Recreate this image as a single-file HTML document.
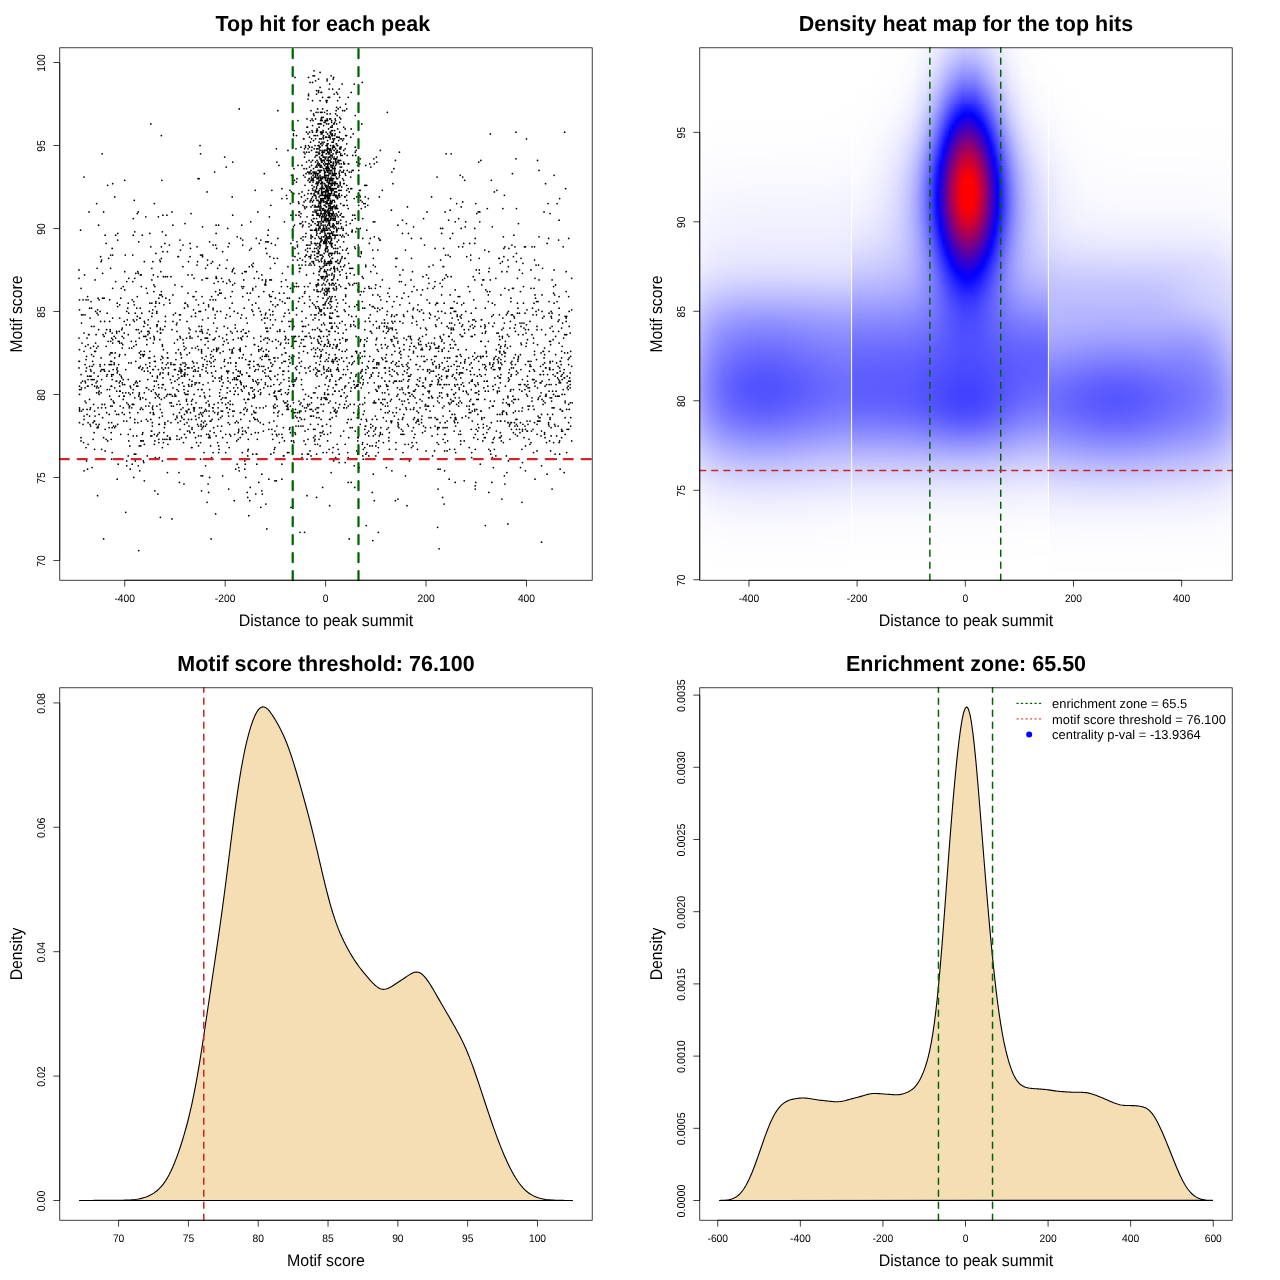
<!DOCTYPE html><html lang="en"><head><meta charset="utf-8"><title>Motif enrichment plots</title><style>html,body{margin:0;padding:0;background:#fff;width:1280px;height:1280px;overflow:hidden}#p{position:relative;width:1280px;height:1280px;overflow:hidden;background:#fff}.hm{position:absolute;overflow:hidden}.c{position:absolute;top:0;height:100%}.c i{display:block;height:2px}svg{position:absolute;left:0;top:0}text{font-family:'Liberation Sans', sans-serif;fill:#000;text-rendering:geometricPrecision}</style></head><body><div id="p"><div class="hm" style="left:699.76px;top:47.8px;width:532.44px;height:532.44px"><div class="c" style="left:0px;width:151.84px"><i></i><i></i><i></i><i></i><i></i><i></i><i></i><i></i><i></i><i></i><i></i><i></i><i></i><i></i><i></i><i></i><i></i><i></i><i></i><i></i><i></i><i></i><i></i><i></i><i></i><i style="background:linear-gradient(90deg,#fff,#fff,#fff,#fff,#fff,#fff,#fff,#fff,#fff,#fff,#fff,#fff,#fff,#fefeff)"></i><i style="background:linear-gradient(90deg,#fff,#fff,#fff,#fff,#fff,#fff,#fff,#fff,#fff,#fff,#fff,#fff,#fff,#fefeff)"></i><i style="background:linear-gradient(90deg,#fff,#fff,#fff,#fff,#fff,#fff,#fff,#fff,#fff,#fff,#fff,#fff,#fff,#fefeff)"></i><i style="background:linear-gradient(90deg,#fff,#fff,#fff,#fff,#fff,#fff,#fff,#fff,#fff,#fff,#fff,#fff,#fff,#fefeff)"></i><i style="background:linear-gradient(90deg,#fff,#fff,#fff,#fff,#fff,#fff,#fff,#fff,#fff,#fff,#fff,#fff,#fff,#fefeff)"></i><i style="background:linear-gradient(90deg,#fff,#fff,#fff,#fff,#fff,#fff,#fff,#fff,#fff,#fff,#fff,#fff,#fefeff,#fefeff)"></i><i style="background:linear-gradient(90deg,#fff,#fff,#fff,#fff,#fff,#fff,#fff,#fff,#fff,#fff,#fff,#fff,#fefeff,#fefeff)"></i><i style="background:linear-gradient(90deg,#fff,#fff,#fff,#fff,#fff,#fff,#fff,#fff,#fff,#fff,#fff,#fff,#fefeff,#fefeff)"></i><i style="background:linear-gradient(90deg,#fff,#fff,#fff,#fff,#fff,#fff,#fff,#fff,#fff,#fff,#fff,#fefeff,#fefeff,#fefeff)"></i><i style="background:linear-gradient(90deg,#fff,#fff,#fff,#fff,#fff,#fff,#fff,#fff,#fff,#fff,#fff,#fefeff,#fefeff,#fefeff)"></i><i style="background:linear-gradient(90deg,#fff,#fff,#fff,#fff,#fff,#fff,#fff,#fff,#fff,#fefeff,#fefeff,#fefeff,#fefeff,#fefeff)"></i><i style="background:linear-gradient(90deg,#fff,#fff,#fff,#fefeff,#fefeff,#fefeff,#fefeff,#fefeff,#fefeff,#fefeff,#fefeff,#fefeff,#fefeff,#fefeff)"></i><i style="background:linear-gradient(90deg,#fff,#fff,#fefeff,#fefeff,#fefeff,#fefeff,#fefeff,#fefeff,#fefeff,#fefeff,#fefeff,#fefeff,#fefeff,#fefeff)"></i><i style="background:linear-gradient(90deg,#fff,#fefeff,#fefeff,#fefeff,#fefeff,#fefeff,#fefeff,#fefeff,#fefeff,#fefeff,#fefeff,#fefeff,#fefeff,#fdfdff)"></i><i style="background:linear-gradient(90deg,#fff,#fefeff,#fefeff,#fefeff,#fefeff,#fefeff,#fefeff,#fefeff,#fefeff,#fefeff,#fefeff,#fefeff,#fefeff,#fdfdff)"></i><i style="background:linear-gradient(90deg,#fefeff,#fefeff,#fefeff,#fefeff,#fefeff,#fefeff,#fefeff,#fefeff,#fefeff,#fefeff,#fefeff,#fefeff,#fefeff,#fdfdff)"></i><i style="background:linear-gradient(90deg,#fefeff,#fefeff,#fefeff,#fefeff,#fefeff,#fefeff,#fefeff,#fefeff,#fefeff,#fefeff,#fefeff,#fefeff,#fefeff,#fdfdff)"></i><i style="background:linear-gradient(90deg,#fefeff,#fefeff,#fefeff,#fefeff,#fefeff,#fefeff,#fefeff,#fefeff,#fefeff,#fefeff,#fefeff,#fefeff,#fefeff,#fdfdff)"></i><i style="background:linear-gradient(90deg,#fefeff,#fefeff,#fefeff,#fefeff,#fefeff,#fefeff,#fefeff,#fefeff,#fefeff,#fefeff,#fefeff,#fefeff,#fdfdff,#fdfdff)"></i><i style="background:linear-gradient(90deg,#fefeff,#fefeff,#fefeff,#fefeff,#fefeff,#fefeff,#fefeff,#fefeff,#fefeff,#fefeff,#fefeff,#fefeff,#fdfdff,#fdfdff)"></i><i style="background:linear-gradient(90deg,#fefeff,#fefeff,#fefeff,#fefeff,#fefeff,#fefeff,#fefeff,#fefeff,#fefeff,#fefeff,#fefeff,#fdfdff,#fdfdff,#fcfcff)"></i><i style="background:linear-gradient(90deg,#fefeff,#fefeff,#fefeff,#fefeff,#fefeff,#fefeff,#fefeff,#fefeff,#fefeff,#fefeff,#fdfdff,#fdfdff,#fdfdff,#fcfcff)"></i><i style="background:linear-gradient(90deg,#fefeff,#fefeff,#fefeff,#fefeff,#fdfdff,#fdfdff,#fdfdff,#fdfdff,#fdfdff,#fdfdff,#fdfdff,#fdfdff,#fdfdff,#fcfcff)"></i><i style="background:linear-gradient(90deg,#fefeff,#fefeff,#fdfdff,#fdfdff,#fdfdff,#fdfdff,#fdfdff,#fdfdff,#fdfdff,#fdfdff,#fdfdff,#fdfdff,#fdfdff,#fcfcff)"></i><i style="background:linear-gradient(90deg,#fefeff,#fefeff,#fdfdff,#fdfdff,#fdfdff,#fdfdff,#fdfdff,#fdfdff,#fdfdff,#fdfdff,#fdfdff,#fdfdff,#fcfcff,#fcfcff)"></i><i style="background:linear-gradient(90deg,#fefeff,#fdfdff,#fdfdff,#fdfdff,#fdfdff,#fdfdff,#fdfdff,#fdfdff,#fdfdff,#fdfdff,#fdfdff,#fdfdff,#fcfcff,#fbfbff)"></i><i style="background:linear-gradient(90deg,#fefeff,#fdfdff,#fdfdff,#fdfdff,#fdfdff,#fdfdff,#fdfdff,#fdfdff,#fdfdff,#fdfdff,#fdfdff,#fdfdff,#fcfcff,#fbfbff)"></i><i style="background:linear-gradient(90deg,#fefeff,#fdfdff,#fdfdff,#fdfdff,#fdfdff,#fdfdff,#fdfdff,#fdfdff,#fdfdff,#fdfdff,#fdfdff,#fcfcff,#fcfcff,#fbfbff)"></i><i style="background:linear-gradient(90deg,#fdfdff,#fdfdff,#fdfdff,#fdfdff,#fdfdff,#fdfdff,#fdfdff,#fcfcff,#fcfcff,#fcfcff,#fcfcff,#fcfcff,#fcfcff,#fbfbff)"></i><i style="background:linear-gradient(90deg,#fdfdff,#fdfdff,#fdfdff,#fcfcff,#fcfcff,#fcfcff,#fcfcff,#fcfcff,#fcfcff,#fcfcff,#fcfcff,#fcfcff,#fbfbff,#fafaff)"></i><i style="background:linear-gradient(90deg,#fdfdff,#fdfdff,#fcfcff,#fcfcff,#fcfcff,#fcfcff,#fcfcff,#fcfcff,#fcfcff,#fcfcff,#fcfcff,#fcfcff,#fbfbff,#fafaff)"></i><i style="background:linear-gradient(90deg,#fdfdff,#fcfcff,#fcfcff,#fcfcff,#fcfcff,#fcfcff,#fcfcff,#fcfcff,#fcfcff,#fcfcff,#fcfcff,#fcfcff,#fbfbff,#fafaff)"></i><i style="background:linear-gradient(90deg,#fdfdff,#fcfcff,#fcfcff,#fcfcff,#fcfcff,#fcfcff,#fcfcff,#fcfcff,#fcfcff,#fcfcff,#fcfcff,#fbfbff,#fbfbff,#fafaff)"></i><i style="background:linear-gradient(90deg,#fdfdff,#fcfcff,#fcfcff,#fcfcff,#fbfbff,#fbfbff,#fbfbff,#fbfbff,#fbfbff,#fbfbff,#fbfbff,#fbfbff,#fafaff,#f9f9ff)"></i><i style="background:linear-gradient(90deg,#fdfdff,#fcfcff,#fbfbff,#fbfbff,#fbfbff,#fbfbff,#fbfbff,#fbfbff,#fbfbff,#fbfbff,#fbfbff,#fbfbff,#fafaff,#f9f9ff)"></i><i style="background:linear-gradient(90deg,#fcfcff,#fcfcff,#fbfbff,#fbfbff,#fbfbff,#fbfbff,#fbfbff,#fbfbff,#fbfbff,#fbfbff,#fbfbff,#fafaff,#fafaff,#f9f9ff)"></i><i style="background:linear-gradient(90deg,#fcfcff,#fbfbff,#fbfbff,#fbfbff,#fbfbff,#fbfbff,#fbfbff,#fbfbff,#fbfbff,#fbfbff,#fafaff,#fafaff,#fafaff,#f8f8ff)"></i><i style="background:linear-gradient(90deg,#fcfcff,#fbfbff,#fbfbff,#fbfbff,#fafaff,#fafaff,#fafaff,#fafaff,#fafaff,#fafaff,#fafaff,#fafaff,#f9f9ff,#f8f8ff)"></i><i style="background:linear-gradient(90deg,#fcfcff,#fbfbff,#fafaff,#fafaff,#fafaff,#fafaff,#fafaff,#fafaff,#fafaff,#fafaff,#fafaff,#fafaff,#f9f9ff,#f8f8ff)"></i><i style="background:linear-gradient(90deg,#fcfcff,#fbfbff,#fafaff,#fafaff,#fafaff,#fafaff,#fafaff,#fafaff,#fafaff,#fafaff,#fafaff,#f9f9ff,#f9f9ff,#f7f7ff)"></i><i style="background:linear-gradient(90deg,#fbfbff,#fafaff,#fafaff,#fafaff,#fafaff,#f9f9ff,#f9f9ff,#f9f9ff,#f9f9ff,#f9f9ff,#f9f9ff,#f9f9ff,#f8f8ff,#f7f7ff)"></i><i style="background:linear-gradient(90deg,#fbfbff,#fafaff,#fafaff,#f9f9ff,#f9f9ff,#f9f9ff,#f9f9ff,#f9f9ff,#f9f9ff,#f9f9ff,#f9f9ff,#f9f9ff,#f8f8ff,#f7f7ff)"></i><i style="background:linear-gradient(90deg,#fbfbff,#fafaff,#f9f9ff,#f9f9ff,#f9f9ff,#f9f9ff,#f9f9ff,#f9f9ff,#f9f9ff,#f9f9ff,#f9f9ff,#f8f8ff,#f8f8ff,#f6f6ff)"></i><i style="background:linear-gradient(90deg,#fbfbff,#fafaff,#f9f9ff,#f9f9ff,#f9f9ff,#f8f8ff,#f8f8ff,#f8f8ff,#f8f8ff,#f8f8ff,#f8f8ff,#f8f8ff,#f7f7ff,#f6f6ff)"></i><i style="background:linear-gradient(90deg,#fbfbff,#f9f9ff,#f9f9ff,#f8f8ff,#f8f8ff,#f8f8ff,#f8f8ff,#f8f8ff,#f8f8ff,#f8f8ff,#f8f8ff,#f8f8ff,#f7f7ff,#f5f5ff)"></i><i style="background:linear-gradient(90deg,#fafaff,#f9f9ff,#f8f8ff,#f8f8ff,#f8f8ff,#f8f8ff,#f8f8ff,#f8f8ff,#f8f8ff,#f8f8ff,#f8f8ff,#f7f7ff,#f7f7ff,#f5f5ff)"></i><i style="background:linear-gradient(90deg,#fafaff,#f9f9ff,#f8f8ff,#f8f8ff,#f7f7ff,#f7f7ff,#f7f7ff,#f7f7ff,#f7f7ff,#f7f7ff,#f7f7ff,#f7f7ff,#f6f6ff,#f5f5ff)"></i><i style="background:linear-gradient(90deg,#fafaff,#f8f8ff,#f8f8ff,#f7f7ff,#f7f7ff,#f7f7ff,#f7f7ff,#f7f7ff,#f7f7ff,#f7f7ff,#f7f7ff,#f6f6ff,#f6f6ff,#f4f4ff)"></i><i style="background:linear-gradient(90deg,#fafaff,#f8f8ff,#f7f7ff,#f7f7ff,#f7f7ff,#f7f7ff,#f7f7ff,#f7f7ff,#f7f7ff,#f7f7ff,#f6f6ff,#f6f6ff,#f5f5ff,#f4f4ff)"></i><i style="background:linear-gradient(90deg,#f9f9ff,#f8f8ff,#f7f7ff,#f7f7ff,#f6f6ff,#f6f6ff,#f6f6ff,#f6f6ff,#f6f6ff,#f6f6ff,#f6f6ff,#f6f6ff,#f5f5ff,#f4f4ff)"></i><i style="background:linear-gradient(90deg,#f9f9ff,#f8f8ff,#f7f7ff,#f6f6ff,#f6f6ff,#f6f6ff,#f6f6ff,#f6f6ff,#f6f6ff,#f6f6ff,#f6f6ff,#f5f5ff,#f5f5ff,#f3f3ff)"></i><i style="background:linear-gradient(90deg,#f9f9ff,#f7f7ff,#f6f6ff,#f6f6ff,#f6f6ff,#f6f6ff,#f5f5ff,#f5f5ff,#f5f5ff,#f5f5ff,#f5f5ff,#f5f5ff,#f4f4ff,#f3f3ff)"></i><i style="background:linear-gradient(90deg,#f9f9ff,#f7f7ff,#f6f6ff,#f5f5ff,#f5f5ff,#f5f5ff,#f5f5ff,#f5f5ff,#f5f5ff,#f5f5ff,#f5f5ff,#f5f5ff,#f4f4ff,#f2f2ff)"></i><i style="background:linear-gradient(90deg,#f8f8ff,#f7f7ff,#f6f6ff,#f5f5ff,#f5f5ff,#f5f5ff,#f5f5ff,#f5f5ff,#f5f5ff,#f5f5ff,#f4f4ff,#f4f4ff,#f3f3ff,#f2f2ff)"></i><i style="background:linear-gradient(90deg,#f8f8ff,#f6f6ff,#f5f5ff,#f5f5ff,#f4f4ff,#f4f4ff,#f4f4ff,#f4f4ff,#f4f4ff,#f4f4ff,#f4f4ff,#f4f4ff,#f3f3ff,#f2f2ff)"></i><i style="background:linear-gradient(90deg,#f8f8ff,#f6f6ff,#f5f5ff,#f4f4ff,#f4f4ff,#f4f4ff,#f4f4ff,#f4f4ff,#f4f4ff,#f4f4ff,#f4f4ff,#f3f3ff,#f3f3ff,#f1f1ff)"></i><i style="background:linear-gradient(90deg,#f8f8ff,#f6f6ff,#f4f4ff,#f4f4ff,#f4f4ff,#f4f4ff,#f3f3ff,#f3f3ff,#f3f3ff,#f3f3ff,#f3f3ff,#f3f3ff,#f2f2ff,#f1f1ff)"></i><i style="background:linear-gradient(90deg,#f7f7ff,#f5f5ff,#f4f4ff,#f3f3ff,#f3f3ff,#f3f3ff,#f3f3ff,#f3f3ff,#f3f3ff,#f3f3ff,#f3f3ff,#f3f3ff,#f2f2ff,#f0f0ff)"></i><i style="background:linear-gradient(90deg,#f7f7ff,#f5f5ff,#f4f4ff,#f3f3ff,#f3f3ff,#f3f3ff,#f3f3ff,#f3f3ff,#f3f3ff,#f3f3ff,#f3f3ff,#f2f2ff,#f2f2ff,#f0f0ff)"></i><i style="background:linear-gradient(90deg,#f7f7ff,#f5f5ff,#f3f3ff,#f3f3ff,#f2f2ff,#f2f2ff,#f2f2ff,#f2f2ff,#f2f2ff,#f2f2ff,#f2f2ff,#f2f2ff,#f1f1ff,#f0f0ff)"></i><i style="background:linear-gradient(90deg,#f7f7ff,#f4f4ff,#f3f3ff,#f2f2ff,#f2f2ff,#f2f2ff,#f2f2ff,#f2f2ff,#f2f2ff,#f2f2ff,#f2f2ff,#f1f1ff,#f1f1ff,#efefff)"></i><i style="background:linear-gradient(90deg,#f6f6ff,#f4f4ff,#f3f3ff,#f2f2ff,#f2f2ff,#f2f2ff,#f1f1ff,#f1f1ff,#f1f1ff,#f1f1ff,#f1f1ff,#f1f1ff,#f0f0ff,#efefff)"></i><i style="background:linear-gradient(90deg,#f6f6ff,#f4f4ff,#f2f2ff,#f2f2ff,#f1f1ff,#f1f1ff,#f1f1ff,#f1f1ff,#f1f1ff,#f1f1ff,#f1f1ff,#f1f1ff,#f0f0ff,#efefff)"></i><i style="background:linear-gradient(90deg,#f6f6ff,#f3f3ff,#f2f2ff,#f1f1ff,#f1f1ff,#f1f1ff,#f1f1ff,#f1f1ff,#f1f1ff,#f1f1ff,#f1f1ff,#f0f0ff,#f0f0ff,#eef)"></i><i style="background:linear-gradient(90deg,#f6f6ff,#f3f3ff,#f1f1ff,#f1f1ff,#f0f0ff,#f0f0ff,#f0f0ff,#f0f0ff,#f0f0ff,#f0f0ff,#f0f0ff,#f0f0ff,#efefff,#eef)"></i><i style="background:linear-gradient(90deg,#f5f5ff,#f3f3ff,#f1f1ff,#f0f0ff,#f0f0ff,#f0f0ff,#f0f0ff,#f0f0ff,#f0f0ff,#f0f0ff,#f0f0ff,#efefff,#efefff,#eef)"></i><i style="background:linear-gradient(90deg,#f5f5ff,#f2f2ff,#f1f1ff,#f0f0ff,#f0f0ff,#efefff,#efefff,#efefff,#efefff,#efefff,#efefff,#efefff,#eef,#ededff)"></i><i style="background:linear-gradient(90deg,#f5f5ff,#f2f2ff,#f0f0ff,#f0f0ff,#efefff,#efefff,#efefff,#efefff,#efefff,#efefff,#efefff,#efefff,#eef,#ededff)"></i><i style="background:linear-gradient(90deg,#f4f4ff,#f2f2ff,#f0f0ff,#efefff,#efefff,#efefff,#eef,#eef,#eef,#efefff,#eef,#eef,#eef,#ededff)"></i><i style="background:linear-gradient(90deg,#f4f4ff,#f1f1ff,#efefff,#efefff,#eef,#eef,#eef,#eef,#eef,#eef,#eef,#eef,#ededff,#ececff)"></i><i style="background:linear-gradient(90deg,#f4f4ff,#f1f1ff,#efefff,#eef,#eef,#eef,#eef,#eef,#eef,#eef,#eef,#ededff,#ededff,#ececff)"></i><i style="background:linear-gradient(90deg,#f4f4ff,#f0f0ff,#efefff,#eef,#ededff,#ededff,#ededff,#ededff,#ededff,#ededff,#ededff,#ededff,#ececff,#ebebff)"></i><i style="background:linear-gradient(90deg,#f3f3ff,#f0f0ff,#eef,#ededff,#ededff,#ececff,#ececff,#ececff,#ececff,#ededff,#ececff,#ececff,#ececff,#ebebff)"></i><i style="background:linear-gradient(90deg,#f3f3ff,#efefff,#eef,#ededff,#ececff,#ececff,#ececff,#ececff,#ececff,#ececff,#ececff,#ececff,#ebebff,#eaeaff)"></i><i style="background:linear-gradient(90deg,#f2f2ff,#efefff,#ededff,#ececff,#ebebff,#ebebff,#ebebff,#ebebff,#ebebff,#ebebff,#ebebff,#ebebff,#ebebff,#eaeaff)"></i><i style="background:linear-gradient(90deg,#f2f2ff,#eef,#ececff,#ebebff,#ebebff,#ebebff,#eaeaff,#ebebff,#ebebff,#ebebff,#ebebff,#ebebff,#eaeaff,#e9e9ff)"></i><i style="background:linear-gradient(90deg,#f2f2ff,#eef,#ececff,#ebebff,#eaeaff,#eaeaff,#eaeaff,#eaeaff,#eaeaff,#eaeaff,#eaeaff,#eaeaff,#e9e9ff,#e9e9ff)"></i><i style="background:linear-gradient(90deg,#f1f1ff,#ededff,#ebebff,#eaeaff,#e9e9ff,#e9e9ff,#e9e9ff,#e9e9ff,#e9e9ff,#e9e9ff,#e9e9ff,#e9e9ff,#e9e9ff,#e8e8ff)"></i><i style="background:linear-gradient(90deg,#f0f0ff,#ededff,#eaeaff,#e9e9ff,#e8e8ff,#e8e8ff,#e8e8ff,#e8e8ff,#e8e8ff,#e8e8ff,#e8e8ff,#e8e8ff,#e8e8ff,#e7e7ff)"></i><i style="background:linear-gradient(90deg,#f0f0ff,#ececff,#e9e9ff,#e8e8ff,#e7e7ff,#e7e7ff,#e7e7ff,#e7e7ff,#e7e7ff,#e7e7ff,#e7e7ff,#e7e7ff,#e7e7ff,#e6e6ff)"></i><i style="background:linear-gradient(90deg,#efefff,#ebebff,#e8e8ff,#e7e7ff,#e6e6ff,#e6e6ff,#e6e6ff,#e6e6ff,#e6e6ff,#e6e6ff,#e6e6ff,#e6e6ff,#e6e6ff,#e5e5ff)"></i><i style="background:linear-gradient(90deg,#efefff,#eaeaff,#e7e7ff,#e6e6ff,#e5e5ff,#e5e5ff,#e5e5ff,#e5e5ff,#e5e5ff,#e5e5ff,#e5e5ff,#e5e5ff,#e5e5ff,#e4e4ff)"></i><i style="background:linear-gradient(90deg,#eef,#e9e9ff,#e6e6ff,#e5e5ff,#e4e4ff,#e4e4ff,#e4e4ff,#e4e4ff,#e4e4ff,#e4e4ff,#e4e4ff,#e4e4ff,#e4e4ff,#e3e3ff)"></i><i style="background:linear-gradient(90deg,#ededff,#e8e8ff,#e5e5ff,#e3e3ff,#e3e3ff,#e2e2ff,#e2e2ff,#e2e2ff,#e2e2ff,#e3e3ff,#e3e3ff,#e3e3ff,#e3e3ff,#e2e2ff)"></i><i style="background:linear-gradient(90deg,#ececff,#e7e7ff,#e4e4ff,#e2e2ff,#e1e1ff,#e1e1ff,#e1e1ff,#e1e1ff,#e1e1ff,#e1e1ff,#e1e1ff,#e2e2ff,#e1e1ff,#e1e1ff)"></i><i style="background:linear-gradient(90deg,#ebebff,#e6e6ff,#e2e2ff,#e0e0ff,#e0e0ff,#dfdfff,#dfdfff,#dfdfff,#dfdfff,#e0e0ff,#e0e0ff,#e0e0ff,#e0e0ff,#dfdfff)"></i><i style="background:linear-gradient(90deg,#eaeaff,#e4e4ff,#e1e1ff,#dfdfff,#dedeff,#ddf,#ddf,#dedeff,#dedeff,#dedeff,#dedeff,#dedeff,#dedeff,#dedeff)"></i><i style="background:linear-gradient(90deg,#e9e9ff,#e3e3ff,#dfdfff,#ddf,#dcdcff,#dcdcff,#dcdcff,#dcdcff,#dcdcff,#dcdcff,#ddf,#ddf,#ddf,#dcdcff)"></i><i style="background:linear-gradient(90deg,#e8e8ff,#e1e1ff,#ddf,#dbdbff,#dadaff,#dadaff,#dadaff,#dadaff,#dadaff,#dadaff,#dbdbff,#dbdbff,#dbdbff,#dadaff)"></i><i style="background:linear-gradient(90deg,#e6e6ff,#e0e0ff,#dbdbff,#d9d9ff,#d8d8ff,#d8d8ff,#d7d7ff,#d8d8ff,#d8d8ff,#d8d8ff,#d9d9ff,#d9d9ff,#d9d9ff,#d9d9ff)"></i><i style="background:linear-gradient(90deg,#e5e5ff,#dedeff,#d9d9ff,#d7d7ff,#d6d6ff,#d5d5ff,#d5d5ff,#d5d5ff,#d6d6ff,#d6d6ff,#d6d6ff,#d7d7ff,#d7d7ff,#d7d7ff)"></i><i style="background:linear-gradient(90deg,#e4e4ff,#dcdcff,#d7d7ff,#d5d5ff,#d3d3ff,#d3d3ff,#d3d3ff,#d3d3ff,#d3d3ff,#d4d4ff,#d4d4ff,#d5d5ff,#d5d5ff,#d4d4ff)"></i><i style="background:linear-gradient(90deg,#e2e2ff,#dadaff,#d5d5ff,#d2d2ff,#d1d1ff,#d0d0ff,#d0d0ff,#d0d0ff,#d1d1ff,#d1d1ff,#d2d2ff,#d2d2ff,#d2d2ff,#d2d2ff)"></i><i style="background:linear-gradient(90deg,#e0e0ff,#d8d8ff,#d3d3ff,#d0d0ff,#ceceff,#ceceff,#ceceff,#ceceff,#ceceff,#cfcfff,#cfcfff,#d0d0ff,#d0d0ff,#d0d0ff)"></i><i style="background:linear-gradient(90deg,#dfdfff,#d6d6ff,#d0d0ff,#cdcdff,#ccf,#cbcbff,#cbcbff,#cbcbff,#ccf,#ccf,#cdcdff,#cdcdff,#cdcdff,#cdcdff)"></i><i style="background:linear-gradient(90deg,#ddf,#d4d4ff,#ceceff,#cacaff,#c9c9ff,#c8c8ff,#c8c8ff,#c8c8ff,#c9c9ff,#c9c9ff,#cacaff,#cacaff,#cbcbff,#cbcbff)"></i><i style="background:linear-gradient(90deg,#dbdbff,#d1d1ff,#cbcbff,#c8c8ff,#c6c6ff,#c5c5ff,#c5c5ff,#c5c5ff,#c6c6ff,#c6c6ff,#c7c7ff,#c8c8ff,#c8c8ff,#c8c8ff)"></i><i style="background:linear-gradient(90deg,#d9d9ff,#cfcfff,#c8c8ff,#c5c5ff,#c3c3ff,#c2c2ff,#c2c2ff,#c2c2ff,#c3c3ff,#c3c3ff,#c4c4ff,#c5c5ff,#c5c5ff,#c5c5ff)"></i><i style="background:linear-gradient(90deg,#d8d8ff,#ccf,#c5c5ff,#c2c2ff,#c0c0ff,#bfbfff,#bfbfff,#bfbfff,#c0c0ff,#c0c0ff,#c1c1ff,#c2c2ff,#c2c2ff,#c2c2ff)"></i><i style="background:linear-gradient(90deg,#d6d6ff,#cacaff,#c3c3ff,#bebeff,#bcbcff,#bbf,#bbf,#bcbcff,#bcbcff,#bdbdff,#bebeff,#bfbfff,#bfbfff,#c0c0ff)"></i><i style="background:linear-gradient(90deg,#d4d4ff,#c7c7ff,#c0c0ff,#bbf,#b9b9ff,#b8b8ff,#b8b8ff,#b8b8ff,#b9b9ff,#babaff,#bbf,#bcbcff,#bcbcff,#bdbdff)"></i><i style="background:linear-gradient(90deg,#d2d2ff,#c5c5ff,#bdbdff,#b8b8ff,#b6b6ff,#b5b5ff,#b5b5ff,#b5b5ff,#b6b6ff,#b7b7ff,#b8b8ff,#b9b9ff,#b9b9ff,#babaff)"></i><i style="background:linear-gradient(90deg,#d0d0ff,#c2c2ff,#babaff,#b5b5ff,#b2b2ff,#b1b1ff,#b1b1ff,#b2b2ff,#b3b3ff,#b4b4ff,#b5b5ff,#b6b6ff,#b6b6ff,#b7b7ff)"></i><i style="background:linear-gradient(90deg,#ceceff,#c0c0ff,#b7b7ff,#b2b2ff,#afafff,#aeaeff,#aeaeff,#aeaeff,#afafff,#b1b1ff,#b2b2ff,#b3b3ff,#b3b3ff,#b4b4ff)"></i><i style="background:linear-gradient(90deg,#ccf,#bdbdff,#b4b4ff,#afafff,#acacff,#aaf,#aaf,#ababff,#acacff,#adadff,#afafff,#b0b0ff,#b0b0ff,#b1b1ff)"></i><i style="background:linear-gradient(90deg,#cacaff,#babaff,#b1b1ff,#ababff,#a8a8ff,#a7a7ff,#a7a7ff,#a8a8ff,#a9a9ff,#aaf,#acacff,#adadff,#adadff,#aeaeff)"></i><i style="background:linear-gradient(90deg,#c8c8ff,#b8b8ff,#aeaeff,#a8a8ff,#a5a5ff,#a4a4ff,#a3a3ff,#a4a4ff,#a5a5ff,#a7a7ff,#a8a8ff,#aaf,#ababff,#ababff)"></i><i style="background:linear-gradient(90deg,#c6c6ff,#b5b5ff,#ababff,#a5a5ff,#a2a2ff,#a0a0ff,#a0a0ff,#a1a1ff,#a2a2ff,#a4a4ff,#a5a5ff,#a7a7ff,#a8a8ff,#a8a8ff)"></i><i style="background:linear-gradient(90deg,#c4c4ff,#b3b3ff,#a8a8ff,#a2a2ff,#9f9fff,#9d9dff,#9d9dff,#9e9eff,#9f9fff,#a1a1ff,#a2a2ff,#a4a4ff,#a5a5ff,#a5a5ff)"></i><i style="background:linear-gradient(90deg,#c2c2ff,#b1b1ff,#a5a5ff,#9f9fff,#9b9bff,#9a9aff,#99f,#9a9aff,#9c9cff,#9e9eff,#a0a0ff,#a1a1ff,#a2a2ff,#a3a3ff)"></i><i style="background:linear-gradient(90deg,#c0c0ff,#aeaeff,#a3a3ff,#9c9cff,#9898ff,#9696ff,#9696ff,#9797ff,#99f,#9b9bff,#9d9dff,#9e9eff,#9f9fff,#a0a0ff)"></i><i style="background:linear-gradient(90deg,#bfbfff,#acacff,#a0a0ff,#99f,#9595ff,#9393ff,#9393ff,#9494ff,#9696ff,#9898ff,#9a9aff,#9c9cff,#9d9dff,#9e9eff)"></i><i style="background:linear-gradient(90deg,#bdbdff,#aaf,#9d9dff,#9696ff,#9292ff,#9090ff,#9090ff,#9191ff,#9393ff,#9595ff,#9797ff,#99f,#9a9aff,#9b9bff)"></i><i style="background:linear-gradient(90deg,#bbf,#a7a7ff,#9b9bff,#9393ff,#8f8fff,#8d8dff,#8d8dff,#8e8eff,#9090ff,#9292ff,#9595ff,#9696ff,#9898ff,#99f)"></i><i style="background:linear-gradient(90deg,#babaff,#a5a5ff,#9898ff,#9191ff,#8c8cff,#8a8aff,#8a8aff,#8b8bff,#8d8dff,#9090ff,#9292ff,#9494ff,#9696ff,#9696ff)"></i><i style="background:linear-gradient(90deg,#b8b8ff,#a3a3ff,#9696ff,#8e8eff,#8a8aff,#8787ff,#8787ff,#88f,#8b8bff,#8d8dff,#9090ff,#9292ff,#9393ff,#9494ff)"></i><i style="background:linear-gradient(90deg,#b7b7ff,#a1a1ff,#9494ff,#8b8bff,#8787ff,#8585ff,#8484ff,#8686ff,#88f,#8b8bff,#8d8dff,#9090ff,#9191ff,#9292ff)"></i><i style="background:linear-gradient(90deg,#b5b5ff,#a0a0ff,#9191ff,#8989ff,#8484ff,#8282ff,#8282ff,#8383ff,#8585ff,#88f,#8b8bff,#8d8dff,#8f8fff,#9090ff)"></i><i style="background:linear-gradient(90deg,#b4b4ff,#9e9eff,#8f8fff,#8686ff,#8282ff,#7f7fff,#7f7fff,#8181ff,#8383ff,#8686ff,#8989ff,#8b8bff,#8d8dff,#8e8eff)"></i><i style="background:linear-gradient(90deg,#b3b3ff,#9c9cff,#8d8dff,#8484ff,#7f7fff,#7d7dff,#7d7dff,#7e7eff,#8181ff,#8484ff,#8787ff,#8989ff,#8b8bff,#8c8cff)"></i><i style="background:linear-gradient(90deg,#b1b1ff,#9a9aff,#8b8bff,#8282ff,#7d7dff,#7a7aff,#7a7aff,#7c7cff,#7e7eff,#8282ff,#8585ff,#8787ff,#8989ff,#8b8bff)"></i><i style="background:linear-gradient(90deg,#b0b0ff,#99f,#8989ff,#8080ff,#7a7aff,#7878ff,#7878ff,#7979ff,#7c7cff,#7f7fff,#8383ff,#8585ff,#8787ff,#8989ff)"></i><i style="background:linear-gradient(90deg,#afafff,#9797ff,#8787ff,#7d7dff,#7878ff,#7575ff,#7575ff,#77f,#7a7aff,#7d7dff,#8181ff,#8484ff,#8686ff,#8787ff)"></i><i style="background:linear-gradient(90deg,#aeaeff,#9595ff,#8585ff,#7b7bff,#7676ff,#7373ff,#7373ff,#7575ff,#7878ff,#7b7bff,#7f7fff,#8282ff,#8484ff,#8686ff)"></i><i style="background:linear-gradient(90deg,#adadff,#9494ff,#8383ff,#7979ff,#7373ff,#7171ff,#7171ff,#7272ff,#7676ff,#7979ff,#7d7dff,#8080ff,#8282ff,#8484ff)"></i><i style="background:linear-gradient(90deg,#ababff,#9292ff,#8282ff,#77f,#7171ff,#6e6eff,#6e6eff,#7070ff,#7474ff,#77f,#7b7bff,#7e7eff,#8181ff,#8282ff)"></i><i style="background:linear-gradient(90deg,#aaf,#9191ff,#8080ff,#7575ff,#6f6fff,#6c6cff,#6c6cff,#6e6eff,#7171ff,#7676ff,#7a7aff,#7d7dff,#7f7fff,#8181ff)"></i><i style="background:linear-gradient(90deg,#a9a9ff,#8f8fff,#7e7eff,#7373ff,#6d6dff,#6a6aff,#6a6aff,#6c6cff,#7070ff,#7474ff,#7878ff,#7b7bff,#7e7eff,#7f7fff)"></i><i style="background:linear-gradient(90deg,#a8a8ff,#8e8eff,#7c7cff,#7171ff,#6b6bff,#6868ff,#6868ff,#6a6aff,#6e6eff,#7272ff,#7676ff,#7a7aff,#7c7cff,#7e7eff)"></i><i style="background:linear-gradient(90deg,#a7a7ff,#8d8dff,#7b7bff,#7070ff,#6969ff,#66f,#66f,#6868ff,#6c6cff,#7070ff,#7575ff,#7878ff,#7b7bff,#7d7dff)"></i><i style="background:linear-gradient(90deg,#a6a6ff,#8b8bff,#7979ff,#6e6eff,#6767ff,#6464ff,#6464ff,#66f,#6a6aff,#6e6eff,#7373ff,#77f,#7979ff,#7b7bff)"></i><i style="background:linear-gradient(90deg,#a5a5ff,#8a8aff,#7878ff,#6c6cff,#6565ff,#6262ff,#6262ff,#6464ff,#6868ff,#6d6dff,#7171ff,#7575ff,#7878ff,#7a7aff)"></i><i style="background:linear-gradient(90deg,#a4a4ff,#8989ff,#7676ff,#6a6aff,#6363ff,#6060ff,#6060ff,#6262ff,#66f,#6b6bff,#7070ff,#7474ff,#77f,#7979ff)"></i><i style="background:linear-gradient(90deg,#a4a4ff,#88f,#7575ff,#6969ff,#6262ff,#5e5eff,#5e5eff,#6161ff,#6565ff,#6a6aff,#6e6eff,#7373ff,#7575ff,#77f)"></i><i style="background:linear-gradient(90deg,#a3a3ff,#8787ff,#7373ff,#6767ff,#6060ff,#5d5dff,#5c5cff,#5f5fff,#6363ff,#6868ff,#6d6dff,#7171ff,#7474ff,#7676ff)"></i><i style="background:linear-gradient(90deg,#a2a2ff,#8585ff,#7272ff,#66f,#5e5eff,#5b5bff,#5b5bff,#5d5dff,#6262ff,#6767ff,#6c6cff,#7070ff,#7373ff,#7575ff)"></i><i style="background:linear-gradient(90deg,#a1a1ff,#8484ff,#7171ff,#6464ff,#5d5dff,#5959ff,#5959ff,#5c5cff,#6060ff,#66f,#6b6bff,#6f6fff,#7272ff,#7474ff)"></i><i style="background:linear-gradient(90deg,#a1a1ff,#8383ff,#7070ff,#6363ff,#5c5cff,#5858ff,#5858ff,#5a5aff,#5f5fff,#6464ff,#6a6aff,#6e6eff,#7171ff,#7373ff)"></i><i style="background:linear-gradient(90deg,#a0a0ff,#8383ff,#6f6fff,#6262ff,#5a5aff,#5757ff,#5757ff,#5959ff,#5e5eff,#6363ff,#6969ff,#6d6dff,#7070ff,#7272ff)"></i><i style="background:linear-gradient(90deg,#9f9fff,#8282ff,#6e6eff,#6161ff,#5959ff,#5656ff,#55f,#5858ff,#5d5dff,#6262ff,#6868ff,#6c6cff,#6f6fff,#7272ff)"></i><i style="background:linear-gradient(90deg,#9f9fff,#8181ff,#6d6dff,#6060ff,#5858ff,#55f,#55f,#5757ff,#5c5cff,#6161ff,#6767ff,#6b6bff,#6f6fff,#7171ff)"></i><i style="background:linear-gradient(90deg,#9e9eff,#8181ff,#6c6cff,#5f5fff,#5858ff,#5454ff,#5454ff,#5656ff,#5b5bff,#6161ff,#66f,#6b6bff,#6e6eff,#7070ff)"></i><i style="background:linear-gradient(90deg,#9e9eff,#8080ff,#6c6cff,#5f5fff,#5757ff,#5353ff,#5353ff,#5656ff,#5b5bff,#6060ff,#66f,#6a6aff,#6e6eff,#7070ff)"></i><i style="background:linear-gradient(90deg,#9e9eff,#8080ff,#6b6bff,#5e5eff,#5656ff,#5353ff,#5353ff,#55f,#5a5aff,#6060ff,#6565ff,#6a6aff,#6d6dff,#7070ff)"></i><i style="background:linear-gradient(90deg,#9e9eff,#8080ff,#6b6bff,#5e5eff,#5656ff,#5353ff,#5252ff,#55f,#5a5aff,#6060ff,#6565ff,#6a6aff,#6d6dff,#7070ff)"></i><i style="background:linear-gradient(90deg,#9e9eff,#8080ff,#6b6bff,#5e5eff,#5656ff,#5252ff,#5252ff,#55f,#5a5aff,#6060ff,#6565ff,#6a6aff,#6d6dff,#7070ff)"></i><i style="background:linear-gradient(90deg,#9e9eff,#8080ff,#6b6bff,#5e5eff,#5656ff,#5353ff,#5252ff,#55f,#5a5aff,#6060ff,#6565ff,#6a6aff,#6e6eff,#7070ff)"></i><i style="background:linear-gradient(90deg,#9e9eff,#8080ff,#6c6cff,#5f5fff,#5757ff,#5353ff,#5353ff,#5656ff,#5b5bff,#6060ff,#66f,#6a6aff,#6e6eff,#7070ff)"></i><i style="background:linear-gradient(90deg,#9f9fff,#8181ff,#6c6cff,#5f5fff,#5757ff,#5454ff,#5353ff,#5656ff,#5b5bff,#6161ff,#66f,#6b6bff,#6e6eff,#7171ff)"></i><i style="background:linear-gradient(90deg,#9f9fff,#8181ff,#6d6dff,#6060ff,#5858ff,#5454ff,#5454ff,#5757ff,#5c5cff,#6262ff,#6767ff,#6c6cff,#6f6fff,#7171ff)"></i><i style="background:linear-gradient(90deg,#a0a0ff,#8282ff,#6e6eff,#6161ff,#5959ff,#55f,#55f,#5858ff,#5d5dff,#6363ff,#6868ff,#6d6dff,#7070ff,#7272ff)"></i><i style="background:linear-gradient(90deg,#a0a0ff,#8383ff,#6f6fff,#6262ff,#5a5aff,#5757ff,#5656ff,#5959ff,#5e5eff,#6464ff,#6969ff,#6e6eff,#7171ff,#7373ff)"></i><i style="background:linear-gradient(90deg,#a1a1ff,#8484ff,#7070ff,#6363ff,#5c5cff,#5858ff,#5858ff,#5b5bff,#5f5fff,#6565ff,#6a6aff,#6f6fff,#7272ff,#7575ff)"></i><i style="background:linear-gradient(90deg,#a2a2ff,#8585ff,#7171ff,#6565ff,#5d5dff,#5a5aff,#5959ff,#5c5cff,#6161ff,#66f,#6c6cff,#7070ff,#7474ff,#7676ff)"></i><i style="background:linear-gradient(90deg,#a3a3ff,#8787ff,#7373ff,#66f,#5f5fff,#5b5bff,#5b5bff,#5e5eff,#6363ff,#6868ff,#6d6dff,#7272ff,#7575ff,#77f)"></i><i style="background:linear-gradient(90deg,#a4a4ff,#88f,#7575ff,#6868ff,#6161ff,#5d5dff,#5d5dff,#6060ff,#6565ff,#6a6aff,#6f6fff,#7474ff,#77f,#7979ff)"></i><i style="background:linear-gradient(90deg,#a6a6ff,#8a8aff,#77f,#6a6aff,#6363ff,#6060ff,#5f5fff,#6262ff,#6767ff,#6c6cff,#7171ff,#7676ff,#7979ff,#7b7bff)"></i><i style="background:linear-gradient(90deg,#a7a7ff,#8c8cff,#7979ff,#6d6dff,#6565ff,#6262ff,#6262ff,#6464ff,#6969ff,#6e6eff,#7373ff,#7878ff,#7b7bff,#7d7dff)"></i><i style="background:linear-gradient(90deg,#a8a8ff,#8d8dff,#7b7bff,#6f6fff,#6868ff,#6565ff,#6464ff,#6767ff,#6b6bff,#7171ff,#7676ff,#7a7aff,#7d7dff,#7f7fff)"></i><i style="background:linear-gradient(90deg,#aaf,#9090ff,#7d7dff,#7272ff,#6b6bff,#6767ff,#6767ff,#6a6aff,#6e6eff,#7373ff,#7878ff,#7c7cff,#7f7fff,#8181ff)"></i><i style="background:linear-gradient(90deg,#acacff,#9292ff,#8080ff,#7474ff,#6d6dff,#6a6aff,#6a6aff,#6d6dff,#7171ff,#7676ff,#7b7bff,#7f7fff,#8282ff,#8484ff)"></i><i style="background:linear-gradient(90deg,#adadff,#9494ff,#8282ff,#77f,#7070ff,#6d6dff,#6d6dff,#7070ff,#7474ff,#7979ff,#7d7dff,#8181ff,#8484ff,#8686ff)"></i><i style="background:linear-gradient(90deg,#afafff,#9696ff,#8585ff,#7a7aff,#7474ff,#7070ff,#7070ff,#7373ff,#77f,#7c7cff,#8080ff,#8484ff,#8787ff,#8989ff)"></i><i style="background:linear-gradient(90deg,#b1b1ff,#99f,#88f,#7d7dff,#77f,#7474ff,#7474ff,#7676ff,#7a7aff,#7f7fff,#8383ff,#8787ff,#8a8aff,#8c8cff)"></i><i style="background:linear-gradient(90deg,#b3b3ff,#9b9bff,#8b8bff,#8080ff,#7a7aff,#77f,#77f,#7979ff,#7d7dff,#8282ff,#8686ff,#8a8aff,#8d8dff,#8f8fff)"></i><i style="background:linear-gradient(90deg,#b5b5ff,#9e9eff,#8e8eff,#8484ff,#7e7eff,#7b7bff,#7b7bff,#7d7dff,#8181ff,#8585ff,#8a8aff,#8d8dff,#9090ff,#9292ff)"></i><i style="background:linear-gradient(90deg,#b7b7ff,#a1a1ff,#9191ff,#8787ff,#8181ff,#7f7fff,#7e7eff,#8181ff,#8484ff,#8989ff,#8d8dff,#9090ff,#9393ff,#9595ff)"></i><i style="background:linear-gradient(90deg,#b9b9ff,#a3a3ff,#9494ff,#8b8bff,#8585ff,#8282ff,#8282ff,#8484ff,#88f,#8c8cff,#9090ff,#9494ff,#9696ff,#9898ff)"></i><i style="background:linear-gradient(90deg,#bbf,#a6a6ff,#9898ff,#8e8eff,#8989ff,#8686ff,#8686ff,#88f,#8b8bff,#9090ff,#9494ff,#9797ff,#99f,#9b9bff)"></i><i style="background:linear-gradient(90deg,#bdbdff,#a9a9ff,#9b9bff,#9292ff,#8c8cff,#8a8aff,#8a8aff,#8c8cff,#8f8fff,#9393ff,#9797ff,#9a9aff,#9d9dff,#9e9eff)"></i><i style="background:linear-gradient(90deg,#bfbfff,#acacff,#9e9eff,#9696ff,#9090ff,#8e8eff,#8e8eff,#9090ff,#9393ff,#9797ff,#9a9aff,#9e9eff,#a0a0ff,#a1a1ff)"></i><i style="background:linear-gradient(90deg,#c2c2ff,#afafff,#a2a2ff,#99f,#9494ff,#9292ff,#9292ff,#9393ff,#9797ff,#9a9aff,#9e9eff,#a1a1ff,#a3a3ff,#a5a5ff)"></i><i style="background:linear-gradient(90deg,#c4c4ff,#b2b2ff,#a5a5ff,#9d9dff,#9898ff,#9696ff,#9696ff,#9797ff,#9a9aff,#9e9eff,#a1a1ff,#a4a4ff,#a6a6ff,#a8a8ff)"></i><i style="background:linear-gradient(90deg,#c6c6ff,#b5b5ff,#a8a8ff,#a1a1ff,#9c9cff,#9a9aff,#9a9aff,#9b9bff,#9e9eff,#a2a2ff,#a5a5ff,#a8a8ff,#aaf,#ababff)"></i><i style="background:linear-gradient(90deg,#c8c8ff,#b7b7ff,#acacff,#a4a4ff,#a0a0ff,#9e9eff,#9e9eff,#9f9fff,#a2a2ff,#a5a5ff,#a8a8ff,#ababff,#adadff,#aeaeff)"></i><i style="background:linear-gradient(90deg,#cbcbff,#babaff,#afafff,#a8a8ff,#a4a4ff,#a2a2ff,#a1a1ff,#a3a3ff,#a6a6ff,#a9a9ff,#acacff,#afafff,#b0b0ff,#b2b2ff)"></i><i style="background:linear-gradient(90deg,#cdcdff,#bdbdff,#b2b2ff,#acacff,#a7a7ff,#a5a5ff,#a5a5ff,#a7a7ff,#a9a9ff,#adadff,#afafff,#b2b2ff,#b4b4ff,#b5b5ff)"></i><i style="background:linear-gradient(90deg,#cfcfff,#c0c0ff,#b6b6ff,#afafff,#ababff,#a9a9ff,#a9a9ff,#ababff,#adadff,#b0b0ff,#b3b3ff,#b5b5ff,#b7b7ff,#b8b8ff)"></i><i style="background:linear-gradient(90deg,#d1d1ff,#c3c3ff,#b9b9ff,#b3b3ff,#afafff,#adadff,#adadff,#aeaeff,#b1b1ff,#b4b4ff,#b6b6ff,#b9b9ff,#babaff,#bbf)"></i><i style="background:linear-gradient(90deg,#d3d3ff,#c6c6ff,#bcbcff,#b6b6ff,#b3b3ff,#b1b1ff,#b1b1ff,#b2b2ff,#b4b4ff,#b7b7ff,#babaff,#bcbcff,#bdbdff,#bebeff)"></i><i style="background:linear-gradient(90deg,#d5d5ff,#c8c8ff,#bfbfff,#babaff,#b6b6ff,#b5b5ff,#b5b5ff,#b6b6ff,#b8b8ff,#babaff,#bdbdff,#bfbfff,#c0c0ff,#c1c1ff)"></i><i style="background:linear-gradient(90deg,#d7d7ff,#cbcbff,#c3c3ff,#bdbdff,#babaff,#b8b8ff,#b8b8ff,#b9b9ff,#bbf,#bebeff,#c0c0ff,#c2c2ff,#c4c4ff,#c4c4ff)"></i><i style="background:linear-gradient(90deg,#d9d9ff,#ceceff,#c6c6ff,#c0c0ff,#bdbdff,#bcbcff,#bcbcff,#bdbdff,#bfbfff,#c1c1ff,#c3c3ff,#c5c5ff,#c7c7ff,#c7c7ff)"></i><i style="background:linear-gradient(90deg,#dbdbff,#d0d0ff,#c9c9ff,#c4c4ff,#c1c1ff,#bfbfff,#bfbfff,#c0c0ff,#c2c2ff,#c4c4ff,#c6c6ff,#c8c8ff,#c9c9ff,#cacaff)"></i><i style="background:linear-gradient(90deg,#ddf,#d3d3ff,#cbcbff,#c7c7ff,#c4c4ff,#c3c3ff,#c3c3ff,#c4c4ff,#c5c5ff,#c7c7ff,#c9c9ff,#cbcbff,#ccf,#cdcdff)"></i><i style="background:linear-gradient(90deg,#dfdfff,#d5d5ff,#ceceff,#cacaff,#c7c7ff,#c6c6ff,#c6c6ff,#c7c7ff,#c9c9ff,#cacaff,#ccf,#ceceff,#cfcfff,#d0d0ff)"></i><i style="background:linear-gradient(90deg,#e1e1ff,#d7d7ff,#d1d1ff,#cdcdff,#cacaff,#c9c9ff,#c9c9ff,#cacaff,#ccf,#cdcdff,#cfcfff,#d1d1ff,#d2d2ff,#d2d2ff)"></i><i style="background:linear-gradient(90deg,#e3e3ff,#dadaff,#d4d4ff,#d0d0ff,#cdcdff,#ccf,#ccf,#cdcdff,#cfcfff,#d0d0ff,#d2d2ff,#d3d3ff,#d4d4ff,#d5d5ff)"></i><i style="background:linear-gradient(90deg,#e4e4ff,#dcdcff,#d6d6ff,#d2d2ff,#d0d0ff,#cfcfff,#cfcfff,#d0d0ff,#d1d1ff,#d3d3ff,#d5d5ff,#d6d6ff,#d7d7ff,#d7d7ff)"></i><i style="background:linear-gradient(90deg,#e6e6ff,#dedeff,#d9d9ff,#d5d5ff,#d3d3ff,#d2d2ff,#d2d2ff,#d3d3ff,#d4d4ff,#d6d6ff,#d7d7ff,#d8d8ff,#d9d9ff,#dadaff)"></i><i style="background:linear-gradient(90deg,#e7e7ff,#e0e0ff,#dbdbff,#d8d8ff,#d6d6ff,#d5d5ff,#d5d5ff,#d6d6ff,#d7d7ff,#d8d8ff,#dadaff,#dbdbff,#dcdcff,#dcdcff)"></i><i style="background:linear-gradient(90deg,#e9e9ff,#e2e2ff,#ddf,#dadaff,#d8d8ff,#d8d8ff,#d7d7ff,#d8d8ff,#d9d9ff,#dbdbff,#dcdcff,#ddf,#dedeff,#dedeff)"></i><i style="background:linear-gradient(90deg,#eaeaff,#e4e4ff,#dfdfff,#ddf,#dbdbff,#dadaff,#dadaff,#dbdbff,#dcdcff,#ddf,#dedeff,#dfdfff,#e0e0ff,#e0e0ff)"></i><i style="background:linear-gradient(90deg,#ececff,#e6e6ff,#e1e1ff,#dfdfff,#ddf,#dcdcff,#dcdcff,#ddf,#dedeff,#dfdfff,#e0e0ff,#e1e1ff,#e2e2ff,#e2e2ff)"></i><i style="background:linear-gradient(90deg,#ededff,#e7e7ff,#e3e3ff,#e1e1ff,#e0e0ff,#dfdfff,#dfdfff,#dfdfff,#e0e0ff,#e1e1ff,#e2e2ff,#e3e3ff,#e4e4ff,#e4e4ff)"></i><i style="background:linear-gradient(90deg,#eef,#e9e9ff,#e5e5ff,#e3e3ff,#e2e2ff,#e1e1ff,#e1e1ff,#e1e1ff,#e2e2ff,#e3e3ff,#e4e4ff,#e5e5ff,#e6e6ff,#e6e6ff)"></i><i style="background:linear-gradient(90deg,#efefff,#eaeaff,#e7e7ff,#e5e5ff,#e4e4ff,#e3e3ff,#e3e3ff,#e4e4ff,#e4e4ff,#e5e5ff,#e6e6ff,#e7e7ff,#e8e8ff,#e8e8ff)"></i><i style="background:linear-gradient(90deg,#f0f0ff,#ececff,#e9e9ff,#e7e7ff,#e6e6ff,#e5e5ff,#e5e5ff,#e5e5ff,#e6e6ff,#e7e7ff,#e8e8ff,#e9e9ff,#e9e9ff,#eaeaff)"></i><i style="background:linear-gradient(90deg,#f2f2ff,#ededff,#eaeaff,#e9e9ff,#e7e7ff,#e7e7ff,#e7e7ff,#e7e7ff,#e8e8ff,#e9e9ff,#eaeaff,#eaeaff,#ebebff,#ebebff)"></i><i style="background:linear-gradient(90deg,#f3f3ff,#efefff,#ececff,#eaeaff,#e9e9ff,#e9e9ff,#e9e9ff,#e9e9ff,#eaeaff,#eaeaff,#ebebff,#ececff,#ececff,#ededff)"></i><i style="background:linear-gradient(90deg,#f3f3ff,#f0f0ff,#ededff,#ececff,#ebebff,#eaeaff,#eaeaff,#ebebff,#ebebff,#ececff,#ededff,#ededff,#eef,#eef)"></i><i style="background:linear-gradient(90deg,#f4f4ff,#f1f1ff,#efefff,#ededff,#ececff,#ececff,#ececff,#ececff,#ededff,#ededff,#eef,#efefff,#efefff,#efefff)"></i><i style="background:linear-gradient(90deg,#f5f5ff,#f2f2ff,#f0f0ff,#efefff,#eef,#ededff,#ededff,#eef,#eef,#efefff,#efefff,#f0f0ff,#f0f0ff,#f0f0ff)"></i><i style="background:linear-gradient(90deg,#f6f6ff,#f3f3ff,#f1f1ff,#f0f0ff,#efefff,#efefff,#efefff,#efefff,#f0f0ff,#f0f0ff,#f1f1ff,#f1f1ff,#f1f1ff,#f2f2ff)"></i><i style="background:linear-gradient(90deg,#f7f7ff,#f4f4ff,#f2f2ff,#f1f1ff,#f0f0ff,#f0f0ff,#f0f0ff,#f0f0ff,#f1f1ff,#f1f1ff,#f2f2ff,#f2f2ff,#f3f3ff,#f3f3ff)"></i><i style="background:linear-gradient(90deg,#f7f7ff,#f5f5ff,#f3f3ff,#f2f2ff,#f2f2ff,#f1f1ff,#f1f1ff,#f2f2ff,#f2f2ff,#f2f2ff,#f3f3ff,#f3f3ff,#f4f4ff,#f4f4ff)"></i><i style="background:linear-gradient(90deg,#f8f8ff,#f6f6ff,#f4f4ff,#f3f3ff,#f3f3ff,#f3f3ff,#f3f3ff,#f3f3ff,#f3f3ff,#f4f4ff,#f4f4ff,#f4f4ff,#f5f5ff,#f5f5ff)"></i><i style="background:linear-gradient(90deg,#f9f9ff,#f7f7ff,#f5f5ff,#f4f4ff,#f4f4ff,#f4f4ff,#f4f4ff,#f4f4ff,#f4f4ff,#f4f4ff,#f5f5ff,#f5f5ff,#f5f5ff,#f6f6ff)"></i><i style="background:linear-gradient(90deg,#f9f9ff,#f7f7ff,#f6f6ff,#f5f5ff,#f5f5ff,#f5f5ff,#f5f5ff,#f5f5ff,#f5f5ff,#f5f5ff,#f6f6ff,#f6f6ff,#f6f6ff,#f6f6ff)"></i><i style="background:linear-gradient(90deg,#fafaff,#f8f8ff,#f7f7ff,#f6f6ff,#f6f6ff,#f5f5ff,#f5f5ff,#f6f6ff,#f6f6ff,#f6f6ff,#f7f7ff,#f7f7ff,#f7f7ff,#f7f7ff)"></i><i style="background:linear-gradient(90deg,#fafaff,#f9f9ff,#f8f8ff,#f7f7ff,#f7f7ff,#f6f6ff,#f6f6ff,#f6f6ff,#f7f7ff,#f7f7ff,#f7f7ff,#f8f8ff,#f8f8ff,#f8f8ff)"></i><i style="background:linear-gradient(90deg,#fbfbff,#f9f9ff,#f8f8ff,#f8f8ff,#f7f7ff,#f7f7ff,#f7f7ff,#f7f7ff,#f7f7ff,#f8f8ff,#f8f8ff,#f8f8ff,#f8f8ff,#f8f8ff)"></i><i style="background:linear-gradient(90deg,#fbfbff,#fafaff,#f9f9ff,#f8f8ff,#f8f8ff,#f8f8ff,#f8f8ff,#f8f8ff,#f8f8ff,#f8f8ff,#f9f9ff,#f9f9ff,#f9f9ff,#f9f9ff)"></i><i style="background:linear-gradient(90deg,#fbfbff,#fafaff,#f9f9ff,#f9f9ff,#f9f9ff,#f8f8ff,#f8f8ff,#f9f9ff,#f9f9ff,#f9f9ff,#f9f9ff,#f9f9ff,#fafaff,#fafaff)"></i><i style="background:linear-gradient(90deg,#fcfcff,#fbfbff,#fafaff,#fafaff,#f9f9ff,#f9f9ff,#f9f9ff,#f9f9ff,#f9f9ff,#fafaff,#fafaff,#fafaff,#fafaff,#fafaff)"></i><i style="background:linear-gradient(90deg,#fcfcff,#fbfbff,#fafaff,#fafaff,#fafaff,#fafaff,#fafaff,#fafaff,#fafaff,#fafaff,#fafaff,#fafaff,#fbfbff,#fbfbff)"></i><i style="background:linear-gradient(90deg,#fcfcff,#fbfbff,#fbfbff,#fbfbff,#fafaff,#fafaff,#fafaff,#fafaff,#fafaff,#fbfbff,#fbfbff,#fbfbff,#fbfbff,#fbfbff)"></i><i style="background:linear-gradient(90deg,#fdfdff,#fcfcff,#fbfbff,#fbfbff,#fbfbff,#fbfbff,#fbfbff,#fbfbff,#fbfbff,#fbfbff,#fbfbff,#fbfbff,#fbfbff,#fbfbff)"></i><i style="background:linear-gradient(90deg,#fdfdff,#fcfcff,#fcfcff,#fbfbff,#fbfbff,#fbfbff,#fbfbff,#fbfbff,#fbfbff,#fbfbff,#fcfcff,#fcfcff,#fcfcff,#fcfcff)"></i><i style="background:linear-gradient(90deg,#fdfdff,#fcfcff,#fcfcff,#fcfcff,#fcfcff,#fbfbff,#fbfbff,#fcfcff,#fcfcff,#fcfcff,#fcfcff,#fcfcff,#fcfcff,#fcfcff)"></i><i style="background:linear-gradient(90deg,#fdfdff,#fdfdff,#fcfcff,#fcfcff,#fcfcff,#fcfcff,#fcfcff,#fcfcff,#fcfcff,#fcfcff,#fcfcff,#fcfcff,#fcfcff,#fcfcff)"></i><i style="background:linear-gradient(90deg,#fdfdff,#fdfdff,#fdfdff,#fcfcff,#fcfcff,#fcfcff,#fcfcff,#fcfcff,#fcfcff,#fcfcff,#fcfcff,#fdfdff,#fdfdff,#fdfdff)"></i><i style="background:linear-gradient(90deg,#fefeff,#fdfdff,#fdfdff,#fdfdff,#fdfdff,#fcfcff,#fcfcff,#fdfdff,#fdfdff,#fdfdff,#fdfdff,#fdfdff,#fdfdff,#fdfdff)"></i><i style="background:linear-gradient(90deg,#fefeff,#fdfdff,#fdfdff,#fdfdff,#fdfdff,#fdfdff,#fdfdff,#fdfdff,#fdfdff,#fdfdff,#fdfdff,#fdfdff,#fdfdff,#fdfdff)"></i><i style="background:linear-gradient(90deg,#fefeff,#fefeff,#fdfdff,#fdfdff,#fdfdff,#fdfdff,#fdfdff,#fdfdff,#fdfdff,#fdfdff,#fdfdff,#fdfdff,#fdfdff,#fdfdff)"></i><i style="background:linear-gradient(90deg,#fefeff,#fefeff,#fdfdff,#fdfdff,#fdfdff,#fdfdff,#fdfdff,#fdfdff,#fdfdff,#fdfdff,#fdfdff,#fdfdff,#fdfdff,#fefeff)"></i><i style="background:linear-gradient(90deg,#fefeff,#fefeff,#fefeff,#fefeff,#fdfdff,#fdfdff,#fdfdff,#fdfdff,#fdfdff,#fefeff,#fefeff,#fefeff,#fefeff,#fefeff)"></i><i style="background:linear-gradient(90deg,#fefeff,#fefeff,#fefeff,#fefeff,#fefeff,#fefeff,#fefeff,#fefeff,#fefeff,#fefeff,#fefeff,#fefeff,#fefeff,#fefeff)"></i><i style="background:linear-gradient(90deg,#fefeff,#fefeff,#fefeff,#fefeff,#fefeff,#fefeff,#fefeff,#fefeff,#fefeff,#fefeff,#fefeff,#fefeff,#fefeff,#fefeff)"></i><i style="background:linear-gradient(90deg,#fefeff,#fefeff,#fefeff,#fefeff,#fefeff,#fefeff,#fefeff,#fefeff,#fefeff,#fefeff,#fefeff,#fefeff,#fefeff,#fefeff)"></i><i style="background:linear-gradient(90deg,#fefeff,#fefeff,#fefeff,#fefeff,#fefeff,#fefeff,#fefeff,#fefeff,#fefeff,#fefeff,#fefeff,#fefeff,#fefeff,#fefeff)"></i><i style="background:linear-gradient(90deg,#fff,#fefeff,#fefeff,#fefeff,#fefeff,#fefeff,#fefeff,#fefeff,#fefeff,#fefeff,#fefeff,#fefeff,#fefeff,#fefeff)"></i><i style="background:linear-gradient(90deg,#fff,#fefeff,#fefeff,#fefeff,#fefeff,#fefeff,#fefeff,#fefeff,#fefeff,#fefeff,#fefeff,#fefeff,#fefeff,#fefeff)"></i><i style="background:linear-gradient(90deg,#fff,#fff,#fefeff,#fefeff,#fefeff,#fefeff,#fefeff,#fefeff,#fefeff,#fefeff,#fefeff,#fefeff,#fefeff,#fefeff)"></i><i style="background:linear-gradient(90deg,#fff,#fff,#fefeff,#fefeff,#fefeff,#fefeff,#fefeff,#fefeff,#fefeff,#fefeff,#fefeff,#fefeff,#fefeff,#fff)"></i><i style="background:linear-gradient(90deg,#fff,#fff,#fff,#fff,#fefeff,#fefeff,#fefeff,#fefeff,#fefeff,#fff,#fff,#fff,#fff,#fff)"></i><i></i><i></i><i></i><i></i><i></i><i></i></div><div class="c" style="left:151.84px;width:196.8px"><i style="background:linear-gradient(90deg,#fff,#fff,#fff,#fff,#fefeff,#fcfcff,#f6f6ff,#e8e8ff,#d6d6ff,#c8c8ff,#c9c9ff,#d7d7ff,#eaeaff,#f6f6ff,#fcfcff,#fefeff,#fff)"></i><i style="background:linear-gradient(90deg,#fff,#fff,#fff,#fff,#fefeff,#fcfcff,#f5f5ff,#e7e7ff,#d4d4ff,#c5c5ff,#c5c5ff,#d5d5ff,#e8e8ff,#f6f6ff,#fcfcff,#fefeff,#fff)"></i><i style="background:linear-gradient(90deg,#fff,#fff,#fff,#fff,#fefeff,#fcfcff,#f4f4ff,#e6e6ff,#d1d1ff,#c1c1ff,#c2c2ff,#d3d3ff,#e7e7ff,#f5f5ff,#fcfcff,#fefeff,#fff)"></i><i style="background:linear-gradient(90deg,#fff,#fff,#fff,#fff,#fefeff,#fbfbff,#f4f4ff,#e4e4ff,#ceceff,#bebeff,#bebeff,#d0d0ff,#e6e6ff,#f5f5ff,#fcfcff,#fefeff,#fff)"></i><i style="background:linear-gradient(90deg,#fff,#fff,#fff,#fff,#fefeff,#fbfbff,#f3f3ff,#e3e3ff,#ccf,#babaff,#bbf,#cdcdff,#e4e4ff,#f4f4ff,#fbfbff,#fefeff,#fff)"></i><i style="background:linear-gradient(90deg,#fff,#fff,#fff,#fefeff,#fefeff,#fbfbff,#f2f2ff,#e1e1ff,#c9c9ff,#b6b6ff,#b7b7ff,#cacaff,#e3e3ff,#f3f3ff,#fbfbff,#fefeff,#fff)"></i><i style="background:linear-gradient(90deg,#fff,#fff,#fff,#fefeff,#fefeff,#fafaff,#f2f2ff,#dfdfff,#c6c6ff,#b2b2ff,#b3b3ff,#c7c7ff,#e1e1ff,#f3f3ff,#fbfbff,#fefeff,#fefeff)"></i><i style="background:linear-gradient(90deg,#fff,#fff,#fff,#fefeff,#fdfdff,#fafaff,#f1f1ff,#ddf,#c2c2ff,#aeaeff,#afafff,#c4c4ff,#dfdfff,#f2f2ff,#fbfbff,#fefeff,#fefeff)"></i><i style="background:linear-gradient(90deg,#fff,#fff,#fff,#fefeff,#fdfdff,#fafaff,#f0f0ff,#dcdcff,#bfbfff,#a9a9ff,#aaf,#c1c1ff,#ddf,#f1f1ff,#fafaff,#fdfdff,#fefeff)"></i><i style="background:linear-gradient(90deg,#fff,#fff,#fff,#fefeff,#fdfdff,#f9f9ff,#efefff,#dadaff,#bcbcff,#a5a5ff,#a6a6ff,#bebeff,#dcdcff,#f0f0ff,#fafaff,#fdfdff,#fefeff)"></i><i style="background:linear-gradient(90deg,#fff,#fff,#fff,#fefeff,#fdfdff,#f9f9ff,#eef,#d7d7ff,#b8b8ff,#a0a0ff,#a1a1ff,#babaff,#dadaff,#efefff,#fafaff,#fdfdff,#fefeff)"></i><i style="background:linear-gradient(90deg,#fff,#fff,#fff,#fefeff,#fdfdff,#f9f9ff,#ededff,#d5d5ff,#b4b4ff,#9b9bff,#9c9cff,#b7b7ff,#d8d8ff,#eef,#f9f9ff,#fdfdff,#fefeff)"></i><i style="background:linear-gradient(90deg,#fff,#fff,#fff,#fefeff,#fdfdff,#f8f8ff,#ececff,#d3d3ff,#b1b1ff,#9696ff,#9797ff,#b3b3ff,#d5d5ff,#ededff,#f9f9ff,#fdfdff,#fefeff)"></i><i style="background:linear-gradient(90deg,#fff,#fff,#fefeff,#fefeff,#fcfcff,#f8f8ff,#ebebff,#d1d1ff,#adadff,#9191ff,#9292ff,#afafff,#d3d3ff,#ececff,#f8f8ff,#fdfdff,#fefeff)"></i><i style="background:linear-gradient(90deg,#fff,#fff,#fefeff,#fefeff,#fcfcff,#f7f7ff,#eaeaff,#ceceff,#a8a8ff,#8b8bff,#8d8dff,#ababff,#d1d1ff,#ebebff,#f8f8ff,#fcfcff,#fefeff)"></i><i style="background:linear-gradient(90deg,#fff,#fff,#fefeff,#fefeff,#fcfcff,#f7f7ff,#e9e9ff,#ccf,#a4a4ff,#8686ff,#8787ff,#a7a7ff,#cfcfff,#eaeaff,#f7f7ff,#fcfcff,#fefeff)"></i><i style="background:linear-gradient(90deg,#fff,#fff,#fefeff,#fefeff,#fcfcff,#f6f6ff,#e8e8ff,#c9c9ff,#a0a0ff,#8080ff,#8181ff,#a3a3ff,#ccf,#e9e9ff,#f7f7ff,#fcfcff,#fefeff)"></i><i style="background:linear-gradient(90deg,#fff,#fff,#fefeff,#fdfdff,#fcfcff,#f6f6ff,#e6e6ff,#c7c7ff,#9b9bff,#7a7aff,#7b7bff,#9e9eff,#cacaff,#e8e8ff,#f6f6ff,#fcfcff,#fefeff)"></i><i style="background:linear-gradient(90deg,#fff,#fff,#fefeff,#fdfdff,#fbfbff,#f5f5ff,#e5e5ff,#c4c4ff,#9696ff,#7474ff,#7575ff,#9a9aff,#c7c7ff,#e7e7ff,#f6f6ff,#fbfbff,#fdfdff)"></i><i style="background:linear-gradient(90deg,#fff,#fff,#fefeff,#fdfdff,#fbfbff,#f5f5ff,#e4e4ff,#c1c1ff,#9292ff,#6d6dff,#6f6fff,#9595ff,#c4c4ff,#e5e5ff,#f5f5ff,#fbfbff,#fdfdff)"></i><i style="background:linear-gradient(90deg,#fff,#fefeff,#fefeff,#fdfdff,#fbfbff,#f4f4ff,#e2e2ff,#bebeff,#8d8dff,#6767ff,#6969ff,#9090ff,#c1c1ff,#e4e4ff,#f5f5ff,#fbfbff,#fdfdff)"></i><i style="background:linear-gradient(90deg,#fff,#fefeff,#fefeff,#fdfdff,#fafaff,#f3f3ff,#e1e1ff,#bbf,#8787ff,#6060ff,#6262ff,#8b8bff,#bebeff,#e3e3ff,#f4f4ff,#fbfbff,#fdfdff)"></i><i style="background:linear-gradient(90deg,#fff,#fefeff,#fefeff,#fdfdff,#fafaff,#f3f3ff,#dfdfff,#b8b8ff,#8282ff,#5959ff,#5b5bff,#8686ff,#bbf,#e1e1ff,#f3f3ff,#fafaff,#fdfdff)"></i><i style="background:linear-gradient(90deg,#fff,#fefeff,#fefeff,#fcfcff,#fafaff,#f2f2ff,#ddf,#b5b5ff,#7d7dff,#5252ff,#5454ff,#8181ff,#b8b8ff,#e0e0ff,#f3f3ff,#fafaff,#fdfdff)"></i><i style="background:linear-gradient(90deg,#fff,#fefeff,#fefeff,#fcfcff,#f9f9ff,#f1f1ff,#dcdcff,#b1b1ff,#77f,#4b4bff,#4d4dff,#7b7bff,#b5b5ff,#dedeff,#f2f2ff,#f9f9ff,#fcfcff)"></i><i style="background:linear-gradient(90deg,#fff,#fefeff,#fdfdff,#fcfcff,#f9f9ff,#f0f0ff,#dadaff,#aeaeff,#7171ff,#4343ff,#4545ff,#7676ff,#b2b2ff,#dcdcff,#f1f1ff,#f9f9ff,#fcfcff)"></i><i style="background:linear-gradient(90deg,#fff,#fefeff,#fdfdff,#fcfcff,#f8f8ff,#efefff,#d8d8ff,#aaf,#6b6bff,#3c3cff,#3e3eff,#7070ff,#aeaeff,#dbdbff,#f0f0ff,#f9f9ff,#fcfcff)"></i><i style="background:linear-gradient(90deg,#fff,#fefeff,#fdfdff,#fbfbff,#f8f8ff,#eef,#d6d6ff,#a6a6ff,#6565ff,#3434ff,#3636ff,#6a6aff,#ababff,#d9d9ff,#efefff,#f8f8ff,#fcfcff)"></i><i style="background:linear-gradient(90deg,#fff,#fefeff,#fefeff,#fefeff,#fefeff,#fefeff,#fefeff,#fdfdff,#fdfdff,#fdfdff,#fcfcff,#fcfcff,#fbfbff,#fafaff,#f9f9ff,#f8f8ff,#f7f7ff,#f5f5ff,#f2f2ff,#efefff,#ebebff,#e5e5ff,#dfdfff,#d7d7ff,#cdcdff,#c1c1ff,#b4b4ff,#a5a5ff,#9494ff,#8383ff,#7171ff,#5f5fff,#4f4fff,#4040ff,#3434ff,#2b2bff,#2626ff,#2626ff,#2929ff,#3131ff,#3c3cff,#4949ff,#5959ff,#6b6bff,#7d7dff,#8e8eff,#9f9fff,#afafff,#bdbdff,#c9c9ff,#d3d3ff,#dcdcff,#e3e3ff,#e9e9ff,#eef,#f1f1ff,#f4f4ff,#f6f6ff,#f8f8ff,#f9f9ff,#fafaff,#fbfbff,#fbfbff)"></i><i style="background:linear-gradient(90deg,#fefeff,#fefeff,#fefeff,#fefeff,#fefeff,#fefeff,#fdfdff,#fdfdff,#fdfdff,#fcfcff,#fcfcff,#fbfbff,#fbfbff,#fafaff,#f9f9ff,#f8f8ff,#f6f6ff,#f4f4ff,#f1f1ff,#eef,#eaeaff,#e4e4ff,#ddf,#d5d5ff,#cbcbff,#bebeff,#b1b1ff,#a1a1ff,#9090ff,#7e7eff,#6b6bff,#5959ff,#4848ff,#3939ff,#2c2cff,#2323ff,#1e1eff,#1d1dff,#2121ff,#2929ff,#3434ff,#4242ff,#5353ff,#6565ff,#77f,#8a8aff,#9b9bff,#ababff,#babaff,#c7c7ff,#d1d1ff,#dadaff,#e2e2ff,#e8e8ff,#ededff,#f0f0ff,#f3f3ff,#f5f5ff,#f7f7ff,#f8f8ff,#fafaff,#fafaff,#fbfbff)"></i><i style="background:linear-gradient(90deg,#fefeff,#fefeff,#fefeff,#fefeff,#fefeff,#fefeff,#fdfdff,#fdfdff,#fdfdff,#fcfcff,#fcfcff,#fbfbff,#fafaff,#f9f9ff,#f8f8ff,#f7f7ff,#f5f5ff,#f3f3ff,#f0f0ff,#ededff,#e8e8ff,#e3e3ff,#dcdcff,#d3d3ff,#c8c8ff,#bcbcff,#adadff,#9d9dff,#8b8bff,#7979ff,#6565ff,#5353ff,#4141ff,#3131ff,#2424ff,#1b1bff,#1616ff,#1515ff,#1919ff,#2121ff,#2c2cff,#3b3bff,#4c4cff,#5f5fff,#7272ff,#8585ff,#9797ff,#a8a8ff,#b7b7ff,#c4c4ff,#cfcfff,#d9d9ff,#e0e0ff,#e7e7ff,#ebebff,#efefff,#f2f2ff,#f5f5ff,#f7f7ff,#f8f8ff,#f9f9ff,#fafaff,#fbfbff)"></i><i style="background:linear-gradient(90deg,#fefeff,#fefeff,#fefeff,#fefeff,#fefeff,#fdfdff,#fdfdff,#fdfdff,#fcfcff,#fcfcff,#fbfbff,#fbfbff,#fafaff,#f9f9ff,#f8f8ff,#f7f7ff,#f5f5ff,#f2f2ff,#f0f0ff,#ececff,#e7e7ff,#e1e1ff,#dadaff,#d1d1ff,#c6c6ff,#b9b9ff,#aaf,#99f,#8787ff,#7373ff,#6060ff,#4c4cff,#3a3aff,#2929ff,#1c1cff,#1313ff,#0d0dff,#0c0cff,#1010ff,#1818ff,#2525ff,#3434ff,#4646ff,#5959ff,#6d6dff,#8080ff,#9393ff,#a4a4ff,#b4b4ff,#c2c2ff,#cdcdff,#d7d7ff,#dfdfff,#e5e5ff,#eaeaff,#eef,#f2f2ff,#f4f4ff,#f6f6ff,#f7f7ff,#f9f9ff,#fafaff,#fbfbff)"></i><i style="background:linear-gradient(90deg,#fefeff,#fefeff,#fefeff,#fefeff,#fefeff,#fdfdff,#fdfdff,#fdfdff,#fcfcff,#fcfcff,#fbfbff,#fafaff,#fafaff,#f9f9ff,#f7f7ff,#f6f6ff,#f4f4ff,#f2f2ff,#efefff,#ebebff,#e6e6ff,#e0e0ff,#d8d8ff,#cfcfff,#c3c3ff,#b6b6ff,#a6a6ff,#9595ff,#8282ff,#6e6eff,#5a5aff,#4545ff,#33f,#22f,#1414ff,#0a0aff,#0404ff,#0404ff,#0808ff,#1010ff,#1d1dff,#2d2dff,#3f3fff,#5353ff,#6767ff,#7b7bff,#8f8fff,#a1a1ff,#b1b1ff,#bfbfff,#cbcbff,#d5d5ff,#ddf,#e4e4ff,#e9e9ff,#ededff,#f1f1ff,#f3f3ff,#f5f5ff,#f7f7ff,#f8f8ff,#f9f9ff,#fafaff)"></i><i style="background:linear-gradient(90deg,#fefeff,#fefeff,#fefeff,#fefeff,#fefeff,#fdfdff,#fdfdff,#fcfcff,#fcfcff,#fcfcff,#fbfbff,#fafaff,#f9f9ff,#f8f8ff,#f7f7ff,#f5f5ff,#f3f3ff,#f1f1ff,#eef,#eaeaff,#e5e5ff,#dedeff,#d6d6ff,#ccf,#c1c1ff,#b3b3ff,#a3a3ff,#9191ff,#7d7dff,#6969ff,#5454ff,#3f3fff,#2b2bff,#1a1aff,#0c0cff,#0101ff,#0400fb,#0500fa,#0100fe,#0808ff,#1515ff,#2525ff,#3838ff,#4c4cff,#6262ff,#7676ff,#8a8aff,#9d9dff,#aeaeff,#bcbcff,#c9c9ff,#d3d3ff,#dcdcff,#e3e3ff,#e8e8ff,#ededff,#f0f0ff,#f3f3ff,#f5f5ff,#f6f6ff,#f8f8ff,#f9f9ff,#fafaff)"></i><i style="background:linear-gradient(90deg,#fefeff,#fefeff,#fefeff,#fefeff,#fdfdff,#fdfdff,#fdfdff,#fcfcff,#fcfcff,#fbfbff,#fbfbff,#fafaff,#f9f9ff,#f8f8ff,#f6f6ff,#f5f5ff,#f3f3ff,#f0f0ff,#ededff,#e9e9ff,#e3e3ff,#ddf,#d4d4ff,#cacaff,#bebeff,#b0b0ff,#9f9fff,#8d8dff,#7979ff,#6363ff,#4d4dff,#3838ff,#2424ff,#1212ff,#0303ff,#0700f8,#0d00f2,#0e00f1,#0a00f5,#0100fe,#0d0dff,#1d1dff,#3131ff,#4646ff,#5c5cff,#7171ff,#8686ff,#99f,#aaf,#b9b9ff,#c6c6ff,#d1d1ff,#dadaff,#e1e1ff,#e7e7ff,#ececff,#efefff,#f2f2ff,#f4f4ff,#f6f6ff,#f7f7ff,#f9f9ff,#fafaff)"></i><i style="background:linear-gradient(90deg,#fefeff,#fefeff,#fefeff,#fefeff,#fdfdff,#fdfdff,#fdfdff,#fcfcff,#fcfcff,#fbfbff,#fafaff,#f9f9ff,#f8f8ff,#f7f7ff,#f6f6ff,#f4f4ff,#f2f2ff,#efefff,#ececff,#e7e7ff,#e2e2ff,#dbdbff,#d2d2ff,#c8c8ff,#bbf,#adadff,#9c9cff,#8989ff,#7474ff,#5e5eff,#4747ff,#3131ff,#1c1cff,#0a0aff,#0500fa,#1000ef,#1600e9,#1700e8,#1300ec,#0900f6,#0404ff,#1616ff,#2a2aff,#4040ff,#5656ff,#6c6cff,#8282ff,#9595ff,#a7a7ff,#b7b7ff,#c4c4ff,#cfcfff,#d8d8ff,#e0e0ff,#e6e6ff,#eaeaff,#eef,#f1f1ff,#f3f3ff,#f5f5ff,#f7f7ff,#f8f8ff,#f9f9ff)"></i><i style="background:linear-gradient(90deg,#fefeff,#fefeff,#fefeff,#fdfdff,#fdfdff,#fdfdff,#fcfcff,#fcfcff,#fbfbff,#fbfbff,#fafaff,#f9f9ff,#f8f8ff,#f7f7ff,#f5f5ff,#f4f4ff,#f1f1ff,#eef,#ebebff,#e6e6ff,#e1e1ff,#d9d9ff,#d1d1ff,#c6c6ff,#b9b9ff,#a9a9ff,#9898ff,#8484ff,#6f6fff,#5858ff,#4141ff,#2a2aff,#1515ff,#0202ff,#0e00f1,#1900e6,#1f00e0,#2000df,#1c00e3,#1200ed,#0400fb,#0e0eff,#2323ff,#3939ff,#5050ff,#6767ff,#7d7dff,#9191ff,#a4a4ff,#b4b4ff,#c2c2ff,#cdcdff,#d7d7ff,#dedeff,#e4e4ff,#e9e9ff,#ededff,#f0f0ff,#f3f3ff,#f5f5ff,#f6f6ff,#f8f8ff,#f9f9ff)"></i><i style="background:linear-gradient(90deg,#fefeff,#fefeff,#fefeff,#fdfdff,#fdfdff,#fdfdff,#fcfcff,#fcfcff,#fbfbff,#fafaff,#fafaff,#f9f9ff,#f8f8ff,#f6f6ff,#f5f5ff,#f3f3ff,#f0f0ff,#ededff,#eaeaff,#e5e5ff,#dfdfff,#d8d8ff,#cfcfff,#c3c3ff,#b6b6ff,#a6a6ff,#9494ff,#8080ff,#6a6aff,#5252ff,#3b3bff,#2323ff,#0d0dff,#0600f9,#1600e9,#20d,#2800d7,#2900d6,#2500da,#1b00e4,#0c00f3,#0606ff,#1b1bff,#3232ff,#4a4aff,#6262ff,#7878ff,#8d8dff,#a0a0ff,#b1b1ff,#bfbfff,#cbcbff,#d5d5ff,#ddf,#e3e3ff,#e8e8ff,#ececff,#f0f0ff,#f2f2ff,#f4f4ff,#f6f6ff,#f7f7ff,#f8f8ff)"></i><i style="background:linear-gradient(90deg,#fefeff,#fefeff,#fefeff,#fdfdff,#fdfdff,#fdfdff,#fcfcff,#fcfcff,#fbfbff,#fafaff,#f9f9ff,#f8f8ff,#f7f7ff,#f6f6ff,#f4f4ff,#f2f2ff,#f0f0ff,#ededff,#e9e9ff,#e4e4ff,#dedeff,#d6d6ff,#ccf,#c1c1ff,#b3b3ff,#a3a3ff,#9090ff,#7b7bff,#6565ff,#4d4dff,#3434ff,#1c1cff,#0505ff,#0f00f0,#1f00e0,#2b00d4,#3200cd,#30c,#2e00d1,#2400db,#1500ea,#0200fd,#1414ff,#2c2cff,#44f,#5d5dff,#7474ff,#8989ff,#9d9dff,#aeaeff,#bcbcff,#c9c9ff,#d3d3ff,#dbdbff,#e2e2ff,#e7e7ff,#ebebff,#efefff,#f1f1ff,#f3f3ff,#f5f5ff,#f7f7ff,#f8f8ff)"></i><i style="background:linear-gradient(90deg,#fefeff,#fefeff,#fdfdff,#fdfdff,#fdfdff,#fcfcff,#fcfcff,#fbfbff,#fbfbff,#fafaff,#f9f9ff,#f8f8ff,#f7f7ff,#f5f5ff,#f4f4ff,#f1f1ff,#efefff,#ececff,#e8e8ff,#e2e2ff,#dcdcff,#d4d4ff,#cacaff,#bebeff,#b0b0ff,#a0a0ff,#8c8cff,#77f,#6060ff,#4747ff,#2e2eff,#1515ff,#0200fd,#1700e8,#2800d7,#3400cb,#3b00c4,#3c00c3,#3700c8,#2d00d2,#1d00e2,#0a00f5,#0d0dff,#2525ff,#3e3eff,#5757ff,#6f6fff,#8585ff,#99f,#ababff,#babaff,#c7c7ff,#d1d1ff,#dadaff,#e0e0ff,#e6e6ff,#eaeaff,#eef,#f1f1ff,#f3f3ff,#f5f5ff,#f6f6ff,#f8f8ff)"></i><i style="background:linear-gradient(90deg,#fefeff,#fefeff,#fdfdff,#fdfdff,#fdfdff,#fcfcff,#fcfcff,#fbfbff,#fafaff,#fafaff,#f9f9ff,#f8f8ff,#f6f6ff,#f5f5ff,#f3f3ff,#f1f1ff,#eef,#ebebff,#e6e6ff,#e1e1ff,#dbdbff,#d2d2ff,#c8c8ff,#bcbcff,#adadff,#9c9cff,#88f,#7272ff,#5a5aff,#4141ff,#2727ff,#0e0eff,#0a00f5,#1f00e0,#3100ce,#3d00c2,#40b,#4500ba,#4000bf,#3600c9,#2600d9,#1200ed,#0505ff,#1e1eff,#3838ff,#5252ff,#6a6aff,#8181ff,#9696ff,#a8a8ff,#b7b7ff,#c4c4ff,#cfcfff,#d8d8ff,#dfdfff,#e5e5ff,#e9e9ff,#ededff,#f0f0ff,#f2f2ff,#f4f4ff,#f6f6ff,#f7f7ff)"></i><i style="background:linear-gradient(90deg,#fefeff,#fefeff,#fdfdff,#fdfdff,#fcfcff,#fcfcff,#fbfbff,#fbfbff,#fafaff,#f9f9ff,#f8f8ff,#f7f7ff,#f6f6ff,#f4f4ff,#f2f2ff,#f0f0ff,#ededff,#eaeaff,#e5e5ff,#e0e0ff,#d9d9ff,#d0d0ff,#c6c6ff,#b9b9ff,#aaf,#99f,#8484ff,#6e6eff,#55f,#3b3bff,#2121ff,#0606ff,#1200ed,#2800d7,#3900c6,#4600b9,#4d00b2,#4e00b1,#4900b6,#3e00c1,#2e00d1,#1a00e5,#0200fd,#1818ff,#3232ff,#4c4cff,#66f,#7d7dff,#9292ff,#a5a5ff,#b5b5ff,#c2c2ff,#cdcdff,#d6d6ff,#dedeff,#e3e3ff,#e8e8ff,#ececff,#efefff,#f1f1ff,#f3f3ff,#f5f5ff,#f7f7ff)"></i><i style="background:linear-gradient(90deg,#fefeff,#fdfdff,#fdfdff,#fdfdff,#fcfcff,#fcfcff,#fbfbff,#fbfbff,#fafaff,#f9f9ff,#f8f8ff,#f7f7ff,#f5f5ff,#f4f4ff,#f2f2ff,#efefff,#ececff,#e8e8ff,#e4e4ff,#dedeff,#d7d7ff,#cfcfff,#c4c4ff,#b7b7ff,#a7a7ff,#9595ff,#8080ff,#6969ff,#5050ff,#3535ff,#1a1aff,#0100fe,#1a00e5,#3000cf,#4200bd,#4f00b0,#5700a8,#5800a7,#5300ac,#4700b8,#3700c8,#20d,#0a00f5,#11f,#2c2cff,#4747ff,#6161ff,#7979ff,#8e8eff,#a1a1ff,#b2b2ff,#c0c0ff,#cbcbff,#d5d5ff,#dcdcff,#e2e2ff,#e7e7ff,#ebebff,#eef,#f1f1ff,#f3f3ff,#f5f5ff,#f6f6ff)"></i><i style="background:linear-gradient(90deg,#fefeff,#fdfdff,#fdfdff,#fdfdff,#fcfcff,#fcfcff,#fbfbff,#fafaff,#fafaff,#f9f9ff,#f7f7ff,#f6f6ff,#f5f5ff,#f3f3ff,#f1f1ff,#eef,#ebebff,#e7e7ff,#e3e3ff,#ddf,#d6d6ff,#cdcdff,#c2c2ff,#b4b4ff,#a4a4ff,#9292ff,#7c7cff,#6565ff,#4b4bff,#2f2fff,#1313ff,#0800f7,#20d,#3800c7,#4b00b4,#5800a7,#60009f,#61009e,#5c00a3,#5000af,#3f00c0,#2a00d5,#10e,#0a0aff,#2626ff,#4141ff,#5c5cff,#7575ff,#8b8bff,#9e9eff,#afafff,#bdbdff,#c9c9ff,#d3d3ff,#dbdbff,#e1e1ff,#e6e6ff,#eaeaff,#ededff,#f0f0ff,#f2f2ff,#f4f4ff,#f6f6ff)"></i><i style="background:linear-gradient(90deg,#fefeff,#fdfdff,#fdfdff,#fcfcff,#fcfcff,#fbfbff,#fbfbff,#fafaff,#f9f9ff,#f8f8ff,#f7f7ff,#f6f6ff,#f4f4ff,#f2f2ff,#f0f0ff,#ededff,#eaeaff,#e6e6ff,#e1e1ff,#dbdbff,#d4d4ff,#cbcbff,#bfbfff,#b2b2ff,#a1a1ff,#8e8eff,#7878ff,#6060ff,#4545ff,#2929ff,#0d0dff,#0f00f0,#2900d6,#4100be,#5400ab,#62009d,#690096,#6a0095,#65009a,#5900a6,#4800b7,#3200cd,#1800e7,#0303ff,#2020ff,#3c3cff,#5757ff,#7070ff,#8787ff,#9b9bff,#acacff,#bbf,#c7c7ff,#d1d1ff,#d9d9ff,#e0e0ff,#e5e5ff,#e9e9ff,#ececff,#efefff,#f2f2ff,#f4f4ff,#f5f5ff)"></i><i style="background:linear-gradient(90deg,#fdfdff,#fdfdff,#fdfdff,#fcfcff,#fcfcff,#fbfbff,#fbfbff,#fafaff,#f9f9ff,#f8f8ff,#f7f7ff,#f5f5ff,#f4f4ff,#f2f2ff,#efefff,#ededff,#e9e9ff,#e5e5ff,#e0e0ff,#dadaff,#d2d2ff,#c9c9ff,#bdbdff,#afafff,#9e9eff,#8b8bff,#7474ff,#5b5bff,#4040ff,#2424ff,#0606ff,#1600e9,#3100ce,#4900b6,#5c00a3,#6b0094,#72008d,#74008b,#6e0091,#62009d,#5000af,#3a00c5,#2000df,#0400fb,#1a1aff,#3737ff,#5252ff,#6c6cff,#8383ff,#9898ff,#aaf,#b9b9ff,#c5c5ff,#cfcfff,#d8d8ff,#dedeff,#e4e4ff,#e8e8ff,#ececff,#eef,#f1f1ff,#f3f3ff,#f5f5ff)"></i><i style="background:linear-gradient(90deg,#fdfdff,#fdfdff,#fdfdff,#fcfcff,#fcfcff,#fbfbff,#fafaff,#fafaff,#f9f9ff,#f7f7ff,#f6f6ff,#f5f5ff,#f3f3ff,#f1f1ff,#efefff,#ececff,#e8e8ff,#e4e4ff,#dfdfff,#d8d8ff,#d1d1ff,#c7c7ff,#bbf,#acacff,#9b9bff,#8787ff,#7070ff,#5757ff,#3b3bff,#1e1eff,#00f,#1d00e2,#3900c6,#5100ae,#65009a,#73008c,#7b0084,#7d0082,#708,#6b0094,#5900a6,#4200bd,#2700d8,#0a00f5,#1414ff,#3131ff,#4d4dff,#6868ff,#8080ff,#9595ff,#a7a7ff,#b6b6ff,#c3c3ff,#cdcdff,#d6d6ff,#ddf,#e2e2ff,#e7e7ff,#ebebff,#eef,#f0f0ff,#f2f2ff,#f4f4ff)"></i><i style="background:linear-gradient(90deg,#fdfdff,#fdfdff,#fcfcff,#fcfcff,#fbfbff,#fbfbff,#fafaff,#f9f9ff,#f8f8ff,#f7f7ff,#f6f6ff,#f4f4ff,#f2f2ff,#f0f0ff,#eef,#ebebff,#e7e7ff,#e3e3ff,#dedeff,#d7d7ff,#cfcfff,#c5c5ff,#b8b8ff,#aaf,#9898ff,#8484ff,#6c6cff,#5252ff,#3636ff,#1818ff,#0700f8,#2400db,#4100be,#5900a6,#6e0091,#7c0083,#84007b,#860079,#80007f,#73008c,#61009e,#4900b6,#2e00d1,#10e,#0d0dff,#2c2cff,#4949ff,#6464ff,#7c7cff,#9191ff,#a4a4ff,#b4b4ff,#c1c1ff,#ccf,#d4d4ff,#dbdbff,#e1e1ff,#e6e6ff,#eaeaff,#ededff,#f0f0ff,#f2f2ff,#f4f4ff)"></i><i style="background:linear-gradient(90deg,#fdfdff,#fdfdff,#fcfcff,#fcfcff,#fbfbff,#fbfbff,#fafaff,#f9f9ff,#f8f8ff,#f7f7ff,#f5f5ff,#f4f4ff,#f2f2ff,#f0f0ff,#ededff,#eaeaff,#e6e6ff,#e2e2ff,#dcdcff,#d5d5ff,#cdcdff,#c3c3ff,#b6b6ff,#a7a7ff,#9595ff,#8080ff,#6868ff,#4e4eff,#3131ff,#1212ff,#0d00f2,#2b00d4,#4800b7,#61009e,#760089,#85007a,#8d0072,#8e0071,#890076,#7c0083,#690096,#5100ae,#3600c9,#1800e7,#0808ff,#2626ff,#44f,#5f5fff,#7878ff,#8e8eff,#a1a1ff,#b1b1ff,#bfbfff,#cacaff,#d3d3ff,#dadaff,#e0e0ff,#e5e5ff,#e9e9ff,#ececff,#efefff,#f1f1ff,#f3f3ff)"></i><i style="background:linear-gradient(90deg,#fdfdff,#fdfdff,#fcfcff,#fcfcff,#fbfbff,#fafaff,#fafaff,#f9f9ff,#f8f8ff,#f6f6ff,#f5f5ff,#f3f3ff,#f1f1ff,#efefff,#ececff,#e9e9ff,#e5e5ff,#e1e1ff,#dbdbff,#d4d4ff,#cbcbff,#c1c1ff,#b4b4ff,#a4a4ff,#9292ff,#7d7dff,#6464ff,#4949ff,#2c2cff,#0c0cff,#1300ec,#3200cd,#4f00b0,#690096,#7e0081,#8e0071,#960069,#970068,#91006e,#84007b,#71008e,#5900a6,#3d00c2,#1e00e1,#0202ff,#2121ff,#3f3fff,#5b5bff,#7575ff,#8b8bff,#9e9eff,#afafff,#bdbdff,#c8c8ff,#d1d1ff,#d9d9ff,#dfdfff,#e4e4ff,#e8e8ff,#ebebff,#eef,#f0f0ff,#f3f3ff)"></i><i style="background:linear-gradient(90deg,#fdfdff,#fcfcff,#fcfcff,#fcfcff,#fbfbff,#fafaff,#f9f9ff,#f8f8ff,#f7f7ff,#f6f6ff,#f4f4ff,#f3f3ff,#f1f1ff,#eef,#ebebff,#e8e8ff,#e4e4ff,#dfdfff,#dadaff,#d2d2ff,#cacaff,#bfbfff,#b2b2ff,#a2a2ff,#8f8fff,#7979ff,#6060ff,#4545ff,#2626ff,#0707ff,#1900e6,#3900c6,#5700a8,#71008e,#860079,#960069,#9f0060,#a0005f,#9a0065,#8c0073,#790086,#60009f,#40b,#2400db,#0400fb,#1c1cff,#3a3aff,#5757ff,#7171ff,#88f,#9c9cff,#acacff,#bbf,#c6c6ff,#d0d0ff,#d7d7ff,#dedeff,#e3e3ff,#e7e7ff,#eaeaff,#ededff,#f0f0ff,#f2f2ff)"></i><i style="background:linear-gradient(90deg,#fdfdff,#fcfcff,#fcfcff,#fbfbff,#fbfbff,#fafaff,#f9f9ff,#f8f8ff,#f7f7ff,#f5f5ff,#f4f4ff,#f2f2ff,#f0f0ff,#eef,#ebebff,#e7e7ff,#e3e3ff,#dedeff,#d8d8ff,#d1d1ff,#c8c8ff,#bdbdff,#afafff,#9f9fff,#8c8cff,#7676ff,#5c5cff,#4040ff,#2121ff,#0101ff,#2000df,#4000bf,#5e00a1,#790086,#8e0071,#9e0061,#a70058,#a80057,#a2005d,#95006a,#81007e,#680097,#4a00b5,#2b00d4,#0a00f5,#1717ff,#3636ff,#5353ff,#6d6dff,#8585ff,#99f,#aaf,#b8b8ff,#c4c4ff,#ceceff,#d6d6ff,#dcdcff,#e2e2ff,#e6e6ff,#eaeaff,#ededff,#efefff,#f1f1ff)"></i><i style="background:linear-gradient(90deg,#fdfdff,#fcfcff,#fcfcff,#fbfbff,#fafaff,#fafaff,#f9f9ff,#f8f8ff,#f6f6ff,#f5f5ff,#f3f3ff,#f2f2ff,#efefff,#ededff,#eaeaff,#e6e6ff,#e2e2ff,#ddf,#d7d7ff,#cfcfff,#c6c6ff,#bbf,#adadff,#9c9cff,#8989ff,#7272ff,#5858ff,#3c3cff,#1d1dff,#0400fb,#2600d9,#4600b9,#65009a,#80007f,#960069,#a60059,#af0050,#b0004f,#a05,#9c0063,#807,#6f0090,#5100ae,#3100ce,#1000ef,#1212ff,#3131ff,#4f4fff,#6a6aff,#8282ff,#9696ff,#a8a8ff,#b6b6ff,#c2c2ff,#ccf,#d4d4ff,#dbdbff,#e1e1ff,#e5e5ff,#e9e9ff,#ececff,#efefff,#f1f1ff)"></i><i style="background:linear-gradient(90deg,#fcfcff,#fcfcff,#fcfcff,#fbfbff,#fafaff,#f9f9ff,#f8f8ff,#f7f7ff,#f6f6ff,#f5f5ff,#f3f3ff,#f1f1ff,#efefff,#ececff,#e9e9ff,#e5e5ff,#e1e1ff,#dcdcff,#d6d6ff,#ceceff,#c4c4ff,#b9b9ff,#ababff,#9a9aff,#8686ff,#6f6fff,#55f,#3838ff,#1818ff,#0900f6,#2b00d4,#4d00b2,#6c0093,#870078,#9e0061,#ae0051,#b70048,#b80047,#b2004d,#a4005b,#90006f,#760089,#5800a7,#3700c8,#1500ea,#0d0dff,#2d2dff,#4b4bff,#66f,#7f7fff,#9393ff,#a5a5ff,#b4b4ff,#c1c1ff,#cbcbff,#d3d3ff,#dadaff,#dfdfff,#e4e4ff,#e8e8ff,#ebebff,#eef,#f0f0ff)"></i><i style="background:linear-gradient(90deg,#fcfcff,#fcfcff,#fbfbff,#fbfbff,#fafaff,#f9f9ff,#f8f8ff,#f7f7ff,#f6f6ff,#f4f4ff,#f2f2ff,#f0f0ff,#eef,#ebebff,#e8e8ff,#e5e5ff,#e0e0ff,#dbdbff,#d4d4ff,#ccf,#c3c3ff,#b7b7ff,#a8a8ff,#9797ff,#8383ff,#6c6cff,#5151ff,#33f,#1313ff,#0f00f0,#3100ce,#5300ac,#72008d,#8e0071,#a5005a,#b60049,#bf0040,#c0003f,#ba0045,#ac0053,#970068,#7c0083,#5e00a1,#3d00c2,#1a00e5,#0808ff,#2929ff,#4747ff,#6363ff,#7c7cff,#9191ff,#a3a3ff,#b2b2ff,#bfbfff,#c9c9ff,#d2d2ff,#d9d9ff,#dedeff,#e3e3ff,#e7e7ff,#eaeaff,#ededff,#f0f0ff)"></i><i style="background:linear-gradient(90deg,#fcfcff,#fcfcff,#fbfbff,#fbfbff,#fafaff,#f9f9ff,#f8f8ff,#f7f7ff,#f5f5ff,#f4f4ff,#f2f2ff,#f0f0ff,#ededff,#ebebff,#e7e7ff,#e4e4ff,#dfdfff,#dadaff,#d3d3ff,#cbcbff,#c1c1ff,#b5b5ff,#a6a6ff,#9595ff,#8080ff,#6969ff,#4d4dff,#2f2fff,#0f0fff,#1400eb,#3700c8,#5900a6,#790086,#95006a,#ac0053,#bd0042,#c60039,#c80037,#c1003e,#b3004c,#9e0061,#83007c,#64009b,#4200bd,#2000df,#0303ff,#2424ff,#4343ff,#6060ff,#7979ff,#8e8eff,#a1a1ff,#b0b0ff,#bdbdff,#c8c8ff,#d0d0ff,#d7d7ff,#ddf,#e2e2ff,#e6e6ff,#eaeaff,#ededff,#efefff)"></i><i style="background:linear-gradient(90deg,#fcfcff,#fcfcff,#fbfbff,#fafaff,#fafaff,#f9f9ff,#f8f8ff,#f6f6ff,#f5f5ff,#f3f3ff,#f1f1ff,#efefff,#ededff,#eaeaff,#e7e7ff,#e3e3ff,#dedeff,#d8d8ff,#d2d2ff,#c9c9ff,#bfbfff,#b3b3ff,#a4a4ff,#9292ff,#7e7eff,#6565ff,#4a4aff,#2b2bff,#0a0aff,#1800e7,#3c00c3,#5f00a0,#7f0080,#9c0063,#b3004c,#c4003b,#cd0032,#cf0030,#c80037,#ba0045,#a4005b,#890076,#6a0095,#4800b7,#2500da,#0100fe,#2020ff,#4040ff,#5c5cff,#7676ff,#8c8cff,#9e9eff,#aeaeff,#bbf,#c6c6ff,#cfcfff,#d6d6ff,#dcdcff,#e1e1ff,#e5e5ff,#e9e9ff,#ececff,#efefff)"></i><i style="background:linear-gradient(90deg,#fcfcff,#fbfbff,#fbfbff,#fafaff,#f9f9ff,#f8f8ff,#f7f7ff,#f6f6ff,#f5f5ff,#f3f3ff,#f1f1ff,#efefff,#ececff,#e9e9ff,#e6e6ff,#e2e2ff,#ddf,#d7d7ff,#d0d0ff,#c8c8ff,#bebeff,#b1b1ff,#a2a2ff,#9090ff,#7b7bff,#6262ff,#4747ff,#2828ff,#0606ff,#1d00e2,#4100be,#64009b,#85007a,#a2005d,#ba0045,#cb0034,#d4002b,#d60029,#cf0030,#c0003f,#ab0054,#8f0070,#70008f,#4d00b2,#2900d6,#0600f9,#1c1cff,#3c3cff,#5959ff,#7373ff,#8989ff,#9c9cff,#acacff,#babaff,#c5c5ff,#ceceff,#d5d5ff,#dbdbff,#e0e0ff,#e5e5ff,#e8e8ff,#ebebff,#eef)"></i><i style="background:linear-gradient(90deg,#fcfcff,#fbfbff,#fbfbff,#fafaff,#f9f9ff,#f8f8ff,#f7f7ff,#f6f6ff,#f4f4ff,#f2f2ff,#f0f0ff,#eef,#ececff,#e9e9ff,#e5e5ff,#e1e1ff,#dcdcff,#d6d6ff,#cfcfff,#c6c6ff,#bcbcff,#afafff,#a0a0ff,#8e8eff,#7878ff,#5f5fff,#4343ff,#2424ff,#0202ff,#20d,#4600b9,#690096,#8b0074,#a80057,#c0003f,#d1002e,#db0024,#dc0023,#d5002a,#c70038,#b1004e,#95006a,#75008a,#5200ad,#2e00d1,#0a00f5,#1919ff,#3939ff,#5656ff,#7070ff,#8787ff,#9a9aff,#aaf,#b8b8ff,#c3c3ff,#ccf,#d4d4ff,#dadaff,#dfdfff,#e4e4ff,#e7e7ff,#ebebff,#ededff)"></i><i style="background:linear-gradient(90deg,#fbfbff,#fbfbff,#fafaff,#fafaff,#f9f9ff,#f8f8ff,#f7f7ff,#f5f5ff,#f4f4ff,#f2f2ff,#f0f0ff,#eef,#ebebff,#e8e8ff,#e4e4ff,#e0e0ff,#dbdbff,#d5d5ff,#ceceff,#c5c5ff,#babaff,#aeaeff,#9e9eff,#8c8cff,#7676ff,#5d5dff,#4040ff,#2020ff,#0200fd,#2600d9,#4b00b4,#6e0091,#90006f,#ae0051,#c60039,#d70028,#e1001e,#e3001c,#dc0023,#cd0032,#b70048,#9b0064,#7a0085,#5700a8,#3200cd,#0e00f1,#1515ff,#3636ff,#5353ff,#6e6eff,#8585ff,#9898ff,#a9a9ff,#b6b6ff,#c2c2ff,#cbcbff,#d3d3ff,#d9d9ff,#dedeff,#e3e3ff,#e7e7ff,#eaeaff,#ededff)"></i><i style="background:linear-gradient(90deg,#fbfbff,#fbfbff,#fafaff,#f9f9ff,#f9f9ff,#f7f7ff,#f6f6ff,#f5f5ff,#f3f3ff,#f2f2ff,#efefff,#ededff,#eaeaff,#e7e7ff,#e3e3ff,#dfdfff,#dadaff,#d4d4ff,#cdcdff,#c4c4ff,#b9b9ff,#acacff,#9c9cff,#8989ff,#7373ff,#5a5aff,#3d3dff,#1d1dff,#0600f9,#2a00d5,#4f00b0,#73008c,#95006a,#b3004c,#cb0034,#d02,#e70018,#e80017,#e1001e,#d2002d,#bc0043,#a0005f,#7f0080,#5b00a4,#3700c8,#1200ed,#11f,#3232ff,#5050ff,#6b6bff,#8282ff,#9696ff,#a7a7ff,#b5b5ff,#c0c0ff,#cacaff,#d2d2ff,#d8d8ff,#dedeff,#e2e2ff,#e6e6ff,#e9e9ff,#ececff)"></i><i style="background:linear-gradient(90deg,#fbfbff,#fafaff,#fafaff,#f9f9ff,#f8f8ff,#f7f7ff,#f6f6ff,#f5f5ff,#f3f3ff,#f1f1ff,#efefff,#ededff,#eaeaff,#e6e6ff,#e3e3ff,#dedeff,#d9d9ff,#d3d3ff,#cbcbff,#c2c2ff,#b7b7ff,#aaf,#9a9aff,#8787ff,#7171ff,#5757ff,#3a3aff,#1a1aff,#0900f6,#2e00d1,#5300ac,#780087,#9a0065,#b80047,#d1002e,#e3001c,#ec0013,#e01,#e70018,#d80027,#c1003e,#a5005a,#84007b,#60009f,#3b00c4,#1500ea,#0e0eff,#3030ff,#4e4eff,#6969ff,#8080ff,#9494ff,#a5a5ff,#b3b3ff,#bfbfff,#c9c9ff,#d1d1ff,#d7d7ff,#ddf,#e1e1ff,#e5e5ff,#e9e9ff,#ececff)"></i><i style="background:linear-gradient(90deg,#fbfbff,#fafaff,#fafaff,#f9f9ff,#f8f8ff,#f7f7ff,#f6f6ff,#f4f4ff,#f3f3ff,#f1f1ff,#efefff,#ececff,#e9e9ff,#e6e6ff,#e2e2ff,#ddf,#d8d8ff,#d2d2ff,#cacaff,#c1c1ff,#b6b6ff,#a9a9ff,#99f,#8585ff,#6f6fff,#55f,#3838ff,#1717ff,#0c00f3,#3100ce,#5700a8,#7c0083,#9e0061,#bd0042,#d60029,#e80017,#f2000d,#f3000c,#ec0013,#d02,#c60039,#a90056,#807,#64009b,#3e00c1,#1900e6,#0b0bff,#2d2dff,#4b4bff,#66f,#7e7eff,#9292ff,#a3a3ff,#b2b2ff,#bebeff,#c7c7ff,#cfcfff,#d6d6ff,#dcdcff,#e1e1ff,#e5e5ff,#e8e8ff,#ebebff)"></i><i style="background:linear-gradient(90deg,#fbfbff,#fafaff,#f9f9ff,#f9f9ff,#f8f8ff,#f7f7ff,#f5f5ff,#f4f4ff,#f2f2ff,#f0f0ff,#eef,#ebebff,#e9e9ff,#e5e5ff,#e1e1ff,#ddf,#d7d7ff,#d1d1ff,#c9c9ff,#c0c0ff,#b5b5ff,#a7a7ff,#9797ff,#8484ff,#6d6dff,#5353ff,#3535ff,#1414ff,#0f00f0,#3500ca,#5b00a4,#80007f,#a2005d,#c1003e,#da0025,#ec0013,#f60009,#f80007,#f1000e,#e1001e,#ca0035,#ad0052,#8c0073,#670098,#4200bd,#1c00e3,#0808ff,#2a2aff,#4949ff,#6464ff,#7c7cff,#9191ff,#a2a2ff,#b0b0ff,#bcbcff,#c6c6ff,#ceceff,#d5d5ff,#dbdbff,#e0e0ff,#e4e4ff,#e7e7ff,#ebebff)"></i><i style="background:linear-gradient(90deg,#fafaff,#fafaff,#f9f9ff,#f8f8ff,#f7f7ff,#f6f6ff,#f5f5ff,#f3f3ff,#f2f2ff,#f0f0ff,#eef,#ebebff,#e8e8ff,#e5e5ff,#e1e1ff,#dcdcff,#d6d6ff,#d0d0ff,#c8c8ff,#bfbfff,#b3b3ff,#a6a6ff,#9595ff,#8282ff,#6b6bff,#5151ff,#33f,#11f,#1200ed,#3800c7,#5e00a1,#83007c,#a60059,#c5003a,#de0021,#f0000f,#fa0005,#fc0003,#f5000a,#e5001a,#ce0031,#b1004e,#90006f,#6b0094,#4500ba,#1f00e0,#0606ff,#2828ff,#4747ff,#6262ff,#7a7aff,#8f8fff,#a0a0ff,#afafff,#bbf,#c5c5ff,#cdcdff,#d4d4ff,#dadaff,#dfdfff,#e3e3ff,#e7e7ff,#eaeaff)"></i><i style="background:linear-gradient(90deg,#fafaff,#f9f9ff,#f9f9ff,#f8f8ff,#f7f7ff,#f6f6ff,#f5f5ff,#f3f3ff,#f1f1ff,#efefff,#ededff,#eaeaff,#e7e7ff,#e4e4ff,#e0e0ff,#dbdbff,#d6d6ff,#cfcfff,#c7c7ff,#bebeff,#b2b2ff,#a4a4ff,#9494ff,#8080ff,#6969ff,#4f4fff,#3030ff,#0f0fff,#1500ea,#3b00c4,#61009e,#860079,#a05,#c90036,#e2001d,#f4000b,#fe0001,#f00,#f90006,#e90016,#d2002d,#b5004a,#93006c,#6e0091,#4800b7,#20d,#0303ff,#2525ff,#4545ff,#6060ff,#7979ff,#8d8dff,#9f9fff,#aeaeff,#babaff,#c4c4ff,#ccf,#d3d3ff,#d9d9ff,#dedeff,#e3e3ff,#e6e6ff,#e9e9ff)"></i><i style="background:linear-gradient(90deg,#fafaff,#f9f9ff,#f8f8ff,#f8f8ff,#f7f7ff,#f6f6ff,#f4f4ff,#f3f3ff,#f1f1ff,#efefff,#ededff,#eaeaff,#e7e7ff,#e3e3ff,#dfdfff,#dadaff,#d5d5ff,#ceceff,#c6c6ff,#bcbcff,#b1b1ff,#a3a3ff,#9292ff,#7f7fff,#6767ff,#4d4dff,#2e2eff,#0d0dff,#1700e8,#3d00c2,#64009b,#890076,#ad0052,#c03,#e5001a,#f70008,#f00,#f00,#fc0003,#ec0013,#d5002a,#b80047,#960069,#71008e,#4a00b5,#2400db,#0101ff,#2323ff,#4343ff,#5f5fff,#77f,#8c8cff,#9e9eff,#adadff,#b9b9ff,#c3c3ff,#ccf,#d3d3ff,#d9d9ff,#dedeff,#e2e2ff,#e6e6ff,#e9e9ff)"></i><i style="background:linear-gradient(90deg,#f9f9ff,#f9f9ff,#f8f8ff,#f7f7ff,#f6f6ff,#f5f5ff,#f4f4ff,#f2f2ff,#f0f0ff,#eef,#ececff,#e9e9ff,#e6e6ff,#e3e3ff,#dedeff,#dadaff,#d4d4ff,#cdcdff,#c5c5ff,#bbf,#b0b0ff,#a2a2ff,#9191ff,#7d7dff,#66f,#4b4bff,#2d2dff,#0b0bff,#1900e6,#3f00c0,#609,#8c0073,#af0050,#ce0031,#e80017,#fa0005,#f00,#f00,#f00,#ef0010,#d80027,#ba0045,#980067,#73008c,#4d00b2,#2600d9,#0100fe,#22f,#4141ff,#5d5dff,#7676ff,#8b8bff,#9c9cff,#ababff,#b8b8ff,#c2c2ff,#cbcbff,#d2d2ff,#d8d8ff,#ddf,#e1e1ff,#e5e5ff,#e8e8ff)"></i><i style="background:linear-gradient(90deg,#f9f9ff,#f9f9ff,#f8f8ff,#f7f7ff,#f6f6ff,#f5f5ff,#f3f3ff,#f2f2ff,#f0f0ff,#eef,#ececff,#e9e9ff,#e6e6ff,#e2e2ff,#dedeff,#d9d9ff,#d3d3ff,#ccf,#c4c4ff,#bbf,#afafff,#a1a1ff,#9090ff,#7c7cff,#6464ff,#4a4aff,#2b2bff,#0909ff,#1b00e4,#4100be,#680097,#8e0071,#b1004e,#d1002e,#ea0015,#fd0002,#f00,#f00,#f00,#f1000e,#da0025,#bd0042,#9a0065,#75008a,#4f00b0,#2800d7,#0300fc,#2020ff,#4040ff,#5c5cff,#7474ff,#8989ff,#9b9bff,#aaf,#b7b7ff,#c1c1ff,#cacaff,#d1d1ff,#d7d7ff,#dcdcff,#e1e1ff,#e5e5ff,#e8e8ff)"></i><i style="background:linear-gradient(90deg,#f9f9ff,#f8f8ff,#f8f8ff,#f7f7ff,#f6f6ff,#f4f4ff,#f3f3ff,#f1f1ff,#f0f0ff,#eef,#ebebff,#e8e8ff,#e5e5ff,#e1e1ff,#ddf,#d8d8ff,#d3d3ff,#ccf,#c3c3ff,#babaff,#aeaeff,#a0a0ff,#8f8fff,#7b7bff,#6363ff,#4848ff,#2a2aff,#0808ff,#1d00e2,#4300bc,#6a0095,#90006f,#b3004c,#d3002c,#ec0013,#f00,#f00,#f00,#f00,#f3000c,#dc0023,#bf0040,#9c0063,#708,#5000af,#2a00d5,#0400fb,#1e1eff,#3e3eff,#5a5aff,#7373ff,#88f,#9a9aff,#a9a9ff,#b6b6ff,#c0c0ff,#c9c9ff,#d0d0ff,#d6d6ff,#dcdcff,#e0e0ff,#e4e4ff,#e7e7ff)"></i><i style="background:linear-gradient(90deg,#f8f8ff,#f8f8ff,#f7f7ff,#f6f6ff,#f5f5ff,#f4f4ff,#f3f3ff,#f1f1ff,#efefff,#ededff,#ebebff,#e8e8ff,#e5e5ff,#e1e1ff,#ddf,#d8d8ff,#d2d2ff,#cbcbff,#c3c3ff,#b9b9ff,#adadff,#9f9fff,#8e8eff,#7a7aff,#6262ff,#4747ff,#2828ff,#0707ff,#1e00e1,#40b,#6b0094,#91006e,#b5004a,#d4002b,#e01,#f00,#f00,#f00,#f00,#f5000a,#de0021,#c0003f,#9e0061,#780087,#5200ad,#2b00d4,#0600f9,#1d1dff,#3d3dff,#5959ff,#7272ff,#8787ff,#99f,#a9a9ff,#b5b5ff,#c0c0ff,#c8c8ff,#d0d0ff,#d6d6ff,#dbdbff,#e0e0ff,#e3e3ff,#e7e7ff)"></i><i style="background:linear-gradient(90deg,#f8f8ff,#f8f8ff,#f7f7ff,#f6f6ff,#f5f5ff,#f4f4ff,#f2f2ff,#f1f1ff,#efefff,#ededff,#eaeaff,#e7e7ff,#e4e4ff,#e0e0ff,#dcdcff,#d7d7ff,#d1d1ff,#cacaff,#c2c2ff,#b8b8ff,#acacff,#9e9eff,#8d8dff,#7979ff,#6161ff,#4646ff,#2727ff,#0606ff,#1f00e0,#4500ba,#6c0093,#92006d,#b60049,#d5002a,#ef0010,#f00,#f00,#f00,#f00,#f60009,#df0020,#c1003e,#9f0060,#790086,#5200ad,#2c00d3,#0700f8,#1c1cff,#3c3cff,#5858ff,#7171ff,#8787ff,#99f,#a8a8ff,#b4b4ff,#bfbfff,#c8c8ff,#cfcfff,#d5d5ff,#dbdbff,#dfdfff,#e3e3ff,#e6e6ff)"></i><i style="background:linear-gradient(90deg,#f8f8ff,#f7f7ff,#f6f6ff,#f5f5ff,#f4f4ff,#f3f3ff,#f2f2ff,#f0f0ff,#eef,#ececff,#eaeaff,#e7e7ff,#e4e4ff,#e0e0ff,#dbdbff,#d6d6ff,#d1d1ff,#cacaff,#c1c1ff,#b7b7ff,#acacff,#9d9dff,#8c8cff,#7878ff,#6161ff,#4545ff,#2727ff,#0505ff,#2000df,#4600b9,#6d0092,#93006c,#b60049,#d60029,#ef0010,#f00,#f00,#f00,#f00,#f60009,#df0020,#c1003e,#9f0060,#7a0085,#5300ac,#2c00d3,#0700f8,#1c1cff,#3b3bff,#5858ff,#7070ff,#8686ff,#9898ff,#a7a7ff,#b4b4ff,#bebeff,#c7c7ff,#ceceff,#d5d5ff,#dadaff,#dfdfff,#e2e2ff,#e6e6ff)"></i><i style="background:linear-gradient(90deg,#f7f7ff,#f7f7ff,#f6f6ff,#f5f5ff,#f4f4ff,#f3f3ff,#f1f1ff,#f0f0ff,#eef,#ececff,#e9e9ff,#e6e6ff,#e3e3ff,#dfdfff,#dbdbff,#d6d6ff,#d0d0ff,#c9c9ff,#c1c1ff,#b7b7ff,#ababff,#9d9dff,#8c8cff,#77f,#6060ff,#4545ff,#2626ff,#0404ff,#2000df,#4600b9,#6d0092,#93006c,#b60049,#d60029,#ef0010,#f00,#f00,#f00,#f00,#f60009,#df0020,#c1003e,#9f0060,#7a0085,#5300ac,#2d00d2,#0800f7,#1b1bff,#3b3bff,#5757ff,#7070ff,#8585ff,#9797ff,#a6a6ff,#b3b3ff,#bebeff,#c6c6ff,#ceceff,#d4d4ff,#d9d9ff,#dedeff,#e2e2ff,#e5e5ff)"></i><i style="background:linear-gradient(90deg,#f7f7ff,#f6f6ff,#f6f6ff,#f5f5ff,#f4f4ff,#f2f2ff,#f1f1ff,#efefff,#ededff,#ebebff,#e9e9ff,#e6e6ff,#e3e3ff,#dfdfff,#dadaff,#d5d5ff,#cfcfff,#c8c8ff,#c0c0ff,#b6b6ff,#aaf,#9c9cff,#8b8bff,#77f,#6060ff,#44f,#2626ff,#0404ff,#2000df,#4600b9,#6d0092,#93006c,#b60049,#d5002a,#e01,#f00,#f00,#f00,#f00,#f60009,#de0021,#c1003e,#9f0060,#7a0085,#5300ac,#2d00d2,#0800f7,#1b1bff,#3b3bff,#5757ff,#6f6fff,#8585ff,#9797ff,#a6a6ff,#b3b3ff,#bdbdff,#c6c6ff,#cdcdff,#d4d4ff,#d9d9ff,#ddf,#e1e1ff,#e5e5ff)"></i><i style="background:linear-gradient(90deg,#f6f6ff,#f6f6ff,#f5f5ff,#f4f4ff,#f3f3ff,#f2f2ff,#f0f0ff,#efefff,#ededff,#ebebff,#e8e8ff,#e5e5ff,#e2e2ff,#dedeff,#dadaff,#d5d5ff,#cfcfff,#c8c8ff,#c0c0ff,#b6b6ff,#aaf,#9c9cff,#8b8bff,#77f,#5f5fff,#44f,#2626ff,#0404ff,#2000df,#4600b9,#6c0093,#92006d,#b5004a,#d4002b,#ed0012,#f00,#f00,#f00,#f00,#f4000b,#d02,#c0003f,#9e0061,#790086,#5300ac,#2d00d2,#0800f7,#1b1bff,#3a3aff,#5757ff,#6f6fff,#8484ff,#9696ff,#a5a5ff,#b2b2ff,#bdbdff,#c5c5ff,#cdcdff,#d3d3ff,#d8d8ff,#ddf,#e1e1ff,#e4e4ff)"></i><i style="background:linear-gradient(90deg,#f6f6ff,#f5f5ff,#f5f5ff,#f4f4ff,#f3f3ff,#f1f1ff,#f0f0ff,#eef,#ececff,#eaeaff,#e8e8ff,#e5e5ff,#e2e2ff,#dedeff,#d9d9ff,#d4d4ff,#ceceff,#c8c8ff,#bfbfff,#b5b5ff,#aaf,#9b9bff,#8a8aff,#7676ff,#5f5fff,#44f,#2626ff,#0505ff,#1f00e0,#4500ba,#6b0094,#91006e,#b4004b,#d3002c,#ec0013,#fe0001,#f00,#f00,#f00,#f3000c,#dc0023,#bf0040,#9d0062,#780087,#5200ad,#2c00d3,#0700f8,#1b1bff,#3b3bff,#5757ff,#6f6fff,#8484ff,#9696ff,#a5a5ff,#b2b2ff,#bcbcff,#c5c5ff,#ccf,#d3d3ff,#d8d8ff,#ddf,#e1e1ff,#e4e4ff)"></i><i style="background:linear-gradient(90deg,#f5f5ff,#f5f5ff,#f4f4ff,#f3f3ff,#f2f2ff,#f1f1ff,#efefff,#eef,#ececff,#eaeaff,#e7e7ff,#e4e4ff,#e1e1ff,#ddf,#d9d9ff,#d4d4ff,#ceceff,#c7c7ff,#bfbfff,#b5b5ff,#a9a9ff,#9b9bff,#8a8aff,#7676ff,#5f5fff,#4545ff,#2727ff,#0505ff,#1e00e1,#40b,#6a0095,#8f0070,#b2004d,#d1002e,#ea0015,#fc0003,#f00,#f00,#f00,#f1000e,#da0025,#bd0042,#9b0064,#708,#5100ae,#2b00d4,#0700f8,#1c1cff,#3b3bff,#5757ff,#6f6fff,#8484ff,#9696ff,#a5a5ff,#b1b1ff,#bcbcff,#c5c5ff,#ccf,#d2d2ff,#d8d8ff,#dcdcff,#e0e0ff,#e3e3ff)"></i><i style="background:linear-gradient(90deg,#f5f5ff,#f4f4ff,#f4f4ff,#f3f3ff,#f2f2ff,#f0f0ff,#efefff,#ededff,#ebebff,#e9e9ff,#e7e7ff,#e4e4ff,#e1e1ff,#ddf,#d9d9ff,#d3d3ff,#ceceff,#c7c7ff,#bfbfff,#b5b5ff,#a9a9ff,#9b9bff,#8a8aff,#77f,#5f5fff,#4545ff,#2727ff,#0606ff,#1d00e2,#4300bc,#680097,#8d0072,#b0004f,#ce0031,#e70018,#f90006,#f00,#f00,#fd0002,#e01,#d70028,#b04,#906,#75008a,#4f00b0,#2a00d5,#0600f9,#1c1cff,#3b3bff,#5757ff,#6f6fff,#8484ff,#9696ff,#a5a5ff,#b1b1ff,#bcbcff,#c4c4ff,#ccf,#d2d2ff,#d7d7ff,#dcdcff,#e0e0ff,#e3e3ff)"></i><i style="background:linear-gradient(90deg,#f4f4ff,#f4f4ff,#f3f3ff,#f2f2ff,#f1f1ff,#f0f0ff,#eef,#ededff,#ebebff,#e9e9ff,#e6e6ff,#e3e3ff,#e0e0ff,#dcdcff,#d8d8ff,#d3d3ff,#cdcdff,#c6c6ff,#bebeff,#b4b4ff,#a9a9ff,#9b9bff,#8a8aff,#77f,#6060ff,#4646ff,#2828ff,#0707ff,#1c00e3,#4100be,#609,#8b0074,#ad0052,#cb0034,#e4001b,#f60009,#f00,#f00,#fa0005,#eb0014,#d4002b,#b80047,#970068,#73008c,#4e00b1,#2800d7,#0400fb,#1d1dff,#3c3cff,#5757ff,#6f6fff,#8484ff,#9696ff,#a5a5ff,#b1b1ff,#bbf,#c4c4ff,#cbcbff,#d1d1ff,#d7d7ff,#dbdbff,#dfdfff,#e3e3ff)"></i><i style="background:linear-gradient(90deg,#f4f4ff,#f3f3ff,#f2f2ff,#f1f1ff,#f0f0ff,#efefff,#eef,#ececff,#eaeaff,#e8e8ff,#e6e6ff,#e3e3ff,#e0e0ff,#dcdcff,#d8d8ff,#d3d3ff,#cdcdff,#c6c6ff,#bebeff,#b4b4ff,#a9a9ff,#9b9bff,#8a8aff,#77f,#6060ff,#4646ff,#2929ff,#0909ff,#1a00e5,#3f00c0,#64009b,#807,#a05,#c80037,#e0001f,#f2000d,#fc0003,#fd0002,#f60009,#e70018,#d1002e,#b5004a,#94006b,#70008f,#4b00b4,#2700d8,#0300fc,#1e1eff,#3d3dff,#5858ff,#7070ff,#8484ff,#9696ff,#a5a5ff,#b1b1ff,#bbf,#c4c4ff,#cbcbff,#d1d1ff,#d6d6ff,#dbdbff,#dfdfff,#e2e2ff)"></i><i style="background:linear-gradient(90deg,#f3f3ff,#f2f2ff,#f2f2ff,#f1f1ff,#f0f0ff,#efefff,#ededff,#ececff,#eaeaff,#e8e8ff,#e5e5ff,#e2e2ff,#dfdfff,#dbdbff,#d7d7ff,#d2d2ff,#cdcdff,#c6c6ff,#bebeff,#b4b4ff,#a9a9ff,#9b9bff,#8b8bff,#7878ff,#6161ff,#4747ff,#2a2aff,#0a0aff,#1800e7,#3d00c2,#61009e,#85007a,#a70058,#c4003b,#dc0023,#e01,#f80007,#f90006,#f2000d,#e3001c,#cd0032,#b1004e,#91006e,#6e0091,#4900b6,#2500da,#0100fe,#2020ff,#3e3eff,#5959ff,#7070ff,#8585ff,#9696ff,#a5a5ff,#b1b1ff,#bbf,#c3c3ff,#cbcbff,#d1d1ff,#d6d6ff,#dadaff,#dedeff,#e2e2ff)"></i><i style="background:linear-gradient(90deg,#f2f2ff,#f2f2ff,#f1f1ff,#f0f0ff,#efefff,#eef,#ededff,#ebebff,#e9e9ff,#e7e7ff,#e5e5ff,#e2e2ff,#dfdfff,#dbdbff,#d7d7ff,#d2d2ff,#ccf,#c6c6ff,#bebeff,#b4b4ff,#a9a9ff,#9b9bff,#8b8bff,#7878ff,#6262ff,#4848ff,#2c2cff,#0c0cff,#1600e9,#3a00c5,#5e00a1,#82007d,#a3005c,#c0003f,#d80027,#e90016,#f3000c,#f4000b,#ed0012,#df0020,#c90036,#ad0052,#8d0072,#6b0094,#4600b9,#20d,#0101ff,#2121ff,#3f3fff,#5a5aff,#7171ff,#8585ff,#9696ff,#a5a5ff,#b1b1ff,#bbf,#c3c3ff,#cacaff,#d0d0ff,#d6d6ff,#dadaff,#dedeff,#e1e1ff)"></i><i style="background:linear-gradient(90deg,#f2f2ff,#f1f1ff,#f0f0ff,#efefff,#eef,#ededff,#ececff,#eaeaff,#e9e9ff,#e6e6ff,#e4e4ff,#e1e1ff,#dedeff,#dbdbff,#d6d6ff,#d2d2ff,#ccf,#c5c5ff,#bdbdff,#b4b4ff,#a9a9ff,#9b9bff,#8c8cff,#7979ff,#6363ff,#4a4aff,#2d2dff,#0e0eff,#1400eb,#3700c8,#5b00a4,#7e0081,#9f0060,#bc0043,#d3002c,#e4001b,#e01,#ef0010,#e80017,#da0025,#c4003b,#a90056,#890076,#670098,#4300bc,#2000df,#0303ff,#2323ff,#4141ff,#5b5bff,#7272ff,#8686ff,#9797ff,#a5a5ff,#b1b1ff,#bbf,#c3c3ff,#cacaff,#d0d0ff,#d5d5ff,#dadaff,#ddf,#e1e1ff)"></i><i style="background:linear-gradient(90deg,#f1f1ff,#f0f0ff,#f0f0ff,#efefff,#eef,#ededff,#ebebff,#eaeaff,#e8e8ff,#e6e6ff,#e3e3ff,#e1e1ff,#dedeff,#dadaff,#d6d6ff,#d1d1ff,#ccf,#c5c5ff,#bdbdff,#b4b4ff,#a9a9ff,#9c9cff,#8c8cff,#7a7aff,#6464ff,#4b4bff,#2f2fff,#1010ff,#10e,#3400cb,#5700a8,#7a0085,#9a0065,#b70048,#ce0031,#df0020,#e80017,#ea0015,#e3001c,#d5002a,#bf0040,#a4005b,#85007a,#63009c,#4000bf,#1d00e2,#0505ff,#2525ff,#4242ff,#5c5cff,#7373ff,#8686ff,#9797ff,#a5a5ff,#b1b1ff,#bbf,#c3c3ff,#cacaff,#d0d0ff,#d5d5ff,#d9d9ff,#ddf,#e0e0ff)"></i><i style="background:linear-gradient(90deg,#f0f0ff,#efefff,#efefff,#eef,#ededff,#ececff,#ebebff,#e9e9ff,#e7e7ff,#e5e5ff,#e3e3ff,#e0e0ff,#ddf,#dadaff,#d6d6ff,#d1d1ff,#cbcbff,#c5c5ff,#bdbdff,#b4b4ff,#a9a9ff,#9c9cff,#8d8dff,#7a7aff,#6565ff,#4d4dff,#3131ff,#1212ff,#0e00f1,#3100ce,#5400ab,#760089,#95006a,#b2004d,#c80037,#d90026,#e2001d,#e4001b,#d02,#cf0030,#ba0045,#9f0060,#81007e,#5f00a0,#3c00c3,#1a00e5,#0808ff,#2727ff,#44f,#5d5dff,#7474ff,#8787ff,#9898ff,#a5a5ff,#b1b1ff,#bbf,#c3c3ff,#cacaff,#cfcfff,#d4d4ff,#d9d9ff,#dcdcff,#e0e0ff)"></i><i style="background:linear-gradient(90deg,#efefff,#efefff,#eef,#ededff,#ececff,#ebebff,#eaeaff,#e8e8ff,#e6e6ff,#e4e4ff,#e2e2ff,#e0e0ff,#ddf,#d9d9ff,#d5d5ff,#d0d0ff,#cbcbff,#c5c5ff,#bdbdff,#b4b4ff,#a9a9ff,#9d9dff,#8d8dff,#7b7bff,#66f,#4e4eff,#33f,#1515ff,#0b00f4,#2d00d2,#4f00b0,#71008e,#90006f,#ac0053,#c3003c,#d3002c,#dc0023,#d02,#d70028,#c90036,#b4004b,#9a0065,#7c0083,#5b00a4,#3900c6,#1700e8,#0a0aff,#2929ff,#4646ff,#5f5fff,#7575ff,#88f,#9898ff,#a6a6ff,#b1b1ff,#bbf,#c3c3ff,#c9c9ff,#cfcfff,#d4d4ff,#d8d8ff,#dcdcff,#dfdfff)"></i><i style="background:linear-gradient(90deg,#eef,#eef,#ededff,#ececff,#ebebff,#eaeaff,#e9e9ff,#e7e7ff,#e6e6ff,#e4e4ff,#e2e2ff,#dfdfff,#dcdcff,#d9d9ff,#d5d5ff,#d0d0ff,#cbcbff,#c5c5ff,#bdbdff,#b4b4ff,#aaf,#9d9dff,#8e8eff,#7c7cff,#6868ff,#5050ff,#3535ff,#1818ff,#0800f7,#2900d6,#4b00b4,#6c0093,#8b0074,#a60059,#bc0043,#c03,#d5002a,#d70028,#d0002f,#c2003d,#ae0051,#95006a,#708,#5600a9,#3500ca,#1300ec,#0d0dff,#2c2cff,#4747ff,#6060ff,#7676ff,#8989ff,#99f,#a6a6ff,#b1b1ff,#bbf,#c3c3ff,#c9c9ff,#cfcfff,#d4d4ff,#d8d8ff,#dbdbff,#dedeff)"></i><i style="background:linear-gradient(90deg,#ededff,#ededff,#ececff,#ebebff,#ebebff,#e9e9ff,#e8e8ff,#e7e7ff,#e5e5ff,#e3e3ff,#e1e1ff,#dedeff,#dbdbff,#d8d8ff,#d4d4ff,#d0d0ff,#cbcbff,#c4c4ff,#bdbdff,#b4b4ff,#aaf,#9e9eff,#8f8fff,#7d7dff,#6969ff,#5252ff,#3838ff,#1b1bff,#0500fa,#2500da,#4700b8,#670098,#85007a,#a0005f,#b60049,#c60039,#ce0031,#d0002f,#c90036,#bc0043,#a80057,#8f0070,#72008d,#5200ad,#3100ce,#1000ef,#1010ff,#2e2eff,#4a4aff,#6262ff,#77f,#8a8aff,#99f,#a6a6ff,#b2b2ff,#bbf,#c3c3ff,#c9c9ff,#cfcfff,#d3d3ff,#d7d7ff,#dbdbff,#dedeff)"></i><i style="background:linear-gradient(90deg,#ececff,#ececff,#ebebff,#eaeaff,#eaeaff,#e9e9ff,#e7e7ff,#e6e6ff,#e4e4ff,#e2e2ff,#e0e0ff,#dedeff,#dbdbff,#d7d7ff,#d4d4ff,#cfcfff,#cacaff,#c4c4ff,#bdbdff,#b5b5ff,#aaf,#9e9eff,#9090ff,#7f7fff,#6b6bff,#5454ff,#3a3aff,#1e1eff,#0100fe,#2100de,#4200bd,#62009d,#7f0080,#9a0065,#af0050,#be0041,#c70038,#c80037,#c2003d,#b5004a,#a1005e,#890076,#6c0093,#4d00b2,#2c00d3,#0c00f3,#1414ff,#3131ff,#4c4cff,#6464ff,#7979ff,#8b8bff,#9a9aff,#a7a7ff,#b2b2ff,#bbf,#c2c2ff,#c9c9ff,#ceceff,#d3d3ff,#d7d7ff,#dadaff,#ddf)"></i><i style="background:linear-gradient(90deg,#ebebff,#ebebff,#eaeaff,#eaeaff,#e9e9ff,#e8e8ff,#e6e6ff,#e5e5ff,#e3e3ff,#e1e1ff,#dfdfff,#ddf,#dadaff,#d7d7ff,#d3d3ff,#cfcfff,#cacaff,#c4c4ff,#bdbdff,#b5b5ff,#ababff,#9f9fff,#9191ff,#8080ff,#6c6cff,#5656ff,#3d3dff,#2121ff,#0303ff,#1d00e2,#3d00c2,#5c00a3,#790086,#93006c,#a80057,#b70048,#c0003f,#c1003e,#b04,#ae0051,#9b0064,#82007d,#609,#4800b7,#2800d7,#0800f7,#1717ff,#3434ff,#4e4eff,#6565ff,#7a7aff,#8c8cff,#9b9bff,#a7a7ff,#b2b2ff,#bbf,#c2c2ff,#c9c9ff,#ceceff,#d2d2ff,#d6d6ff,#dadaff,#ddf)"></i><i style="background:linear-gradient(90deg,#eaeaff,#eaeaff,#e9e9ff,#e8e8ff,#e8e8ff,#e7e7ff,#e5e5ff,#e4e4ff,#e2e2ff,#e1e1ff,#dfdfff,#dcdcff,#d9d9ff,#d6d6ff,#d3d3ff,#cfcfff,#cacaff,#c4c4ff,#bdbdff,#b5b5ff,#ababff,#9f9fff,#9191ff,#8181ff,#6e6eff,#5858ff,#3f3fff,#2424ff,#0606ff,#1900e6,#3800c7,#5600a9,#73008c,#8c0073,#a1005e,#b0004f,#b80047,#b90046,#b3004c,#a60059,#94006b,#7c0083,#60009f,#4200bd,#2300dc,#0400fb,#1a1aff,#3636ff,#5050ff,#6767ff,#7b7bff,#8d8dff,#9b9bff,#a8a8ff,#b2b2ff,#bbf,#c2c2ff,#c8c8ff,#ceceff,#d2d2ff,#d6d6ff,#d9d9ff,#dcdcff)"></i><i style="background:linear-gradient(90deg,#e9e9ff,#e9e9ff,#e8e8ff,#e7e7ff,#e7e7ff,#e6e6ff,#e4e4ff,#e3e3ff,#e2e2ff,#e0e0ff,#dedeff,#dbdbff,#d9d9ff,#d6d6ff,#d2d2ff,#ceceff,#c9c9ff,#c4c4ff,#bdbdff,#b5b5ff,#ababff,#a0a0ff,#9292ff,#8282ff,#7070ff,#5a5aff,#4242ff,#2727ff,#0a0aff,#1400eb,#30c,#5100ae,#6c0093,#85007a,#906,#a80057,#b0004f,#b1004e,#ab0054,#9f0060,#8c0073,#75008a,#5a00a5,#3d00c2,#1e00e1,#00f,#1e1eff,#3939ff,#5353ff,#6969ff,#7d7dff,#8e8eff,#9c9cff,#a8a8ff,#b3b3ff,#bbf,#c2c2ff,#c8c8ff,#cdcdff,#d2d2ff,#d5d5ff,#d8d8ff,#dbdbff)"></i><i style="background:linear-gradient(90deg,#e8e8ff,#e8e8ff,#e7e7ff,#e6e6ff,#e5e5ff,#e5e5ff,#e3e3ff,#e2e2ff,#e1e1ff,#dfdfff,#ddf,#dbdbff,#d8d8ff,#d5d5ff,#d2d2ff,#ceceff,#c9c9ff,#c3c3ff,#bdbdff,#b5b5ff,#acacff,#a1a1ff,#9393ff,#8484ff,#7171ff,#5c5cff,#4545ff,#2a2aff,#0e0eff,#0f00f0,#2d00d2,#4b00b4,#609,#7e0081,#92006d,#a0005f,#a80057,#a90056,#a3005c,#970068,#85007a,#6e0091,#5400ab,#3700c8,#1900e6,#0505ff,#2121ff,#3c3cff,#55f,#6b6bff,#7e7eff,#8f8fff,#9d9dff,#a9a9ff,#b3b3ff,#bbf,#c2c2ff,#c8c8ff,#cdcdff,#d1d1ff,#d5d5ff,#d8d8ff,#dbdbff)"></i><i style="background:linear-gradient(90deg,#e7e7ff,#e6e6ff,#e6e6ff,#e5e5ff,#e4e4ff,#e3e3ff,#e2e2ff,#e1e1ff,#e0e0ff,#dedeff,#dcdcff,#dadaff,#d7d7ff,#d4d4ff,#d1d1ff,#cdcdff,#c9c9ff,#c3c3ff,#bdbdff,#b5b5ff,#acacff,#a1a1ff,#9494ff,#8585ff,#7373ff,#5e5eff,#4747ff,#2e2eff,#1212ff,#0b00f4,#2800d7,#40b,#5f00a0,#708,#8a0075,#980067,#9f0060,#a1005e,#9b0064,#8f0070,#7e0081,#670098,#4e00b1,#3100ce,#1400eb,#0909ff,#2525ff,#3f3fff,#5757ff,#6d6dff,#8080ff,#9090ff,#9e9eff,#a9a9ff,#b3b3ff,#bbf,#c2c2ff,#c8c8ff,#ccf,#d1d1ff,#d4d4ff,#d7d7ff,#dadaff)"></i><i style="background:linear-gradient(90deg,#e6e6ff,#e5e5ff,#e5e5ff,#e4e4ff,#e3e3ff,#e2e2ff,#e1e1ff,#e0e0ff,#dfdfff,#ddf,#dbdbff,#d9d9ff,#d6d6ff,#d4d4ff,#d0d0ff,#cdcdff,#c8c8ff,#c3c3ff,#bdbdff,#b5b5ff,#acacff,#a2a2ff,#9595ff,#8686ff,#7575ff,#6161ff,#4a4aff,#3131ff,#1616ff,#0600f9,#20d,#3e00c1,#5800a7,#6f0090,#82007d,#90006f,#970068,#980067,#93006c,#870078,#760089,#60009f,#4700b8,#2c00d3,#0f00f0,#0d0dff,#2929ff,#4242ff,#5a5aff,#6f6fff,#8181ff,#9191ff,#9e9eff,#aaf,#b3b3ff,#bbf,#c2c2ff,#c7c7ff,#ccf,#d0d0ff,#d3d3ff,#d6d6ff,#d9d9ff)"></i><i style="background:linear-gradient(90deg,#e4e4ff,#e4e4ff,#e3e3ff,#e3e3ff,#e2e2ff,#e1e1ff,#e0e0ff,#dfdfff,#ddf,#dcdcff,#dadaff,#d8d8ff,#d6d6ff,#d3d3ff,#d0d0ff,#ccf,#c8c8ff,#c3c3ff,#bcbcff,#b5b5ff,#adadff,#a2a2ff,#9696ff,#8787ff,#7676ff,#6363ff,#4d4dff,#3535ff,#1a1aff,#0100fe,#1d00e2,#3800c7,#5100ae,#680097,#7a0085,#870078,#8f0070,#90006f,#8a0075,#7f0080,#6e0091,#5900a6,#4100be,#2600d9,#0a00f5,#1212ff,#2c2cff,#4545ff,#5c5cff,#7171ff,#8383ff,#9292ff,#9f9fff,#aaf,#b3b3ff,#bbf,#c2c2ff,#c7c7ff,#cbcbff,#cfcfff,#d3d3ff,#d6d6ff,#d8d8ff)"></i><i style="background:linear-gradient(90deg,#e3e3ff,#e2e2ff,#e2e2ff,#e1e1ff,#e1e1ff,#e0e0ff,#dfdfff,#dedeff,#dcdcff,#dbdbff,#d9d9ff,#d7d7ff,#d5d5ff,#d2d2ff,#cfcfff,#cbcbff,#c7c7ff,#c2c2ff,#bcbcff,#b5b5ff,#adadff,#a3a3ff,#9797ff,#8989ff,#7878ff,#6565ff,#5050ff,#3838ff,#1e1eff,#0404ff,#1700e8,#3200cd,#4b00b4,#60009f,#72008d,#7f0080,#860079,#870078,#82007d,#708,#670098,#5200ad,#3a00c5,#2000df,#0500fa,#1616ff,#3030ff,#4848ff,#5f5fff,#7373ff,#8484ff,#9393ff,#a0a0ff,#ababff,#b4b4ff,#bbf,#c1c1ff,#c7c7ff,#cbcbff,#cfcfff,#d2d2ff,#d5d5ff,#d7d7ff)"></i><i style="background:linear-gradient(90deg,#e1e1ff,#e1e1ff,#e1e1ff,#e0e0ff,#dfdfff,#dedeff,#ddf,#dcdcff,#dbdbff,#dadaff,#d8d8ff,#d6d6ff,#d4d4ff,#d1d1ff,#ceceff,#cbcbff,#c7c7ff,#c2c2ff,#bcbcff,#b5b5ff,#adadff,#a3a3ff,#9898ff,#8a8aff,#7a7aff,#6767ff,#5252ff,#3b3bff,#2323ff,#0909ff,#1200ed,#2c00d3,#40b,#5900a6,#6a0095,#708,#7d0082,#7e0081,#790086,#6f0090,#5f00a0,#4b00b4,#3400cb,#1a00e5,#00f,#1a1aff,#3434ff,#4b4bff,#6161ff,#7474ff,#8585ff,#9494ff,#a0a0ff,#ababff,#b4b4ff,#bbf,#c1c1ff,#c6c6ff,#cacaff,#ceceff,#d1d1ff,#d4d4ff,#d6d6ff)"></i><i style="background:linear-gradient(90deg,#e0e0ff,#e0e0ff,#dfdfff,#dedeff,#dedeff,#ddf,#dcdcff,#dbdbff,#dadaff,#d8d8ff,#d7d7ff,#d5d5ff,#d3d3ff,#d0d0ff,#cdcdff,#cacaff,#c6c6ff,#c1c1ff,#bcbcff,#b5b5ff,#adadff,#a4a4ff,#9898ff,#8b8bff,#7b7bff,#6969ff,#55f,#3f3fff,#2727ff,#0d0dff,#0c00f3,#2500da,#3d00c2,#5100ae,#62009d,#6e0091,#75008a,#760089,#71008e,#670098,#5700a8,#40b,#2d00d2,#1400eb,#0505ff,#1f1fff,#3737ff,#4e4eff,#6464ff,#7676ff,#8787ff,#9595ff,#a1a1ff,#ababff,#b4b4ff,#bbf,#c1c1ff,#c6c6ff,#cacaff,#cdcdff,#d0d0ff,#d3d3ff,#d5d5ff)"></i><i style="background:linear-gradient(90deg,#dedeff,#dedeff,#dedeff,#ddf,#dcdcff,#dcdcff,#dbdbff,#dadaff,#d8d8ff,#d7d7ff,#d5d5ff,#d4d4ff,#d2d2ff,#cfcfff,#ccf,#c9c9ff,#c5c5ff,#c1c1ff,#bbf,#b5b5ff,#adadff,#a4a4ff,#99f,#8c8cff,#7d7dff,#6c6cff,#5858ff,#4242ff,#2b2bff,#1212ff,#0700f8,#1f00e0,#3600c9,#4a00b5,#5a00a5,#609,#6c0093,#6d0092,#690096,#5e00a1,#5000af,#3d00c2,#2700d8,#0f00f0,#0a0aff,#2323ff,#3b3bff,#5151ff,#66f,#7878ff,#88f,#9696ff,#a2a2ff,#ababff,#b4b4ff,#bbf,#c0c0ff,#c5c5ff,#c9c9ff,#ccf,#cfcfff,#d2d2ff,#d4d4ff)"></i><i style="background:linear-gradient(90deg,#ddf,#dcdcff,#dcdcff,#dbdbff,#dbdbff,#dadaff,#d9d9ff,#d8d8ff,#d7d7ff,#d6d6ff,#d4d4ff,#d2d2ff,#d0d0ff,#ceceff,#cbcbff,#c8c8ff,#c5c5ff,#c0c0ff,#bbf,#b5b5ff,#adadff,#a4a4ff,#9a9aff,#8d8dff,#7e7eff,#6e6eff,#5a5aff,#4545ff,#2f2fff,#1717ff,#0100fe,#1900e6,#2f00d0,#4200bd,#5200ad,#5e00a1,#64009b,#65009a,#60009f,#5600a9,#4800b7,#3500ca,#2000df,#0900f6,#0f0fff,#2727ff,#3f3fff,#5454ff,#6868ff,#7a7aff,#8989ff,#9797ff,#a2a2ff,#acacff,#b4b4ff,#babaff,#c0c0ff,#c4c4ff,#c8c8ff,#ccf,#ceceff,#d1d1ff,#d3d3ff)"></i><i style="background:linear-gradient(90deg,#dbdbff,#dbdbff,#dadaff,#dadaff,#d9d9ff,#d9d9ff,#d8d8ff,#d7d7ff,#d6d6ff,#d4d4ff,#d3d3ff,#d1d1ff,#cfcfff,#cdcdff,#cacaff,#c7c7ff,#c4c4ff,#c0c0ff,#bbf,#b5b5ff,#adadff,#a5a5ff,#9a9aff,#8e8eff,#8080ff,#7070ff,#5d5dff,#4949ff,#33f,#1c1cff,#0404ff,#1300ec,#2800d7,#3b00c4,#4a00b5,#50a,#5b00a4,#5c00a3,#5800a7,#4e00b1,#4000bf,#2e00d1,#1a00e5,#0300fc,#1414ff,#2c2cff,#4242ff,#5757ff,#6a6aff,#7c7cff,#8b8bff,#9898ff,#a3a3ff,#acacff,#b4b4ff,#babaff,#bfbfff,#c4c4ff,#c8c8ff,#cbcbff,#cdcdff,#d0d0ff,#d2d2ff)"></i><i style="background:linear-gradient(90deg,#d9d9ff,#d9d9ff,#d9d9ff,#d8d8ff,#d8d8ff,#d7d7ff,#d6d6ff,#d5d5ff,#d4d4ff,#d3d3ff,#d2d2ff,#d0d0ff,#ceceff,#ccf,#c9c9ff,#c6c6ff,#c3c3ff,#bfbfff,#babaff,#b4b4ff,#adadff,#a5a5ff,#9b9bff,#8f8fff,#8181ff,#7171ff,#6060ff,#4c4cff,#3636ff,#2020ff,#0909ff,#0d00f2,#2100de,#3400cb,#4200bd,#4d00b2,#5300ac,#5400ab,#5000af,#4600b9,#3900c6,#2700d8,#1300ec,#0202ff,#1919ff,#3030ff,#4545ff,#5a5aff,#6d6dff,#7d7dff,#8c8cff,#9898ff,#a3a3ff,#acacff,#b3b3ff,#babaff,#bfbfff,#c3c3ff,#c7c7ff,#cacaff,#ccf,#cfcfff,#d1d1ff)"></i><i style="background:linear-gradient(90deg,#d8d8ff,#d7d7ff,#d7d7ff,#d6d6ff,#d6d6ff,#d5d5ff,#d5d5ff,#d4d4ff,#d3d3ff,#d1d1ff,#d0d0ff,#cfcfff,#cdcdff,#cbcbff,#c8c8ff,#c5c5ff,#c2c2ff,#bebeff,#babaff,#b4b4ff,#adadff,#a5a5ff,#9b9bff,#9090ff,#8383ff,#7373ff,#6262ff,#4f4fff,#3a3aff,#2525ff,#0f0fff,#0700f8,#1b00e4,#2c00d3,#3b00c4,#4500ba,#4b00b4,#4c00b3,#4700b8,#3f00c0,#3100ce,#2100de,#0d00f2,#0808ff,#1e1eff,#3434ff,#4949ff,#5d5dff,#6f6fff,#7f7fff,#8d8dff,#99f,#a3a3ff,#acacff,#b3b3ff,#b9b9ff,#bebeff,#c2c2ff,#c6c6ff,#c9c9ff,#cbcbff,#cdcdff,#cfcfff)"></i><i style="background:linear-gradient(90deg,#d6d6ff,#d6d6ff,#d5d5ff,#d5d5ff,#d4d4ff,#d4d4ff,#d3d3ff,#d2d2ff,#d1d1ff,#d0d0ff,#cfcfff,#cdcdff,#cbcbff,#c9c9ff,#c7c7ff,#c4c4ff,#c1c1ff,#bdbdff,#b9b9ff,#b3b3ff,#adadff,#a5a5ff,#9c9cff,#9191ff,#8484ff,#7575ff,#6464ff,#5252ff,#3e3eff,#2929ff,#1414ff,#0100fe,#1400eb,#2500da,#30c,#3d00c2,#4300bc,#40b,#4000bf,#3700c8,#2a00d5,#1a00e5,#0700f8,#0d0dff,#22f,#3838ff,#4c4cff,#5f5fff,#7171ff,#8080ff,#8e8eff,#9a9aff,#a4a4ff,#acacff,#b3b3ff,#b9b9ff,#bdbdff,#c1c1ff,#c5c5ff,#c8c8ff,#cacaff,#ccf,#ceceff)"></i><i style="background:linear-gradient(90deg,#d4d4ff,#d4d4ff,#d3d3ff,#d3d3ff,#d2d2ff,#d2d2ff,#d1d1ff,#d0d0ff,#cfcfff,#ceceff,#cdcdff,#ccf,#cacaff,#c8c8ff,#c6c6ff,#c3c3ff,#c0c0ff,#bdbdff,#b8b8ff,#b3b3ff,#adadff,#a5a5ff,#9c9cff,#9191ff,#8585ff,#77f,#6767ff,#55f,#4141ff,#2d2dff,#1919ff,#0505ff,#0e00f1,#1e00e1,#2c00d3,#3500ca,#3b00c4,#3c00c3,#3800c7,#2f00d0,#2300dc,#1300ec,#0100fe,#1212ff,#2727ff,#3b3bff,#4f4fff,#6262ff,#7373ff,#8282ff,#8f8fff,#9a9aff,#a4a4ff,#acacff,#b2b2ff,#b8b8ff,#bdbdff,#c1c1ff,#c4c4ff,#c6c6ff,#c9c9ff,#cbcbff,#cdcdff)"></i><i style="background:linear-gradient(90deg,#d2d2ff,#d2d2ff,#d1d1ff,#d1d1ff,#d1d1ff,#d0d0ff,#cfcfff,#cfcfff,#ceceff,#cdcdff,#cbcbff,#cacaff,#c8c8ff,#c7c7ff,#c4c4ff,#c2c2ff,#bfbfff,#bcbcff,#b7b7ff,#b2b2ff,#acacff,#a5a5ff,#9c9cff,#9292ff,#8686ff,#7878ff,#6969ff,#5757ff,#4545ff,#3131ff,#1e1eff,#0a0aff,#0800f7,#1800e7,#2500da,#2e00d1,#30c,#3400cb,#3000cf,#2800d7,#1c00e3,#0d00f2,#0505ff,#1818ff,#2b2bff,#3f3fff,#5252ff,#6464ff,#7474ff,#8383ff,#9090ff,#9a9aff,#a4a4ff,#ababff,#b2b2ff,#b7b7ff,#bcbcff,#c0c0ff,#c3c3ff,#c5c5ff,#c7c7ff,#c9c9ff,#cbcbff)"></i><i style="background:linear-gradient(90deg,#d0d0ff,#d0d0ff,#cfcfff,#cfcfff,#cfcfff,#ceceff,#cdcdff,#cdcdff,#ccf,#cbcbff,#cacaff,#c8c8ff,#c7c7ff,#c5c5ff,#c3c3ff,#c1c1ff,#bebeff,#bbf,#b7b7ff,#b2b2ff,#acacff,#a5a5ff,#9d9dff,#9393ff,#8787ff,#7a7aff,#6b6bff,#5a5aff,#4848ff,#3535ff,#22f,#1010ff,#0200fd,#10e,#1e00e1,#2700d8,#2b00d4,#2c00d3,#2900d6,#2100de,#1500ea,#0700f8,#0a0aff,#1d1dff,#3030ff,#4343ff,#55f,#66f,#7676ff,#8484ff,#9090ff,#9b9bff,#a4a4ff,#ababff,#b1b1ff,#b7b7ff,#bbf,#bebeff,#c1c1ff,#c4c4ff,#c6c6ff,#c8c8ff,#c9c9ff)"></i><i style="background:linear-gradient(90deg,#ceceff,#ceceff,#cdcdff,#cdcdff,#cdcdff,#ccf,#ccf,#cbcbff,#cacaff,#c9c9ff,#c8c8ff,#c7c7ff,#c5c5ff,#c4c4ff,#c2c2ff,#bfbfff,#bdbdff,#b9b9ff,#b6b6ff,#b1b1ff,#ababff,#a5a5ff,#9d9dff,#9393ff,#88f,#7b7bff,#6c6cff,#5c5cff,#4b4bff,#3939ff,#2727ff,#1515ff,#0404ff,#0b00f4,#1700e8,#1f00e0,#2400db,#2500da,#2100de,#1a00e5,#0f00f0,#0100fe,#1010ff,#2121ff,#3434ff,#4646ff,#5858ff,#6868ff,#77f,#8585ff,#9191ff,#9b9bff,#a4a4ff,#ababff,#b1b1ff,#b6b6ff,#babaff,#bdbdff,#c0c0ff,#c3c3ff,#c5c5ff,#c6c6ff,#c8c8ff)"></i><i style="background:linear-gradient(90deg,#ccf,#ccf,#cbcbff,#cbcbff,#cbcbff,#cacaff,#cacaff,#c9c9ff,#c8c8ff,#c7c7ff,#c6c6ff,#c5c5ff,#c4c4ff,#c2c2ff,#c0c0ff,#bebeff,#bbf,#b8b8ff,#b5b5ff,#b0b0ff,#ababff,#a4a4ff,#9c9cff,#9393ff,#8989ff,#7c7cff,#6e6eff,#5f5fff,#4e4eff,#3d3dff,#2b2bff,#1a1aff,#0a0aff,#0400fb,#1000ef,#1800e7,#1d00e2,#1e00e1,#1a00e5,#1300ec,#0800f7,#0505ff,#1515ff,#2626ff,#3838ff,#4949ff,#5a5aff,#6a6aff,#7979ff,#8686ff,#9191ff,#9b9bff,#a3a3ff,#aaf,#b0b0ff,#b5b5ff,#b9b9ff,#bcbcff,#bfbfff,#c1c1ff,#c3c3ff,#c5c5ff,#c6c6ff)"></i><i style="background:linear-gradient(90deg,#cacaff,#cacaff,#c9c9ff,#c9c9ff,#c9c9ff,#c8c8ff,#c8c8ff,#c7c7ff,#c6c6ff,#c5c5ff,#c4c4ff,#c3c3ff,#c2c2ff,#c0c0ff,#bfbfff,#bdbdff,#babaff,#b7b7ff,#b3b3ff,#afafff,#aaf,#a4a4ff,#9c9cff,#9494ff,#8989ff,#7d7dff,#7070ff,#6161ff,#5151ff,#4040ff,#2f2fff,#1f1fff,#0f0fff,#0202ff,#0a00f5,#1200ed,#1600e9,#1700e8,#1300ec,#0c00f3,#0200fd,#0b0bff,#1a1aff,#2a2aff,#3b3bff,#4c4cff,#5d5dff,#6c6cff,#7a7aff,#8787ff,#9292ff,#9b9bff,#a3a3ff,#aaf,#afafff,#b4b4ff,#b8b8ff,#bbf,#bdbdff,#c0c0ff,#c1c1ff,#c3c3ff,#c4c4ff)"></i><i style="background:linear-gradient(90deg,#c8c8ff,#c7c7ff,#c7c7ff,#c7c7ff,#c6c6ff,#c6c6ff,#c5c5ff,#c5c5ff,#c4c4ff,#c3c3ff,#c2c2ff,#c1c1ff,#c0c0ff,#bfbfff,#bdbdff,#bbf,#b9b9ff,#b6b6ff,#b2b2ff,#aeaeff,#a9a9ff,#a3a3ff,#9c9cff,#9494ff,#8a8aff,#7e7eff,#7171ff,#6363ff,#5454ff,#44f,#33f,#2323ff,#1414ff,#0707ff,#0300fc,#0b00f4,#0f00f0,#1000ef,#0d00f2,#0600f9,#0404ff,#1010ff,#1f1fff,#2f2fff,#3f3fff,#4f4fff,#5f5fff,#6e6eff,#7b7bff,#8787ff,#9292ff,#9b9bff,#a3a3ff,#a9a9ff,#aeaeff,#b3b3ff,#b6b6ff,#b9b9ff,#bcbcff,#bebeff,#c0c0ff,#c1c1ff,#c3c3ff)"></i><i style="background:linear-gradient(90deg,#c5c5ff,#c5c5ff,#c5c5ff,#c5c5ff,#c4c4ff,#c4c4ff,#c3c3ff,#c3c3ff,#c2c2ff,#c1c1ff,#c1c1ff,#bfbfff,#bebeff,#bdbdff,#bbf,#b9b9ff,#b7b7ff,#b4b4ff,#b1b1ff,#adadff,#a8a8ff,#a3a3ff,#9c9cff,#9494ff,#8a8aff,#7f7fff,#7373ff,#6565ff,#5656ff,#4747ff,#3737ff,#2828ff,#1919ff,#0d0dff,#0303ff,#0500fa,#0900f6,#0900f6,#0600f9,#00f,#0a0aff,#1616ff,#2424ff,#33f,#4242ff,#5252ff,#6161ff,#6f6fff,#7c7cff,#88f,#9292ff,#9b9bff,#a2a2ff,#a8a8ff,#adadff,#b1b1ff,#b5b5ff,#b8b8ff,#babaff,#bcbcff,#bebeff,#bfbfff,#c1c1ff)"></i><i style="background:linear-gradient(90deg,#c3c3ff,#c3c3ff,#c3c3ff,#c2c2ff,#c2c2ff,#c2c2ff,#c1c1ff,#c1c1ff,#c0c0ff,#bfbfff,#bebeff,#bebeff,#bcbcff,#bbf,#babaff,#b8b8ff,#b6b6ff,#b3b3ff,#b0b0ff,#acacff,#a7a7ff,#a2a2ff,#9b9bff,#9393ff,#8a8aff,#8080ff,#7474ff,#6767ff,#5959ff,#4a4aff,#3b3bff,#2c2cff,#1e1eff,#1212ff,#0808ff,#0101ff,#0300fc,#0300fc,#00f,#0606ff,#0f0fff,#1b1bff,#2828ff,#3636ff,#4646ff,#55f,#6363ff,#7171ff,#7d7dff,#88f,#9292ff,#9a9aff,#a1a1ff,#a7a7ff,#acacff,#b0b0ff,#b3b3ff,#b6b6ff,#b9b9ff,#babaff,#bcbcff,#bdbdff,#bfbfff)"></i><i style="background:linear-gradient(90deg,#c1c1ff,#c1c1ff,#c0c0ff,#c0c0ff,#c0c0ff,#bfbfff,#bfbfff,#bebeff,#bebeff,#bdbdff,#bcbcff,#bbf,#babaff,#b9b9ff,#b8b8ff,#b6b6ff,#b4b4ff,#b1b1ff,#aeaeff,#ababff,#a6a6ff,#a1a1ff,#9b9bff,#9393ff,#8a8aff,#8080ff,#7575ff,#6868ff,#5b5bff,#4c4cff,#3e3eff,#3030ff,#2323ff,#1717ff,#0e0eff,#0707ff,#0303ff,#0303ff,#0606ff,#0c0cff,#1414ff,#1f1fff,#2c2cff,#3a3aff,#4949ff,#5757ff,#6565ff,#7272ff,#7e7eff,#8989ff,#9292ff,#9a9aff,#a1a1ff,#a6a6ff,#ababff,#afafff,#b2b2ff,#b5b5ff,#b7b7ff,#b9b9ff,#babaff,#bbf,#bdbdff)"></i><i style="background:linear-gradient(90deg,#bebeff,#bebeff,#bebeff,#bebeff,#bebeff,#bdbdff,#bdbdff,#bcbcff,#bcbcff,#bbf,#babaff,#b9b9ff,#b8b8ff,#b7b7ff,#b6b6ff,#b4b4ff,#b2b2ff,#b0b0ff,#adadff,#a9a9ff,#a5a5ff,#a0a0ff,#9a9aff,#9393ff,#8a8aff,#8181ff,#7676ff,#6a6aff,#5d5dff,#4f4fff,#4141ff,#3434ff,#2727ff,#1c1cff,#1313ff,#0d0dff,#0909ff,#0909ff,#0b0bff,#11f,#1919ff,#2424ff,#3030ff,#3e3eff,#4b4bff,#5959ff,#6767ff,#7373ff,#7f7fff,#8989ff,#9292ff,#99f,#a0a0ff,#a5a5ff,#aaf,#adadff,#b0b0ff,#b3b3ff,#b5b5ff,#b7b7ff,#b8b8ff,#b9b9ff,#babaff)"></i><i style="background:linear-gradient(90deg,#bcbcff,#bcbcff,#bcbcff,#bbf,#bbf,#bbf,#babaff,#babaff,#b9b9ff,#b9b9ff,#b8b8ff,#b7b7ff,#b6b6ff,#b5b5ff,#b4b4ff,#b2b2ff,#b0b0ff,#aeaeff,#ababff,#a8a8ff,#a4a4ff,#9f9fff,#99f,#9292ff,#8a8aff,#8181ff,#77f,#6b6bff,#5f5fff,#5151ff,#44f,#3737ff,#2b2bff,#2121ff,#1818ff,#1212ff,#0e0eff,#0e0eff,#11f,#1616ff,#1e1eff,#2828ff,#3434ff,#4141ff,#4e4eff,#5b5bff,#6868ff,#7474ff,#7f7fff,#8989ff,#9191ff,#99f,#9f9fff,#a4a4ff,#a8a8ff,#acacff,#afafff,#b1b1ff,#b3b3ff,#b5b5ff,#b6b6ff,#b7b7ff,#b8b8ff)"></i><i style="background:linear-gradient(90deg,#babaff,#b9b9ff,#b9b9ff,#b9b9ff,#b9b9ff,#b8b8ff,#b8b8ff,#b8b8ff,#b7b7ff,#b7b7ff,#b6b6ff,#b5b5ff,#b4b4ff,#b3b3ff,#b2b2ff,#b0b0ff,#afafff,#acacff,#aaf,#a7a7ff,#a3a3ff,#9e9eff,#9898ff,#9292ff,#8a8aff,#8181ff,#77f,#6c6cff,#6060ff,#5454ff,#4747ff,#3b3bff,#2f2fff,#2525ff,#1d1dff,#1717ff,#1414ff,#1313ff,#1616ff,#1b1bff,#2323ff,#2c2cff,#3838ff,#44f,#5151ff,#5d5dff,#6969ff,#7575ff,#7f7fff,#8989ff,#9191ff,#9898ff,#9e9eff,#a3a3ff,#a7a7ff,#aaf,#adadff,#afafff,#b1b1ff,#b3b3ff,#b4b4ff,#b5b5ff,#b6b6ff)"></i><i style="background:linear-gradient(90deg,#b7b7ff,#b7b7ff,#b7b7ff,#b7b7ff,#b6b6ff,#b6b6ff,#b6b6ff,#b5b5ff,#b5b5ff,#b4b4ff,#b4b4ff,#b3b3ff,#b2b2ff,#b1b1ff,#b0b0ff,#aeaeff,#adadff,#ababff,#a8a8ff,#a5a5ff,#a1a1ff,#9d9dff,#9898ff,#9191ff,#8a8aff,#8181ff,#7878ff,#6d6dff,#6262ff,#5656ff,#4a4aff,#3e3eff,#33f,#2929ff,#2121ff,#1c1cff,#1919ff,#1818ff,#1b1bff,#2020ff,#2727ff,#3030ff,#3b3bff,#4747ff,#5353ff,#5f5fff,#6b6bff,#7575ff,#7f7fff,#88f,#9090ff,#9797ff,#9c9cff,#a1a1ff,#a5a5ff,#a8a8ff,#ababff,#adadff,#afafff,#b0b0ff,#b2b2ff,#b3b3ff,#b4b4ff)"></i><i style="background:linear-gradient(90deg,#b5b5ff,#b5b5ff,#b4b4ff,#b4b4ff,#b4b4ff,#b4b4ff,#b3b3ff,#b3b3ff,#b3b3ff,#b2b2ff,#b1b1ff,#b1b1ff,#b0b0ff,#afafff,#aeaeff,#acacff,#ababff,#a9a9ff,#a6a6ff,#a3a3ff,#a0a0ff,#9c9cff,#9797ff,#9090ff,#8989ff,#8181ff,#7878ff,#6e6eff,#6363ff,#5858ff,#4c4cff,#4141ff,#3636ff,#2d2dff,#2626ff,#2020ff,#1d1dff,#1d1dff,#1f1fff,#2424ff,#2b2bff,#3434ff,#3e3eff,#4949ff,#55f,#6060ff,#6c6cff,#7676ff,#8080ff,#88f,#8f8fff,#9696ff,#9b9bff,#a0a0ff,#a3a3ff,#a6a6ff,#a9a9ff,#ababff,#adadff,#aeaeff,#afafff,#b0b0ff,#b1b1ff)"></i><i style="background:linear-gradient(90deg,#b2b2ff,#b2b2ff,#b2b2ff,#b2b2ff,#b1b1ff,#b1b1ff,#b1b1ff,#b1b1ff,#b0b0ff,#b0b0ff,#afafff,#aeaeff,#aeaeff,#adadff,#acacff,#aaf,#a9a9ff,#a7a7ff,#a5a5ff,#a2a2ff,#9e9eff,#9a9aff,#9595ff,#9090ff,#8989ff,#8181ff,#7878ff,#6f6fff,#6464ff,#5959ff,#4e4eff,#44f,#3a3aff,#3131ff,#2a2aff,#2424ff,#22f,#2121ff,#2323ff,#2828ff,#2f2fff,#3737ff,#4141ff,#4c4cff,#5757ff,#6262ff,#6c6cff,#7676ff,#7f7fff,#88f,#8f8fff,#9595ff,#9a9aff,#9e9eff,#a2a2ff,#a4a4ff,#a7a7ff,#a9a9ff,#aaf,#acacff,#adadff,#aeaeff,#afafff)"></i><i style="background:linear-gradient(90deg,#b0b0ff,#afafff,#afafff,#afafff,#afafff,#afafff,#aeaeff,#aeaeff,#aeaeff,#adadff,#adadff,#acacff,#ababff,#aaf,#a9a9ff,#a8a8ff,#a7a7ff,#a5a5ff,#a3a3ff,#a0a0ff,#9d9dff,#99f,#9494ff,#8f8fff,#88f,#8181ff,#7878ff,#6f6fff,#6565ff,#5b5bff,#5050ff,#4646ff,#3d3dff,#3434ff,#2d2dff,#2828ff,#2626ff,#2525ff,#2727ff,#2c2cff,#3232ff,#3a3aff,#44f,#4e4eff,#5858ff,#6363ff,#6d6dff,#77f,#7f7fff,#8787ff,#8e8eff,#9393ff,#9898ff,#9c9cff,#a0a0ff,#a2a2ff,#a5a5ff,#a7a7ff,#a8a8ff,#a9a9ff,#aaf,#ababff,#acacff)"></i><i style="background:linear-gradient(90deg,#adadff,#acacff,#ababff,#a9a9ff,#a5a5ff,#9d9dff,#8c8cff,#6e6eff,#4848ff,#2d2dff,#2e2eff,#4c4cff,#7272ff,#8f8fff,#9e9eff,#a6a6ff,#a9a9ff)"></i><i style="background:linear-gradient(90deg,#aaf,#aaf,#a9a9ff,#a7a7ff,#a3a3ff,#9b9bff,#8b8bff,#6f6fff,#4b4bff,#3030ff,#3232ff,#4e4eff,#7272ff,#8d8dff,#9c9cff,#a3a3ff,#a7a7ff)"></i><i style="background:linear-gradient(90deg,#a8a8ff,#a7a7ff,#a6a6ff,#a4a4ff,#a1a1ff,#99f,#8a8aff,#6f6fff,#4c4cff,#33f,#3535ff,#5050ff,#7272ff,#8c8cff,#9a9aff,#a1a1ff,#a4a4ff)"></i><i style="background:linear-gradient(90deg,#a5a5ff,#a5a5ff,#a4a4ff,#a2a2ff,#9f9fff,#9898ff,#8989ff,#6f6fff,#4e4eff,#3636ff,#3838ff,#5252ff,#7272ff,#8b8bff,#9898ff,#9e9eff,#a1a1ff)"></i><i style="background:linear-gradient(90deg,#a2a2ff,#a2a2ff,#a1a1ff,#a0a0ff,#9c9cff,#9696ff,#88f,#6f6fff,#5050ff,#3939ff,#3a3aff,#5353ff,#7272ff,#8989ff,#9696ff,#9c9cff,#9e9eff)"></i><i style="background:linear-gradient(90deg,#a0a0ff,#9f9fff,#9f9fff,#9d9dff,#9a9aff,#9494ff,#8686ff,#6f6fff,#5151ff,#3c3cff,#3d3dff,#5454ff,#7272ff,#8787ff,#9393ff,#99f,#9c9cff)"></i><i style="background:linear-gradient(90deg,#9d9dff,#9d9dff,#9c9cff,#9b9bff,#9898ff,#9292ff,#8585ff,#6f6fff,#5252ff,#3e3eff,#3f3fff,#55f,#7171ff,#8686ff,#9191ff,#9696ff,#99f)"></i><i style="background:linear-gradient(90deg,#9a9aff,#9a9aff,#99f,#9898ff,#9595ff,#8f8fff,#8383ff,#6e6eff,#5454ff,#4040ff,#4141ff,#5656ff,#7171ff,#8484ff,#8f8fff,#9393ff,#9696ff)"></i><i style="background:linear-gradient(90deg,#9898ff,#9797ff,#9797ff,#9696ff,#9393ff,#8d8dff,#8282ff,#6e6eff,#5454ff,#4242ff,#4343ff,#5757ff,#7070ff,#8282ff,#8c8cff,#9191ff,#9393ff)"></i><i style="background:linear-gradient(90deg,#9595ff,#9595ff,#9494ff,#9393ff,#9191ff,#8b8bff,#8080ff,#6d6dff,#55f,#44f,#4545ff,#5858ff,#6f6fff,#8080ff,#8a8aff,#8e8eff,#9090ff)"></i><i style="background:linear-gradient(90deg,#9292ff,#9292ff,#9292ff,#9090ff,#8e8eff,#8989ff,#7f7fff,#6d6dff,#5656ff,#4545ff,#4646ff,#5858ff,#6e6eff,#7e7eff,#8787ff,#8b8bff,#8d8dff)"></i><i style="background:linear-gradient(90deg,#9090ff,#9090ff,#8f8fff,#8e8eff,#8c8cff,#8787ff,#7d7dff,#6c6cff,#5656ff,#4747ff,#4848ff,#5858ff,#6d6dff,#7c7cff,#8484ff,#88f,#8a8aff)"></i><i style="background:linear-gradient(90deg,#8d8dff,#8d8dff,#8c8cff,#8b8bff,#8989ff,#8585ff,#7b7bff,#6b6bff,#5757ff,#4848ff,#4949ff,#5959ff,#6c6cff,#7b7bff,#8282ff,#8585ff,#8787ff)"></i><i style="background:linear-gradient(90deg,#8b8bff,#8a8aff,#8a8aff,#8989ff,#8787ff,#8383ff,#7a7aff,#6a6aff,#5757ff,#4949ff,#4a4aff,#5959ff,#6b6bff,#7979ff,#7f7fff,#8383ff,#8484ff)"></i><i style="background:linear-gradient(90deg,#88f,#88f,#88f,#8787ff,#8585ff,#8181ff,#7878ff,#6a6aff,#5757ff,#4a4aff,#4b4bff,#5959ff,#6a6aff,#77f,#7d7dff,#8080ff,#8181ff)"></i><i style="background:linear-gradient(90deg,#8686ff,#8585ff,#8585ff,#8484ff,#8282ff,#7f7fff,#7676ff,#6969ff,#5858ff,#4b4bff,#4c4cff,#5959ff,#6969ff,#7575ff,#7b7bff,#7d7dff,#7f7fff)"></i><i style="background:linear-gradient(90deg,#8383ff,#8383ff,#8383ff,#8282ff,#8080ff,#7d7dff,#7575ff,#6868ff,#5858ff,#4c4cff,#4d4dff,#5959ff,#6868ff,#7373ff,#7878ff,#7b7bff,#7c7cff)"></i><i style="background:linear-gradient(90deg,#8181ff,#8181ff,#8080ff,#8080ff,#7e7eff,#7b7bff,#7373ff,#6767ff,#5858ff,#4d4dff,#4d4dff,#5959ff,#6767ff,#7171ff,#7676ff,#7878ff,#7a7aff)"></i><i style="background:linear-gradient(90deg,#7f7fff,#7f7fff,#7e7eff,#7e7eff,#7c7cff,#7979ff,#7272ff,#66f,#5858ff,#4d4dff,#4e4eff,#5959ff,#66f,#6f6fff,#7474ff,#7676ff,#77f)"></i><i style="background:linear-gradient(90deg,#7c7cff,#7c7cff,#7c7cff,#7b7bff,#7a7aff,#77f,#7070ff,#6565ff,#5858ff,#4e4eff,#4f4fff,#5959ff,#6565ff,#6e6eff,#7272ff,#7474ff,#7575ff)"></i><i style="background:linear-gradient(90deg,#7a7aff,#7a7aff,#7a7aff,#7979ff,#7878ff,#7575ff,#6f6fff,#6464ff,#5757ff,#4e4eff,#4f4fff,#5858ff,#6464ff,#6c6cff,#7070ff,#7272ff,#7272ff)"></i><i style="background:linear-gradient(90deg,#7878ff,#7878ff,#7878ff,#77f,#7676ff,#7373ff,#6d6dff,#6363ff,#5757ff,#4f4fff,#4f4fff,#5858ff,#6363ff,#6a6aff,#6e6eff,#6f6fff,#7070ff)"></i><i style="background:linear-gradient(90deg,#7676ff,#7676ff,#7676ff,#7575ff,#7474ff,#7171ff,#6c6cff,#6262ff,#5757ff,#4f4fff,#4f4fff,#5858ff,#6262ff,#6969ff,#6c6cff,#6e6eff,#6e6eff)"></i><i style="background:linear-gradient(90deg,#7474ff,#7474ff,#7474ff,#7373ff,#7272ff,#6f6fff,#6a6aff,#6161ff,#5757ff,#4f4fff,#5050ff,#5757ff,#6161ff,#6767ff,#6a6aff,#6c6cff,#6c6cff)"></i><i style="background:linear-gradient(90deg,#7272ff,#7272ff,#7272ff,#7272ff,#7070ff,#6e6eff,#6969ff,#6060ff,#5656ff,#4f4fff,#5050ff,#5757ff,#6060ff,#66f,#6969ff,#6a6aff,#6b6bff)"></i><i style="background:linear-gradient(90deg,#7171ff,#7070ff,#7070ff,#7070ff,#6f6fff,#6c6cff,#6767ff,#5f5fff,#5656ff,#4f4fff,#5050ff,#5757ff,#5f5fff,#6464ff,#6767ff,#6868ff,#6969ff)"></i><i style="background:linear-gradient(90deg,#6f6fff,#6f6fff,#6f6fff,#6e6eff,#6d6dff,#6b6bff,#66f,#5e5eff,#55f,#4f4fff,#4f4fff,#5656ff,#5e5eff,#6363ff,#66f,#6767ff,#6868ff)"></i><i style="background:linear-gradient(90deg,#6d6dff,#6d6dff,#6d6dff,#6c6cff,#6b6bff,#6969ff,#6565ff,#5d5dff,#55f,#4f4fff,#4f4fff,#5656ff,#5d5dff,#6262ff,#6464ff,#66f,#66f)"></i><i style="background:linear-gradient(90deg,#6c6cff,#6b6bff,#6b6bff,#6b6bff,#6a6aff,#6868ff,#6363ff,#5c5cff,#5454ff,#4f4fff,#4f4fff,#55f,#5c5cff,#6161ff,#6363ff,#6464ff,#6565ff)"></i><i style="background:linear-gradient(90deg,#6a6aff,#6a6aff,#6a6aff,#6969ff,#6868ff,#66f,#6262ff,#5b5bff,#5454ff,#4e4eff,#4f4fff,#5454ff,#5b5bff,#6060ff,#6262ff,#6363ff,#6464ff)"></i><i style="background:linear-gradient(90deg,#6969ff,#6969ff,#6868ff,#6868ff,#6767ff,#6565ff,#6161ff,#5a5aff,#5353ff,#4e4eff,#4e4eff,#5454ff,#5a5aff,#5f5fff,#6161ff,#6262ff,#6363ff)"></i><i style="background:linear-gradient(90deg,#6767ff,#6767ff,#6767ff,#6767ff,#66f,#6464ff,#6060ff,#5959ff,#5252ff,#4d4dff,#4e4eff,#5353ff,#5a5aff,#5e5eff,#6060ff,#6262ff,#6262ff)"></i><i style="background:linear-gradient(90deg,#66f,#66f,#66f,#6565ff,#6464ff,#6262ff,#5e5eff,#5858ff,#5252ff,#4d4dff,#4d4dff,#5353ff,#5959ff,#5d5dff,#6060ff,#6161ff,#6262ff)"></i><i style="background:linear-gradient(90deg,#6565ff,#6565ff,#6565ff,#6464ff,#6363ff,#6161ff,#5d5dff,#5757ff,#5151ff,#4c4cff,#4d4dff,#5252ff,#5858ff,#5d5dff,#5f5fff,#6161ff,#6161ff)"></i><i style="background:linear-gradient(90deg,#6464ff,#6464ff,#6363ff,#6363ff,#6262ff,#6060ff,#5c5cff,#5656ff,#5050ff,#4c4cff,#4c4cff,#5151ff,#5757ff,#5c5cff,#5f5fff,#6060ff,#6161ff)"></i><i style="background:linear-gradient(90deg,#6363ff,#6363ff,#6262ff,#6262ff,#6161ff,#5f5fff,#5b5bff,#55f,#4f4fff,#4b4bff,#4c4cff,#5050ff,#5757ff,#5b5bff,#5e5eff,#6060ff,#6161ff)"></i><i style="background:linear-gradient(90deg,#6262ff,#6262ff,#6161ff,#6161ff,#6060ff,#5e5eff,#5a5aff,#5454ff,#4e4eff,#4a4aff,#4b4bff,#5050ff,#5656ff,#5b5bff,#5e5eff,#6060ff,#6161ff)"></i><i style="background:linear-gradient(90deg,#6161ff,#6161ff,#6161ff,#6060ff,#5f5fff,#5d5dff,#5959ff,#5353ff,#4d4dff,#4a4aff,#4a4aff,#4f4fff,#55f,#5b5bff,#5e5eff,#6060ff,#6161ff)"></i><i style="background:linear-gradient(90deg,#6060ff,#6060ff,#6060ff,#5f5fff,#5e5eff,#5c5cff,#5858ff,#5353ff,#4d4dff,#4949ff,#4949ff,#4e4eff,#55f,#5a5aff,#5e5eff,#6060ff,#6161ff)"></i><i style="background:linear-gradient(90deg,#5f5fff,#5f5fff,#5f5fff,#5f5fff,#5e5eff,#5b5bff,#5757ff,#5252ff,#4c4cff,#4848ff,#4949ff,#4e4eff,#5454ff,#5a5aff,#5e5eff,#6060ff,#6161ff)"></i><i style="background:linear-gradient(90deg,#5f5fff,#5f5fff,#5f5fff,#5e5eff,#5d5dff,#5b5bff,#5757ff,#5151ff,#4b4bff,#4747ff,#4848ff,#4d4dff,#5454ff,#5a5aff,#5e5eff,#6161ff,#6262ff)"></i><i style="background:linear-gradient(90deg,#5e5eff,#5e5eff,#5e5eff,#5e5eff,#5d5dff,#5a5aff,#5656ff,#5050ff,#4a4aff,#4646ff,#4747ff,#4c4cff,#5353ff,#5a5aff,#5f5fff,#6161ff,#6262ff)"></i><i style="background:linear-gradient(90deg,#5e5eff,#5e5eff,#5e5eff,#5d5dff,#5c5cff,#5a5aff,#55f,#4f4fff,#4949ff,#4646ff,#4646ff,#4c4cff,#5353ff,#5a5aff,#5f5fff,#6262ff,#6363ff)"></i><i style="background:linear-gradient(90deg,#5e5eff,#5e5eff,#5e5eff,#5d5dff,#5c5cff,#5959ff,#55f,#4f4fff,#4949ff,#4545ff,#4646ff,#4b4bff,#5353ff,#5a5aff,#6060ff,#6262ff,#6464ff)"></i><i style="background:linear-gradient(90deg,#5e5eff,#5e5eff,#5d5dff,#5d5dff,#5c5cff,#5959ff,#5454ff,#4e4eff,#4848ff,#44f,#4545ff,#4b4bff,#5252ff,#5b5bff,#6060ff,#6363ff,#6565ff)"></i><i style="background:linear-gradient(90deg,#5e5eff,#5e5eff,#5d5dff,#5d5dff,#5b5bff,#5959ff,#5454ff,#4e4eff,#4747ff,#44f,#4545ff,#4a4aff,#5252ff,#5b5bff,#6161ff,#6464ff,#66f)"></i><i style="background:linear-gradient(90deg,#5e5eff,#5e5eff,#5d5dff,#5d5dff,#5b5bff,#5858ff,#5454ff,#4d4dff,#4747ff,#4343ff,#44f,#4a4aff,#5252ff,#5b5bff,#6262ff,#6565ff,#6767ff)"></i><i style="background:linear-gradient(90deg,#5e5eff,#5e5eff,#5e5eff,#5d5dff,#5b5bff,#5858ff,#5353ff,#4d4dff,#4646ff,#4242ff,#44f,#4949ff,#5252ff,#5c5cff,#6363ff,#66f,#6868ff)"></i><i style="background:linear-gradient(90deg,#5e5eff,#5e5eff,#5e5eff,#5d5dff,#5c5cff,#5959ff,#5353ff,#4d4dff,#4646ff,#4242ff,#4343ff,#4949ff,#5353ff,#5c5cff,#6464ff,#6767ff,#6969ff)"></i><i style="background:linear-gradient(90deg,#5f5fff,#5f5fff,#5e5eff,#5e5eff,#5c5cff,#5959ff,#5454ff,#4d4dff,#4646ff,#4242ff,#4343ff,#4949ff,#5353ff,#5d5dff,#6565ff,#6969ff,#6a6aff)"></i><i style="background:linear-gradient(90deg,#5f5fff,#5f5fff,#5f5fff,#5e5eff,#5c5cff,#5959ff,#5454ff,#4d4dff,#4646ff,#4242ff,#4343ff,#4949ff,#5353ff,#5e5eff,#66f,#6a6aff,#6c6cff)"></i><i style="background:linear-gradient(90deg,#6060ff,#6060ff,#5f5fff,#5f5fff,#5d5dff,#5a5aff,#5454ff,#4d4dff,#4646ff,#4242ff,#4343ff,#4a4aff,#5454ff,#5f5fff,#6767ff,#6b6bff,#6d6dff)"></i><i style="background:linear-gradient(90deg,#6161ff,#6060ff,#6060ff,#6060ff,#5e5eff,#5a5aff,#55f,#4d4dff,#4646ff,#4242ff,#4343ff,#4a4aff,#55f,#6060ff,#6868ff,#6d6dff,#6f6fff)"></i><i style="background:linear-gradient(90deg,#6262ff,#6161ff,#6161ff,#6161ff,#5f5fff,#5b5bff,#55f,#4e4eff,#4747ff,#4343ff,#44f,#4b4bff,#55f,#6161ff,#6a6aff,#6e6eff,#7070ff)"></i><i style="background:linear-gradient(90deg,#6363ff,#6363ff,#6262ff,#6262ff,#6060ff,#5c5cff,#5656ff,#4f4fff,#4848ff,#44f,#4545ff,#4c4cff,#5757ff,#6363ff,#6c6cff,#7070ff,#7272ff)"></i><i style="background:linear-gradient(90deg,#6464ff,#6464ff,#6464ff,#6363ff,#6161ff,#5e5eff,#5858ff,#5050ff,#4949ff,#4545ff,#4646ff,#4d4dff,#5858ff,#6464ff,#6d6dff,#7272ff,#7474ff)"></i><i style="background:linear-gradient(90deg,#66f,#66f,#66f,#6565ff,#6363ff,#5f5fff,#5959ff,#5252ff,#4a4aff,#4646ff,#4848ff,#4f4fff,#5a5aff,#66f,#7070ff,#7474ff,#7676ff)"></i><i style="background:linear-gradient(90deg,#6868ff,#6868ff,#6767ff,#6767ff,#6565ff,#6161ff,#5b5bff,#5353ff,#4c4cff,#4848ff,#4a4aff,#5151ff,#5c5cff,#6868ff,#7272ff,#77f,#7979ff)"></i><i style="background:linear-gradient(90deg,#6a6aff,#6a6aff,#6a6aff,#6969ff,#6767ff,#6363ff,#5d5dff,#5656ff,#4e4eff,#4a4aff,#4c4cff,#5353ff,#5e5eff,#6b6bff,#7474ff,#7979ff,#7b7bff)"></i><i style="background:linear-gradient(90deg,#6c6cff,#6c6cff,#6c6cff,#6b6bff,#6969ff,#66f,#6060ff,#5858ff,#5151ff,#4d4dff,#4e4eff,#55f,#6060ff,#6d6dff,#77f,#7c7cff,#7e7eff)"></i><i style="background:linear-gradient(90deg,#6f6fff,#6f6fff,#6e6eff,#6e6eff,#6c6cff,#6868ff,#6262ff,#5b5bff,#5353ff,#4f4fff,#5151ff,#5858ff,#6363ff,#7070ff,#7979ff,#7e7eff,#8080ff)"></i><i style="background:linear-gradient(90deg,#7171ff,#7171ff,#7171ff,#7070ff,#6e6eff,#6b6bff,#6565ff,#5d5dff,#5656ff,#5252ff,#5454ff,#5b5bff,#66f,#7373ff,#7c7cff,#8181ff,#8383ff)"></i><i style="background:linear-gradient(90deg,#7474ff,#7474ff,#7474ff,#7373ff,#7171ff,#6e6eff,#6868ff,#6161ff,#5a5aff,#5656ff,#5757ff,#5e5eff,#6969ff,#7676ff,#7f7fff,#8484ff,#8686ff)"></i><i style="background:linear-gradient(90deg,#77f,#77f,#77f,#7676ff,#7474ff,#7171ff,#6b6bff,#6464ff,#5d5dff,#5a5aff,#5b5bff,#6262ff,#6c6cff,#7979ff,#8282ff,#8787ff,#8989ff)"></i><i style="background:linear-gradient(90deg,#7a7aff,#7a7aff,#7a7aff,#7979ff,#77f,#7474ff,#6f6fff,#6868ff,#6161ff,#5d5dff,#5f5fff,#6565ff,#7070ff,#7c7cff,#8585ff,#8a8aff,#8c8cff)"></i><i style="background:linear-gradient(90deg,#7d7dff,#7d7dff,#7d7dff,#7c7cff,#7b7bff,#7878ff,#7272ff,#6b6bff,#6565ff,#6262ff,#6363ff,#6969ff,#7474ff,#8080ff,#8989ff,#8d8dff,#8f8fff)"></i><i style="background:linear-gradient(90deg,#8181ff,#8181ff,#8181ff,#8080ff,#7e7eff,#7b7bff,#7676ff,#7070ff,#6969ff,#66f,#6767ff,#6e6eff,#7878ff,#8383ff,#8c8cff,#9090ff,#9292ff)"></i><i style="background:linear-gradient(90deg,#8484ff,#8484ff,#8484ff,#8383ff,#8282ff,#7f7fff,#7a7aff,#7474ff,#6e6eff,#6b6bff,#6c6cff,#7272ff,#7c7cff,#8787ff,#8f8fff,#9494ff,#9696ff)"></i><i style="background:linear-gradient(90deg,#88f,#88f,#88f,#8787ff,#8686ff,#8383ff,#7e7eff,#7878ff,#7272ff,#6f6fff,#7171ff,#7676ff,#8080ff,#8b8bff,#9393ff,#9797ff,#99f)"></i><i style="background:linear-gradient(90deg,#8c8cff,#8c8cff,#8b8bff,#8b8bff,#8989ff,#8787ff,#8282ff,#7d7dff,#77f,#7474ff,#7676ff,#7b7bff,#8484ff,#8e8eff,#9696ff,#9b9bff,#9c9cff)"></i><i style="background:linear-gradient(90deg,#8f8fff,#8f8fff,#8f8fff,#8f8fff,#8d8dff,#8b8bff,#8686ff,#8181ff,#7c7cff,#7979ff,#7b7bff,#8080ff,#88f,#9292ff,#9a9aff,#9e9eff,#a0a0ff)"></i><i style="background:linear-gradient(90deg,#9393ff,#9393ff,#9393ff,#9292ff,#9191ff,#8f8fff,#8b8bff,#8686ff,#8181ff,#7e7eff,#8080ff,#8585ff,#8d8dff,#9696ff,#9e9eff,#a2a2ff,#a3a3ff)"></i><i style="background:linear-gradient(90deg,#9797ff,#9797ff,#9797ff,#9696ff,#9595ff,#9393ff,#8f8fff,#8a8aff,#8686ff,#8484ff,#8585ff,#8989ff,#9191ff,#9a9aff,#a1a1ff,#a5a5ff,#a7a7ff)"></i><i style="background:linear-gradient(90deg,#9b9bff,#9b9bff,#9b9bff,#9a9aff,#99f,#9797ff,#9494ff,#8f8fff,#8b8bff,#8989ff,#8a8aff,#8e8eff,#9696ff,#9e9eff,#a5a5ff,#a9a9ff,#aaf)"></i><i style="background:linear-gradient(90deg,#9f9fff,#9f9fff,#9f9fff,#9e9eff,#9d9dff,#9b9bff,#9898ff,#9494ff,#9090ff,#8e8eff,#8f8fff,#9393ff,#9a9aff,#a2a2ff,#a9a9ff,#acacff,#adadff)"></i><i style="background:linear-gradient(90deg,#a3a3ff,#a3a3ff,#a2a2ff,#a2a2ff,#a1a1ff,#9f9fff,#9c9cff,#99f,#9595ff,#9393ff,#9494ff,#9898ff,#9f9fff,#a6a6ff,#acacff,#b0b0ff,#b1b1ff)"></i><i style="background:linear-gradient(90deg,#a7a7ff,#a6a6ff,#a6a6ff,#a6a6ff,#a5a5ff,#a4a4ff,#a1a1ff,#9d9dff,#9a9aff,#99f,#99f,#9d9dff,#a3a3ff,#aaf,#b0b0ff,#b3b3ff,#b4b4ff)"></i><i style="background:linear-gradient(90deg,#aaf,#aaf,#aaf,#aaf,#a9a9ff,#a8a8ff,#a5a5ff,#a2a2ff,#9f9fff,#9e9eff,#9e9eff,#a2a2ff,#a7a7ff,#aeaeff,#b4b4ff,#b6b6ff,#b8b8ff)"></i><i style="background:linear-gradient(90deg,#aeaeff,#aeaeff,#aeaeff,#aeaeff,#adadff,#acacff,#aaf,#a7a7ff,#a4a4ff,#a3a3ff,#a3a3ff,#a6a6ff,#acacff,#b2b2ff,#b7b7ff,#babaff,#bbf)"></i><i style="background:linear-gradient(90deg,#b2b2ff,#b2b2ff,#b2b2ff,#b2b2ff,#b1b1ff,#b0b0ff,#aeaeff,#ababff,#a9a9ff,#a8a8ff,#a8a8ff,#ababff,#b0b0ff,#b6b6ff,#bbf,#bdbdff,#bebeff)"></i><i style="background:linear-gradient(90deg,#b6b6ff,#b6b6ff,#b6b6ff,#b5b5ff,#b5b5ff,#b4b4ff,#b2b2ff,#b0b0ff,#adadff,#acacff,#adadff,#b0b0ff,#b4b4ff,#babaff,#bebeff,#c0c0ff,#c1c1ff)"></i><i style="background:linear-gradient(90deg,#b9b9ff,#b9b9ff,#b9b9ff,#b9b9ff,#b9b9ff,#b8b8ff,#b6b6ff,#b4b4ff,#b2b2ff,#b1b1ff,#b2b2ff,#b4b4ff,#b8b8ff,#bdbdff,#c2c2ff,#c4c4ff,#c4c4ff)"></i><i style="background:linear-gradient(90deg,#bdbdff,#bdbdff,#bdbdff,#bdbdff,#bcbcff,#bbf,#babaff,#b8b8ff,#b6b6ff,#b6b6ff,#b6b6ff,#b8b8ff,#bcbcff,#c1c1ff,#c5c5ff,#c7c7ff,#c8c8ff)"></i><i style="background:linear-gradient(90deg,#c1c1ff,#c1c1ff,#c0c0ff,#c0c0ff,#c0c0ff,#bfbfff,#bebeff,#bcbcff,#bbf,#babaff,#babaff,#bcbcff,#c0c0ff,#c4c4ff,#c8c8ff,#cacaff,#cbcbff)"></i><i style="background:linear-gradient(90deg,#c4c4ff,#c4c4ff,#c4c4ff,#c4c4ff,#c3c3ff,#c3c3ff,#c2c2ff,#c0c0ff,#bfbfff,#bebeff,#bfbfff,#c0c0ff,#c4c4ff,#c8c8ff,#cbcbff,#cdcdff,#cdcdff)"></i><i style="background:linear-gradient(90deg,#c7c7ff,#c7c7ff,#c7c7ff,#c7c7ff,#c7c7ff,#c6c6ff,#c5c5ff,#c4c4ff,#c3c3ff,#c2c2ff,#c3c3ff,#c4c4ff,#c7c7ff,#cbcbff,#ceceff,#d0d0ff,#d0d0ff)"></i><i style="background:linear-gradient(90deg,#cbcbff,#cbcbff,#cbcbff,#cacaff,#cacaff,#cacaff,#c9c9ff,#c8c8ff,#c7c7ff,#c6c6ff,#c7c7ff,#c8c8ff,#cbcbff,#ceceff,#d1d1ff,#d3d3ff,#d3d3ff)"></i><i style="background:linear-gradient(90deg,#ceceff,#ceceff,#ceceff,#ceceff,#cdcdff,#cdcdff,#ccf,#cbcbff,#cacaff,#cacaff,#cacaff,#ccf,#ceceff,#d1d1ff,#d4d4ff,#d5d5ff,#d6d6ff)"></i><i style="background:linear-gradient(90deg,#d1d1ff,#d1d1ff,#d1d1ff,#d1d1ff,#d0d0ff,#d0d0ff,#cfcfff,#cfcfff,#ceceff,#cdcdff,#ceceff,#cfcfff,#d1d1ff,#d4d4ff,#d7d7ff,#d8d8ff,#d8d8ff)"></i><i style="background:linear-gradient(90deg,#d4d4ff,#d4d4ff,#d4d4ff,#d4d4ff,#d3d3ff,#d3d3ff,#d3d3ff,#d2d2ff,#d1d1ff,#d1d1ff,#d1d1ff,#d2d2ff,#d4d4ff,#d7d7ff,#d9d9ff,#dadaff,#dbdbff)"></i><i style="background:linear-gradient(90deg,#d6d6ff,#d6d6ff,#d6d6ff,#d6d6ff,#d6d6ff,#d6d6ff,#d5d5ff,#d5d5ff,#d4d4ff,#d4d4ff,#d4d4ff,#d5d5ff,#d7d7ff,#dadaff,#dcdcff,#ddf,#ddf)"></i><i style="background:linear-gradient(90deg,#d9d9ff,#d9d9ff,#d9d9ff,#d9d9ff,#d9d9ff,#d9d9ff,#d8d8ff,#d8d8ff,#d7d7ff,#d7d7ff,#d7d7ff,#d8d8ff,#dadaff,#dcdcff,#dedeff,#dfdfff,#dfdfff)"></i><i style="background:linear-gradient(90deg,#dcdcff,#dcdcff,#dcdcff,#dcdcff,#dcdcff,#dbdbff,#dbdbff,#dbdbff,#dadaff,#dadaff,#dadaff,#dbdbff,#dcdcff,#dfdfff,#e0e0ff,#e1e1ff,#e2e2ff)"></i><i style="background:linear-gradient(90deg,#dedeff,#dedeff,#dedeff,#dedeff,#dedeff,#dedeff,#dedeff,#ddf,#ddf,#ddf,#ddf,#dedeff,#dfdfff,#e1e1ff,#e3e3ff,#e3e3ff,#e4e4ff)"></i><i style="background:linear-gradient(90deg,#e1e1ff,#e1e1ff,#e0e0ff,#e0e0ff,#e0e0ff,#e0e0ff,#e0e0ff,#e0e0ff,#dfdfff,#dfdfff,#dfdfff,#e0e0ff,#e1e1ff,#e3e3ff,#e5e5ff,#e5e5ff,#e6e6ff)"></i><i style="background:linear-gradient(90deg,#e3e3ff,#e3e3ff,#e3e3ff,#e3e3ff,#e3e3ff,#e3e3ff,#e2e2ff,#e2e2ff,#e2e2ff,#e2e2ff,#e2e2ff,#e2e2ff,#e4e4ff,#e5e5ff,#e7e7ff,#e7e7ff,#e7e7ff)"></i><i style="background:linear-gradient(90deg,#e5e5ff,#e5e5ff,#e5e5ff,#e5e5ff,#e5e5ff,#e5e5ff,#e4e4ff,#e4e4ff,#e4e4ff,#e4e4ff,#e4e4ff,#e5e5ff,#e6e6ff,#e7e7ff,#e8e8ff,#e9e9ff,#e9e9ff)"></i><i style="background:linear-gradient(90deg,#e7e7ff,#e7e7ff,#e7e7ff,#e7e7ff,#e7e7ff,#e7e7ff,#e7e7ff,#e6e6ff,#e6e6ff,#e6e6ff,#e6e6ff,#e7e7ff,#e8e8ff,#e9e9ff,#eaeaff,#ebebff,#ebebff)"></i><i style="background:linear-gradient(90deg,#e9e9ff,#e9e9ff,#e9e9ff,#e9e9ff,#e9e9ff,#e9e9ff,#e8e8ff,#e8e8ff,#e8e8ff,#e8e8ff,#e8e8ff,#e9e9ff,#e9e9ff,#ebebff,#ececff,#ececff,#ececff)"></i><i style="background:linear-gradient(90deg,#eaeaff,#eaeaff,#eaeaff,#eaeaff,#eaeaff,#eaeaff,#eaeaff,#eaeaff,#eaeaff,#eaeaff,#eaeaff,#eaeaff,#ebebff,#ececff,#ededff,#eef,#eef)"></i><i style="background:linear-gradient(90deg,#ececff,#ececff,#ececff,#ececff,#ececff,#ececff,#ececff,#ececff,#ececff,#ececff,#ececff,#ececff,#ededff,#eef,#efefff,#efefff,#efefff)"></i><i style="background:linear-gradient(90deg,#eef,#eef,#eef,#eef,#eef,#eef,#eef,#ededff,#ededff,#ededff,#ededff,#eef,#eef,#efefff,#f0f0ff,#f0f0ff,#f1f1ff)"></i><i style="background:linear-gradient(90deg,#efefff,#efefff,#efefff,#efefff,#efefff,#efefff,#efefff,#efefff,#efefff,#efefff,#efefff,#efefff,#f0f0ff,#f1f1ff,#f1f1ff,#f2f2ff,#f2f2ff)"></i><i style="background:linear-gradient(90deg,#f0f0ff,#f0f0ff,#f0f0ff,#f0f0ff,#f0f0ff,#f0f0ff,#f0f0ff,#f0f0ff,#f0f0ff,#f0f0ff,#f0f0ff,#f1f1ff,#f1f1ff,#f2f2ff,#f2f2ff,#f3f3ff,#f3f3ff)"></i><i style="background:linear-gradient(90deg,#f2f2ff,#f2f2ff,#f2f2ff,#f2f2ff,#f2f2ff,#f2f2ff,#f2f2ff,#f2f2ff,#f2f2ff,#f2f2ff,#f2f2ff,#f2f2ff,#f2f2ff,#f3f3ff,#f4f4ff,#f4f4ff,#f4f4ff)"></i><i style="background:linear-gradient(90deg,#f3f3ff,#f3f3ff,#f3f3ff,#f3f3ff,#f3f3ff,#f3f3ff,#f3f3ff,#f3f3ff,#f3f3ff,#f3f3ff,#f3f3ff,#f3f3ff,#f3f3ff,#f4f4ff,#f5f5ff,#f5f5ff,#f5f5ff)"></i><i style="background:linear-gradient(90deg,#f4f4ff,#f4f4ff,#f4f4ff,#f4f4ff,#f4f4ff,#f4f4ff,#f4f4ff,#f4f4ff,#f4f4ff,#f4f4ff,#f4f4ff,#f4f4ff,#f4f4ff,#f5f5ff,#f6f6ff,#f6f6ff,#f6f6ff)"></i><i style="background:linear-gradient(90deg,#f5f5ff,#f5f5ff,#f5f5ff,#f5f5ff,#f5f5ff,#f5f5ff,#f5f5ff,#f5f5ff,#f5f5ff,#f5f5ff,#f5f5ff,#f5f5ff,#f5f5ff,#f6f6ff,#f6f6ff,#f7f7ff,#f7f7ff)"></i><i style="background:linear-gradient(90deg,#f6f6ff,#f6f6ff,#f6f6ff,#f6f6ff,#f6f6ff,#f6f6ff,#f6f6ff,#f6f6ff,#f6f6ff,#f6f6ff,#f6f6ff,#f6f6ff,#f6f6ff,#f7f7ff,#f7f7ff,#f7f7ff,#f7f7ff)"></i><i style="background:linear-gradient(90deg,#f7f7ff,#f7f7ff,#f7f7ff,#f7f7ff,#f7f7ff,#f7f7ff,#f7f7ff,#f7f7ff,#f7f7ff,#f7f7ff,#f7f7ff,#f7f7ff,#f7f7ff,#f8f8ff,#f8f8ff,#f8f8ff,#f8f8ff)"></i><i style="background:linear-gradient(90deg,#f8f8ff,#f8f8ff,#f8f8ff,#f8f8ff,#f8f8ff,#f8f8ff,#f8f8ff,#f8f8ff,#f8f8ff,#f8f8ff,#f8f8ff,#f8f8ff,#f8f8ff,#f8f8ff,#f9f9ff,#f9f9ff,#f9f9ff)"></i><i style="background:linear-gradient(90deg,#f8f8ff,#f8f8ff,#f8f8ff,#f8f8ff,#f8f8ff,#f8f8ff,#f8f8ff,#f8f8ff,#f8f8ff,#f8f8ff,#f8f8ff,#f8f8ff,#f9f9ff,#f9f9ff,#f9f9ff,#f9f9ff,#f9f9ff)"></i><i style="background:linear-gradient(90deg,#f9f9ff,#f9f9ff,#f9f9ff,#f9f9ff,#f9f9ff,#f9f9ff,#f9f9ff,#f9f9ff,#f9f9ff,#f9f9ff,#f9f9ff,#f9f9ff,#f9f9ff,#fafaff,#fafaff,#fafaff,#fafaff)"></i><i style="background:linear-gradient(90deg,#fafaff,#fafaff,#fafaff,#fafaff,#fafaff,#fafaff,#fafaff,#fafaff,#fafaff,#fafaff,#fafaff,#fafaff,#fafaff,#fafaff,#fafaff,#fafaff,#fafaff)"></i><i style="background:linear-gradient(90deg,#fafaff,#fafaff,#fafaff,#fafaff,#fafaff,#fafaff,#fafaff,#fafaff,#fafaff,#fafaff,#fafaff,#fafaff,#fafaff,#fbfbff,#fbfbff,#fbfbff,#fbfbff)"></i><i style="background:linear-gradient(90deg,#fbfbff,#fbfbff,#fbfbff,#fbfbff,#fbfbff,#fbfbff,#fbfbff,#fbfbff,#fbfbff,#fbfbff,#fbfbff,#fbfbff,#fbfbff,#fbfbff,#fbfbff,#fbfbff,#fbfbff)"></i><i style="background:linear-gradient(90deg,#fbfbff,#fbfbff,#fbfbff,#fbfbff,#fbfbff,#fbfbff,#fbfbff,#fbfbff,#fbfbff,#fbfbff,#fbfbff,#fbfbff,#fbfbff,#fbfbff,#fcfcff,#fcfcff,#fcfcff)"></i><i style="background:linear-gradient(90deg,#fcfcff,#fcfcff,#fcfcff,#fcfcff,#fcfcff,#fcfcff,#fcfcff,#fcfcff,#fcfcff,#fcfcff,#fcfcff,#fcfcff,#fcfcff,#fcfcff,#fcfcff,#fcfcff,#fcfcff)"></i><i style="background:linear-gradient(90deg,#fcfcff,#fcfcff,#fcfcff,#fcfcff,#fcfcff,#fcfcff,#fcfcff,#fcfcff,#fcfcff,#fcfcff,#fcfcff,#fcfcff,#fcfcff,#fcfcff,#fcfcff,#fcfcff,#fcfcff)"></i><i style="background:linear-gradient(90deg,#fcfcff,#fcfcff,#fcfcff,#fcfcff,#fcfcff,#fcfcff,#fcfcff,#fcfcff,#fcfcff,#fcfcff,#fcfcff,#fcfcff,#fcfcff,#fdfdff,#fdfdff,#fdfdff,#fdfdff)"></i><i style="background:linear-gradient(90deg,#fdfdff,#fdfdff,#fdfdff,#fdfdff,#fdfdff,#fdfdff,#fdfdff,#fdfdff,#fdfdff,#fdfdff,#fdfdff,#fdfdff,#fdfdff,#fdfdff,#fdfdff,#fdfdff,#fdfdff)"></i><i style="background:linear-gradient(90deg,#fdfdff,#fdfdff,#fdfdff,#fdfdff,#fdfdff,#fdfdff,#fdfdff,#fdfdff,#fdfdff,#fdfdff,#fdfdff,#fdfdff,#fdfdff,#fdfdff,#fdfdff,#fdfdff,#fdfdff)"></i><i style="background:linear-gradient(90deg,#fdfdff,#fdfdff,#fdfdff,#fdfdff,#fdfdff,#fdfdff,#fdfdff,#fdfdff,#fdfdff,#fdfdff,#fdfdff,#fdfdff,#fdfdff,#fdfdff,#fdfdff,#fdfdff,#fdfdff)"></i><i style="background:linear-gradient(90deg,#fdfdff,#fdfdff,#fdfdff,#fdfdff,#fdfdff,#fdfdff,#fdfdff,#fdfdff,#fdfdff,#fdfdff,#fdfdff,#fdfdff,#fdfdff,#fdfdff,#fefeff,#fefeff,#fefeff)"></i><i style="background:linear-gradient(90deg,#fefeff,#fefeff,#fefeff,#fefeff,#fefeff,#fefeff,#fefeff,#fefeff,#fefeff,#fefeff,#fefeff,#fefeff,#fefeff,#fefeff,#fefeff,#fefeff,#fefeff)"></i><i style="background:linear-gradient(90deg,#fefeff,#fefeff,#fefeff,#fefeff,#fefeff,#fefeff,#fefeff,#fefeff,#fefeff,#fefeff,#fefeff,#fefeff,#fefeff,#fefeff,#fefeff,#fefeff,#fefeff)"></i><i style="background:linear-gradient(90deg,#fefeff,#fefeff,#fefeff,#fefeff,#fefeff,#fefeff,#fefeff,#fefeff,#fefeff,#fefeff,#fefeff,#fefeff,#fefeff,#fefeff,#fefeff,#fefeff,#fefeff)"></i><i style="background:linear-gradient(90deg,#fefeff,#fefeff,#fefeff,#fefeff,#fefeff,#fefeff,#fefeff,#fefeff,#fefeff,#fefeff,#fefeff,#fefeff,#fefeff,#fefeff,#fefeff,#fefeff,#fefeff)"></i><i style="background:linear-gradient(90deg,#fefeff,#fefeff,#fefeff,#fefeff,#fefeff,#fefeff,#fefeff,#fefeff,#fefeff,#fefeff,#fefeff,#fefeff,#fefeff,#fefeff,#fefeff,#fefeff,#fefeff)"></i><i style="background:linear-gradient(90deg,#fefeff,#fefeff,#fefeff,#fefeff,#fefeff,#fefeff,#fefeff,#fefeff,#fefeff,#fefeff,#fefeff,#fefeff,#fefeff,#fefeff,#fefeff,#fefeff,#fefeff)"></i><i style="background:linear-gradient(90deg,#fefeff,#fefeff,#fefeff,#fefeff,#fefeff,#fefeff,#fefeff,#fefeff,#fefeff,#fefeff,#fefeff,#fefeff,#fefeff,#fefeff,#fefeff,#fefeff,#fefeff)"></i><i style="background:linear-gradient(90deg,#fefeff,#fefeff,#fefeff,#fefeff,#fefeff,#fefeff,#fefeff,#fefeff,#fefeff,#fefeff,#fefeff,#fefeff,#fefeff,#fefeff,#fefeff,#fff,#fff)"></i><i style="background:linear-gradient(90deg,#fefeff,#fefeff,#fefeff,#fefeff,#fefeff,#fefeff,#fefeff,#fefeff,#fefeff,#fefeff,#fefeff,#fefeff,#fff,#fff,#fff,#fff,#fff)"></i><i></i><i></i><i></i><i></i><i></i><i></i><i></i><i></i><i></i><i></i><i></i></div><div class="c" style="left:348.64px;width:183.8px"><i></i><i></i><i></i><i></i><i></i><i></i><i style="background:linear-gradient(90deg,#fefeff,#fff,#fff,#fff,#fff,#fff,#fff,#fff,#fff,#fff,#fff,#fff,#fff,#fff,#fff,#fff)"></i><i style="background:linear-gradient(90deg,#fefeff,#fff,#fff,#fff,#fff,#fff,#fff,#fff,#fff,#fff,#fff,#fff,#fff,#fff,#fff,#fff)"></i><i style="background:linear-gradient(90deg,#fefeff,#fff,#fff,#fff,#fff,#fff,#fff,#fff,#fff,#fff,#fff,#fff,#fff,#fff,#fff,#fff)"></i><i style="background:linear-gradient(90deg,#fefeff,#fff,#fff,#fff,#fff,#fff,#fff,#fff,#fff,#fff,#fff,#fff,#fff,#fff,#fff,#fff)"></i><i style="background:linear-gradient(90deg,#fefeff,#fff,#fff,#fff,#fff,#fff,#fff,#fff,#fff,#fff,#fff,#fff,#fff,#fff,#fff,#fff)"></i><i style="background:linear-gradient(90deg,#fefeff,#fff,#fff,#fff,#fff,#fff,#fff,#fff,#fff,#fff,#fff,#fff,#fff,#fff,#fff,#fff)"></i><i style="background:linear-gradient(90deg,#fefeff,#fff,#fff,#fff,#fff,#fff,#fff,#fff,#fff,#fff,#fff,#fff,#fff,#fff,#fff,#fff)"></i><i style="background:linear-gradient(90deg,#fefeff,#fefeff,#fff,#fff,#fff,#fff,#fff,#fff,#fff,#fff,#fff,#fff,#fff,#fff,#fff,#fff)"></i><i style="background:linear-gradient(90deg,#fefeff,#fefeff,#fff,#fff,#fff,#fff,#fff,#fff,#fff,#fff,#fff,#fff,#fff,#fff,#fff,#fff)"></i><i style="background:linear-gradient(90deg,#fefeff,#fefeff,#fff,#fff,#fff,#fff,#fff,#fff,#fff,#fff,#fff,#fff,#fff,#fff,#fff,#fff)"></i><i style="background:linear-gradient(90deg,#fefeff,#fefeff,#fff,#fff,#fff,#fff,#fff,#fff,#fff,#fff,#fff,#fff,#fff,#fff,#fff,#fff)"></i><i style="background:linear-gradient(90deg,#fdfdff,#fefeff,#fff,#fff,#fff,#fff,#fff,#fff,#fff,#fff,#fff,#fff,#fff,#fff,#fff,#fff)"></i><i style="background:linear-gradient(90deg,#fdfdff,#fefeff,#fff,#fff,#fff,#fff,#fff,#fff,#fff,#fff,#fff,#fff,#fff,#fff,#fff,#fff)"></i><i style="background:linear-gradient(90deg,#fdfdff,#fefeff,#fff,#fff,#fff,#fff,#fff,#fff,#fff,#fff,#fff,#fff,#fff,#fff,#fff,#fff)"></i><i style="background:linear-gradient(90deg,#fdfdff,#fefeff,#fefeff,#fff,#fff,#fff,#fff,#fff,#fff,#fff,#fff,#fff,#fff,#fff,#fff,#fff)"></i><i style="background:linear-gradient(90deg,#fdfdff,#fefeff,#fefeff,#fff,#fff,#fff,#fff,#fff,#fff,#fff,#fff,#fff,#fff,#fff,#fff,#fff)"></i><i style="background:linear-gradient(90deg,#fdfdff,#fefeff,#fefeff,#fff,#fff,#fff,#fff,#fff,#fff,#fff,#fff,#fff,#fff,#fff,#fff,#fff)"></i><i style="background:linear-gradient(90deg,#fcfcff,#fefeff,#fefeff,#fff,#fff,#fff,#fff,#fff,#fff,#fff,#fff,#fff,#fff,#fff,#fff,#fff)"></i><i style="background:linear-gradient(90deg,#fcfcff,#fefeff,#fefeff,#fff,#fff,#fff,#fff,#fff,#fff,#fff,#fff,#fff,#fff,#fff,#fff,#fff)"></i><i style="background:linear-gradient(90deg,#fcfcff,#fdfdff,#fefeff,#fff,#fff,#fff,#fff,#fff,#fff,#fff,#fff,#fff,#fff,#fff,#fff,#fff)"></i><i style="background:linear-gradient(90deg,#fcfcff,#fdfdff,#fefeff,#fff,#fff,#fff,#fff,#fff,#fff,#fff,#fff,#fff,#fff,#fff,#fff,#fff)"></i><i style="background:linear-gradient(90deg,#fcfcff,#fdfdff,#fefeff,#fefeff,#fff,#fff,#fff,#fff,#fff,#fff,#fff,#fff,#fff,#fff,#fff,#fff)"></i><i style="background:linear-gradient(90deg,#fbfbff,#fdfdff,#fefeff,#fefeff,#fff,#fff,#fff,#fff,#fff,#fff,#fff,#fff,#fff,#fff,#fff,#fff)"></i><i style="background:linear-gradient(90deg,#fbfbff,#fdfdff,#fefeff,#fefeff,#fff,#fff,#fff,#fff,#fff,#fff,#fff,#fff,#fff,#fff,#fff,#fff)"></i><i style="background:linear-gradient(90deg,#fbfbff,#fdfdff,#fefeff,#fefeff,#fff,#fff,#fff,#fff,#fff,#fff,#fff,#fff,#fff,#fff,#fff,#fff)"></i><i style="background:linear-gradient(90deg,#fafaff,#fcfcff,#fefeff,#fefeff,#fff,#fff,#fff,#fff,#fff,#fff,#fff,#fff,#fff,#fff,#fff,#fff)"></i><i style="background:linear-gradient(90deg,#fafaff,#fcfcff,#fefeff,#fefeff,#fff,#fff,#fff,#fff,#fff,#fff,#fff,#fff,#fff,#fff,#fff,#fff)"></i><i style="background:linear-gradient(90deg,#fafaff,#fcfcff,#fdfdff,#fefeff,#fefeff,#fff,#fff,#fff,#fff,#fff,#fff,#fff,#fff,#fff,#fff,#fff)"></i><i style="background:linear-gradient(90deg,#f9f9ff,#fcfcff,#fdfdff,#fefeff,#fefeff,#fff,#fff,#fff,#fff,#fff,#fff,#fff,#fff,#fff,#fff,#fff)"></i><i style="background:linear-gradient(90deg,#f9f9ff,#fcfcff,#fdfdff,#fefeff,#fefeff,#fff,#fff,#fff,#fff,#fff,#fff,#fff,#fff,#fff,#fff,#fff)"></i><i style="background:linear-gradient(90deg,#f9f9ff,#fbfbff,#fdfdff,#fefeff,#fefeff,#fff,#fff,#fff,#fff,#fff,#fff,#fff,#fff,#fff,#fff,#fff)"></i><i style="background:linear-gradient(90deg,#f8f8ff,#fbfbff,#fdfdff,#fefeff,#fefeff,#fefeff,#fff,#fff,#fff,#fff,#fff,#fff,#fff,#fff,#fff,#fff)"></i><i style="background:linear-gradient(90deg,#f8f8ff,#fbfbff,#fdfdff,#fefeff,#fefeff,#fefeff,#fff,#fff,#fff,#fff,#fff,#fff,#fff,#fff,#fff,#fff)"></i><i style="background:linear-gradient(90deg,#f7f7ff,#fbfbff,#fdfdff,#fefeff,#fefeff,#fefeff,#fefeff,#fff,#fff,#fff,#fff,#fff,#fff,#fff,#fff,#fff)"></i><i style="background:linear-gradient(90deg,#f7f7ff,#fafaff,#fcfcff,#fefeff,#fefeff,#fefeff,#fefeff,#fefeff,#fefeff,#fefeff,#fefeff,#fefeff,#fefeff,#fff,#fff,#fff)"></i><i style="background:linear-gradient(90deg,#f6f6ff,#fafaff,#fcfcff,#fdfdff,#fefeff,#fefeff,#fefeff,#fefeff,#fefeff,#fefeff,#fefeff,#fefeff,#fefeff,#fefeff,#fff,#fff)"></i><i style="background:linear-gradient(90deg,#f6f6ff,#fafaff,#fcfcff,#fdfdff,#fefeff,#fefeff,#fefeff,#fefeff,#fefeff,#fefeff,#fefeff,#fefeff,#fefeff,#fefeff,#fefeff,#fff)"></i><i style="background:linear-gradient(90deg,#f5f5ff,#fafaff,#fcfcff,#fdfdff,#fefeff,#fefeff,#fefeff,#fefeff,#fefeff,#fefeff,#fefeff,#fefeff,#fefeff,#fefeff,#fefeff,#fff)"></i><i style="background:linear-gradient(90deg,#f5f5ff,#f9f9ff,#fcfcff,#fdfdff,#fefeff,#fefeff,#fefeff,#fefeff,#fefeff,#fefeff,#fefeff,#fefeff,#fefeff,#fefeff,#fefeff,#fff)"></i><i style="background:linear-gradient(90deg,#f4f4ff,#f9f9ff,#fcfcff,#fdfdff,#fefeff,#fefeff,#fefeff,#fefeff,#fefeff,#fefeff,#fefeff,#fefeff,#fefeff,#fefeff,#fefeff,#fefeff)"></i><i style="background:linear-gradient(90deg,#f4f4ff,#f9f9ff,#fbfbff,#fdfdff,#fefeff,#fefeff,#fefeff,#fefeff,#fefeff,#fefeff,#fefeff,#fefeff,#fefeff,#fefeff,#fefeff,#fefeff)"></i><i style="background:linear-gradient(90deg,#f3f3ff,#f8f8ff,#fbfbff,#fdfdff,#fdfdff,#fefeff,#fefeff,#fefeff,#fefeff,#fefeff,#fefeff,#fefeff,#fefeff,#fefeff,#fefeff,#fefeff)"></i><i style="background:linear-gradient(90deg,#f2f2ff,#f8f8ff,#fbfbff,#fdfdff,#fdfdff,#fefeff,#fefeff,#fefeff,#fefeff,#fefeff,#fefeff,#fefeff,#fefeff,#fefeff,#fefeff,#fefeff)"></i><i style="background:linear-gradient(90deg,#f2f2ff,#f8f8ff,#fbfbff,#fcfcff,#fdfdff,#fefeff,#fefeff,#fefeff,#fefeff,#fefeff,#fefeff,#fefeff,#fefeff,#fefeff,#fefeff,#fefeff)"></i><i style="background:linear-gradient(90deg,#f1f1ff,#f7f7ff,#fafaff,#fcfcff,#fdfdff,#fefeff,#fefeff,#fefeff,#fefeff,#fefeff,#fefeff,#fefeff,#fefeff,#fefeff,#fefeff,#fefeff)"></i><i style="background:linear-gradient(90deg,#f1f1ff,#f7f7ff,#fafaff,#fcfcff,#fdfdff,#fdfdff,#fefeff,#fefeff,#fefeff,#fefeff,#fefeff,#fefeff,#fefeff,#fefeff,#fefeff,#fefeff)"></i><i style="background:linear-gradient(90deg,#f0f0ff,#f6f6ff,#fafaff,#fcfcff,#fdfdff,#fdfdff,#fefeff,#fefeff,#fefeff,#fefeff,#fefeff,#fefeff,#fefeff,#fefeff,#fefeff,#fefeff)"></i><i style="background:linear-gradient(90deg,#f0f0ff,#f6f6ff,#fafaff,#fcfcff,#fdfdff,#fdfdff,#fdfdff,#fefeff,#fefeff,#fefeff,#fefeff,#fefeff,#fefeff,#fefeff,#fefeff,#fefeff)"></i><i style="background:linear-gradient(90deg,#efefff,#f6f6ff,#fafaff,#fcfcff,#fdfdff,#fdfdff,#fdfdff,#fdfdff,#fdfdff,#fdfdff,#fdfdff,#fdfdff,#fdfdff,#fefeff,#fefeff,#fefeff)"></i><i style="background:linear-gradient(90deg,#eef,#f5f5ff,#f9f9ff,#fbfbff,#fdfdff,#fdfdff,#fdfdff,#fdfdff,#fdfdff,#fdfdff,#fdfdff,#fdfdff,#fdfdff,#fdfdff,#fefeff,#fefeff)"></i><i style="background:linear-gradient(90deg,#eef,#f5f5ff,#f9f9ff,#fbfbff,#fcfcff,#fdfdff,#fdfdff,#fdfdff,#fdfdff,#fdfdff,#fdfdff,#fdfdff,#fdfdff,#fdfdff,#fefeff,#fefeff)"></i><i style="background:linear-gradient(90deg,#ededff,#f5f5ff,#f9f9ff,#fbfbff,#fcfcff,#fdfdff,#fdfdff,#fdfdff,#fdfdff,#fdfdff,#fdfdff,#fdfdff,#fdfdff,#fdfdff,#fdfdff,#fefeff)"></i><i style="background:linear-gradient(90deg,#ededff,#f4f4ff,#f9f9ff,#fbfbff,#fcfcff,#fdfdff,#fdfdff,#fdfdff,#fdfdff,#fdfdff,#fdfdff,#fdfdff,#fdfdff,#fdfdff,#fdfdff,#fefeff)"></i><i style="background:linear-gradient(90deg,#ececff,#f4f4ff,#f8f8ff,#fbfbff,#fcfcff,#fdfdff,#fdfdff,#fdfdff,#fdfdff,#fdfdff,#fdfdff,#fdfdff,#fdfdff,#fdfdff,#fdfdff,#fefeff)"></i><i style="background:linear-gradient(90deg,#ebebff,#f3f3ff,#f8f8ff,#fbfbff,#fcfcff,#fcfcff,#fdfdff,#fdfdff,#fdfdff,#fdfdff,#fdfdff,#fdfdff,#fdfdff,#fdfdff,#fdfdff,#fefeff)"></i><i style="background:linear-gradient(90deg,#ebebff,#f3f3ff,#f8f8ff,#fafaff,#fcfcff,#fcfcff,#fcfcff,#fdfdff,#fdfdff,#fdfdff,#fdfdff,#fdfdff,#fdfdff,#fdfdff,#fdfdff,#fdfdff)"></i><i style="background:linear-gradient(90deg,#eaeaff,#f3f3ff,#f8f8ff,#fafaff,#fbfbff,#fcfcff,#fcfcff,#fcfcff,#fcfcff,#fcfcff,#fcfcff,#fcfcff,#fdfdff,#fdfdff,#fdfdff,#fdfdff)"></i><i style="background:linear-gradient(90deg,#eaeaff,#f2f2ff,#f7f7ff,#fafaff,#fbfbff,#fcfcff,#fcfcff,#fcfcff,#fcfcff,#fcfcff,#fcfcff,#fcfcff,#fcfcff,#fcfcff,#fdfdff,#fdfdff)"></i><i style="background:linear-gradient(90deg,#e9e9ff,#f2f2ff,#f7f7ff,#fafaff,#fbfbff,#fcfcff,#fcfcff,#fcfcff,#fcfcff,#fcfcff,#fcfcff,#fcfcff,#fcfcff,#fcfcff,#fdfdff,#fdfdff)"></i><i style="background:linear-gradient(90deg,#e9e9ff,#f2f2ff,#f7f7ff,#fafaff,#fbfbff,#fcfcff,#fcfcff,#fcfcff,#fcfcff,#fcfcff,#fcfcff,#fcfcff,#fcfcff,#fcfcff,#fcfcff,#fdfdff)"></i><i style="background:linear-gradient(90deg,#e8e8ff,#f1f1ff,#f7f7ff,#f9f9ff,#fbfbff,#fbfbff,#fcfcff,#fcfcff,#fcfcff,#fcfcff,#fcfcff,#fcfcff,#fcfcff,#fcfcff,#fcfcff,#fdfdff)"></i><i style="background:linear-gradient(90deg,#e8e8ff,#f1f1ff,#f6f6ff,#f9f9ff,#fbfbff,#fbfbff,#fbfbff,#fcfcff,#fcfcff,#fcfcff,#fcfcff,#fcfcff,#fcfcff,#fcfcff,#fcfcff,#fdfdff)"></i><i style="background:linear-gradient(90deg,#e7e7ff,#f1f1ff,#f6f6ff,#f9f9ff,#fafaff,#fbfbff,#fbfbff,#fbfbff,#fbfbff,#fbfbff,#fbfbff,#fbfbff,#fbfbff,#fcfcff,#fcfcff,#fdfdff)"></i><i style="background:linear-gradient(90deg,#e7e7ff,#f0f0ff,#f6f6ff,#f9f9ff,#fafaff,#fbfbff,#fbfbff,#fbfbff,#fbfbff,#fbfbff,#fbfbff,#fbfbff,#fbfbff,#fbfbff,#fcfcff,#fdfdff)"></i><i style="background:linear-gradient(90deg,#e7e7ff,#f0f0ff,#f5f5ff,#f8f8ff,#fafaff,#fbfbff,#fbfbff,#fbfbff,#fbfbff,#fbfbff,#fbfbff,#fbfbff,#fbfbff,#fbfbff,#fcfcff,#fcfcff)"></i><i style="background:linear-gradient(90deg,#e6e6ff,#f0f0ff,#f5f5ff,#f8f8ff,#fafaff,#fafaff,#fbfbff,#fbfbff,#fbfbff,#fbfbff,#fbfbff,#fbfbff,#fbfbff,#fbfbff,#fbfbff,#fcfcff)"></i><i style="background:linear-gradient(90deg,#e6e6ff,#efefff,#f5f5ff,#f8f8ff,#f9f9ff,#fafaff,#fafaff,#fafaff,#fafaff,#fafaff,#fafaff,#fbfbff,#fbfbff,#fbfbff,#fbfbff,#fcfcff)"></i><i style="background:linear-gradient(90deg,#e5e5ff,#efefff,#f5f5ff,#f8f8ff,#f9f9ff,#fafaff,#fafaff,#fafaff,#fafaff,#fafaff,#fafaff,#fafaff,#fafaff,#fbfbff,#fbfbff,#fcfcff)"></i><i style="background:linear-gradient(90deg,#e5e5ff,#efefff,#f4f4ff,#f7f7ff,#f9f9ff,#f9f9ff,#fafaff,#fafaff,#fafaff,#fafaff,#fafaff,#fafaff,#fafaff,#fafaff,#fbfbff,#fcfcff)"></i><i style="background:linear-gradient(90deg,#e5e5ff,#eef,#f4f4ff,#f7f7ff,#f8f8ff,#f9f9ff,#f9f9ff,#fafaff,#fafaff,#fafaff,#fafaff,#fafaff,#fafaff,#fafaff,#fbfbff,#fcfcff)"></i><i style="background:linear-gradient(90deg,#e4e4ff,#eef,#f4f4ff,#f7f7ff,#f8f8ff,#f9f9ff,#f9f9ff,#f9f9ff,#f9f9ff,#f9f9ff,#f9f9ff,#f9f9ff,#f9f9ff,#fafaff,#fafaff,#fbfbff)"></i><i style="background:linear-gradient(90deg,#e4e4ff,#eef,#f3f3ff,#f6f6ff,#f8f8ff,#f9f9ff,#f9f9ff,#f9f9ff,#f9f9ff,#f9f9ff,#f9f9ff,#f9f9ff,#f9f9ff,#f9f9ff,#fafaff,#fbfbff)"></i><i style="background:linear-gradient(90deg,#e4e4ff,#ededff,#f3f3ff,#f6f6ff,#f7f7ff,#f8f8ff,#f8f8ff,#f9f9ff,#f9f9ff,#f9f9ff,#f9f9ff,#f9f9ff,#f9f9ff,#f9f9ff,#fafaff,#fbfbff)"></i><i style="background:linear-gradient(90deg,#e3e3ff,#ededff,#f3f3ff,#f6f6ff,#f7f7ff,#f8f8ff,#f8f8ff,#f8f8ff,#f8f8ff,#f8f8ff,#f8f8ff,#f8f8ff,#f8f8ff,#f9f9ff,#f9f9ff,#fbfbff)"></i><i style="background:linear-gradient(90deg,#e3e3ff,#ededff,#f2f2ff,#f5f5ff,#f7f7ff,#f7f7ff,#f8f8ff,#f8f8ff,#f8f8ff,#f8f8ff,#f8f8ff,#f8f8ff,#f8f8ff,#f8f8ff,#f9f9ff,#fafaff)"></i><i style="background:linear-gradient(90deg,#e3e3ff,#ececff,#f2f2ff,#f5f5ff,#f6f6ff,#f7f7ff,#f7f7ff,#f7f7ff,#f7f7ff,#f7f7ff,#f7f7ff,#f7f7ff,#f8f8ff,#f8f8ff,#f9f9ff,#fafaff)"></i><i style="background:linear-gradient(90deg,#e3e3ff,#ececff,#f1f1ff,#f4f4ff,#f6f6ff,#f6f6ff,#f7f7ff,#f7f7ff,#f7f7ff,#f7f7ff,#f7f7ff,#f7f7ff,#f7f7ff,#f7f7ff,#f8f8ff,#fafaff)"></i><i style="background:linear-gradient(90deg,#e2e2ff,#ececff,#f1f1ff,#f4f4ff,#f5f5ff,#f6f6ff,#f6f6ff,#f6f6ff,#f6f6ff,#f6f6ff,#f6f6ff,#f6f6ff,#f7f7ff,#f7f7ff,#f8f8ff,#f9f9ff)"></i><i style="background:linear-gradient(90deg,#e2e2ff,#ebebff,#f0f0ff,#f3f3ff,#f5f5ff,#f5f5ff,#f6f6ff,#f6f6ff,#f6f6ff,#f6f6ff,#f6f6ff,#f6f6ff,#f6f6ff,#f6f6ff,#f7f7ff,#f9f9ff)"></i><i style="background:linear-gradient(90deg,#e2e2ff,#ebebff,#f0f0ff,#f3f3ff,#f4f4ff,#f5f5ff,#f5f5ff,#f5f5ff,#f5f5ff,#f5f5ff,#f5f5ff,#f5f5ff,#f5f5ff,#f6f6ff,#f7f7ff,#f9f9ff)"></i><i style="background:linear-gradient(90deg,#e1e1ff,#eaeaff,#efefff,#f2f2ff,#f3f3ff,#f4f4ff,#f4f4ff,#f4f4ff,#f4f4ff,#f4f4ff,#f4f4ff,#f5f5ff,#f5f5ff,#f5f5ff,#f6f6ff,#f8f8ff)"></i><i style="background:linear-gradient(90deg,#e1e1ff,#eaeaff,#efefff,#f1f1ff,#f3f3ff,#f3f3ff,#f4f4ff,#f4f4ff,#f4f4ff,#f4f4ff,#f4f4ff,#f4f4ff,#f4f4ff,#f5f5ff,#f6f6ff,#f8f8ff)"></i><i style="background:linear-gradient(90deg,#e0e0ff,#e9e9ff,#eef,#f1f1ff,#f2f2ff,#f3f3ff,#f3f3ff,#f3f3ff,#f3f3ff,#f3f3ff,#f3f3ff,#f3f3ff,#f3f3ff,#f4f4ff,#f5f5ff,#f7f7ff)"></i><i style="background:linear-gradient(90deg,#e0e0ff,#e8e8ff,#ededff,#f0f0ff,#f1f1ff,#f2f2ff,#f2f2ff,#f2f2ff,#f2f2ff,#f2f2ff,#f2f2ff,#f2f2ff,#f3f3ff,#f3f3ff,#f4f4ff,#f7f7ff)"></i><i style="background:linear-gradient(90deg,#dfdfff,#e8e8ff,#ececff,#efefff,#f0f0ff,#f1f1ff,#f1f1ff,#f1f1ff,#f1f1ff,#f1f1ff,#f1f1ff,#f1f1ff,#f2f2ff,#f2f2ff,#f4f4ff,#f6f6ff)"></i><i style="background:linear-gradient(90deg,#dfdfff,#e7e7ff,#ececff,#eef,#efefff,#f0f0ff,#f0f0ff,#f0f0ff,#f0f0ff,#f0f0ff,#f0f0ff,#f0f0ff,#f1f1ff,#f1f1ff,#f3f3ff,#f5f5ff)"></i><i style="background:linear-gradient(90deg,#dedeff,#e6e6ff,#ebebff,#ededff,#eef,#efefff,#efefff,#efefff,#efefff,#efefff,#efefff,#efefff,#f0f0ff,#f0f0ff,#f2f2ff,#f5f5ff)"></i><i style="background:linear-gradient(90deg,#dedeff,#e5e5ff,#eaeaff,#ececff,#ededff,#eef,#eef,#eef,#eef,#eef,#eef,#eef,#efefff,#f0f0ff,#f1f1ff,#f4f4ff)"></i><i style="background:linear-gradient(90deg,#ddf,#e4e4ff,#e9e9ff,#ebebff,#ececff,#ededff,#ededff,#ededff,#ededff,#ededff,#ededff,#ededff,#eef,#eef,#f0f0ff,#f3f3ff)"></i><i style="background:linear-gradient(90deg,#dcdcff,#e3e3ff,#e8e8ff,#eaeaff,#ebebff,#ebebff,#ececff,#ececff,#ececff,#ececff,#ececff,#ececff,#ededff,#ededff,#efefff,#f3f3ff)"></i><i style="background:linear-gradient(90deg,#dbdbff,#e2e2ff,#e6e6ff,#e9e9ff,#eaeaff,#eaeaff,#eaeaff,#eaeaff,#eaeaff,#ebebff,#ebebff,#ebebff,#ebebff,#ececff,#eef,#f2f2ff)"></i><i style="background:linear-gradient(90deg,#dbdbff,#e1e1ff,#e5e5ff,#e7e7ff,#e8e8ff,#e9e9ff,#e9e9ff,#e9e9ff,#e9e9ff,#e9e9ff,#e9e9ff,#eaeaff,#eaeaff,#ebebff,#ededff,#f1f1ff)"></i><i style="background:linear-gradient(90deg,#dadaff,#e0e0ff,#e4e4ff,#e6e6ff,#e7e7ff,#e7e7ff,#e8e8ff,#e8e8ff,#e8e8ff,#e8e8ff,#e8e8ff,#e8e8ff,#e9e9ff,#eaeaff,#ececff,#f0f0ff)"></i><i style="background:linear-gradient(90deg,#d9d9ff,#dfdfff,#e3e3ff,#e5e5ff,#e6e6ff,#e6e6ff,#e6e6ff,#e6e6ff,#e6e6ff,#e6e6ff,#e7e7ff,#e7e7ff,#e7e7ff,#e9e9ff,#ebebff,#efefff)"></i><i style="background:linear-gradient(90deg,#d8d8ff,#dedeff,#e1e1ff,#e3e3ff,#e4e4ff,#e4e4ff,#e5e5ff,#e5e5ff,#e5e5ff,#e5e5ff,#e5e5ff,#e5e5ff,#e6e6ff,#e7e7ff,#eaeaff,#eef)"></i><i style="background:linear-gradient(90deg,#d7d7ff,#dcdcff,#e0e0ff,#e2e2ff,#e2e2ff,#e3e3ff,#e3e3ff,#e3e3ff,#e3e3ff,#e3e3ff,#e3e3ff,#e4e4ff,#e5e5ff,#e6e6ff,#e9e9ff,#ededff)"></i><i style="background:linear-gradient(90deg,#d5d5ff,#dbdbff,#dedeff,#e0e0ff,#e1e1ff,#e1e1ff,#e1e1ff,#e1e1ff,#e1e1ff,#e2e2ff,#e2e2ff,#e2e2ff,#e3e3ff,#e5e5ff,#e7e7ff,#ececff)"></i><i style="background:linear-gradient(90deg,#d4d4ff,#dadaff,#ddf,#dedeff,#dfdfff,#dfdfff,#e0e0ff,#e0e0ff,#e0e0ff,#e0e0ff,#e0e0ff,#e1e1ff,#e2e2ff,#e3e3ff,#e6e6ff,#ebebff)"></i><i style="background:linear-gradient(90deg,#d3d3ff,#d8d8ff,#dbdbff,#ddf,#ddf,#dedeff,#dedeff,#dedeff,#dedeff,#dedeff,#dfdfff,#dfdfff,#e0e0ff,#e2e2ff,#e5e5ff,#eaeaff)"></i><i style="background:linear-gradient(90deg,#d2d2ff,#d7d7ff,#d9d9ff,#dbdbff,#dcdcff,#dcdcff,#dcdcff,#dcdcff,#dcdcff,#ddf,#ddf,#dedeff,#dfdfff,#e1e1ff,#e4e4ff,#e9e9ff)"></i><i style="background:linear-gradient(90deg,#d0d0ff,#d5d5ff,#d8d8ff,#d9d9ff,#dadaff,#dadaff,#dadaff,#dadaff,#dbdbff,#dbdbff,#dbdbff,#dcdcff,#dedeff,#dfdfff,#e2e2ff,#e8e8ff)"></i><i style="background:linear-gradient(90deg,#cfcfff,#d4d4ff,#d6d6ff,#d7d7ff,#d8d8ff,#d8d8ff,#d9d9ff,#d9d9ff,#d9d9ff,#d9d9ff,#dadaff,#dbdbff,#dcdcff,#dedeff,#e1e1ff,#e7e7ff)"></i><i style="background:linear-gradient(90deg,#ceceff,#d2d2ff,#d4d4ff,#d6d6ff,#d6d6ff,#d7d7ff,#d7d7ff,#d7d7ff,#d7d7ff,#d7d7ff,#d8d8ff,#d9d9ff,#dbdbff,#ddf,#e0e0ff,#e6e6ff)"></i><i style="background:linear-gradient(90deg,#ccf,#d0d0ff,#d3d3ff,#d4d4ff,#d4d4ff,#d5d5ff,#d5d5ff,#d5d5ff,#d5d5ff,#d6d6ff,#d6d6ff,#d8d8ff,#dadaff,#dcdcff,#dfdfff,#e5e5ff)"></i><i style="background:linear-gradient(90deg,#cbcbff,#cfcfff,#d1d1ff,#d2d2ff,#d3d3ff,#d3d3ff,#d3d3ff,#d3d3ff,#d3d3ff,#d4d4ff,#d5d5ff,#d7d7ff,#d9d9ff,#dbdbff,#dedeff,#e4e4ff)"></i><i style="background:linear-gradient(90deg,#cacaff,#cdcdff,#cfcfff,#d0d0ff,#d1d1ff,#d1d1ff,#d1d1ff,#d1d1ff,#d2d2ff,#d2d2ff,#d3d3ff,#d5d5ff,#d8d8ff,#dadaff,#ddf,#e3e3ff)"></i><i style="background:linear-gradient(90deg,#c8c8ff,#ccf,#ceceff,#cfcfff,#cfcfff,#cfcfff,#cfcfff,#d0d0ff,#d0d0ff,#d0d0ff,#d2d2ff,#d4d4ff,#d7d7ff,#d9d9ff,#dcdcff,#e2e2ff)"></i><i style="background:linear-gradient(90deg,#c7c7ff,#cacaff,#ccf,#cdcdff,#cdcdff,#ceceff,#ceceff,#ceceff,#ceceff,#cfcfff,#d0d0ff,#d3d3ff,#d6d6ff,#d8d8ff,#dbdbff,#e2e2ff)"></i><i style="background:linear-gradient(90deg,#c6c6ff,#c9c9ff,#cbcbff,#cbcbff,#ccf,#ccf,#ccf,#ccf,#ccf,#cdcdff,#cfcfff,#d2d2ff,#d5d5ff,#d7d7ff,#dadaff,#e1e1ff)"></i><i style="background:linear-gradient(90deg,#c5c5ff,#c7c7ff,#c9c9ff,#cacaff,#cacaff,#cacaff,#cacaff,#cacaff,#cbcbff,#ccf,#cdcdff,#d1d1ff,#d4d4ff,#d7d7ff,#dadaff,#e0e0ff)"></i><i style="background:linear-gradient(90deg,#c3c3ff,#c6c6ff,#c7c7ff,#c8c8ff,#c8c8ff,#c9c9ff,#c9c9ff,#c9c9ff,#c9c9ff,#cacaff,#ccf,#cfcfff,#d3d3ff,#d6d6ff,#d9d9ff,#dfdfff)"></i><i style="background:linear-gradient(90deg,#c2c2ff,#c5c5ff,#c6c6ff,#c7c7ff,#c7c7ff,#c7c7ff,#c7c7ff,#c7c7ff,#c8c8ff,#c9c9ff,#cbcbff,#ceceff,#d3d3ff,#d6d6ff,#d8d8ff,#dfdfff)"></i><i style="background:linear-gradient(90deg,#c1c1ff,#c4c4ff,#c5c5ff,#c5c5ff,#c5c5ff,#c5c5ff,#c6c6ff,#c6c6ff,#c6c6ff,#c7c7ff,#cacaff,#ceceff,#d2d2ff,#d5d5ff,#d8d8ff,#dedeff)"></i><i style="background:linear-gradient(90deg,#c0c0ff,#c2c2ff,#c3c3ff,#c4c4ff,#c4c4ff,#c4c4ff,#c4c4ff,#c4c4ff,#c5c5ff,#c6c6ff,#c8c8ff,#cdcdff,#d1d1ff,#d4d4ff,#d7d7ff,#ddf)"></i><i style="background:linear-gradient(90deg,#bfbfff,#c1c1ff,#c2c2ff,#c3c3ff,#c3c3ff,#c3c3ff,#c3c3ff,#c3c3ff,#c3c3ff,#c5c5ff,#c7c7ff,#ccf,#d0d0ff,#d4d4ff,#d7d7ff,#ddf)"></i><i style="background:linear-gradient(90deg,#bebeff,#c0c0ff,#c1c1ff,#c1c1ff,#c1c1ff,#c1c1ff,#c1c1ff,#c2c2ff,#c2c2ff,#c3c3ff,#c6c6ff,#cbcbff,#d0d0ff,#d3d3ff,#d6d6ff,#dcdcff)"></i><i style="background:linear-gradient(90deg,#bdbdff,#bfbfff,#c0c0ff,#c0c0ff,#c0c0ff,#c0c0ff,#c0c0ff,#c0c0ff,#c1c1ff,#c2c2ff,#c5c5ff,#cacaff,#cfcfff,#d3d3ff,#d5d5ff,#dcdcff)"></i><i style="background:linear-gradient(90deg,#bdbdff,#bebeff,#bfbfff,#bfbfff,#bfbfff,#bfbfff,#bfbfff,#bfbfff,#c0c0ff,#c1c1ff,#c4c4ff,#c9c9ff,#ceceff,#d2d2ff,#d5d5ff,#dbdbff)"></i><i style="background:linear-gradient(90deg,#bcbcff,#bdbdff,#bebeff,#bebeff,#bebeff,#bebeff,#bebeff,#bebeff,#bfbfff,#c0c0ff,#c3c3ff,#c8c8ff,#cdcdff,#d1d1ff,#d4d4ff,#dbdbff)"></i><i style="background:linear-gradient(90deg,#bbf,#bdbdff,#bdbdff,#bdbdff,#bdbdff,#bdbdff,#bdbdff,#bdbdff,#bebeff,#bfbfff,#c2c2ff,#c7c7ff,#ccf,#d0d0ff,#d3d3ff,#dadaff)"></i><i style="background:linear-gradient(90deg,#bbf,#bcbcff,#bcbcff,#bcbcff,#bcbcff,#bcbcff,#bcbcff,#bcbcff,#bdbdff,#bebeff,#c1c1ff,#c6c6ff,#cbcbff,#cfcfff,#d2d2ff,#d9d9ff)"></i><i style="background:linear-gradient(90deg,#babaff,#bbf,#bbf,#bbf,#bbf,#bbf,#bbf,#bbf,#bbf,#bdbdff,#bfbfff,#c4c4ff,#cacaff,#ceceff,#d2d2ff,#d9d9ff)"></i><i style="background:linear-gradient(90deg,#b9b9ff,#babaff,#babaff,#babaff,#babaff,#babaff,#babaff,#babaff,#babaff,#bbf,#bebeff,#c3c3ff,#c8c8ff,#cdcdff,#d0d0ff,#d8d8ff)"></i><i style="background:linear-gradient(90deg,#b9b9ff,#b9b9ff,#b9b9ff,#b9b9ff,#b9b9ff,#b8b8ff,#b8b8ff,#b9b9ff,#b9b9ff,#babaff,#bdbdff,#c1c1ff,#c7c7ff,#cbcbff,#cfcfff,#d7d7ff)"></i><i style="background:linear-gradient(90deg,#b8b8ff,#b9b9ff,#b8b8ff,#b8b8ff,#b8b8ff,#b7b7ff,#b7b7ff,#b8b8ff,#b8b8ff,#b9b9ff,#bbf,#c0c0ff,#c5c5ff,#c9c9ff,#ceceff,#d7d7ff)"></i><i style="background:linear-gradient(90deg,#b7b7ff,#b8b8ff,#b7b7ff,#b7b7ff,#b6b6ff,#b6b6ff,#b6b6ff,#b6b6ff,#b7b7ff,#b8b8ff,#babaff,#bebeff,#c3c3ff,#c7c7ff,#cdcdff,#d6d6ff)"></i><i style="background:linear-gradient(90deg,#b6b6ff,#b7b7ff,#b6b6ff,#b6b6ff,#b5b5ff,#b5b5ff,#b5b5ff,#b5b5ff,#b6b6ff,#b6b6ff,#b8b8ff,#bcbcff,#c1c1ff,#c6c6ff,#cbcbff,#d5d5ff)"></i><i style="background:linear-gradient(90deg,#b6b6ff,#b6b6ff,#b5b5ff,#b5b5ff,#b4b4ff,#b4b4ff,#b4b4ff,#b4b4ff,#b4b4ff,#b5b5ff,#b7b7ff,#babaff,#bebeff,#c3c3ff,#cacaff,#d4d4ff)"></i><i style="background:linear-gradient(90deg,#b5b5ff,#b5b5ff,#b4b4ff,#b4b4ff,#b3b3ff,#b2b2ff,#b2b2ff,#b3b3ff,#b3b3ff,#b4b4ff,#b5b5ff,#b8b8ff,#bcbcff,#c1c1ff,#c8c8ff,#d3d3ff)"></i><i style="background:linear-gradient(90deg,#b4b4ff,#b4b4ff,#b3b3ff,#b2b2ff,#b1b1ff,#b1b1ff,#b1b1ff,#b1b1ff,#b2b2ff,#b2b2ff,#b3b3ff,#b6b6ff,#babaff,#bfbfff,#c6c6ff,#d2d2ff)"></i><i style="background:linear-gradient(90deg,#b3b3ff,#b3b3ff,#b2b2ff,#b1b1ff,#b0b0ff,#afafff,#afafff,#b0b0ff,#b0b0ff,#b0b0ff,#b1b1ff,#b3b3ff,#b7b7ff,#bdbdff,#c4c4ff,#d1d1ff)"></i><i style="background:linear-gradient(90deg,#b2b2ff,#b2b2ff,#b1b1ff,#b0b0ff,#afafff,#aeaeff,#aeaeff,#aeaeff,#afafff,#afafff,#afafff,#b1b1ff,#b5b5ff,#babaff,#c3c3ff,#d0d0ff)"></i><i style="background:linear-gradient(90deg,#b1b1ff,#b0b0ff,#afafff,#aeaeff,#adadff,#acacff,#acacff,#adadff,#adadff,#adadff,#adadff,#afafff,#b2b2ff,#b8b8ff,#c1c1ff,#cfcfff)"></i><i style="background:linear-gradient(90deg,#b0b0ff,#afafff,#aeaeff,#acacff,#ababff,#ababff,#aaf,#ababff,#ababff,#ababff,#ababff,#acacff,#afafff,#b5b5ff,#bfbfff,#ceceff)"></i><i style="background:linear-gradient(90deg,#aeaeff,#aeaeff,#acacff,#ababff,#aaf,#a9a9ff,#a9a9ff,#a9a9ff,#a9a9ff,#a9a9ff,#a9a9ff,#aaf,#adadff,#b3b3ff,#bdbdff,#ccf)"></i><i style="background:linear-gradient(90deg,#adadff,#acacff,#ababff,#a9a9ff,#a8a8ff,#a7a7ff,#a7a7ff,#a7a7ff,#a7a7ff,#a7a7ff,#a7a7ff,#a7a7ff,#aaf,#b0b0ff,#bbf,#cbcbff)"></i><i style="background:linear-gradient(90deg,#acacff,#ababff,#a9a9ff,#a7a7ff,#a6a6ff,#a5a5ff,#a5a5ff,#a5a5ff,#a5a5ff,#a5a5ff,#a5a5ff,#a5a5ff,#a7a7ff,#aeaeff,#b9b9ff,#cacaff)"></i><i style="background:linear-gradient(90deg,#aaf,#a9a9ff,#a7a7ff,#a5a5ff,#a4a4ff,#a3a3ff,#a3a3ff,#a3a3ff,#a3a3ff,#a3a3ff,#a2a2ff,#a2a2ff,#a5a5ff,#acacff,#b7b7ff,#c9c9ff)"></i><i style="background:linear-gradient(90deg,#a8a8ff,#a7a7ff,#a5a5ff,#a3a3ff,#a1a1ff,#a0a0ff,#a0a0ff,#a1a1ff,#a1a1ff,#a1a1ff,#a0a0ff,#a0a0ff,#a2a2ff,#a9a9ff,#b6b6ff,#c8c8ff)"></i><i style="background:linear-gradient(90deg,#a7a7ff,#a5a5ff,#a3a3ff,#a1a1ff,#9f9fff,#9e9eff,#9e9eff,#9e9eff,#9f9fff,#9f9fff,#9e9eff,#9d9dff,#a0a0ff,#a7a7ff,#b4b4ff,#c6c6ff)"></i><i style="background:linear-gradient(90deg,#a5a5ff,#a3a3ff,#a1a1ff,#9f9fff,#9d9dff,#9c9cff,#9c9cff,#9c9cff,#9d9dff,#9c9cff,#9b9bff,#9b9bff,#9d9dff,#a5a5ff,#b2b2ff,#c5c5ff)"></i><i style="background:linear-gradient(90deg,#a3a3ff,#a1a1ff,#9f9fff,#9c9cff,#9a9aff,#99f,#99f,#9a9aff,#9a9aff,#9a9aff,#99f,#99f,#9b9bff,#a3a3ff,#b0b0ff,#c4c4ff)"></i><i style="background:linear-gradient(90deg,#a1a1ff,#9f9fff,#9d9dff,#9a9aff,#9898ff,#9696ff,#9696ff,#9797ff,#9898ff,#9898ff,#9797ff,#9696ff,#99f,#a0a0ff,#aeaeff,#c2c2ff)"></i><i style="background:linear-gradient(90deg,#9f9fff,#9d9dff,#9a9aff,#9797ff,#9595ff,#9494ff,#9494ff,#9494ff,#9595ff,#9595ff,#9494ff,#9494ff,#9696ff,#9e9eff,#adadff,#c1c1ff)"></i><i style="background:linear-gradient(90deg,#9d9dff,#9b9bff,#9898ff,#9595ff,#9292ff,#9191ff,#9191ff,#9292ff,#9393ff,#9393ff,#9292ff,#9292ff,#9494ff,#9c9cff,#ababff,#c0c0ff)"></i><i style="background:linear-gradient(90deg,#9b9bff,#9898ff,#9595ff,#9292ff,#9090ff,#8e8eff,#8e8eff,#8f8fff,#9090ff,#9090ff,#9090ff,#8f8fff,#9292ff,#9a9aff,#a9a9ff,#bfbfff)"></i><i style="background:linear-gradient(90deg,#9898ff,#9696ff,#9393ff,#8f8fff,#8d8dff,#8b8bff,#8b8bff,#8c8cff,#8d8dff,#8e8eff,#8d8dff,#8d8dff,#9090ff,#9898ff,#a7a7ff,#bdbdff)"></i><i style="background:linear-gradient(90deg,#9696ff,#9393ff,#9090ff,#8d8dff,#8a8aff,#88f,#88f,#8989ff,#8a8aff,#8b8bff,#8b8bff,#8b8bff,#8e8eff,#9696ff,#a6a6ff,#bcbcff)"></i><i style="background:linear-gradient(90deg,#9494ff,#9191ff,#8d8dff,#8a8aff,#8787ff,#8585ff,#8585ff,#8686ff,#88f,#8989ff,#8989ff,#8989ff,#8c8cff,#9595ff,#a4a4ff,#bbf)"></i><i style="background:linear-gradient(90deg,#9191ff,#8e8eff,#8b8bff,#8787ff,#8484ff,#8282ff,#8282ff,#8383ff,#8585ff,#8686ff,#8686ff,#8787ff,#8a8aff,#9393ff,#a2a2ff,#b9b9ff)"></i><i style="background:linear-gradient(90deg,#8f8fff,#8c8cff,#88f,#8484ff,#8181ff,#7f7fff,#7f7fff,#8080ff,#8282ff,#8383ff,#8484ff,#8585ff,#88f,#9191ff,#a1a1ff,#b8b8ff)"></i><i style="background:linear-gradient(90deg,#8c8cff,#8989ff,#8585ff,#8181ff,#7e7eff,#7c7cff,#7b7bff,#7d7dff,#7f7fff,#8181ff,#8282ff,#8383ff,#8787ff,#8f8fff,#9f9fff,#b7b7ff)"></i><i style="background:linear-gradient(90deg,#8a8aff,#8787ff,#8282ff,#7e7eff,#7b7bff,#7979ff,#7878ff,#7a7aff,#7c7cff,#7e7eff,#8080ff,#8181ff,#8585ff,#8e8eff,#9e9eff,#b5b5ff)"></i><i style="background:linear-gradient(90deg,#88f,#8484ff,#8080ff,#7b7bff,#7878ff,#7575ff,#7575ff,#77f,#7a7aff,#7c7cff,#7e7eff,#7f7fff,#8383ff,#8c8cff,#9c9cff,#b4b4ff)"></i><i style="background:linear-gradient(90deg,#8585ff,#8282ff,#7d7dff,#7979ff,#7575ff,#7272ff,#7272ff,#7474ff,#77f,#7a7aff,#7c7cff,#7e7eff,#8282ff,#8b8bff,#9b9bff,#b3b3ff)"></i><i style="background:linear-gradient(90deg,#8383ff,#7f7fff,#7b7bff,#7676ff,#7272ff,#7070ff,#6f6fff,#7171ff,#7474ff,#77f,#7a7aff,#7c7cff,#8080ff,#8989ff,#99f,#b2b2ff)"></i><i style="background:linear-gradient(90deg,#8181ff,#7d7dff,#7878ff,#7373ff,#6f6fff,#6d6dff,#6d6dff,#6e6eff,#7272ff,#7575ff,#7878ff,#7a7aff,#7f7fff,#88f,#9898ff,#b0b0ff)"></i><i style="background:linear-gradient(90deg,#7f7fff,#7b7bff,#7676ff,#7171ff,#6c6cff,#6a6aff,#6a6aff,#6c6cff,#6f6fff,#7373ff,#7676ff,#7979ff,#7e7eff,#8787ff,#9797ff,#afafff)"></i><i style="background:linear-gradient(90deg,#7d7dff,#7878ff,#7373ff,#6e6eff,#6a6aff,#6767ff,#6767ff,#6969ff,#6d6dff,#7171ff,#7474ff,#7878ff,#7d7dff,#8686ff,#9696ff,#aeaeff)"></i><i style="background:linear-gradient(90deg,#7b7bff,#7676ff,#7171ff,#6c6cff,#6767ff,#6565ff,#6565ff,#6767ff,#6b6bff,#6f6fff,#7373ff,#7676ff,#7c7cff,#8585ff,#9595ff,#adadff)"></i><i style="background:linear-gradient(90deg,#7979ff,#7474ff,#6f6fff,#6a6aff,#6565ff,#6363ff,#6262ff,#6565ff,#6969ff,#6d6dff,#7171ff,#7575ff,#7b7bff,#8484ff,#9494ff,#acacff)"></i><i style="background:linear-gradient(90deg,#77f,#7373ff,#6d6dff,#6868ff,#6363ff,#6060ff,#6060ff,#6363ff,#6767ff,#6b6bff,#7070ff,#7474ff,#7a7aff,#8383ff,#9393ff,#acacff)"></i><i style="background:linear-gradient(90deg,#7676ff,#7171ff,#6c6cff,#66f,#6161ff,#5e5eff,#5e5eff,#6161ff,#6565ff,#6a6aff,#6f6fff,#7373ff,#7979ff,#8282ff,#9292ff,#ababff)"></i><i style="background:linear-gradient(90deg,#7474ff,#7070ff,#6a6aff,#6464ff,#6060ff,#5d5dff,#5d5dff,#5f5fff,#6464ff,#6969ff,#6e6eff,#7272ff,#7878ff,#8181ff,#9191ff,#aaf)"></i><i style="background:linear-gradient(90deg,#7373ff,#6e6eff,#6969ff,#6363ff,#5e5eff,#5b5bff,#5b5bff,#5e5eff,#6262ff,#6868ff,#6d6dff,#7272ff,#7878ff,#8181ff,#9191ff,#aaf)"></i><i style="background:linear-gradient(90deg,#7272ff,#6d6dff,#6868ff,#6262ff,#5d5dff,#5a5aff,#5a5aff,#5d5dff,#6161ff,#6767ff,#6c6cff,#7171ff,#77f,#8080ff,#9090ff,#a9a9ff)"></i><i style="background:linear-gradient(90deg,#7171ff,#6d6dff,#6767ff,#6161ff,#5c5cff,#5959ff,#5959ff,#5c5cff,#6060ff,#66f,#6b6bff,#7171ff,#77f,#8080ff,#9090ff,#a9a9ff)"></i><i style="background:linear-gradient(90deg,#7171ff,#6c6cff,#66f,#6060ff,#5b5bff,#5858ff,#5858ff,#5b5bff,#6060ff,#6565ff,#6b6bff,#7171ff,#77f,#8080ff,#9090ff,#a9a9ff)"></i><i style="background:linear-gradient(90deg,#7070ff,#6c6cff,#66f,#6060ff,#5b5bff,#5858ff,#5858ff,#5a5aff,#5f5fff,#6565ff,#6b6bff,#7171ff,#77f,#8080ff,#9090ff,#a9a9ff)"></i><i style="background:linear-gradient(90deg,#7070ff,#6b6bff,#66f,#5f5fff,#5a5aff,#5757ff,#5757ff,#5a5aff,#5f5fff,#6565ff,#6b6bff,#7171ff,#77f,#8080ff,#9090ff,#a9a9ff)"></i><i style="background:linear-gradient(90deg,#7070ff,#6c6cff,#66f,#6060ff,#5a5aff,#5757ff,#5757ff,#5a5aff,#5f5fff,#6565ff,#6b6bff,#7171ff,#7878ff,#8181ff,#9090ff,#a9a9ff)"></i><i style="background:linear-gradient(90deg,#7171ff,#6c6cff,#66f,#6060ff,#5b5bff,#5858ff,#5858ff,#5b5bff,#6060ff,#66f,#6c6cff,#7272ff,#7878ff,#8181ff,#9090ff,#a9a9ff)"></i><i style="background:linear-gradient(90deg,#7171ff,#6c6cff,#66f,#6060ff,#5b5bff,#5858ff,#5858ff,#5b5bff,#6060ff,#66f,#6c6cff,#7272ff,#7979ff,#8282ff,#9191ff,#a9a9ff)"></i><i style="background:linear-gradient(90deg,#7272ff,#6d6dff,#6767ff,#6161ff,#5c5cff,#5959ff,#5959ff,#5c5cff,#6161ff,#6767ff,#6d6dff,#7373ff,#7a7aff,#8383ff,#9191ff,#aaf)"></i><i style="background:linear-gradient(90deg,#7373ff,#6e6eff,#6868ff,#6262ff,#5d5dff,#5a5aff,#5a5aff,#5d5dff,#6262ff,#6868ff,#6e6eff,#7474ff,#7b7bff,#8383ff,#9292ff,#aaf)"></i><i style="background:linear-gradient(90deg,#7474ff,#6f6fff,#6969ff,#6363ff,#5e5eff,#5b5bff,#5b5bff,#5e5eff,#6363ff,#6969ff,#7070ff,#7676ff,#7c7cff,#8585ff,#9393ff,#ababff)"></i><i style="background:linear-gradient(90deg,#7575ff,#7171ff,#6b6bff,#6565ff,#6060ff,#5d5dff,#5d5dff,#6060ff,#6565ff,#6b6bff,#7171ff,#77f,#7d7dff,#8686ff,#9494ff,#acacff)"></i><i style="background:linear-gradient(90deg,#77f,#7272ff,#6c6cff,#66f,#6262ff,#5f5fff,#5f5fff,#6161ff,#66f,#6c6cff,#7373ff,#7878ff,#7f7fff,#8787ff,#9595ff,#adadff)"></i><i style="background:linear-gradient(90deg,#7878ff,#7474ff,#6e6eff,#6868ff,#6363ff,#6161ff,#6161ff,#6363ff,#6868ff,#6e6eff,#7474ff,#7a7aff,#8080ff,#8989ff,#9797ff,#aeaeff)"></i><i style="background:linear-gradient(90deg,#7a7aff,#7676ff,#7070ff,#6a6aff,#66f,#6363ff,#6363ff,#66f,#6a6aff,#7070ff,#7676ff,#7c7cff,#8282ff,#8a8aff,#9898ff,#afafff)"></i><i style="background:linear-gradient(90deg,#7c7cff,#7878ff,#7272ff,#6d6dff,#6868ff,#6565ff,#6565ff,#6868ff,#6d6dff,#7272ff,#7878ff,#7e7eff,#8484ff,#8c8cff,#9a9aff,#b0b0ff)"></i><i style="background:linear-gradient(90deg,#7e7eff,#7a7aff,#7575ff,#6f6fff,#6b6bff,#6868ff,#6868ff,#6a6aff,#6f6fff,#7575ff,#7b7bff,#8080ff,#8686ff,#8e8eff,#9b9bff,#b2b2ff)"></i><i style="background:linear-gradient(90deg,#8181ff,#7c7cff,#77f,#7272ff,#6d6dff,#6b6bff,#6b6bff,#6d6dff,#7272ff,#77f,#7d7dff,#8383ff,#88f,#9090ff,#9d9dff,#b3b3ff)"></i><i style="background:linear-gradient(90deg,#8383ff,#7f7fff,#7a7aff,#7575ff,#7070ff,#6e6eff,#6e6eff,#7070ff,#7575ff,#7a7aff,#8080ff,#8585ff,#8b8bff,#9292ff,#9f9fff,#b4b4ff)"></i><i style="background:linear-gradient(90deg,#8686ff,#8282ff,#7d7dff,#7878ff,#7373ff,#7171ff,#7171ff,#7373ff,#7878ff,#7d7dff,#8282ff,#88f,#8d8dff,#9595ff,#a1a1ff,#b6b6ff)"></i><i style="background:linear-gradient(90deg,#88f,#8585ff,#8080ff,#7b7bff,#77f,#7474ff,#7474ff,#7676ff,#7b7bff,#8080ff,#8585ff,#8a8aff,#9090ff,#9797ff,#a3a3ff,#b8b8ff)"></i><i style="background:linear-gradient(90deg,#8b8bff,#88f,#8383ff,#7e7eff,#7a7aff,#7878ff,#7878ff,#7a7aff,#7e7eff,#8383ff,#88f,#8d8dff,#9292ff,#99f,#a5a5ff,#b9b9ff)"></i><i style="background:linear-gradient(90deg,#8e8eff,#8b8bff,#8686ff,#8181ff,#7d7dff,#7b7bff,#7b7bff,#7d7dff,#8181ff,#8686ff,#8b8bff,#9090ff,#9595ff,#9c9cff,#a8a8ff,#bbf)"></i><i style="background:linear-gradient(90deg,#9191ff,#8e8eff,#8989ff,#8585ff,#8181ff,#7f7fff,#7f7fff,#8181ff,#8585ff,#8989ff,#8e8eff,#9393ff,#9898ff,#9f9fff,#aaf,#bdbdff)"></i><i style="background:linear-gradient(90deg,#9595ff,#9191ff,#8d8dff,#88f,#8585ff,#8383ff,#8383ff,#8585ff,#88f,#8d8dff,#9292ff,#9696ff,#9b9bff,#a1a1ff,#acacff,#bfbfff)"></i><i style="background:linear-gradient(90deg,#9898ff,#9494ff,#9090ff,#8c8cff,#88f,#8686ff,#8686ff,#88f,#8c8cff,#9090ff,#9595ff,#99f,#9e9eff,#a4a4ff,#afafff,#c1c1ff)"></i><i style="background:linear-gradient(90deg,#9b9bff,#9898ff,#9494ff,#9090ff,#8c8cff,#8a8aff,#8a8aff,#8c8cff,#9090ff,#9494ff,#9898ff,#9d9dff,#a1a1ff,#a7a7ff,#b1b1ff,#c3c3ff)"></i><i style="background:linear-gradient(90deg,#9e9eff,#9b9bff,#9797ff,#9393ff,#9090ff,#8e8eff,#8e8eff,#9090ff,#9393ff,#9797ff,#9c9cff,#a0a0ff,#a4a4ff,#aaf,#b4b4ff,#c5c5ff)"></i><i style="background:linear-gradient(90deg,#a2a2ff,#9f9fff,#9b9bff,#9797ff,#9494ff,#9292ff,#9292ff,#9494ff,#9797ff,#9b9bff,#9f9fff,#a3a3ff,#a7a7ff,#adadff,#b6b6ff,#c7c7ff)"></i><i style="background:linear-gradient(90deg,#a5a5ff,#a2a2ff,#9f9fff,#9b9bff,#9898ff,#9696ff,#9696ff,#9898ff,#9b9bff,#9f9fff,#a3a3ff,#a6a6ff,#aaf,#b0b0ff,#b9b9ff,#c9c9ff)"></i><i style="background:linear-gradient(90deg,#a8a8ff,#a6a6ff,#a2a2ff,#9f9fff,#9c9cff,#9a9aff,#9a9aff,#9c9cff,#9f9fff,#a2a2ff,#a6a6ff,#aaf,#adadff,#b3b3ff,#bcbcff,#cbcbff)"></i><i style="background:linear-gradient(90deg,#acacff,#a9a9ff,#a6a6ff,#a3a3ff,#a0a0ff,#9e9eff,#9e9eff,#a0a0ff,#a3a3ff,#a6a6ff,#aaf,#adadff,#b1b1ff,#b6b6ff,#bebeff,#cdcdff)"></i><i style="background:linear-gradient(90deg,#afafff,#adadff,#aaf,#a7a7ff,#a4a4ff,#a2a2ff,#a2a2ff,#a4a4ff,#a6a6ff,#aaf,#adadff,#b0b0ff,#b4b4ff,#b9b9ff,#c1c1ff,#cfcfff)"></i><i style="background:linear-gradient(90deg,#b3b3ff,#b0b0ff,#adadff,#aaf,#a8a8ff,#a6a6ff,#a6a6ff,#a8a8ff,#aaf,#adadff,#b1b1ff,#b4b4ff,#b7b7ff,#bcbcff,#c3c3ff,#d1d1ff)"></i><i style="background:linear-gradient(90deg,#b6b6ff,#b4b4ff,#b1b1ff,#aeaeff,#acacff,#aaf,#aaf,#acacff,#aeaeff,#b1b1ff,#b4b4ff,#b7b7ff,#babaff,#bebeff,#c6c6ff,#d3d3ff)"></i><i style="background:linear-gradient(90deg,#b9b9ff,#b7b7ff,#b4b4ff,#b2b2ff,#b0b0ff,#aeaeff,#aeaeff,#b0b0ff,#b2b2ff,#b5b5ff,#b7b7ff,#babaff,#bdbdff,#c1c1ff,#c9c9ff,#d5d5ff)"></i><i style="background:linear-gradient(90deg,#bcbcff,#babaff,#b8b8ff,#b5b5ff,#b3b3ff,#b2b2ff,#b2b2ff,#b3b3ff,#b5b5ff,#b8b8ff,#bbf,#bdbdff,#c0c0ff,#c4c4ff,#cbcbff,#d6d6ff)"></i><i style="background:linear-gradient(90deg,#c0c0ff,#bebeff,#bbf,#b9b9ff,#b7b7ff,#b6b6ff,#b6b6ff,#b7b7ff,#b9b9ff,#bbf,#bebeff,#c0c0ff,#c3c3ff,#c7c7ff,#cdcdff,#d8d8ff)"></i><i style="background:linear-gradient(90deg,#c3c3ff,#c1c1ff,#bfbfff,#bdbdff,#bbf,#babaff,#babaff,#bbf,#bdbdff,#bfbfff,#c1c1ff,#c4c4ff,#c6c6ff,#cacaff,#d0d0ff,#dadaff)"></i><i style="background:linear-gradient(90deg,#c6c6ff,#c4c4ff,#c2c2ff,#c0c0ff,#bebeff,#bdbdff,#bdbdff,#bebeff,#c0c0ff,#c2c2ff,#c4c4ff,#c7c7ff,#c9c9ff,#ccf,#d2d2ff,#dcdcff)"></i><i style="background:linear-gradient(90deg,#c9c9ff,#c7c7ff,#c5c5ff,#c3c3ff,#c2c2ff,#c1c1ff,#c1c1ff,#c2c2ff,#c3c3ff,#c5c5ff,#c7c7ff,#cacaff,#ccf,#cfcfff,#d5d5ff,#dedeff)"></i><i style="background:linear-gradient(90deg,#ccf,#cacaff,#c8c8ff,#c7c7ff,#c5c5ff,#c4c4ff,#c4c4ff,#c5c5ff,#c7c7ff,#c9c9ff,#cacaff,#ccf,#cfcfff,#d2d2ff,#d7d7ff,#e0e0ff)"></i><i style="background:linear-gradient(90deg,#cfcfff,#cdcdff,#ccf,#cacaff,#c8c8ff,#c8c8ff,#c8c8ff,#c8c8ff,#cacaff,#ccf,#cdcdff,#cfcfff,#d1d1ff,#d4d4ff,#d9d9ff,#e1e1ff)"></i><i style="background:linear-gradient(90deg,#d1d1ff,#d0d0ff,#cfcfff,#cdcdff,#ccf,#cbcbff,#cbcbff,#ccf,#cdcdff,#cfcfff,#d0d0ff,#d2d2ff,#d4d4ff,#d6d6ff,#dbdbff,#e3e3ff)"></i><i style="background:linear-gradient(90deg,#d4d4ff,#d3d3ff,#d1d1ff,#d0d0ff,#cfcfff,#ceceff,#ceceff,#cfcfff,#d0d0ff,#d1d1ff,#d3d3ff,#d5d5ff,#d6d6ff,#d9d9ff,#ddf,#e5e5ff)"></i><i style="background:linear-gradient(90deg,#d7d7ff,#d5d5ff,#d4d4ff,#d3d3ff,#d2d2ff,#d1d1ff,#d1d1ff,#d2d2ff,#d3d3ff,#d4d4ff,#d6d6ff,#d7d7ff,#d9d9ff,#dbdbff,#dfdfff,#e6e6ff)"></i><i style="background:linear-gradient(90deg,#d9d9ff,#d8d8ff,#d7d7ff,#d6d6ff,#d4d4ff,#d4d4ff,#d4d4ff,#d4d4ff,#d6d6ff,#d7d7ff,#d8d8ff,#dadaff,#dbdbff,#ddf,#e1e1ff,#e8e8ff)"></i><i style="background:linear-gradient(90deg,#dbdbff,#dadaff,#d9d9ff,#d8d8ff,#d7d7ff,#d7d7ff,#d7d7ff,#d7d7ff,#d8d8ff,#d9d9ff,#dbdbff,#dcdcff,#ddf,#dfdfff,#e3e3ff,#e9e9ff)"></i><i style="background:linear-gradient(90deg,#dedeff,#ddf,#dcdcff,#dbdbff,#dadaff,#d9d9ff,#d9d9ff,#dadaff,#dbdbff,#dcdcff,#ddf,#dedeff,#dfdfff,#e1e1ff,#e5e5ff,#ebebff)"></i><i style="background:linear-gradient(90deg,#e0e0ff,#dfdfff,#dedeff,#ddf,#dcdcff,#dcdcff,#dcdcff,#dcdcff,#ddf,#dedeff,#dfdfff,#e0e0ff,#e1e1ff,#e3e3ff,#e6e6ff,#ececff)"></i><i style="background:linear-gradient(90deg,#e2e2ff,#e1e1ff,#e0e0ff,#dfdfff,#dfdfff,#dedeff,#dedeff,#dfdfff,#dfdfff,#e0e0ff,#e1e1ff,#e2e2ff,#e3e3ff,#e5e5ff,#e8e8ff,#ededff)"></i><i style="background:linear-gradient(90deg,#e4e4ff,#e3e3ff,#e2e2ff,#e2e2ff,#e1e1ff,#e1e1ff,#e1e1ff,#e1e1ff,#e2e2ff,#e2e2ff,#e3e3ff,#e4e4ff,#e5e5ff,#e7e7ff,#eaeaff,#eef)"></i><i style="background:linear-gradient(90deg,#e6e6ff,#e5e5ff,#e4e4ff,#e4e4ff,#e3e3ff,#e3e3ff,#e3e3ff,#e3e3ff,#e4e4ff,#e4e4ff,#e5e5ff,#e6e6ff,#e7e7ff,#e9e9ff,#ebebff,#efefff)"></i><i style="background:linear-gradient(90deg,#e8e8ff,#e7e7ff,#e6e6ff,#e6e6ff,#e5e5ff,#e5e5ff,#e5e5ff,#e5e5ff,#e6e6ff,#e6e6ff,#e7e7ff,#e8e8ff,#e9e9ff,#eaeaff,#ececff,#f1f1ff)"></i><i style="background:linear-gradient(90deg,#e9e9ff,#e9e9ff,#e8e8ff,#e8e8ff,#e7e7ff,#e7e7ff,#e7e7ff,#e7e7ff,#e8e8ff,#e8e8ff,#e9e9ff,#eaeaff,#eaeaff,#ececff,#eef,#f2f2ff)"></i><i style="background:linear-gradient(90deg,#ebebff,#eaeaff,#eaeaff,#e9e9ff,#e9e9ff,#e9e9ff,#e9e9ff,#e9e9ff,#e9e9ff,#eaeaff,#ebebff,#ebebff,#ececff,#ededff,#efefff,#f3f3ff)"></i><i style="background:linear-gradient(90deg,#ececff,#ececff,#ececff,#ebebff,#ebebff,#eaeaff,#eaeaff,#ebebff,#ebebff,#ececff,#ececff,#ededff,#ededff,#eef,#f0f0ff,#f4f4ff)"></i><i style="background:linear-gradient(90deg,#eef,#ededff,#ededff,#ededff,#ececff,#ececff,#ececff,#ececff,#ededff,#ededff,#eef,#eef,#efefff,#f0f0ff,#f1f1ff,#f4f4ff)"></i><i style="background:linear-gradient(90deg,#efefff,#efefff,#eef,#eef,#eef,#ededff,#ededff,#eef,#eef,#eef,#efefff,#efefff,#f0f0ff,#f1f1ff,#f2f2ff,#f5f5ff)"></i><i style="background:linear-gradient(90deg,#f0f0ff,#f0f0ff,#f0f0ff,#efefff,#efefff,#efefff,#efefff,#efefff,#efefff,#f0f0ff,#f0f0ff,#f1f1ff,#f1f1ff,#f2f2ff,#f3f3ff,#f6f6ff)"></i><i style="background:linear-gradient(90deg,#f2f2ff,#f1f1ff,#f1f1ff,#f1f1ff,#f0f0ff,#f0f0ff,#f0f0ff,#f0f0ff,#f1f1ff,#f1f1ff,#f1f1ff,#f2f2ff,#f2f2ff,#f3f3ff,#f4f4ff,#f7f7ff)"></i><i style="background:linear-gradient(90deg,#f3f3ff,#f2f2ff,#f2f2ff,#f2f2ff,#f2f2ff,#f1f1ff,#f1f1ff,#f2f2ff,#f2f2ff,#f2f2ff,#f3f3ff,#f3f3ff,#f3f3ff,#f4f4ff,#f5f5ff,#f7f7ff)"></i><i style="background:linear-gradient(90deg,#f4f4ff,#f4f4ff,#f3f3ff,#f3f3ff,#f3f3ff,#f3f3ff,#f3f3ff,#f3f3ff,#f3f3ff,#f3f3ff,#f4f4ff,#f4f4ff,#f4f4ff,#f5f5ff,#f6f6ff,#f8f8ff)"></i><i style="background:linear-gradient(90deg,#f5f5ff,#f5f5ff,#f4f4ff,#f4f4ff,#f4f4ff,#f4f4ff,#f4f4ff,#f4f4ff,#f4f4ff,#f4f4ff,#f5f5ff,#f5f5ff,#f5f5ff,#f6f6ff,#f7f7ff,#f9f9ff)"></i><i style="background:linear-gradient(90deg,#f6f6ff,#f5f5ff,#f5f5ff,#f5f5ff,#f5f5ff,#f5f5ff,#f5f5ff,#f5f5ff,#f5f5ff,#f5f5ff,#f5f5ff,#f6f6ff,#f6f6ff,#f7f7ff,#f8f8ff,#f9f9ff)"></i><i style="background:linear-gradient(90deg,#f6f6ff,#f6f6ff,#f6f6ff,#f6f6ff,#f6f6ff,#f6f6ff,#f6f6ff,#f6f6ff,#f6f6ff,#f6f6ff,#f6f6ff,#f7f7ff,#f7f7ff,#f7f7ff,#f8f8ff,#fafaff)"></i><i style="background:linear-gradient(90deg,#f7f7ff,#f7f7ff,#f7f7ff,#f7f7ff,#f7f7ff,#f7f7ff,#f7f7ff,#f7f7ff,#f7f7ff,#f7f7ff,#f7f7ff,#f7f7ff,#f8f8ff,#f8f8ff,#f9f9ff,#fafaff)"></i><i style="background:linear-gradient(90deg,#f8f8ff,#f8f8ff,#f8f8ff,#f7f7ff,#f7f7ff,#f7f7ff,#f7f7ff,#f7f7ff,#f7f7ff,#f8f8ff,#f8f8ff,#f8f8ff,#f8f8ff,#f9f9ff,#f9f9ff,#fbfbff)"></i><i style="background:linear-gradient(90deg,#f9f9ff,#f8f8ff,#f8f8ff,#f8f8ff,#f8f8ff,#f8f8ff,#f8f8ff,#f8f8ff,#f8f8ff,#f8f8ff,#f8f8ff,#f9f9ff,#f9f9ff,#f9f9ff,#fafaff,#fbfbff)"></i><i style="background:linear-gradient(90deg,#f9f9ff,#f9f9ff,#f9f9ff,#f9f9ff,#f9f9ff,#f9f9ff,#f9f9ff,#f9f9ff,#f9f9ff,#f9f9ff,#f9f9ff,#f9f9ff,#f9f9ff,#fafaff,#fafaff,#fbfbff)"></i><i style="background:linear-gradient(90deg,#fafaff,#fafaff,#fafaff,#f9f9ff,#f9f9ff,#f9f9ff,#f9f9ff,#f9f9ff,#f9f9ff,#fafaff,#fafaff,#fafaff,#fafaff,#fafaff,#fbfbff,#fcfcff)"></i><i style="background:linear-gradient(90deg,#fafaff,#fafaff,#fafaff,#fafaff,#fafaff,#fafaff,#fafaff,#fafaff,#fafaff,#fafaff,#fafaff,#fafaff,#fafaff,#fbfbff,#fbfbff,#fcfcff)"></i><i style="background:linear-gradient(90deg,#fbfbff,#fbfbff,#fbfbff,#fafaff,#fafaff,#fafaff,#fafaff,#fafaff,#fafaff,#fbfbff,#fbfbff,#fbfbff,#fbfbff,#fbfbff,#fcfcff,#fcfcff)"></i><i style="background:linear-gradient(90deg,#fbfbff,#fbfbff,#fbfbff,#fbfbff,#fbfbff,#fbfbff,#fbfbff,#fbfbff,#fbfbff,#fbfbff,#fbfbff,#fbfbff,#fbfbff,#fbfbff,#fcfcff,#fdfdff)"></i><i style="background:linear-gradient(90deg,#fcfcff,#fbfbff,#fbfbff,#fbfbff,#fbfbff,#fbfbff,#fbfbff,#fbfbff,#fbfbff,#fbfbff,#fbfbff,#fcfcff,#fcfcff,#fcfcff,#fcfcff,#fdfdff)"></i><i style="background:linear-gradient(90deg,#fcfcff,#fcfcff,#fcfcff,#fcfcff,#fcfcff,#fcfcff,#fcfcff,#fcfcff,#fcfcff,#fcfcff,#fcfcff,#fcfcff,#fcfcff,#fcfcff,#fcfcff,#fdfdff)"></i><i style="background:linear-gradient(90deg,#fcfcff,#fcfcff,#fcfcff,#fcfcff,#fcfcff,#fcfcff,#fcfcff,#fcfcff,#fcfcff,#fcfcff,#fcfcff,#fcfcff,#fcfcff,#fcfcff,#fdfdff,#fdfdff)"></i><i style="background:linear-gradient(90deg,#fcfcff,#fcfcff,#fcfcff,#fcfcff,#fcfcff,#fcfcff,#fcfcff,#fcfcff,#fcfcff,#fcfcff,#fcfcff,#fdfdff,#fdfdff,#fdfdff,#fdfdff,#fdfdff)"></i><i style="background:linear-gradient(90deg,#fdfdff,#fdfdff,#fdfdff,#fdfdff,#fdfdff,#fdfdff,#fdfdff,#fdfdff,#fdfdff,#fdfdff,#fdfdff,#fdfdff,#fdfdff,#fdfdff,#fdfdff,#fefeff)"></i><i style="background:linear-gradient(90deg,#fdfdff,#fdfdff,#fdfdff,#fdfdff,#fdfdff,#fdfdff,#fdfdff,#fdfdff,#fdfdff,#fdfdff,#fdfdff,#fdfdff,#fdfdff,#fdfdff,#fdfdff,#fefeff)"></i><i style="background:linear-gradient(90deg,#fdfdff,#fdfdff,#fdfdff,#fdfdff,#fdfdff,#fdfdff,#fdfdff,#fdfdff,#fdfdff,#fdfdff,#fdfdff,#fdfdff,#fdfdff,#fdfdff,#fefeff,#fefeff)"></i><i style="background:linear-gradient(90deg,#fdfdff,#fdfdff,#fdfdff,#fdfdff,#fdfdff,#fdfdff,#fdfdff,#fdfdff,#fdfdff,#fdfdff,#fdfdff,#fdfdff,#fdfdff,#fefeff,#fefeff,#fefeff)"></i><i style="background:linear-gradient(90deg,#fefeff,#fefeff,#fefeff,#fefeff,#fefeff,#fefeff,#fefeff,#fefeff,#fefeff,#fefeff,#fefeff,#fefeff,#fefeff,#fefeff,#fefeff,#fefeff)"></i><i style="background:linear-gradient(90deg,#fefeff,#fefeff,#fefeff,#fefeff,#fefeff,#fefeff,#fefeff,#fefeff,#fefeff,#fefeff,#fefeff,#fefeff,#fefeff,#fefeff,#fefeff,#fefeff)"></i><i style="background:linear-gradient(90deg,#fefeff,#fefeff,#fefeff,#fefeff,#fefeff,#fefeff,#fefeff,#fefeff,#fefeff,#fefeff,#fefeff,#fefeff,#fefeff,#fefeff,#fefeff,#fefeff)"></i><i style="background:linear-gradient(90deg,#fefeff,#fefeff,#fefeff,#fefeff,#fefeff,#fefeff,#fefeff,#fefeff,#fefeff,#fefeff,#fefeff,#fefeff,#fefeff,#fefeff,#fefeff,#fefeff)"></i><i style="background:linear-gradient(90deg,#fefeff,#fefeff,#fefeff,#fefeff,#fefeff,#fefeff,#fefeff,#fefeff,#fefeff,#fefeff,#fefeff,#fefeff,#fefeff,#fefeff,#fefeff,#fefeff)"></i><i style="background:linear-gradient(90deg,#fefeff,#fefeff,#fefeff,#fefeff,#fefeff,#fefeff,#fefeff,#fefeff,#fefeff,#fefeff,#fefeff,#fefeff,#fefeff,#fefeff,#fefeff,#fff)"></i><i style="background:linear-gradient(90deg,#fefeff,#fefeff,#fefeff,#fefeff,#fefeff,#fefeff,#fefeff,#fefeff,#fefeff,#fefeff,#fefeff,#fefeff,#fefeff,#fefeff,#fefeff,#fff)"></i><i style="background:linear-gradient(90deg,#fefeff,#fefeff,#fefeff,#fefeff,#fefeff,#fefeff,#fefeff,#fefeff,#fefeff,#fefeff,#fefeff,#fefeff,#fefeff,#fefeff,#fff,#fff)"></i><i style="background:linear-gradient(90deg,#fefeff,#fefeff,#fefeff,#fefeff,#fefeff,#fefeff,#fefeff,#fefeff,#fefeff,#fefeff,#fefeff,#fefeff,#fff,#fff,#fff,#fff)"></i><i></i><i></i><i></i><i></i><i></i></div></div><svg width="1280" height="1280" viewBox="0 0 1280 1280"><path d="M192.01 367.92h0M234.7 283.27h0M469.23 409.42h0M413.49 226.83h0M270.36 328.08h0M242.23 459.22h0M377.33 311.49h0M171.93 329.74h0M411.98 323.1h0M541.04 382.86h0M202.06 331.4h0M544.56 432.66h0M409.47 460.88h0M126.23 324.76h0M296.47 369.58h0M512.42 288.25h0M423.53 426.02h0M239.22 357.96h0M440.1 422.7h0M188.5 384.52h0M119.2 356.3h0M158.37 369.58h0M245.75 346.34h0M308.53 367.92h0M211.1 538.89h0M477.77 439.3h0M175.44 419.38h0M143.3 356.3h0M124.22 396.14h0M377.33 349.66h0M496.35 431h0M378.83 362.94h0M536.02 311.49h0M435.58 324.76h0M499.36 351.32h0M534.52 382.86h0M350.71 324.76h0M539.04 236.79h0M324.09 372.9h0M214.11 366.26h0M301.49 384.52h0M408.46 392.82h0M241.23 331.4h0M520.96 326.42h0M206.58 424.36h0M245.75 402.78h0M207.08 502.37h0M252.78 379.54h0M81.03 440.96h0M391.89 421.04h0M218.13 281.61h0M112.67 183.67h0M386.37 354.64h0M166.4 364.6h0M228.68 371.24h0M295.97 426.02h0M153.35 389.5h0M187.5 304.85h0M313.55 369.58h0M314.55 356.3h0M205.57 309.83h0M225.66 318.12h0M216.62 349.66h0M208.09 329.74h0M317.56 397.8h0M184.48 308.17h0M324.6 392.82h0M201.56 349.66h0M488.82 323.1h0M168.41 372.9h0M500.37 437.64h0M167.41 357.96h0M447.63 396.14h0M383.35 331.4h0M182.98 339.7h0M452.15 318.12h0M202.56 319.78h0M121.2 288.25h0M386.87 361.28h0M346.19 401.12h0M394.4 371.24h0M165.4 389.5h0M202.06 296.55h0M417.5 449.26h0M119.2 341.36h0M506.39 455.9h0M289.44 429.34h0M386.87 348h0M232.69 162.09h0M167.91 421.04h0M83.54 442.62h0M183.48 442.62h0M503.88 411.08h0M557.62 372.9h0M296.47 377.88h0M264.33 173.71h0M215.12 318.12h0M554.1 269.99h0M107.65 185.33h0M279.4 391.16h0M162.89 215.21h0M198.54 367.92h0M461.19 206.91h0M180.46 250.07h0M354.23 361.28h0M258.81 349.66h0M330.62 426.02h0M242.23 427.68h0M218.63 348h0M218.13 407.76h0M121.2 376.22h0M317.06 369.58h0M510.91 422.7h0M544.06 316.46h0M92.58 361.28h0M528.49 409.42h0M139.28 394.48h0M446.63 384.52h0M517.44 435.98h0M162.39 346.34h0M241.73 374.56h0M263.83 339.7h0M248.76 392.82h0M335.14 354.64h0M83.04 299.87h0M286.43 406.1h0M507.9 523.95h0M122.21 348h0M318.57 313.14h0M317.06 233.47h0M462.7 324.76h0M553.1 374.56h0M427.55 369.58h0M214.11 339.7h0M410.97 374.56h0M249.27 376.22h0M455.67 344.68h0M413.49 427.68h0M560.13 409.42h0M502.37 338.04h0M101.62 407.76h0M222.15 386.18h0M500.37 263.35h0M378.83 364.6h0M247.76 497.39h0M106.64 376.22h0M453.16 328.08h0M79.52 389.5h0M124.72 289.91h0M568.66 381.2h0M459.69 296.55h0M503.38 328.08h0M315.05 329.74h0M162.89 439.3h0M344.68 258.37h0M287.94 266.67h0M159.87 339.7h0M161.38 294.89h0M207.08 361.28h0M541.55 465.86h0M565.15 401.12h0M426.04 409.42h0M435.08 316.46h0M439.6 396.14h0M335.64 357.96h0M167.41 394.48h0M507.9 404.44h0M509.41 406.1h0M429.05 397.8h0M536.52 314.8h0M561.63 357.96h0M328.61 343.02h0M451.15 308.17h0M386.37 467.52h0M135.77 273.31h0M234.2 311.49h0M112.67 339.7h0M512.42 314.8h0M89.57 308.17h0M346.19 329.74h0M167.41 276.63h0M151.84 279.95h0M161.38 246.75h0M507.4 348h0M324.09 253.39h0M246.25 318.12h0M571.68 366.26h0M350.71 326.42h0M228.17 362.94h0M260.31 311.49h0M422.52 349.66h0M138.28 329.74h0M451.15 366.26h0M510.91 298.21h0M313.55 437.64h0M293.96 356.3h0M149.83 233.47h0M286.43 195.29h0M454.16 341.36h0M281.91 434.32h0M387.87 346.34h0M100.61 386.18h0M188.5 419.38h0M180.46 421.04h0M562.14 394.48h0M101.12 392.82h0M186.49 399.46h0M94.59 351.32h0M396.91 366.26h0M402.94 323.1h0M248.26 449.26h0M97.1 386.18h0M292.96 260.03h0M163.89 304.85h0M288.44 371.24h0M261.32 314.8h0M189 333.06h0M490.32 450.92h0M421.02 344.68h0M311.54 397.8h0M274.88 376.22h0M132.76 404.44h0M379.84 309.83h0M329.12 283.27h0M521.96 449.26h0M555.61 336.38h0M475.26 489.09h0M502.37 414.4h0M324.6 397.8h0M261.82 366.26h0M315.56 374.56h0M343.18 333.06h0M478.77 394.48h0M153.85 336.38h0M378.33 386.18h0M522.46 429.34h0M190.01 338.04h0M221.14 377.88h0M490.32 133.88h0M402.44 233.47h0M553.6 394.48h0M397.92 422.7h0M545.06 386.18h0M483.29 356.3h0M412.98 445.94h0M173.43 406.1h0M185.49 394.48h0M500.87 374.56h0M242.74 296.55h0M418.51 343.02h0M292.96 397.8h0M305.51 326.42h0M84.04 470.84h0M481.28 411.08h0M232.19 271.65h0M244.24 399.46h0M114.68 357.96h0M389.88 374.56h0M460.69 434.32h0M332.63 359.62h0M315.05 429.34h0M457.68 384.52h0M126.73 402.78h0M348.2 457.56h0M447.13 361.28h0M258.31 391.16h0M506.89 414.4h0M304.01 440.96h0M136.27 329.74h0M559.63 198.61h0M303.5 351.32h0M448.64 328.08h0M117.69 306.51h0M474.75 334.72h0M154.35 386.18h0M140.79 445.94h0M215.62 371.24h0M287.43 401.12h0M319.07 439.3h0M289.44 326.42h0M96.09 334.72h0M376.82 273.31h0M443.62 266.67h0M560.63 361.28h0M355.23 248.41h0M535.52 298.21h0M546.57 384.52h0M184.98 372.9h0M111.66 361.28h0M163.39 369.58h0M445.12 422.7h0M208.09 341.36h0M134.76 419.38h0M542.05 399.46h0M417 289.91h0M549.58 369.58h0M240.73 318.12h0M174.44 369.58h0M146.82 339.7h0M542.05 294.89h0M160.38 517.31h0M471.74 457.56h0M184.48 376.22h0M500.37 382.86h0M107.14 313.14h0M265.84 284.93h0M275.88 396.14h0M559.63 367.92h0M517.94 308.17h0M267.34 338.04h0M287.43 394.48h0M431.56 359.62h0M396.91 333.06h0M515.93 158.77h0M418.51 339.7h0M334.64 391.16h0M519.45 429.34h0M241.23 389.5h0M258.81 308.17h0M251.27 354.64h0M321.08 399.46h0M96.09 382.86h0M302 457.56h0M234.7 273.31h0M200.05 396.14h0M202.06 279.95h0M469.73 243.43h0M267.85 386.18h0M561.63 351.32h0M281.41 281.61h0M423.53 319.78h0M229.18 243.43h0M482.79 279.95h0M184.98 366.26h0M215.12 359.62h0M223.15 351.32h0M143.3 460.88h0M447.63 357.96h0M290.95 321.44h0M141.29 274.97h0M345.69 374.56h0M320.58 170.39h0M329.62 381.2h0M430.06 384.52h0M112.17 406.1h0M322.59 487.43h0M104.63 371.24h0M559.12 396.14h0M405.95 407.76h0M162.89 251.73h0M529.49 371.24h0M165.9 235.13h0M252.78 454.24h0M102.62 273.31h0M260.82 240.11h0M439.1 364.6h0M139.28 333.06h0M459.69 323.1h0M288.94 452.58h0M471.74 452.58h0M165.4 367.92h0M520.45 422.7h0M437.09 177.03h0M102.62 417.72h0M316.06 362.94h0M111.66 386.18h0M434.58 338.04h0M256.8 454.24h0M458.68 246.75h0M510.41 321.44h0M166.4 396.14h0M475.26 485.77h0M267.85 235.13h0M265.84 328.08h0M403.44 392.82h0M558.12 426.02h0M416.5 321.44h0M189 409.42h0M79.02 338.04h0M134.26 321.44h0M224.16 361.28h0M113.17 374.56h0M111.66 338.04h0M543.55 401.12h0M154.35 444.28h0M242.74 336.38h0M553.6 407.76h0M344.18 392.82h0M421.02 294.89h0M220.64 389.5h0M408.97 367.92h0M159.87 404.44h0M248.26 364.6h0M522.46 273.31h0M438.09 311.49h0M307.02 495.73h0M305.01 336.38h0M444.12 384.52h0M273.87 357.96h0M291.45 357.96h0M362.26 444.28h0M358.24 406.1h0M306.01 255.05h0M380.34 434.32h0M153.35 343.02h0M442.11 362.94h0M159.87 374.56h0M474.75 243.43h0M364.77 429.34h0M538.03 301.53h0M283.92 361.28h0M405.45 394.48h0M115.18 411.08h0M228.17 402.78h0M159.37 457.56h0M409.97 376.22h0M138.78 550.51h0M326.1 301.53h0M204.57 411.08h0M162.39 447.6h0M476.76 213.55h0M200.05 376.22h0M118.69 364.6h0M271.36 243.43h0M183.98 386.18h0M431.06 417.72h0M387.37 311.49h0M544.56 354.64h0M494.84 377.88h0M229.68 424.36h0M499.86 377.88h0M204.57 359.62h0M495.85 356.3h0M150.83 123.92h0M534.01 409.42h0M360.25 228.49h0M304.51 532.25h0M276.38 434.32h0M263.83 366.26h0M156.86 406.1h0M392.89 183.67h0M253.28 263.35h0M509.41 379.54h0M140.29 357.96h0M310.03 450.92h0M370.8 331.4h0M437.59 303.19h0M403.94 349.66h0M288.44 389.5h0M439.1 427.68h0M429.05 417.72h0M265.84 248.41h0M288.94 321.44h0M252.78 289.91h0M460.19 354.64h0M149.83 366.26h0M477.77 382.86h0M372.3 419.38h0M260.82 341.36h0M541.55 329.74h0M549.58 367.92h0M555.11 454.24h0M128.74 392.82h0M322.08 432.66h0M530 444.28h0M83.04 409.42h0M226.67 283.27h0M305.51 444.28h0M216.12 331.4h0M364.27 351.32h0M345.69 296.55h0M491.33 180.35h0M198.04 389.5h0M450.15 210.23h0M323.59 404.44h0M553.6 286.59h0M498.36 362.94h0M89.06 334.72h0M274.88 431h0M205.57 426.02h0M320.58 291.57h0M570.17 333.06h0M367.78 382.86h0M113.17 401.12h0M446.13 274.97h0M178.96 377.88h0M307.52 404.44h0M395.41 500.71h0M525.48 329.74h0M246.25 271.65h0M408.46 356.3h0M96.6 387.84h0M109.65 389.5h0M287.94 407.76h0M373.31 435.98h0M218.63 445.94h0M444.12 504.03h0M236.71 421.04h0M212.61 376.22h0M422.52 336.38h0M428.55 343.02h0M559.12 220.19h0M144.81 323.1h0M126.73 281.61h0M485.3 391.16h0M215.62 291.57h0M522.46 431h0M364.27 411.08h0M378.83 387.84h0M81.03 374.56h0M361.26 387.84h0M504.38 195.29h0M568.66 238.45h0M265.34 384.52h0M162.39 296.55h0M520.96 343.02h0M282.41 414.4h0M302 454.24h0M310.53 416.06h0M351.71 316.46h0M109.15 427.68h0M86.05 299.87h0M455.17 482.45h0M393.9 301.53h0M271.86 190.31h0M403.94 414.4h0M430.56 314.8h0M222.65 475.82h0M270.86 386.18h0M202.06 357.96h0M147.32 293.23h0M374.31 382.86h0M441.61 341.36h0M381.85 323.1h0M205.57 409.42h0M397.92 225.17h0M280.4 344.68h0M298.98 352.98h0M85.05 381.2h0M460.69 444.28h0M517.94 372.9h0M222.65 411.08h0M256.3 407.76h0M322.59 426.02h0M273.87 392.82h0M259.81 407.76h0M445.63 255.05h0M403.44 379.54h0M236.71 440.96h0M394.4 381.2h0M417 324.76h0M295.47 434.32h0M208.09 484.11h0M500.37 348h0M81.53 323.1h0M433.07 364.6h0M474.75 326.42h0M183.98 374.56h0M363.27 379.54h0M562.64 431h0M227.17 371.24h0M385.36 367.92h0M281.91 479.13h0M295.97 379.54h0M448.64 369.58h0M350.21 377.88h0M216.12 225.17h0M443.62 248.41h0M357.74 440.96h0M230.18 357.96h0M376.82 364.6h0M444.12 348h0M110.66 255.05h0M160.88 359.62h0M251.78 309.83h0M202.56 256.71h0M361.26 251.73h0M103.13 334.72h0M527.99 406.1h0M440.6 338.04h0M284.92 339.7h0M154.35 338.04h0M110.16 364.6h0M442.61 387.84h0M361.26 419.38h0M282.41 273.31h0M233.2 372.9h0M105.64 333.06h0M451.15 276.63h0M183.98 346.34h0M211.6 372.9h0M195.03 384.52h0M361.26 377.88h0M222.15 402.78h0M132.76 281.61h0M505.39 341.36h0M164.9 439.3h0M186.49 338.04h0M443.11 416.06h0M305.51 394.48h0M537.03 326.42h0M516.44 424.36h0M358.75 323.1h0M160.38 372.9h0M230.18 401.12h0M407.96 381.2h0M225.16 397.8h0M333.64 460.88h0M139.28 392.82h0M358.75 309.83h0M541.04 435.98h0M388.88 437.64h0M220.64 417.72h0M136.27 344.68h0M377.33 362.94h0M353.72 412.74h0M449.64 411.08h0M79.52 299.87h0M154.35 434.32h0M385.36 372.9h0M365.78 372.9h0M425.54 328.08h0M515.93 132.22h0M455.67 417.72h0M383.35 442.62h0M569.17 357.96h0M244.24 387.84h0M198.54 435.98h0M212.1 419.38h0M391.89 321.44h0M138.28 211.89h0M278.9 434.32h0M247.76 450.92h0M137.78 422.7h0M484.3 437.64h0M486.3 352.98h0M203.57 422.7h0M123.21 399.46h0M391.39 362.94h0M180.46 364.6h0M370.3 314.8h0M270.36 268.33h0M499.36 314.8h0M232.19 351.32h0M337.15 361.28h0M119.7 343.02h0M257.3 419.38h0M520.45 467.52h0M150.83 419.38h0M448.64 402.78h0M300.99 426.02h0M360.25 357.96h0M516.44 374.56h0M519.95 432.66h0M293.46 440.96h0M568.66 429.34h0M219.13 377.88h0M190.01 432.66h0M385.86 361.28h0M373.31 367.92h0M337.65 367.92h0M230.18 316.46h0M291.95 381.2h0M351.21 268.33h0M92.08 467.52h0M111.16 432.66h0M98.1 298.21h0M488.82 449.26h0M387.87 389.5h0M232.69 269.99h0M365.78 426.02h0M507.9 396.14h0M128.24 334.72h0M176.95 417.72h0M240.73 238.45h0M305.01 346.34h0M254.29 397.8h0M493.33 369.58h0M350.71 391.16h0M116.68 391.16h0M209.09 404.44h0M330.62 369.58h0M451.65 329.74h0M391.89 470.84h0M570.17 381.2h0M237.21 236.79h0M387.87 406.1h0M550.08 362.94h0M299.49 271.65h0M158.87 442.62h0M193.52 376.22h0M276.38 480.79h0M140.79 351.32h0M313.55 416.06h0M556.11 391.16h0M507.9 397.8h0M376.32 339.7h0M538.53 265.01h0M391.89 354.64h0M119.2 382.86h0M403.94 434.32h0M372.3 492.41h0M399.42 152.13h0M207.58 265.01h0M439.6 377.88h0M344.18 407.76h0M554.6 294.89h0M142.8 367.92h0M340.16 343.02h0M495.85 455.9h0M161.88 356.3h0M457.68 422.7h0M537.03 424.36h0M442.11 339.7h0M402.94 374.56h0M186.99 411.08h0M534.01 379.54h0M119.7 318.12h0M257.8 379.54h0M106.64 412.74h0M309.53 404.44h0M441.61 459.22h0M327.61 389.5h0M195.53 416.06h0M392.89 323.1h0M442.11 351.32h0M205.07 421.04h0M240.23 412.74h0M181.97 417.72h0M302.5 331.4h0M108.15 341.36h0M283.42 427.68h0M120.7 434.32h0M208.09 318.12h0M567.16 376.22h0M113.17 369.58h0M224.16 326.42h0M265.34 314.8h0M484.8 367.92h0M135.27 382.86h0M533.51 369.58h0M434.58 286.59h0M518.44 399.46h0M479.78 211.89h0M372.3 445.94h0M105.13 429.34h0M520.96 369.58h0M369.79 377.88h0M163.39 384.52h0M547.07 243.43h0M160.38 333.06h0M176.45 324.76h0M380.84 427.68h0M441.61 379.54h0M144.31 371.24h0M271.86 366.26h0M299.99 404.44h0M304.51 293.23h0M316.06 387.84h0M301.49 339.7h0M87.56 386.18h0M537.03 450.92h0M367.28 366.26h0M427.04 359.62h0M407.46 366.26h0M549.08 301.53h0M354.73 306.51h0M251.78 406.1h0M448.64 336.38h0M169.42 439.3h0M375.32 416.06h0M442.11 286.59h0M362.76 238.45h0M489.82 362.94h0M149.83 402.78h0M477.26 376.22h0M541.55 431h0M494.34 449.26h0M265.34 382.86h0M154.85 490.75h0M376.32 321.44h0M207.58 278.29h0M425.04 361.28h0M234.2 394.48h0M433.07 265.01h0M269.86 296.55h0M314.05 304.85h0M524.47 246.75h0M273.87 258.37h0M105.13 450.92h0M551.59 318.12h0M160.88 271.65h0M222.65 397.8h0M454.67 422.7h0M79.02 278.29h0M451.15 329.74h0M322.59 278.29h0M410.47 336.38h0M243.74 409.42h0M228.17 422.7h0M548.07 203.59h0M516.44 253.39h0M396.41 407.76h0M249.77 500.71h0M128.24 434.32h0M111.66 422.7h0M214.11 283.27h0M440.6 228.49h0M207.08 364.6h0M207.08 333.06h0M341.17 377.88h0M456.17 356.3h0M562.14 379.54h0M551.09 435.98h0M363.27 459.22h0M399.93 304.85h0M242.74 288.25h0M152.84 369.58h0M391.89 172.05h0M155.35 361.28h0M513.92 357.96h0M152.34 313.14h0M409.97 396.14h0M105.64 407.76h0M418.51 421.04h0M177.45 339.7h0M403.94 338.04h0M489.32 268.33h0M91.57 326.42h0M248.76 515.65h0M143.8 462.54h0M212.61 407.76h0M250.27 361.28h0M556.61 435.98h0M257.3 439.3h0M420.01 377.88h0M213.11 309.83h0M202.06 369.58h0M271.36 279.95h0M385.36 406.1h0M373.31 258.37h0M274.88 357.96h0M169.42 394.48h0M485.8 289.91h0M357.24 417.72h0M375.32 434.32h0M437.59 401.12h0M184.48 392.82h0M546.07 396.14h0M466.72 406.1h0M468.73 417.72h0M446.63 376.22h0M180.97 364.6h0M402.44 419.38h0M200.05 145.5h0M342.17 389.5h0M514.43 422.7h0M344.68 387.84h0M111.66 459.22h0M445.12 427.68h0M558.62 240.11h0M461.7 304.85h0M408.46 386.18h0M116.68 414.4h0M219.64 381.2h0M103.63 211.89h0M279.4 442.62h0M395.41 364.6h0M480.28 464.2h0M264.83 372.9h0M261.32 379.54h0M176.95 404.44h0M104.13 369.58h0M420.01 407.76h0M293.96 412.74h0M366.78 421.04h0M425.04 431h0M274.88 404.44h0M494.34 191.97h0M316.56 417.72h0M347.19 396.14h0M477.77 431h0M226.16 268.33h0M439.1 318.12h0M213.11 356.3h0M452.66 233.47h0M384.36 367.92h0M548.58 424.36h0M313.05 411.08h0M437.09 348h0M110.66 352.98h0M431.56 196.95h0M348.2 406.1h0M194.02 296.55h0M471.24 381.2h0M176.95 439.3h0M329.12 253.39h0M399.42 348h0M122.71 392.82h0M361.76 371.24h0M135.77 341.36h0M525.48 429.34h0M190.51 412.74h0M365.27 321.44h0M539.04 170.39h0M298.48 286.59h0M84.04 416.06h0M265.84 376.22h0M375.32 429.34h0M348.2 482.45h0M552.09 407.76h0M125.72 512.33h0M135.77 454.24h0M265.34 283.27h0M293.46 417.72h0M478.27 399.46h0M165.4 276.63h0M90.07 424.36h0M425.04 406.1h0M298.98 265.01h0M99.11 394.48h0M534.52 354.64h0M101.62 260.03h0M315.05 435.98h0M255.79 303.19h0M547.57 374.56h0M285.93 338.04h0M183.98 419.38h0M499.36 377.88h0M338.16 449.26h0M158.37 384.52h0M146.31 419.38h0M378.33 376.22h0M109.15 414.4h0M248.76 399.46h0M416 364.6h0M431.56 396.14h0M405.45 250.07h0M148.32 319.78h0M88.06 379.54h0M400.93 357.96h0M264.83 284.93h0M353.72 321.44h0M142.3 434.32h0M148.83 331.4h0M160.88 333.06h0M430.06 386.18h0M181.47 437.64h0M184.48 349.66h0M478.77 361.28h0M261.82 274.97h0M475.26 238.45h0M327.61 440.96h0M366.78 452.58h0M253.79 361.28h0M311.04 397.8h0M276.89 399.46h0M350.21 427.68h0M514.93 426.02h0M387.87 331.4h0M368.79 435.98h0M392.39 306.51h0M87.06 414.4h0M193.52 309.83h0M282.41 301.53h0M559.63 381.2h0M443.62 334.72h0M524.97 313.14h0M356.74 352.98h0M503.88 248.41h0M308.53 396.14h0M522.46 379.54h0M567.66 352.98h0M408.46 233.47h0M317.06 301.53h0M429.56 313.14h0M546.07 394.48h0M308.02 439.3h0M420.01 399.46h0M102.62 298.21h0M369.29 288.25h0M228.68 416.06h0M455.17 417.72h0M222.65 338.04h0M378.83 238.45h0M326.1 352.98h0M570.67 356.3h0M504.89 356.3h0M122.71 344.68h0M525.98 346.34h0M455.17 386.18h0M134.26 200.27h0M446.13 153.79h0M529.49 387.84h0M226.67 339.7h0M355.73 376.22h0M154.85 440.96h0M259.31 243.43h0M323.09 452.58h0M291.45 440.96h0M172.93 376.22h0M562.64 411.08h0M88.06 444.28h0M166.9 215.21h0M226.16 397.8h0M202.56 475.82h0M108.65 258.37h0M276.38 348h0M198.04 336.38h0M242.23 357.96h0M132.25 464.2h0M501.37 435.98h0M464.21 329.74h0M86.05 402.78h0M94.59 411.08h0M408.97 402.78h0M212.61 261.69h0M252.78 397.8h0M319.07 417.72h0M542.55 268.33h0M138.78 396.14h0M254.79 419.38h0M453.16 374.56h0M372.81 361.28h0M257.8 384.52h0M332.63 348h0M96.6 203.59h0M249.77 421.04h0M421.52 356.3h0M87.06 338.04h0M320.08 432.66h0M165.4 321.44h0M172.93 321.44h0M227.17 392.82h0M185.99 364.6h0M134.76 231.81h0M219.13 377.88h0M454.16 421.04h0M369.79 304.85h0M458.18 349.66h0M488.31 294.89h0M431.56 384.52h0M180.97 371.24h0M265.84 313.14h0M225.66 434.32h0M447.63 394.48h0M386.37 421.04h0M392.39 329.74h0M503.38 236.79h0M197.04 362.94h0M213.11 339.7h0M404.45 371.24h0M493.84 362.94h0M84.04 351.32h0M525.48 445.94h0M211.6 296.55h0M238.22 371.24h0M397.92 394.48h0M527.48 376.22h0M111.66 364.6h0M310.03 366.26h0M475.76 321.44h0M324.6 289.91h0M378.83 440.96h0M431.06 371.24h0M391.39 316.46h0M85.55 382.86h0M513.42 367.92h0M200.55 442.62h0M289.44 386.18h0M491.33 367.92h0M250.27 293.23h0M293.96 442.62h0M381.34 402.78h0M250.77 387.84h0M216.62 278.29h0M338.16 328.08h0M167.91 444.28h0M272.87 311.49h0M184.98 223.51h0M140.29 318.12h0M556.61 362.94h0M481.78 284.93h0M550.08 213.55h0M283.92 293.23h0M208.09 382.86h0M518.95 411.08h0M205.57 465.86h0M289.94 362.94h0M388.38 427.68h0M184.48 434.32h0M319.07 308.17h0M466.22 391.16h0M378.33 452.58h0M242.23 434.32h0M149.83 362.94h0M299.49 412.74h0M309.03 333.06h0M216.12 233.47h0M269.35 309.83h0M264.83 318.12h0M133.26 319.78h0M521.46 344.68h0M468.73 357.96h0M380.84 299.87h0M206.08 371.24h0M355.73 351.32h0M258.31 364.6h0M184.48 424.36h0M217.12 328.08h0M367.28 432.66h0M226.16 167.07h0M396.91 296.55h0M498.86 387.84h0M442.61 279.95h0M511.41 367.92h0M510.41 391.16h0M448.64 351.32h0M319.57 271.65h0M187.5 374.56h0M106.14 346.34h0M266.84 528.93h0M137.28 382.86h0M136.77 319.78h0M225.66 452.58h0M246.25 386.18h0M559.63 454.24h0M148.83 406.1h0M388.88 329.74h0M94.09 421.04h0M491.33 422.7h0M133.26 235.13h0M269.35 394.48h0M322.59 349.66h0M466.72 369.58h0M315.56 409.42h0M215.12 338.04h0M469.23 382.86h0M178.96 371.24h0M553.6 293.23h0M400.93 434.32h0M91.07 379.54h0M550.08 361.28h0M500.87 362.94h0M179.96 367.92h0M561.63 328.08h0M285.42 336.38h0M560.13 371.24h0M335.14 409.42h0M277.89 374.56h0M260.31 389.5h0M444.12 303.19h0M456.67 203.59h0M479.27 269.99h0M457.18 316.46h0M151.84 268.33h0M104.63 364.6h0M227.17 260.03h0M241.23 384.52h0M268.85 479.13h0M362.76 404.44h0M214.11 404.44h0M559.12 296.55h0M263.83 387.84h0M186.49 401.12h0M274.88 361.28h0M299.49 346.34h0M352.22 427.68h0M172.43 396.14h0M298.98 357.96h0M540.04 382.86h0M144.31 444.28h0M470.74 399.46h0M200.05 331.4h0M240.23 351.32h0M514.43 318.12h0M307.02 459.22h0M533.01 379.54h0M85.55 346.34h0M354.23 384.52h0M115.68 235.13h0M329.62 381.2h0M450.65 198.61h0M149.83 357.96h0M189 367.92h0M489.82 364.6h0M448.14 366.26h0M363.77 203.59h0M372.81 372.9h0M176.95 389.5h0M335.14 339.7h0M518.44 357.96h0M291.45 411.08h0M114.17 336.38h0M540.54 374.56h0M461.7 326.42h0M115.68 338.04h0M284.42 331.4h0M154.35 361.28h0M510.91 389.5h0M403.94 293.23h0M534.52 382.86h0M311.04 455.9h0M566.66 452.58h0M116.68 331.4h0M195.03 369.58h0M474.25 374.56h0M373.81 431h0M530 421.04h0M261.82 359.62h0M79.52 309.83h0M310.03 371.24h0M147.32 367.92h0M157.36 324.76h0M185.99 348h0M179.96 240.11h0M285.93 352.98h0M360.25 341.36h0M483.29 427.68h0M93.08 422.7h0M109.65 299.87h0M247.76 399.46h0M285.42 392.82h0M127.73 308.17h0M456.17 419.38h0M205.07 344.68h0M565.65 188.65h0M402.94 417.72h0M112.67 255.05h0M522.96 424.36h0M301.49 379.54h0M472.24 336.38h0M434.58 450.92h0M221.14 293.23h0M323.59 367.92h0M103.63 437.64h0M98.61 329.74h0M244.24 308.17h0M527.99 361.28h0M440.6 260.03h0M454.16 394.48h0M285.93 279.95h0M549.08 351.32h0M361.26 291.57h0M380.84 409.42h0M516.44 208.57h0M195.53 316.46h0M189.5 431h0M351.71 364.6h0M349.71 268.33h0M394.4 416.06h0M129.24 406.1h0M217.63 268.33h0M206.58 338.04h0M320.58 344.68h0M372.81 426.02h0M290.95 243.43h0M512.92 396.14h0M280.9 382.86h0M345.69 294.89h0M139.28 352.98h0M327.11 369.58h0M546.57 442.62h0M515.43 411.08h0M85.05 314.8h0M563.14 246.75h0M356.74 304.85h0M478.27 384.52h0M194.53 407.76h0M111.66 376.22h0M513.92 316.46h0M321.08 404.44h0M209.09 416.06h0M208.59 492.41h0M265.84 241.77h0M189 328.08h0M202.06 389.5h0M380.84 402.78h0M531 361.28h0M399.42 352.98h0M345.19 324.76h0M158.87 424.36h0M81.53 314.8h0M496.85 190.31h0M497.85 376.22h0M505.39 386.18h0M165.9 298.21h0M91.57 308.17h0M315.05 439.3h0M302 321.44h0M333.13 447.6h0M432.07 435.98h0M500.87 421.04h0M323.09 411.08h0M459.19 389.5h0M81.53 411.08h0M184.48 414.4h0M201.56 389.5h0M269.86 359.62h0M499.86 369.58h0M165.4 316.46h0M487.31 381.2h0M157.87 494.07h0M156.86 435.98h0M255.79 412.74h0M314.55 440.96h0M498.86 357.96h0M373.31 402.78h0M221.64 426.02h0M154.35 203.59h0M363.77 291.57h0M456.67 369.58h0M296.47 314.8h0M191.51 401.12h0M227.67 328.08h0M300.99 402.78h0M505.39 344.68h0M523.97 328.08h0M131.25 341.36h0M114.68 196.95h0M219.64 265.01h0M79.52 409.42h0M339.66 404.44h0M549.08 379.54h0M454.67 324.76h0M232.19 291.57h0M88.06 299.87h0M400.43 351.32h0M441.61 376.22h0M501.87 329.74h0M499.36 258.37h0M440.1 469.18h0M353.72 381.2h0M265.84 354.64h0M240.23 348h0M465.71 311.49h0M378.33 351.32h0M527.99 424.36h0M454.67 377.88h0M196.03 291.57h0M137.78 412.74h0M83.04 424.36h0M117.19 303.19h0M256.8 382.86h0M532 397.8h0M238.22 439.3h0M94.09 379.54h0M492.83 386.18h0M301.49 419.38h0M343.68 369.58h0M396.91 314.8h0M128.24 455.9h0M337.15 444.28h0M221.14 367.92h0M200.55 311.49h0M92.08 366.26h0M318.07 424.36h0M101.62 379.54h0M122.21 328.08h0M376.82 364.6h0M391.39 210.23h0M500.37 367.92h0M527.48 396.14h0M323.59 266.67h0M481.28 341.36h0M167.91 357.96h0M347.7 369.58h0M533.01 429.34h0M111.16 352.98h0M465.71 416.06h0M158.87 394.48h0M100.11 311.49h0M345.69 303.19h0M505.39 352.98h0M242.23 391.16h0M192.52 361.28h0M232.69 284.93h0M192.01 447.6h0M336.15 299.87h0M131.75 407.76h0M167.41 357.96h0M460.69 440.96h0M189 386.18h0M411.48 343.02h0M299.49 411.08h0M133.76 404.44h0M256.8 464.2h0M187.5 431h0M457.18 303.19h0M517.44 278.29h0M419.01 424.36h0M325.1 344.68h0M557.62 396.14h0M175.44 369.58h0M119.2 396.14h0M184.98 374.56h0M320.08 357.96h0M444.62 450.92h0M126.73 465.86h0M541.04 352.98h0M326.1 377.88h0M473.75 299.87h0M424.03 361.28h0M123.72 338.04h0M482.79 364.6h0M244.75 469.18h0M351.21 419.38h0M389.38 381.2h0M248.26 399.46h0M205.07 397.8h0M279.9 329.74h0M439.1 346.34h0M402.94 366.26h0M321.58 261.69h0M477.77 414.4h0M174.94 396.14h0M513.92 399.46h0M272.87 364.6h0M89.57 366.26h0M345.19 351.32h0M312.54 329.74h0M213.61 427.68h0M345.19 288.25h0M424.53 245.09h0M537.53 160.43h0M96.6 392.82h0M368.79 431h0M552.59 361.28h0M248.76 299.87h0M525.98 333.06h0M243.74 286.59h0M441.61 323.1h0M279.9 391.16h0M394.9 321.44h0M410.47 359.62h0M150.33 328.08h0M169.92 303.19h0M334.64 269.99h0M157.87 396.14h0M484.3 381.2h0M398.92 366.26h0M118.69 414.4h0M501.87 364.6h0M470.74 412.74h0M498.86 367.92h0M81.53 323.1h0M126.73 460.88h0M154.35 339.7h0M121.71 377.88h0M400.43 459.22h0M551.59 401.12h0M437.59 527.27h0M109.65 354.64h0M517.94 359.62h0M246.75 372.9h0M308.02 429.34h0M432.57 455.9h0M372.81 294.89h0M504.38 352.98h0M176.95 435.98h0M192.01 427.68h0M146.31 387.84h0M204.57 396.14h0M335.64 402.78h0M134.76 397.8h0M508.4 422.7h0M475.76 482.45h0M454.67 384.52h0M549.08 313.14h0M358.75 407.76h0M421.02 238.45h0M218.13 402.78h0M527.99 384.52h0M493.33 314.8h0M397.92 343.02h0M174.94 381.2h0M368.79 361.28h0M256.3 454.24h0M178.96 401.12h0M315.56 367.92h0M390.89 421.04h0M506.89 472.5h0M266.84 253.39h0M176.95 416.06h0M229.18 279.95h0M364.77 308.17h0M391.89 314.8h0M242.74 431h0M489.82 291.57h0M286.93 409.42h0M357.74 437.64h0M472.24 367.92h0M511.41 429.34h0M312.54 303.19h0M94.59 421.04h0M450.15 344.68h0M159.37 303.19h0M368.79 286.59h0M516.44 261.69h0M382.35 279.95h0M500.87 294.89h0M287.43 452.58h0M133.76 346.34h0M288.94 381.2h0M485.3 437.64h0M206.08 356.3h0M549.58 440.96h0M151.84 316.46h0M423.03 369.58h0M469.73 364.6h0M198.04 178.69h0M444.62 470.84h0M527.48 431h0M240.73 382.86h0M208.59 437.64h0M231.69 352.98h0M330.12 419.38h0M512.42 173.71h0M242.74 240.11h0M549.08 384.52h0M459.19 366.26h0M362.76 442.62h0M416.5 384.52h0M553.1 339.7h0M142.3 235.13h0M321.08 419.38h0M237.72 313.14h0M534.52 260.03h0M333.64 361.28h0M245.25 407.76h0M130.75 387.84h0M509.41 404.44h0M141.29 286.59h0M339.66 323.1h0M480.78 160.43h0M410.47 409.42h0M485.8 331.4h0M370.8 424.36h0M444.12 406.1h0M368.79 361.28h0M311.04 338.04h0M464.21 440.96h0M237.21 331.4h0M167.41 435.98h0M136.77 386.18h0M125.22 354.64h0M425.54 377.88h0M211.6 457.56h0M524.97 389.5h0M154.85 286.59h0M329.62 419.38h0M471.24 362.94h0M429.56 369.58h0M90.07 409.42h0M451.15 153.79h0M547.07 474.16h0M194.02 394.48h0M485.3 308.17h0M363.27 382.86h0M194.02 411.08h0M560.63 409.42h0M527.48 381.2h0M469.73 291.57h0M79.52 349.66h0M408.97 379.54h0M298.48 421.04h0M210.6 354.64h0M495.34 384.52h0M162.89 329.74h0M140.29 399.46h0M379.34 326.42h0M393.9 336.38h0M461.19 356.3h0M222.65 251.73h0M406.45 409.42h0M439.6 366.26h0M553.1 369.58h0M568.66 422.7h0M449.64 323.1h0M221.64 379.54h0M295.97 341.36h0M208.59 434.32h0M264.83 323.1h0M156.86 313.14h0M425.04 387.84h0M156.86 326.42h0M461.19 228.49h0M281.91 464.2h0M298.48 253.39h0M550.08 397.8h0M425.54 379.54h0M102.12 153.79h0M484.8 399.46h0M374.31 236.79h0M468.22 286.59h0M336.15 346.34h0M354.73 387.84h0M457.18 356.3h0M379.84 240.11h0M147.32 455.9h0M463.2 391.16h0M238.72 429.34h0M181.47 416.06h0M360.25 352.98h0M227.17 387.84h0M475.76 203.59h0M461.7 314.8h0M551.59 397.8h0M124.72 180.35h0M433.57 406.1h0M238.22 432.66h0M513.42 389.5h0M98.1 376.22h0M258.31 346.34h0M277.39 406.1h0M428.55 397.8h0M162.89 377.88h0M449.14 336.38h0M122.21 336.38h0M349.2 538.89h0M502.88 411.08h0M376.82 419.38h0M403.94 344.68h0M441.61 311.49h0M230.18 404.44h0M282.91 371.24h0M367.28 444.28h0M258.81 382.86h0M232.69 404.44h0M562.64 323.1h0M79.52 394.48h0M216.12 278.29h0M155.35 366.26h0M284.42 348h0M508.4 266.67h0M392.89 361.28h0M538.03 416.06h0M124.22 333.06h0M564.14 369.58h0M487.31 291.57h0M511.92 401.12h0M301.49 361.28h0M129.74 445.94h0M435.58 348h0M128.24 379.54h0M567.16 387.84h0M152.34 422.7h0M316.06 308.17h0M303 389.5h0M147.82 324.76h0M153.35 369.58h0M294.97 412.74h0M240.73 419.38h0M347.19 248.41h0M365.78 265.01h0M439.1 402.78h0M386.37 384.52h0M308.02 406.1h0M357.74 386.18h0M413.49 409.42h0M207.08 191.97h0M440.1 336.38h0M413.49 419.38h0M402.44 404.44h0M211.1 366.26h0M229.68 434.32h0M409.97 346.34h0M106.14 243.43h0M241.23 338.04h0M266.34 356.3h0M141.79 440.96h0M393.4 382.86h0M564.65 334.72h0M531 366.26h0M112.17 248.41h0M344.18 309.83h0M245.75 477.48h0M562.14 374.56h0M399.93 389.5h0M472.24 381.2h0M93.08 439.3h0M360.25 158.77h0M195.03 382.86h0M269.86 371.24h0M318.07 371.24h0M409.47 392.82h0M270.36 314.8h0M483.29 434.32h0M255.79 381.2h0M201.56 329.74h0M320.58 338.04h0M510.91 362.94h0M557.11 203.59h0M136.77 435.98h0M160.38 329.74h0M116.68 369.58h0M152.34 376.22h0M513.42 412.74h0M431.56 343.02h0M464.21 480.79h0M453.66 394.48h0M239.22 470.84h0M275.38 407.76h0M249.27 364.6h0M338.16 364.6h0M119.2 331.4h0M339.16 379.54h0M296.47 283.27h0M365.27 206.91h0M530 366.26h0M539.04 279.95h0M279.9 367.92h0M125.72 392.82h0M557.62 377.88h0M159.87 294.89h0M524.97 384.52h0M137.28 459.22h0M299.49 362.94h0M222.65 437.64h0M209.59 334.72h0M334.14 228.49h0M339.66 339.7h0M462.7 177.03h0M343.68 361.28h0M552.09 326.42h0M411.98 431h0M351.21 482.45h0M488.82 251.73h0M545.56 183.67h0M177.45 379.54h0M534.01 288.25h0M517.44 426.02h0M375.82 284.93h0M345.69 397.8h0M308.53 324.76h0M437.59 427.68h0M375.82 427.68h0M362.26 362.94h0M518.44 223.51h0M516.44 429.34h0M570.17 387.84h0M284.42 402.78h0M429.56 349.66h0M121.71 343.02h0M568.16 389.5h0M329.62 505.69h0M253.79 417.72h0M422.52 289.91h0M288.94 377.88h0M360.25 256.71h0M337.65 260.03h0M443.11 266.67h0M299.49 298.21h0M104.63 404.44h0M530 321.44h0M504.89 484.11h0M270.86 301.53h0M407.46 311.49h0M413.49 352.98h0M401.93 364.6h0M443.11 369.58h0M141.29 421.04h0M215.12 377.88h0M387.37 112.3h0M488.31 341.36h0M426.04 344.68h0M167.91 362.94h0M198.54 426.02h0M406.45 339.7h0M486.81 356.3h0M357.74 454.24h0M294.46 341.36h0M161.38 258.37h0M129.24 407.76h0M230.68 331.4h0M430.06 411.08h0M162.89 372.9h0M290.45 432.66h0M552.59 414.4h0M478.77 427.68h0M516.94 419.38h0M372.3 306.51h0M458.68 406.1h0M329.12 334.72h0M273.37 406.1h0M455.67 392.82h0M356.23 316.46h0M238.72 467.52h0M392.39 328.08h0M552.09 279.95h0M116.18 381.2h0M265.84 281.61h0M380.34 286.59h0M525.48 364.6h0M274.88 447.6h0M175.44 313.14h0M164.9 422.7h0M310.03 283.27h0M247.26 336.38h0M104.13 298.21h0M203.57 303.19h0M551.09 427.68h0M281.91 354.64h0M284.92 303.19h0M191.51 419.38h0M268.85 351.32h0M357.24 304.85h0M171.42 406.1h0M372.81 426.02h0M490.32 401.12h0M297.48 412.74h0M178.46 391.16h0M247.76 455.9h0M550.59 344.68h0M377.83 308.17h0M486.3 369.58h0M508.9 372.9h0M358.24 384.52h0M410.97 279.95h0M277.89 238.45h0M249.77 367.92h0M315.05 444.28h0M270.86 379.54h0M357.74 414.4h0M565.15 316.46h0M470.74 255.05h0M517.94 361.28h0M208.59 304.85h0M237.72 376.22h0M553.1 331.4h0M267.34 241.77h0M357.74 357.96h0M98.1 426.02h0M515.93 419.38h0M461.7 336.38h0M464.71 333.06h0M140.29 397.8h0M150.33 412.74h0M281.41 394.48h0M508.4 460.88h0M114.68 387.84h0M112.17 333.06h0M448.14 371.24h0M463.71 386.18h0M332.63 394.48h0M318.57 371.24h0M163.39 276.63h0M170.92 364.6h0M152.34 407.76h0M206.08 278.29h0M499.86 351.32h0M371.3 376.22h0M384.36 319.78h0M565.15 334.72h0M238.22 422.7h0M323.59 323.1h0M478.77 162.09h0M392.39 369.58h0M219.13 449.26h0M173.43 314.8h0M255.79 494.07h0M236.21 369.58h0M138.78 367.92h0M236.21 377.88h0M201.05 475.82h0M485.3 374.56h0M160.38 409.42h0M332.13 258.37h0M454.16 301.53h0M226.67 314.8h0M171.93 211.89h0M386.87 326.42h0M277.89 412.74h0M321.58 397.8h0M124.22 321.44h0M568.66 364.6h0M186.99 422.7h0M455.67 426.02h0M564.65 394.48h0M232.19 303.19h0M570.67 351.32h0M247.26 492.41h0M315.05 329.74h0M315.56 349.66h0M246.25 333.06h0M213.61 349.66h0M164.39 397.8h0M476.26 269.99h0M213.11 452.58h0M273.87 384.52h0M269.86 377.88h0M402.94 452.58h0M156.86 311.49h0M487.81 386.18h0M149.83 303.19h0M400.93 354.64h0M506.89 271.65h0M219.64 396.14h0M217.63 414.4h0M472.74 404.44h0M411.98 442.62h0M157.87 276.63h0M170.42 379.54h0M533.51 343.02h0M499.36 336.38h0M345.19 311.49h0M464.71 362.94h0M273.87 421.04h0M84.04 333.06h0M219.64 289.91h0M192.01 384.52h0M469.23 406.1h0M155.86 303.19h0M275.88 339.7h0M560.63 382.86h0M216.12 276.63h0M396.91 372.9h0M417.5 379.54h0M527.48 339.7h0M552.09 313.14h0M537.03 434.32h0M368.79 455.9h0M555.11 426.02h0M112.17 452.58h0M93.58 364.6h0M437.59 434.32h0M384.36 323.1h0M271.36 296.55h0M414.49 346.34h0M486.3 351.32h0M568.16 359.62h0M413.99 346.34h0M430.56 348h0M402.94 269.99h0M302.5 260.03h0M305.51 411.08h0M188 306.51h0M394.4 371.24h0M252.28 304.85h0M87.56 469.18h0M535.02 479.13h0M369.79 356.3h0M391.89 376.22h0M446.63 377.88h0M213.11 299.87h0M268.35 356.3h0M568.16 359.62h0M203.06 412.74h0M264.33 318.12h0M526.48 343.02h0M207.58 372.9h0M149.33 333.06h0M164.9 424.36h0M169.92 437.64h0M190.01 329.74h0M85.05 364.6h0M98.1 427.68h0M413.49 396.14h0M437.09 442.62h0M436.08 367.92h0M325.1 384.52h0M316.56 454.24h0M480.78 357.96h0M401.43 429.34h0M454.16 364.6h0M517.44 303.19h0M360.75 372.9h0M551.09 384.52h0M356.74 450.92h0M492.83 442.62h0M394.9 351.32h0M549.08 391.16h0M387.87 293.23h0M177.95 422.7h0M386.87 328.08h0M199.05 326.42h0M489.82 427.68h0M570.67 426.02h0M480.78 326.42h0M321.58 341.36h0M294.46 225.17h0M499.86 351.32h0M139.79 381.2h0M422.02 348h0M186.99 321.44h0M137.78 271.65h0M513.42 256.71h0M141.79 313.14h0M233.2 339.7h0M307.52 454.24h0M201.56 351.32h0M485.3 326.42h0M566.66 409.42h0M97.6 495.73h0M517.44 313.14h0M287.94 404.44h0M396.41 314.8h0M310.03 336.38h0M289.44 356.3h0M294.97 381.2h0M453.16 348h0M188 274.97h0M552.09 489.09h0M471.24 336.38h0M155.86 253.39h0M87.06 409.42h0M241.73 225.17h0M189.5 379.54h0M137.28 316.46h0M445.12 313.14h0M122.71 384.52h0M239.22 376.22h0M220.64 431h0M460.19 334.72h0M535.02 386.18h0M327.11 376.22h0M270.36 319.78h0M238.22 338.04h0M336.65 384.52h0M230.68 435.98h0M429.56 372.9h0M102.12 404.44h0M509.41 426.02h0M479.78 221.85h0M205.57 268.33h0M84.04 177.03h0M439.6 392.82h0M179.46 482.45h0M294.46 286.59h0M243.74 386.18h0M348.7 382.86h0M519.45 269.99h0M258.81 296.55h0M447.13 450.92h0M366.78 230.15h0M133.76 477.48h0M426.54 329.74h0M474.75 352.98h0M303.5 326.42h0M277.39 379.54h0M453.66 401.12h0M422.02 401.12h0M203.06 364.6h0M509.91 439.3h0M519.45 389.5h0M462.2 417.72h0M208.09 348h0M545.06 402.78h0M442.61 228.49h0M93.58 404.44h0M492.83 326.42h0M330.12 313.14h0M83.04 314.8h0M159.87 260.03h0M195.53 371.24h0M407.46 369.58h0M138.28 273.31h0M192.01 274.97h0M128.74 278.29h0M335.64 283.27h0M170.92 276.63h0M196.03 419.38h0M513.92 235.13h0M476.26 357.96h0M202.56 427.68h0M536.52 359.62h0M250.27 487.43h0M153.85 414.4h0M413.49 391.16h0M382.35 392.82h0M339.16 462.54h0M555.61 284.93h0M240.23 371.24h0M380.34 240.11h0M185.99 411.08h0M428.05 391.16h0M413.99 437.64h0M252.78 391.16h0M79.52 411.08h0M246.25 432.66h0M167.41 251.73h0M389.38 411.08h0M203.06 366.26h0M162.39 460.88h0M291.95 336.38h0M355.23 431h0M110.66 406.1h0M540.54 366.26h0M180.97 409.42h0M266.84 354.64h0M226.67 334.72h0M550.08 417.72h0M501.37 440.96h0M161.88 412.74h0M511.41 374.56h0M373.31 474.16h0M239.22 108.98h0M550.08 369.58h0M445.12 434.32h0M180.46 314.8h0M564.14 472.5h0M399.42 381.2h0M406.45 223.51h0M311.54 409.42h0M272.37 434.32h0M82.03 343.02h0M452.15 339.7h0M380.34 386.18h0M434.58 344.68h0M269.35 339.7h0M455.17 397.8h0M151.84 431h0M571.68 278.29h0M460.19 401.12h0M260.82 349.66h0M399.42 281.61h0M152.34 426.02h0M379.34 328.08h0M528.99 361.28h0M450.15 256.71h0M450.65 348h0M455.17 344.68h0M156.36 381.2h0M218.13 412.74h0M433.57 371.24h0M137.78 386.18h0M232.69 411.08h0M98.1 346.34h0M174.94 364.6h0M416.5 364.6h0M484.3 417.72h0M565.15 402.78h0M510.91 301.53h0M450.65 399.46h0M497.35 421.04h0M504.38 323.1h0M396.91 396.14h0M332.13 376.22h0M419.51 311.49h0M437.59 397.8h0M113.67 402.78h0M490.32 279.95h0M318.57 336.38h0M353.72 324.76h0M288.44 343.02h0M146.82 387.84h0M502.88 208.57h0M398.42 419.38h0M201.56 490.75h0M253.79 411.08h0M317.56 339.7h0M176.95 323.1h0M375.82 445.94h0M306.01 318.12h0M459.19 374.56h0M468.22 394.48h0M437.59 429.34h0M319.07 386.18h0M354.73 459.22h0M225.16 298.21h0M237.21 464.2h0M127.23 319.78h0M518.44 356.3h0M252.78 288.25h0M275.38 298.21h0M310.53 424.36h0M537.53 387.84h0M415.49 389.5h0M480.78 341.36h0M168.41 374.56h0M172.93 294.89h0M139.28 367.92h0M566.15 321.44h0M398.92 427.68h0M304.01 399.46h0M337.15 411.08h0M416 348h0M480.28 356.3h0M395.91 258.37h0M455.17 289.91h0M90.57 426.02h0M161.88 367.92h0M557.11 372.9h0M501.87 271.65h0M290.45 406.1h0M273.87 412.74h0M153.35 412.74h0M135.27 313.14h0M295.47 336.38h0M135.27 460.88h0M471.24 429.34h0M378.33 447.6h0M258.81 278.29h0M509.91 328.08h0M181.97 371.24h0M140.79 354.64h0M175.94 352.98h0M515.43 354.64h0M150.83 435.98h0M117.19 479.13h0M401.93 298.21h0M412.48 271.65h0M209.59 241.77h0M292.96 384.52h0M283.92 371.24h0M477.77 424.36h0M403.94 316.46h0M532 246.75h0M561.63 429.34h0M161.38 399.46h0M260.31 394.48h0M384.86 381.2h0M533.51 338.04h0M167.41 352.98h0M174.44 343.02h0M79.52 407.76h0M423.53 386.18h0M460.19 431h0M86.05 359.62h0M86.55 356.3h0M447.63 276.63h0M345.19 444.28h0M209.59 389.5h0M366.78 341.36h0M249.27 459.22h0M447.63 396.14h0M515.43 399.46h0M79.02 367.92h0M442.11 349.66h0M454.16 431h0M213.11 245.09h0M422.52 386.18h0M265.84 504.03h0M224.66 366.26h0M367.28 338.04h0M451.65 323.1h0M523.97 437.64h0M516.44 371.24h0M144.31 480.79h0M426.04 334.72h0M361.26 371.24h0M453.66 329.74h0M482.79 440.96h0M132.76 255.05h0M423.53 459.22h0M186.99 394.48h0M272.87 324.76h0M112.17 379.54h0M543.55 374.56h0M372.81 250.07h0M404.95 444.28h0M288.44 339.7h0M243.24 354.64h0M193.52 407.76h0M200.55 153.79h0M274.88 391.16h0M484.8 250.07h0M145.81 364.6h0M533.01 406.1h0M90.57 348h0M566.15 271.65h0M476.76 399.46h0M474.75 279.95h0M463.2 391.16h0M440.6 384.52h0M529.49 406.1h0M150.83 246.75h0M438.09 469.18h0M105.13 235.13h0M254.29 389.5h0M437.09 319.78h0M364.77 356.3h0M329.12 354.64h0M106.14 439.3h0M436.08 326.42h0M181.47 376.22h0M332.13 417.72h0M559.12 382.86h0M317.56 444.28h0M414.49 417.72h0M263.33 351.32h0M396.41 412.74h0M133.26 435.98h0M130.24 386.18h0M150.33 372.9h0M427.04 211.89h0M177.95 374.56h0M175.94 396.14h0M395.91 449.26h0M241.23 382.86h0M387.37 402.78h0M158.87 298.21h0M138.28 465.86h0M332.63 313.14h0M200.55 459.22h0M162.89 357.96h0M100.11 364.6h0M543.55 351.32h0M364.77 339.7h0M413.49 351.32h0M523.47 286.59h0M550.08 328.08h0M412.48 316.46h0M564.65 352.98h0M328.61 386.18h0M277.89 416.06h0M162.39 231.81h0M279.9 331.4h0M376.82 362.94h0M245.25 464.2h0M542.55 318.12h0M132.25 404.44h0M527.99 387.84h0M362.26 276.63h0M252.78 266.67h0M193.02 296.55h0M137.28 296.55h0M134.76 278.29h0M98.61 225.17h0M206.08 367.92h0M504.38 475.82h0M137.28 213.55h0M92.08 384.52h0M327.11 289.91h0M242.74 434.32h0M258.31 421.04h0M98.61 387.84h0M295.47 416.06h0M267.85 331.4h0M566.15 291.57h0M550.59 450.92h0M276.89 435.98h0M531.5 431h0M369.79 321.44h0M162.39 344.68h0M559.12 319.78h0M272.87 304.85h0M323.09 431h0M426.54 346.34h0M194.02 459.22h0M318.07 412.74h0M198.54 349.66h0M202.06 255.05h0M252.28 387.84h0M526.48 324.76h0M402.94 431h0M270.86 362.94h0M245.75 359.62h0M280.9 343.02h0M151.84 435.98h0M507.9 422.7h0M260.31 422.7h0M320.08 208.57h0M128.74 440.96h0M523.47 303.19h0M334.14 411.08h0M569.67 377.88h0M132.76 392.82h0M209.09 411.08h0M385.36 357.96h0M277.39 258.37h0M472.24 324.76h0M375.32 288.25h0M502.37 261.69h0M469.23 412.74h0M90.57 407.76h0M540.04 417.72h0M151.84 431h0M249.27 266.67h0M347.19 422.7h0M510.91 376.22h0M227.17 407.76h0M93.58 346.34h0M133.76 301.53h0M468.73 329.74h0M179.46 439.3h0M410.47 338.04h0M417 411.08h0M549.08 426.02h0M572.18 402.78h0M196.53 442.62h0M491.83 316.46h0M271.86 429.34h0M188.5 261.69h0M245.25 431h0M180.97 372.9h0M571.68 440.96h0M85.05 401.12h0M495.85 278.29h0M427.04 406.1h0M360.25 196.95h0M190.01 243.43h0M236.21 362.94h0M545.06 437.64h0M479.78 374.56h0M139.79 318.12h0M295.47 409.42h0M544.06 357.96h0M95.09 279.95h0M343.18 299.87h0M437.59 384.52h0M210.09 437.64h0M279.9 299.87h0M535.02 278.29h0M384.86 338.04h0M494.34 437.64h0M423.03 276.63h0M192.01 429.34h0M155.35 397.8h0M384.36 326.42h0M236.71 421.04h0M113.67 426.02h0M107.14 389.5h0M474.75 411.08h0M435.08 248.41h0M494.34 323.1h0M85.05 387.84h0M377.83 250.07h0M153.35 414.4h0M511.41 314.8h0M388.88 394.48h0M98.1 314.8h0M503.38 442.62h0M202.56 255.05h0M545.56 334.72h0M241.73 286.59h0M461.19 372.9h0M330.12 379.54h0M313.55 429.34h0M227.67 377.88h0M569.17 311.49h0M508.4 311.49h0M570.67 417.72h0M123.21 379.54h0M381.85 357.96h0M325.6 399.46h0M223.15 281.61h0M386.87 386.18h0M550.59 341.36h0M444.62 278.29h0M399.93 321.44h0M255.79 369.58h0M368.29 367.92h0M81.03 389.5h0M206.58 411.08h0M397.41 387.84h0M401.43 381.2h0M141.29 331.4h0M249.77 376.22h0M555.61 396.14h0M187.5 367.92h0M158.37 321.44h0M329.12 449.26h0M257.8 211.89h0M338.16 369.58h0M112.17 352.98h0M414.99 397.8h0M277.39 331.4h0M124.72 271.65h0M338.66 407.76h0M373.31 265.01h0M233.2 416.06h0M196.53 382.86h0M511.92 364.6h0M395.91 266.67h0M230.68 296.55h0M462.7 336.38h0M277.89 357.96h0M314.55 255.05h0M151.34 391.16h0M228.17 343.02h0M257.3 364.6h0M481.28 319.78h0M190.01 256.71h0M337.65 198.61h0M200.55 412.74h0M444.62 434.32h0M152.84 406.1h0M321.58 324.76h0M207.58 260.03h0M429.56 318.12h0M509.41 369.58h0M561.63 431h0M419.51 381.2h0M81.03 382.86h0M442.61 497.39h0M438.6 374.56h0M478.27 211.89h0M442.11 397.8h0M153.85 291.57h0M536.02 265.01h0M207.58 338.04h0M474.75 384.52h0M142.8 397.8h0M119.7 374.56h0M218.63 419.38h0M128.24 303.19h0M235.2 391.16h0M157.36 331.4h0M504.89 246.75h0M460.69 377.88h0M504.89 421.04h0M370.8 424.36h0M196.03 402.78h0M99.11 414.4h0M125.22 255.05h0M213.11 411.08h0M215.62 513.99h0M221.64 278.29h0M486.81 432.66h0M435.08 417.72h0M364.27 346.34h0M288.94 381.2h0M198.54 445.94h0M375.82 344.68h0M209.59 361.28h0M474.75 228.49h0M528.49 329.74h0M348.7 437.64h0M99.11 299.87h0M417.5 356.3h0M234.2 411.08h0M533.51 452.58h0M117.69 233.47h0M428.05 406.1h0M449.14 384.52h0M100.61 371.24h0M486.81 426.02h0M194.02 366.26h0M462.7 201.93h0M483.29 424.36h0M355.23 326.42h0M378.83 372.9h0M536.02 381.2h0M156.86 324.76h0M335.64 381.2h0M260.82 336.38h0M88.56 334.72h0M129.74 412.74h0M247.26 409.42h0M497.35 359.62h0M494.84 304.85h0M234.2 377.88h0M434.58 361.28h0M371.3 288.25h0M485.3 346.34h0M456.67 361.28h0M235.2 324.76h0M504.89 288.25h0M417 421.04h0M139.79 470.84h0M121.71 329.74h0M109.65 321.44h0M470.23 326.42h0M326.6 424.36h0M126.73 311.49h0M399.42 399.46h0M405.45 475.82h0M508.4 377.88h0M389.38 288.25h0M571.68 309.83h0M354.23 465.86h0M305.01 431h0M476.76 409.42h0M209.59 435.98h0M201.56 407.76h0M435.08 426.02h0M488.82 492.41h0M416 422.7h0M186.99 354.64h0M357.24 384.52h0M122.21 412.74h0M498.86 258.37h0M555.61 354.64h0M88.06 422.7h0M269.86 279.95h0M500.87 359.62h0M493.84 359.62h0M258.31 432.66h0M199.05 417.72h0M366.28 419.38h0M267.85 338.04h0M86.05 447.6h0M334.64 323.1h0M260.82 507.35h0M261.82 348h0M164.9 326.42h0M377.33 349.66h0M208.09 401.12h0M569.17 409.42h0M394.9 338.04h0M465.21 359.62h0M473.25 404.44h0M177.95 256.71h0M504.89 346.34h0M475.26 449.26h0M375.82 389.5h0M496.85 333.06h0M279.4 293.23h0M201.56 326.42h0M232.69 215.21h0M464.71 180.35h0M381.85 348h0M335.64 412.74h0M492.33 226.83h0M128.74 362.94h0M91.57 354.64h0M370.8 271.65h0M421.52 309.83h0M494.34 357.96h0M310.03 245.09h0M404.45 401.12h0M256.3 238.45h0M148.83 357.96h0M484.8 364.6h0M539.04 417.72h0M145.81 216.87h0M386.87 301.53h0M399.93 409.42h0M420.52 328.08h0M296.47 308.17h0M240.23 437.64h0M267.34 318.12h0M217.12 311.49h0M367.28 432.66h0M142.8 409.42h0M318.57 343.02h0M357.74 289.91h0M511.41 422.7h0M345.69 339.7h0M240.23 381.2h0M382.85 404.44h0M106.64 329.74h0M229.68 308.17h0M338.66 371.24h0M386.87 314.8h0M182.98 407.76h0M470.23 371.24h0M224.66 359.62h0M564.14 377.88h0M545.56 396.14h0M258.81 351.32h0M94.09 372.9h0M380.34 432.66h0M501.87 499.05h0M336.65 326.42h0M507.9 260.03h0M295.47 367.92h0M346.69 357.96h0M276.38 397.8h0M119.7 386.18h0M181.47 357.96h0M503.88 256.71h0M322.08 426.02h0M427.04 299.87h0M416.5 402.78h0M166.9 439.3h0M99.11 391.16h0M152.84 309.83h0M90.57 369.58h0M194.02 278.29h0M360.25 357.96h0M268.35 367.92h0M187.5 404.44h0M465.71 221.85h0M215.62 245.09h0M522.46 407.76h0M153.85 284.93h0M182.98 362.94h0M180.46 338.04h0M171.42 402.78h0M146.82 344.68h0M560.13 469.18h0M140.29 308.17h0M532.51 308.17h0M228.68 489.09h0M133.26 389.5h0M254.29 278.29h0M319.07 319.78h0M401.93 401.12h0M559.12 308.17h0M343.68 431h0M382.35 434.32h0M418.51 412.74h0M172.93 387.84h0M292.96 309.83h0M454.67 449.26h0M169.42 299.87h0M162.39 416.06h0M408.46 296.55h0M358.75 286.59h0M188 293.23h0M244.24 414.4h0M173.43 364.6h0M163.39 349.66h0M384.86 399.46h0M110.16 329.74h0M235.71 362.94h0M488.31 391.16h0M476.26 429.34h0M185.49 303.19h0M210.6 445.94h0M214.11 432.66h0M278.39 341.36h0M181.47 369.58h0M265.34 338.04h0M184.98 369.58h0M363.27 278.29h0M275.38 319.78h0M232.19 333.06h0M129.74 324.76h0M116.68 333.06h0M450.15 238.45h0M203.57 426.02h0M140.79 440.96h0M252.78 311.49h0M366.28 525.61h0M559.12 442.62h0M197.54 424.36h0M562.14 411.08h0M273.87 407.76h0M128.24 404.44h0M542.05 311.49h0M117.19 372.9h0M114.17 402.78h0M159.37 417.72h0M550.08 419.38h0M120.2 381.2h0M170.92 394.48h0M260.31 357.96h0M526.48 394.48h0M538.03 421.04h0M456.67 372.9h0M270.86 454.24h0M444.62 357.96h0M524.47 384.52h0M405.45 284.93h0M475.26 392.82h0M242.74 245.09h0M101.62 449.26h0M299.99 258.37h0M499.36 391.16h0M168.41 367.92h0M142.8 354.64h0M299.99 417.72h0M228.17 246.75h0M81.03 437.64h0M469.23 409.42h0M434.58 356.3h0M554.6 424.36h0M89.57 376.22h0M138.78 241.77h0M287.43 286.59h0M439.6 384.52h0M211.1 421.04h0M135.77 361.28h0M139.28 445.94h0M265.34 369.58h0M251.27 434.32h0M526.98 421.04h0M300.49 268.33h0M304.51 303.19h0M543.05 364.6h0M346.69 276.63h0M110.16 331.4h0M93.58 356.3h0M292.45 329.74h0M196.03 299.87h0M398.92 361.28h0M352.72 459.22h0M217.63 426.02h0M95.09 416.06h0M226.67 371.24h0M423.53 218.53h0M358.75 412.74h0M143.3 440.96h0M112.17 427.68h0M394.4 316.46h0M565.15 417.72h0M520.45 384.52h0M458.68 402.78h0M95.59 311.49h0M438.6 348h0M213.11 308.17h0M521.96 323.1h0M242.23 452.58h0M262.32 494.07h0M424.03 356.3h0M111.16 399.46h0M282.41 437.64h0M159.37 424.36h0M396.91 338.04h0M208.59 306.51h0M270.86 371.24h0M499.86 339.7h0M345.19 386.18h0M479.27 258.37h0M454.67 414.4h0M201.56 421.04h0M445.12 211.89h0M535.02 294.89h0M455.17 419.38h0M436.08 366.26h0M162.39 384.52h0M334.14 289.91h0M117.19 367.92h0M330.12 401.12h0M123.72 396.14h0M493.33 467.52h0M308.53 454.24h0M278.39 391.16h0M442.61 407.76h0M362.76 384.52h0M213.61 361.28h0M399.93 274.97h0M327.11 336.38h0M265.84 406.1h0M477.77 356.3h0M398.42 424.36h0M315.05 392.82h0M566.15 318.12h0M385.36 344.68h0M388.88 440.96h0M302.5 296.55h0M264.83 356.3h0M293.46 402.78h0M214.61 172.05h0M515.43 331.4h0M126.73 421.04h0M545.56 367.92h0M423.53 313.14h0M174.94 284.93h0M139.28 338.04h0M238.22 394.48h0M276.89 426.02h0M540.04 374.56h0M347.19 366.26h0M339.16 391.16h0M548.58 422.7h0M417 384.52h0M454.16 311.49h0M202.56 333.06h0M354.73 215.21h0M148.83 389.5h0M180.46 352.98h0M395.91 442.62h0M171.93 518.97h0M346.19 273.31h0M262.32 279.95h0M178.46 256.71h0M82.54 381.2h0M232.69 379.54h0M293.96 384.52h0M266.34 349.66h0M378.83 399.46h0M563.64 338.04h0M494.84 369.58h0M275.38 306.51h0M435.08 281.61h0M183.48 343.02h0M508.9 289.91h0M163.89 432.66h0M233.7 348h0M474.75 409.42h0M558.62 331.4h0M79.52 386.18h0M544.56 362.94h0M114.68 427.68h0M448.64 220.19h0M258.81 482.45h0M194.02 409.42h0M362.26 376.22h0M436.59 303.19h0M253.79 366.26h0M199.55 382.86h0M145.81 336.38h0M456.67 404.44h0M475.76 386.18h0M298.48 426.02h0M328.61 341.36h0M374.82 221.85h0M120.2 391.16h0M222.15 416.06h0M379.34 196.95h0M250.77 221.85h0M136.77 308.17h0M86.05 371.24h0M321.58 314.8h0M302.5 406.1h0M201.56 352.98h0M98.61 392.82h0M425.54 404.44h0M435.58 304.85h0M97.1 313.14h0M195.03 369.58h0M151.84 303.19h0M281.91 362.94h0M376.82 338.04h0M395.41 160.43h0M452.66 308.17h0M350.21 404.44h0M407.96 362.94h0M328.61 367.92h0M479.27 369.58h0M343.68 266.67h0M372.81 540.55h0M243.24 329.74h0M526.48 138.86h0M541.04 392.82h0M408.46 336.38h0M407.46 424.36h0M279.9 299.87h0M193.52 362.94h0M239.22 349.66h0M317.06 412.74h0M538.53 397.8h0M179.96 404.44h0M221.14 399.46h0M538.53 309.83h0M305.01 367.92h0M460.19 316.46h0M432.57 397.8h0M255.79 286.59h0M133.76 384.52h0M115.18 352.98h0M474.25 319.78h0M530 364.6h0M217.12 349.66h0M429.05 266.67h0M330.62 412.74h0M414.99 434.32h0M277.89 304.85h0M449.64 404.44h0M568.66 404.44h0M327.61 394.48h0M472.74 319.78h0M201.05 339.7h0M348.2 419.38h0M532 401.12h0M213.11 407.76h0M129.74 406.1h0M225.66 404.44h0M244.75 271.65h0M455.67 452.58h0M170.92 362.94h0M211.1 263.35h0M463.2 367.92h0M276.38 148.81h0M570.17 402.78h0M94.09 326.42h0M144.31 354.64h0M184.98 303.19h0M479.27 273.31h0M355.23 387.84h0M499.36 437.64h0M240.73 338.04h0M482.29 356.3h0M101.12 357.96h0M339.16 349.66h0M526.98 431h0M211.1 362.94h0M149.83 351.32h0M235.2 422.7h0M558.12 366.26h0M552.59 391.16h0M408.46 426.02h0M559.12 343.02h0M219.64 293.23h0M426.54 274.97h0M352.72 362.94h0M190.01 336.38h0M151.34 431h0M396.41 381.2h0M306.52 336.38h0M293.96 326.42h0M253.79 338.04h0M183.98 389.5h0M540.04 421.04h0M376.82 391.16h0M141.29 407.76h0M318.57 407.76h0M230.18 382.86h0M269.35 216.87h0M472.24 421.04h0M557.11 301.53h0M335.14 391.16h0M164.39 427.68h0M450.65 417.72h0M90.07 318.12h0M394.4 346.34h0M296.97 366.26h0M242.23 273.31h0M103.13 369.58h0M216.62 351.32h0M117.69 424.36h0M461.7 402.78h0M234.7 434.32h0M515.43 364.6h0M445.12 442.62h0M459.19 397.8h0M568.66 296.55h0M564.65 377.88h0M397.92 426.02h0M328.61 303.19h0M314.55 314.8h0M381.85 377.88h0M300.99 366.26h0M205.07 338.04h0M288.44 309.83h0M498.86 344.68h0M164.9 243.43h0M104.63 321.44h0M563.64 372.9h0M438.6 381.2h0M389.38 367.92h0M241.73 339.7h0M247.26 323.1h0M254.79 396.14h0M87.56 376.22h0M413.99 286.59h0M201.56 414.4h0M502.37 336.38h0M554.1 175.37h0M359.25 467.52h0M224.16 341.36h0M417.5 309.83h0M162.39 362.94h0M458.68 434.32h0M449.64 449.26h0M500.37 421.04h0M108.65 422.7h0M320.58 435.98h0M509.91 424.36h0M313.55 392.82h0M321.08 356.3h0M260.82 392.82h0M508.9 336.38h0M447.13 421.04h0M346.69 407.76h0M194.02 432.66h0M379.34 435.98h0M227.67 387.84h0M154.35 381.2h0M132.25 299.87h0M513.42 402.78h0M345.69 341.36h0M303 426.02h0M502.88 318.12h0M506.39 412.74h0M418 369.58h0M97.6 309.83h0M429.56 391.16h0M562.14 346.34h0M244.75 460.88h0M141.79 369.58h0M521.96 411.08h0M248.26 427.68h0M339.16 454.24h0M123.21 407.76h0M461.19 318.12h0M272.87 439.3h0M280.9 389.5h0M233.7 387.84h0M526.98 309.83h0M481.78 319.78h0M234.2 500.71h0M249.27 361.28h0M438.09 382.86h0M490.82 454.24h0M147.82 371.24h0M79.02 269.99h0M365.78 369.58h0M493.33 406.1h0M568.16 386.18h0M238.72 431h0M283.42 401.12h0M331.12 323.1h0M522.96 263.35h0M369.79 445.94h0M197.54 261.69h0M184.98 362.94h0M193.02 296.55h0M392.39 459.22h0M428.55 406.1h0M438.6 346.34h0M362.26 369.58h0M200.05 374.56h0M551.09 311.49h0M210.09 431h0M230.68 362.94h0M456.17 379.54h0M118.19 341.36h0M324.09 397.8h0M334.64 411.08h0M551.09 316.46h0M124.72 289.91h0M365.78 454.24h0M559.63 440.96h0M248.76 331.4h0M429.05 392.82h0M561.63 437.64h0M444.12 343.02h0M169.42 245.09h0M201.05 424.36h0M365.27 434.32h0M86.55 460.88h0M515.43 324.76h0M289.44 298.21h0M492.83 364.6h0M124.22 414.4h0M472.24 379.54h0M316.56 286.59h0M172.93 225.17h0M419.51 338.04h0M331.12 240.11h0M409.47 303.19h0M254.29 394.48h0M285.42 361.28h0M436.08 376.22h0M370.8 427.68h0M225.66 434.32h0M407.96 387.84h0M393.9 168.73h0M154.35 356.3h0M369.29 243.43h0M79.52 361.28h0M534.52 246.75h0M462.7 372.9h0M379.84 296.55h0M534.01 303.19h0M161.38 294.89h0M449.14 479.13h0M240.23 372.9h0M333.13 407.76h0M514.93 246.75h0M181.47 371.24h0M220.64 311.49h0M254.29 344.68h0M406.96 505.69h0M319.07 308.17h0M411.98 394.48h0M268.85 359.62h0M566.66 334.72h0M130.24 429.34h0M326.6 371.24h0M110.66 341.36h0M320.08 445.94h0M390.89 339.7h0M218.63 452.58h0M209.09 406.1h0M114.17 362.94h0M447.13 427.68h0M391.89 341.36h0M249.27 394.48h0M117.69 371.24h0M525.48 470.84h0M317.06 407.76h0M488.82 271.65h0M451.15 333.06h0M473.25 276.63h0M211.1 362.94h0M418.51 386.18h0M463.71 303.19h0M318.57 279.95h0M389.38 449.26h0M364.77 329.74h0M242.23 374.56h0M423.03 382.86h0M122.21 382.86h0M401.43 281.61h0M259.31 366.26h0M279.4 384.52h0M346.69 349.66h0M161.88 387.84h0M111.16 386.18h0M274.38 449.26h0M354.23 404.44h0M384.86 323.1h0M498.36 361.28h0M120.7 298.21h0M182.47 382.86h0M199.05 311.49h0M526.48 386.18h0M213.11 381.2h0M351.21 372.9h0M319.57 349.66h0M266.84 331.4h0M360.25 382.86h0M488.31 429.34h0M219.13 336.38h0M204.07 452.58h0M463.71 243.43h0M226.67 407.76h0M305.01 291.57h0M233.7 268.33h0M273.87 452.58h0M493.33 439.3h0M438.09 379.54h0M251.27 248.41h0M158.37 216.87h0M543.05 404.44h0M147.82 334.72h0M408.46 376.22h0M481.78 419.38h0M245.25 333.06h0M376.82 367.92h0M544.56 434.32h0M459.19 387.84h0M247.26 293.23h0M554.1 303.19h0M240.23 349.66h0M115.68 426.02h0M340.67 435.98h0M442.11 349.66h0M176.95 331.4h0M84.54 274.97h0M520.45 354.64h0M472.74 356.3h0M448.14 255.05h0M470.74 374.56h0M211.1 357.96h0M451.15 402.78h0M181.97 286.59h0M130.24 469.18h0M153.35 274.97h0M403.44 314.8h0M520.96 258.37h0M518.44 356.3h0M290.45 288.25h0M134.26 454.24h0M298.98 401.12h0M227.67 228.49h0M167.41 472.5h0M508.4 381.2h0M111.66 374.56h0M215.12 314.8h0M128.74 313.14h0M95.59 343.02h0M97.1 381.2h0M538.03 399.46h0M306.52 245.09h0M218.13 294.89h0M483.79 387.84h0M496.35 349.66h0M115.68 281.61h0M143.8 326.42h0M466.72 392.82h0M434.08 343.02h0M521.96 502.37h0M468.73 321.44h0M420.52 341.36h0M183.98 484.11h0M144.31 392.82h0M219.64 392.82h0M109.65 396.14h0M229.68 409.42h0M182.98 245.09h0M534.52 351.32h0M169.92 402.78h0M502.88 402.78h0M506.39 402.78h0M465.21 226.83h0M469.73 401.12h0M345.69 386.18h0M437.59 419.38h0M159.37 397.8h0M111.16 439.3h0M287.43 298.21h0M524.97 426.02h0M324.6 314.8h0M288.94 359.62h0M411.48 258.37h0M458.18 319.78h0M229.68 349.66h0M254.79 344.68h0M217.63 442.62h0M497.35 392.82h0M319.57 336.38h0M89.57 416.06h0M418 419.38h0M267.34 328.08h0M191.51 404.44h0M511.92 361.28h0M201.56 429.34h0M563.14 389.5h0M411.48 238.45h0M508.9 248.41h0M462.7 382.86h0M96.6 348h0M558.62 379.54h0M314.05 304.85h0M123.72 421.04h0M195.53 348h0M198.54 304.85h0M262.83 371.24h0M458.68 218.53h0M531 288.25h0M278.9 411.08h0M240.73 412.74h0M197.04 246.75h0M436.08 356.3h0M216.62 248.41h0M436.59 419.38h0M414.49 391.16h0M356.23 336.38h0M263.33 431h0M211.6 351.32h0M311.04 314.8h0M275.38 245.09h0M341.17 396.14h0M504.89 361.28h0M324.6 394.48h0M104.13 336.38h0M285.93 343.02h0M338.66 316.46h0M525.48 246.75h0M402.44 220.19h0M328.61 394.48h0M323.09 225.17h0M132.25 404.44h0M129.24 348h0M497.35 391.16h0M296.97 417.72h0M206.58 434.32h0M443.11 439.3h0M277.39 304.85h0M209.59 477.48h0M411.48 447.6h0M189 426.02h0M421.02 349.66h0M182.98 266.67h0M375.82 455.9h0M430.06 346.34h0M288.44 366.26h0M337.15 344.68h0M543.05 351.32h0M283.92 455.9h0M362.26 356.3h0M534.52 371.24h0M123.21 286.59h0M235.2 328.08h0M155.35 457.56h0M412.98 309.83h0M181.97 376.22h0M356.23 374.56h0M429.56 303.19h0M489.32 407.76h0M358.24 384.52h0M374.31 500.71h0M210.09 421.04h0M254.29 412.74h0M196.03 331.4h0M284.92 313.14h0M330.62 371.24h0M227.67 372.9h0M299.49 372.9h0M89.06 211.89h0M140.29 274.97h0M362.76 455.9h0M268.85 359.62h0M320.58 361.28h0M397.92 499.05h0M335.64 457.56h0M293.96 338.04h0M88.06 344.68h0M476.76 392.82h0M351.71 356.3h0M155.35 306.51h0M201.05 426.02h0M540.04 396.14h0M432.07 397.8h0M451.65 389.5h0M314.05 338.04h0M236.71 379.54h0M382.35 308.17h0M140.29 366.26h0M523.97 323.1h0M459.69 372.9h0M288.44 409.42h0M364.77 447.6h0M229.18 447.6h0M570.17 384.52h0M285.42 352.98h0M373.31 306.51h0M324.09 346.34h0M241.73 314.8h0M374.31 401.12h0M114.17 364.6h0M456.17 361.28h0M125.72 369.58h0M293.96 379.54h0M558.12 321.44h0M368.79 392.82h0M507.4 334.72h0M157.87 434.32h0M100.11 366.26h0M480.78 411.08h0M547.57 414.4h0M401.93 387.84h0M439.1 367.92h0M439.1 548.85h0M433.07 288.25h0M340.16 274.97h0M248.26 439.3h0M283.92 316.46h0M470.74 260.03h0M438.6 444.28h0M79.52 422.7h0M254.79 371.24h0M272.87 314.8h0M255.29 419.38h0M145.81 406.1h0M213.61 323.1h0M370.3 238.45h0M187.5 304.85h0M152.84 409.42h0M134.26 304.85h0M500.87 346.34h0M383.35 417.72h0M289.94 427.68h0M269.35 422.7h0M433.07 371.24h0M179.96 319.78h0M306.01 372.9h0M304.51 407.76h0M213.11 411.08h0M195.53 313.14h0M441.61 294.89h0M475.26 434.32h0M484.8 328.08h0M147.82 331.4h0M294.97 432.66h0M110.66 361.28h0M124.72 384.52h0M188 391.16h0M374.82 367.92h0M87.56 296.55h0M534.52 422.7h0M119.7 304.85h0M542.05 381.2h0M385.36 412.74h0M117.69 240.11h0M449.64 357.96h0M258.31 369.58h0M469.23 447.6h0M396.41 362.94h0M348.7 283.27h0M365.27 426.02h0M537.03 329.74h0M397.92 341.36h0M348.7 314.8h0M560.13 361.28h0M567.16 429.34h0M178.46 349.66h0M364.27 344.68h0M570.17 372.9h0M441.61 392.82h0M152.84 261.69h0M377.83 294.89h0M450.65 313.14h0M475.76 308.17h0M97.1 268.33h0M92.58 379.54h0M191.51 447.6h0M261.82 490.75h0M249.77 250.07h0M447.13 394.48h0M274.38 396.14h0M362.26 301.53h0M460.19 175.37h0M391.89 339.7h0M506.39 314.8h0M326.6 452.58h0M336.65 369.58h0M528.99 439.3h0M195.53 437.64h0M203.06 384.52h0M200.55 255.05h0M251.78 265.01h0M243.74 279.95h0M561.13 364.6h0M91.07 376.22h0M262.32 356.3h0M216.12 435.98h0M411.98 291.57h0M390.38 401.12h0M98.1 407.76h0M556.11 459.22h0M185.99 437.64h0M268.35 376.22h0M377.33 391.16h0M255.29 432.66h0M272.87 291.57h0M533.01 314.8h0M360.25 341.36h0M471.24 389.5h0M293.46 386.18h0M447.63 376.22h0M294.97 256.71h0M427.55 371.24h0M452.15 376.22h0M452.15 401.12h0M268.35 241.77h0M364.77 288.25h0M253.28 381.2h0M515.43 434.32h0M569.17 326.42h0M221.14 411.08h0M157.36 376.22h0M173.43 414.4h0M343.18 374.56h0M290.95 507.35h0M170.42 439.3h0M327.11 160.43h0M96.09 424.36h0M300.99 238.45h0M471.24 313.14h0M531 269.99h0M407.46 206.91h0M518.95 384.52h0M116.68 381.2h0M94.09 432.66h0M261.82 319.78h0M402.44 389.5h0M263.33 424.36h0M503.38 399.46h0M232.19 196.95h0M360.75 339.7h0M461.19 384.52h0M161.38 135.54h0M303.5 339.7h0M447.13 326.42h0M554.1 407.76h0M462.2 459.22h0M483.79 279.95h0M352.72 268.33h0M546.07 367.92h0M452.15 414.4h0M109.15 371.24h0M364.77 397.8h0M281.41 286.59h0M217.63 349.66h0M248.76 376.22h0M386.37 333.06h0M455.17 221.85h0M91.07 301.53h0M206.08 402.78h0M199.05 382.86h0M235.71 469.18h0M458.18 296.55h0M86.55 367.92h0M156.36 394.48h0M392.89 412.74h0M178.96 384.52h0M559.12 314.8h0M186.99 412.74h0M518.44 334.72h0M179.46 314.8h0M175.94 359.62h0M304.51 419.38h0M219.64 289.91h0M499.86 414.4h0M413.99 407.76h0M158.87 439.3h0M356.23 283.27h0M382.85 399.46h0M406.45 364.6h0M178.96 472.5h0M340.67 396.14h0M163.39 442.62h0M444.62 384.52h0M317.56 356.3h0M160.38 328.08h0M120.2 406.1h0M432.57 362.94h0M537.53 344.68h0M146.31 288.25h0M396.91 258.37h0M537.53 421.04h0M430.56 427.68h0M161.88 180.35h0M486.81 381.2h0M376.82 328.08h0M293.46 348h0M522.46 462.54h0M214.61 412.74h0M539.04 421.04h0M351.21 387.84h0M544.56 348h0M364.77 351.32h0M421.52 419.38h0M134.76 422.7h0M347.7 452.58h0M302.5 226.83h0M391.39 422.7h0M174.94 394.48h0M519.95 323.1h0M389.38 296.55h0M281.91 321.44h0M237.72 379.54h0M204.07 392.82h0M566.66 316.46h0M521.96 391.16h0M500.37 432.66h0M274.38 392.82h0M497.35 414.4h0M311.54 349.66h0M485.8 366.26h0M493.33 389.5h0M532 334.72h0M197.54 346.34h0M119.7 391.16h0M429.05 283.27h0M191.51 386.18h0M529.49 391.16h0M438.6 351.32h0M197.04 265.01h0M466.22 349.66h0M325.6 291.57h0M358.24 437.64h0M375.32 266.67h0M555.11 376.22h0M376.32 442.62h0M457.18 384.52h0M330.62 432.66h0M320.08 309.83h0M161.38 291.57h0M416.5 442.62h0M352.22 356.3h0M485.3 333.06h0M419.01 344.68h0M359.75 404.44h0M541.55 542.21h0M438.6 427.68h0M522.96 334.72h0M389.38 371.24h0M179.96 336.38h0M224.66 157.11h0M409.47 349.66h0M532.51 379.54h0M428.55 278.29h0M370.3 331.4h0M390.89 328.08h0M228.17 412.74h0M144.31 261.69h0M110.66 268.33h0M440.1 283.27h0M344.68 404.44h0M432.07 381.2h0M501.87 354.64h0M140.29 409.42h0M232.19 349.66h0M160.38 261.69h0M488.31 301.53h0M363.27 414.4h0M202.56 226.83h0M303.5 346.34h0M427.55 288.25h0M107.65 440.96h0M328.61 402.78h0M473.75 437.64h0M511.92 245.09h0M373.31 324.76h0M339.16 359.62h0M190.51 248.41h0M88.06 386.18h0M223.15 382.86h0M130.24 417.72h0M498.36 333.06h0M91.07 371.24h0M481.78 417.72h0M263.33 407.76h0M304.51 286.59h0M171.42 406.1h0M376.82 419.38h0M142.8 432.66h0M283.92 379.54h0M438.09 489.09h0M99.11 424.36h0M327.61 308.17h0M81.03 288.25h0M199.55 407.76h0M298.98 336.38h0M119.7 354.64h0M474.25 359.62h0M386.87 429.34h0M492.33 406.1h0M425.54 427.68h0M218.63 225.17h0M564.65 132.22h0M199.05 414.4h0M155.86 301.53h0M192.01 381.2h0M227.17 442.62h0M499.86 352.98h0M462.7 246.75h0M288.44 392.82h0M371.3 374.56h0M298.48 301.53h0M368.79 318.12h0M327.11 399.46h0M380.84 299.87h0M382.35 190.31h0M221.64 376.22h0M253.79 314.8h0M191.51 316.46h0M265.84 279.95h0M426.04 450.92h0M472.24 411.08h0M387.87 386.18h0M199.05 178.69h0M133.26 218.53h0M487.31 208.57h0M325.1 361.28h0M446.13 371.24h0M412.98 318.12h0M230.18 391.16h0M391.39 399.46h0M103.63 538.89h0M149.33 311.49h0M100.61 256.71h0M269.35 294.89h0M179.96 429.34h0M510.41 346.34h0M155.35 392.82h0M180.46 369.58h0M157.36 377.88h0M321.58 309.83h0M421.52 422.7h0M384.86 392.82h0M307.02 216.87h0M484.8 324.76h0M146.82 339.7h0M422.52 432.66h0M406.96 372.9h0M137.28 382.86h0M147.82 421.04h0M101.12 261.69h0M118.19 464.2h0M548.58 238.45h0M300.99 411.08h0M192.01 338.04h0M130.24 394.48h0M234.7 379.54h0M192.01 348h0M269.86 256.71h0M170.92 422.7h0M193.52 371.24h0M101.62 369.58h0M330.12 304.85h0M306.52 407.76h0M340.16 261.69h0M503.88 351.32h0M418 304.85h0M112.67 288.25h0M94.59 386.18h0M274.88 480.79h0M283.42 455.9h0M544.06 211.89h0M285.93 402.78h0M502.37 412.74h0M513.42 288.25h0M485.3 525.61h0M332.63 452.58h0M327.61 434.32h0M473.75 404.44h0M556.11 384.52h0M237.72 387.84h0M311.54 343.02h0M387.87 412.74h0M284.42 440.96h0M171.42 382.86h0M144.31 321.44h0M287.43 406.1h0M337.65 303.19h0M514.43 328.08h0M192.52 399.46h0M388.88 328.08h0M159.37 432.66h0M407.96 399.46h0M491.83 482.45h0M451.15 328.08h0M345.19 462.54h0M481.28 376.22h0M473.25 328.08h0M364.77 402.78h0M444.62 367.92h0M289.44 313.14h0M513.42 432.66h0M395.91 381.2h0M374.82 402.78h0M420.01 366.26h0M230.18 281.61h0M393.4 344.68h0M232.69 352.98h0M507.4 313.14h0M136.27 381.2h0M293.96 336.38h0M358.24 381.2h0M422.02 416.06h0M201.05 435.98h0M81.53 387.84h0M492.33 457.56h0M79.02 361.28h0M209.59 396.14h0M413.49 308.17h0M112.67 318.12h0M116.68 333.06h0M387.87 323.1h0M341.67 357.96h0M116.68 414.4h0M124.22 333.06h0M198.04 371.24h0M100.61 321.44h0M272.37 341.36h0M397.92 374.56h0M520.45 291.57h0M255.29 190.31h0M494.34 401.12h0M109.15 364.6h0M492.33 442.62h0M94.59 449.26h0M455.67 311.49h0M402.44 434.32h0M179.46 412.74h0M180.97 354.64h0M561.13 376.22h0M328.61 371.24h0M447.63 440.96h0M147.82 379.54h0M354.73 487.43h0M346.19 288.25h0M144.31 351.32h0M311.54 402.78h0M411.48 339.7h0M228.17 381.2h0M531 442.62h0M464.71 361.28h0M470.74 399.46h0M150.33 338.04h0M375.82 402.78h0M360.25 424.36h0M408.46 444.28h0M567.16 382.86h0M268.85 429.34h0M216.62 348h0M223.15 344.68h0M80.53 230.15h0M360.25 294.89h0M84.04 419.38h0M356.23 386.18h0M188 394.48h0M541.55 414.4h0M492.33 303.19h0M503.88 351.32h0M95.59 351.32h0M373.81 359.62h0M349.2 362.94h0M321.08 314.8h0M443.11 427.68h0M282.91 374.56h0M519.45 313.14h0M267.34 343.02h0M210.09 299.87h0M145.31 336.38h0M343.68 407.76h0M158.87 387.84h0M536.52 301.53h0M362.76 308.17h0M356.74 351.32h0M457.18 314.8h0M389.38 432.66h0M112.67 343.02h0M357.74 452.58h0M441.61 233.47h0M131.75 348h0M457.18 366.26h0M215.62 299.87h0M549.58 341.36h0M145.81 399.46h0M97.1 427.68h0M202.56 416.06h0M371.8 333.06h0M143.8 336.38h0M220.14 352.98h0M314.05 338.04h0M478.77 391.16h0M482.29 333.06h0M553.6 442.62h0M423.03 394.48h0M335.64 402.78h0M270.86 205.25h0M261.82 474.16h0M131.25 362.94h0M492.83 366.26h0M187.5 374.56h0M381.34 344.68h0M251.78 414.4h0M450.15 294.89h0M321.58 374.56h0M500.37 377.88h0M460.69 362.94h0M363.27 449.26h0M450.65 308.17h0M256.8 271.65h0M235.71 366.26h0M189.5 352.98h0M236.21 384.52h0M543.05 371.24h0M299.99 532.25h0M107.14 374.56h0M246.75 411.08h0M565.15 434.32h0M309.53 306.51h0M378.33 532.25h0M188.5 409.42h0M191.01 213.55h0M466.72 256.71h0M89.57 399.46h0M395.91 329.74h0M326.1 226.83h0M318.07 206.91h0M328.11 228.49h0M318.07 253.39h0M321.08 276.63h0M307.52 251.73h0M330.62 206.91h0M328.61 190.31h0M330.62 236.79h0M319.07 180.35h0M328.61 233.47h0M332.63 173.71h0M345.19 196.95h0M332.63 167.07h0M340.16 138.86h0M302 165.41h0M313.05 178.69h0M327.11 148.81h0M330.12 210.23h0M341.67 186.99h0M317.06 167.07h0M297.48 246.75h0M322.59 215.21h0M334.14 94.04h0M315.56 175.37h0M323.59 177.03h0M320.08 158.77h0M326.6 191.97h0M320.58 203.59h0M286.93 198.61h0M341.17 396.14h0M327.11 113.96h0M332.63 208.57h0M326.1 271.65h0M324.6 165.41h0M320.08 233.47h0M318.07 182.01h0M321.08 138.86h0M353.22 133.88h0M333.64 77.44h0M324.09 198.61h0M321.58 183.67h0M335.14 309.83h0M325.6 168.73h0M309.53 132.22h0M309.53 182.01h0M310.53 258.37h0M331.63 218.53h0M310.53 256.71h0M311.54 177.03h0M332.13 127.24h0M320.58 158.77h0M323.09 304.85h0M319.07 271.65h0M325.1 185.33h0M328.61 213.55h0M333.64 213.55h0M364.77 185.33h0M310.03 82.42h0M298.98 203.59h0M324.6 218.53h0M324.6 265.01h0M322.08 145.5h0M333.13 213.55h0M324.6 269.99h0M305.01 208.57h0M339.66 175.37h0M324.09 241.77h0M325.6 190.31h0M312.04 261.69h0M327.61 133.88h0M324.6 240.11h0M324.09 191.97h0M315.56 230.15h0M320.58 213.55h0M328.11 175.37h0M313.05 215.21h0M318.07 193.63h0M337.65 137.2h0M313.05 75.78h0M306.52 152.13h0M316.56 186.99h0M312.04 178.69h0M331.63 243.43h0M329.62 236.79h0M318.57 236.79h0M353.22 170.39h0M339.16 193.63h0M329.12 203.59h0M342.17 84.08h0M316.56 188.65h0M319.07 152.13h0M293.96 168.73h0M329.12 186.99h0M326.6 167.07h0M322.08 255.05h0M344.18 183.67h0M329.12 291.57h0M330.12 113.96h0M368.29 198.61h0M323.59 125.58h0M328.11 152.13h0M347.19 205.25h0M345.19 258.37h0M329.62 316.46h0M335.14 216.87h0M325.6 137.2h0M334.64 170.39h0M361.26 253.39h0M318.07 341.36h0M334.64 170.39h0M293.96 130.56h0M330.62 299.87h0M297.98 165.41h0M315.05 318.12h0M311.54 198.61h0M352.72 284.93h0M309.53 147.15h0M314.05 173.71h0M342.67 110.64h0M321.08 132.22h0M324.09 220.19h0M340.67 286.59h0M310.53 200.27h0M336.15 213.55h0M328.61 183.67h0M336.65 221.85h0M325.1 216.87h0M317.06 155.45h0M328.61 178.69h0M328.11 218.53h0M334.64 170.39h0M341.17 228.49h0M337.65 186.99h0M333.13 147.15h0M322.59 210.23h0M310.03 248.41h0M313.05 182.01h0M329.12 206.91h0M277.89 110.64h0M333.13 195.29h0M321.58 218.53h0M323.59 243.43h0M322.08 289.91h0M333.13 226.83h0M332.63 188.65h0M318.07 306.51h0M304.01 168.73h0M337.15 150.47h0M316.06 314.8h0M327.61 233.47h0M327.61 225.17h0M319.57 153.79h0M334.64 220.19h0M327.11 218.53h0M329.62 215.21h0M316.56 130.56h0M313.55 273.31h0M331.63 323.1h0M321.58 200.27h0M320.58 120.6h0M329.62 170.39h0M318.57 90.72h0M324.6 324.76h0M318.57 228.49h0M331.63 253.39h0M350.71 188.65h0M331.63 301.53h0M328.11 177.03h0M337.15 145.5h0M343.68 138.86h0M335.14 359.62h0M334.64 191.97h0M339.66 190.31h0M327.61 163.75h0M335.64 226.83h0M330.12 138.86h0M326.1 186.99h0M312.54 132.22h0M362.76 218.53h0M365.27 196.95h0M307.52 248.41h0M332.63 233.47h0M358.75 205.25h0M317.56 215.21h0M321.08 177.03h0M332.13 172.05h0M360.25 190.31h0M315.56 190.31h0M321.08 240.11h0M322.59 210.23h0M330.12 201.93h0M309.03 223.51h0M315.05 157.11h0M370.8 167.07h0M316.06 228.49h0M327.11 211.89h0M325.1 195.29h0M329.12 188.65h0M324.6 344.68h0M330.62 201.93h0M352.22 220.19h0M318.57 177.03h0M323.09 298.21h0M311.54 138.86h0M326.1 236.79h0M312.54 205.25h0M322.08 276.63h0M334.64 185.33h0M330.62 261.69h0M339.16 177.03h0M323.09 130.56h0M316.56 372.9h0M332.63 200.27h0M338.66 240.11h0M321.08 238.45h0M330.62 195.29h0M326.1 228.49h0M324.09 228.49h0M334.14 266.67h0M333.64 175.37h0M330.12 157.11h0M321.58 198.61h0M326.6 168.73h0M313.05 190.31h0M339.66 122.26h0M316.06 198.61h0M324.6 195.29h0M333.64 248.41h0M324.6 196.95h0M328.11 213.55h0M319.57 216.87h0M351.21 128.9h0M317.06 160.43h0M322.08 150.47h0M325.6 180.35h0M348.2 235.13h0M322.59 193.63h0M328.61 148.81h0M333.64 231.81h0M310.03 201.93h0M334.64 195.29h0M330.12 148.81h0M298.98 193.63h0M311.04 162.09h0M331.63 165.41h0M336.65 205.25h0M322.08 185.33h0M318.07 250.07h0M295.97 215.21h0M329.12 168.73h0M325.1 175.37h0M331.12 177.03h0M333.13 190.31h0M342.17 155.45h0M348.2 163.75h0M324.09 188.65h0M331.63 261.69h0M329.62 84.08h0M332.63 89.06h0M341.67 226.83h0M321.08 123.92h0M334.14 200.27h0M339.16 137.2h0M338.66 228.49h0M326.1 190.31h0M325.6 210.23h0M304.51 157.11h0M340.67 148.81h0M331.63 183.67h0M327.11 291.57h0M338.66 186.99h0M330.12 236.79h0M325.6 120.6h0M299.49 211.89h0M339.16 284.93h0M304.51 195.29h0M314.55 248.41h0M311.04 170.39h0M320.58 245.09h0M314.05 172.05h0M328.61 263.35h0M321.58 138.86h0M329.12 274.97h0M321.08 158.77h0M332.63 200.27h0M337.65 100.68h0M322.08 284.93h0M318.07 162.09h0M339.66 196.95h0M332.63 279.95h0M335.64 384.52h0M325.1 261.69h0M327.61 168.73h0M332.63 225.17h0M321.58 236.79h0M343.18 172.05h0M330.12 193.63h0M325.1 303.19h0M335.64 188.65h0M333.64 268.33h0M311.04 241.77h0M330.12 160.43h0M329.12 168.73h0M326.1 132.22h0M300.49 216.87h0M329.62 235.13h0M333.13 79.1h0M321.58 155.45h0M276.89 162.09h0M306.01 233.47h0M317.06 215.21h0M336.65 158.77h0M331.12 328.08h0M337.65 253.39h0M302 311.49h0M327.61 279.95h0M343.68 163.75h0M314.55 206.91h0M329.62 256.71h0M335.64 196.95h0M321.08 195.29h0M319.07 201.93h0M329.62 170.39h0M299.49 268.33h0M326.1 221.85h0M324.6 175.37h0M328.61 186.99h0M339.66 271.65h0M314.05 70.8h0M335.64 216.87h0M329.12 223.51h0M335.14 168.73h0M335.64 206.91h0M332.13 155.45h0M343.18 205.25h0M327.11 118.94h0M326.1 226.83h0M336.15 208.57h0M323.59 157.11h0M322.08 193.63h0M322.59 155.45h0M324.09 160.43h0M316.06 155.45h0M335.14 251.73h0M329.62 153.79h0M330.62 190.31h0M318.57 178.69h0M355.73 231.81h0M343.68 170.39h0M352.72 155.45h0M330.12 208.57h0M333.13 168.73h0M320.08 226.83h0M318.07 200.27h0M329.12 168.73h0M327.61 198.61h0M326.6 196.95h0M352.22 170.39h0M312.04 147.15h0M321.58 112.3h0M334.14 138.86h0M320.08 311.49h0M317.56 225.17h0M333.64 175.37h0M333.64 235.13h0M340.16 235.13h0M319.07 274.97h0M308.02 133.88h0M331.63 279.95h0M325.6 238.45h0M318.07 183.67h0M330.62 173.71h0M297.98 120.6h0M312.54 125.58h0M347.19 339.7h0M313.05 175.37h0M330.62 260.03h0M311.54 193.63h0M314.05 186.99h0M334.64 201.93h0M329.62 323.1h0M324.09 205.25h0M316.56 94.04h0M330.62 218.53h0M327.11 188.65h0M327.61 147.15h0M324.09 152.13h0M367.78 205.25h0M322.08 221.85h0M337.15 316.46h0M322.59 178.69h0M317.56 175.37h0M325.6 193.63h0M333.64 163.75h0M328.11 175.37h0M309.53 137.2h0M318.07 296.55h0M327.11 145.5h0M311.04 193.63h0M320.58 123.92h0M314.05 135.54h0M329.62 195.29h0M346.19 250.07h0M328.61 208.57h0M331.63 238.45h0M339.16 196.95h0M322.59 153.79h0M323.09 200.27h0M294.97 248.41h0M327.11 190.31h0M303 236.79h0M334.64 188.65h0M332.13 326.42h0M295.97 148.81h0M303.5 138.86h0M309.03 226.83h0M323.59 304.85h0M302 191.97h0M330.62 201.93h0M333.64 158.77h0M317.06 291.57h0M319.07 203.59h0M326.6 188.65h0M331.12 152.13h0M318.57 221.85h0M326.1 288.25h0M316.06 177.03h0M326.1 185.33h0M324.6 215.21h0M330.12 344.68h0M337.15 198.61h0M313.05 319.78h0M329.62 182.01h0M313.55 113.96h0M328.61 241.77h0M355.73 155.45h0M342.67 250.07h0M322.08 160.43h0M300.99 213.55h0M329.62 211.89h0M343.68 162.09h0M318.57 79.1h0M334.64 271.65h0M336.65 206.91h0M320.08 228.49h0M327.61 140.52h0M320.08 188.65h0M322.59 231.81h0M326.6 153.79h0M333.13 163.75h0M328.11 198.61h0M326.1 157.11h0M325.1 177.03h0M287.94 150.47h0M337.15 241.77h0M329.62 221.85h0M311.54 150.47h0M324.6 269.99h0M333.64 123.92h0M326.6 123.92h0M331.63 180.35h0M338.16 333.06h0M319.57 203.59h0M314.05 193.63h0M320.08 172.05h0M331.63 245.09h0M321.08 241.77h0M315.56 349.66h0M337.15 251.73h0M323.59 366.26h0M328.61 198.61h0M309.03 256.71h0M316.56 231.81h0M321.58 117.28h0M323.59 241.77h0M315.05 238.45h0M323.59 135.54h0M334.64 168.73h0M333.13 220.19h0M330.12 243.43h0M319.07 261.69h0M308.53 190.31h0M326.1 168.73h0M361.76 123.92h0M334.64 122.26h0M323.59 276.63h0M323.09 256.71h0M329.62 216.87h0M331.12 167.07h0M304.01 201.93h0M346.69 185.33h0M330.12 210.23h0M327.61 190.31h0M326.6 145.5h0M330.62 253.39h0M331.63 255.05h0M313.05 211.89h0M326.6 243.43h0M309.03 265.01h0M333.13 147.15h0M335.64 191.97h0M327.11 80.76h0M339.16 160.43h0M300.99 223.51h0M324.6 213.55h0M321.08 223.51h0M331.12 155.45h0M341.17 213.55h0M322.08 120.6h0M319.07 145.5h0M308.53 145.5h0M332.63 180.35h0M318.57 230.15h0M321.08 133.88h0M318.57 215.21h0M320.08 188.65h0M333.13 153.79h0M320.58 205.25h0M328.11 343.02h0M321.08 260.03h0M323.59 138.86h0M344.68 110.64h0M332.13 226.83h0M317.56 135.54h0M327.11 100.68h0M319.07 343.02h0M332.63 138.86h0M312.54 215.21h0M319.07 251.73h0M333.13 216.87h0M322.08 162.09h0M327.61 120.6h0M332.13 125.58h0M322.08 188.65h0M374.31 163.75h0M331.12 203.59h0M344.68 265.01h0M331.12 213.55h0M332.63 135.54h0M355.23 147.15h0M325.6 178.69h0M296.47 182.01h0M294.97 77.44h0M376.82 162.09h0M338.66 195.29h0M320.08 246.75h0M316.56 211.89h0M330.62 165.41h0M304.51 206.91h0M340.67 160.43h0M334.14 205.25h0M308.53 77.44h0M325.1 201.93h0M324.09 142.18h0M329.62 216.87h0M328.11 170.39h0M327.11 143.84h0M329.12 173.71h0M328.11 261.69h0M315.56 118.94h0M328.61 153.79h0M293.46 226.83h0M319.57 206.91h0M324.6 157.11h0M350.21 223.51h0M328.11 158.77h0M326.1 245.09h0M293.46 183.67h0M327.61 152.13h0M322.08 208.57h0M328.61 182.01h0M339.16 172.05h0M325.1 122.26h0M321.08 133.88h0M332.63 178.69h0M324.6 177.03h0M321.08 206.91h0M333.13 206.91h0M319.57 210.23h0M352.72 215.21h0M337.15 152.13h0M327.61 203.59h0M336.65 230.15h0M312.04 230.15h0M314.05 289.91h0M307.52 172.05h0M325.6 218.53h0M311.04 238.45h0M312.04 185.33h0M322.08 150.47h0M322.08 240.11h0M318.07 213.55h0M324.09 279.95h0M316.56 230.15h0M324.6 241.77h0M316.56 248.41h0M337.15 183.67h0M322.59 210.23h0M324.09 369.58h0M321.08 231.81h0M326.6 188.65h0M328.11 185.33h0M325.1 250.07h0M317.56 108.98h0M335.14 195.29h0M351.71 231.81h0M311.04 173.71h0M308.02 286.59h0M317.06 152.13h0M316.56 182.01h0M312.54 188.65h0M305.51 265.01h0M338.16 263.35h0M336.15 416.06h0M328.11 196.95h0M336.65 288.25h0M335.64 216.87h0M343.68 183.67h0M373.31 221.85h0M331.12 298.21h0M325.1 314.8h0M318.07 123.92h0M329.62 225.17h0M336.15 173.71h0M331.63 318.12h0M321.58 231.81h0M304.01 152.13h0M325.6 213.55h0M321.58 216.87h0M305.51 250.07h0M330.62 118.94h0M320.58 356.3h0M335.64 195.29h0M321.08 178.69h0M327.11 195.29h0M321.58 258.37h0M311.04 180.35h0M337.15 311.49h0M326.1 230.15h0M337.65 145.5h0M321.58 193.63h0M296.97 241.77h0M321.58 170.39h0M325.1 196.95h0M322.59 178.69h0M360.75 200.27h0M311.54 180.35h0M322.59 182.01h0M337.65 235.13h0M308.02 99.02h0M324.6 183.67h0M315.56 306.51h0M304.51 148.81h0M329.62 261.69h0M322.59 177.03h0M336.65 123.92h0M337.65 208.57h0M281.91 198.61h0M310.53 142.18h0M311.54 165.41h0M331.63 170.39h0M331.63 201.93h0M328.11 191.97h0M337.65 279.95h0M332.13 213.55h0M320.58 200.27h0M320.08 167.07h0M325.6 172.05h0M339.66 253.39h0M324.09 230.15h0M333.64 288.25h0M325.6 291.57h0M345.19 128.9h0M331.12 188.65h0M336.65 231.81h0M349.2 191.97h0M303 205.25h0M317.06 253.39h0M326.1 238.45h0M326.6 206.91h0M328.61 160.43h0M346.19 225.17h0M323.09 228.49h0M305.51 261.69h0M327.11 200.27h0M335.64 248.41h0M323.09 117.28h0M336.65 195.29h0M342.67 338.04h0M296.47 135.54h0M327.11 186.99h0M331.63 306.51h0M350.21 273.31h0M343.18 228.49h0M337.15 346.34h0M346.19 233.47h0M332.63 206.91h0M321.58 182.01h0M316.06 112.3h0M335.64 182.01h0M324.6 162.09h0M340.67 155.45h0M316.56 235.13h0M317.56 243.43h0M326.1 238.45h0M328.61 128.9h0M313.55 261.69h0M349.2 172.05h0M291.45 346.34h0M312.54 82.42h0M316.06 260.03h0M298.48 253.39h0M326.6 329.74h0M325.6 248.41h0M336.65 163.75h0M347.19 155.45h0M307.52 352.98h0M326.6 102.34h0M328.61 238.45h0M322.08 221.85h0M328.11 213.55h0M321.58 230.15h0M313.05 180.35h0M339.66 97.36h0M317.06 376.22h0M308.53 95.7h0M327.61 180.35h0M332.63 215.21h0M327.11 248.41h0M322.59 155.45h0M332.13 273.31h0M362.26 201.93h0M346.19 221.85h0M319.57 248.41h0M338.66 211.89h0M321.08 188.65h0M346.69 278.29h0M320.58 183.67h0M356.23 150.47h0M336.15 158.77h0M316.06 284.93h0M289.94 190.31h0M326.6 273.31h0M319.07 142.18h0M305.01 153.79h0M306.52 206.91h0M314.55 251.73h0M317.56 163.75h0M320.58 200.27h0M323.59 208.57h0M314.55 265.01h0M329.62 178.69h0M365.27 203.59h0M326.6 265.01h0M332.13 133.88h0M324.6 211.89h0M321.08 177.03h0M320.58 178.69h0M327.11 203.59h0M317.56 185.33h0M326.1 153.79h0M334.14 274.97h0M311.04 255.05h0M320.08 147.15h0M358.75 170.39h0M338.66 228.49h0M315.05 145.5h0M316.56 248.41h0M333.13 188.65h0M305.01 177.03h0M325.1 191.97h0M324.6 172.05h0M290.95 215.21h0M319.57 266.67h0M335.14 220.19h0M322.08 167.07h0M319.07 190.31h0M346.69 195.29h0M334.14 206.91h0M317.06 289.91h0M320.08 215.21h0M329.62 180.35h0M336.65 178.69h0M342.67 235.13h0M331.63 361.28h0M327.61 172.05h0M335.64 165.41h0M332.63 253.39h0M319.57 138.86h0M328.11 210.23h0M328.11 193.63h0M309.03 173.71h0M336.15 152.13h0M324.09 434.32h0M330.62 178.69h0M316.56 191.97h0M320.08 195.29h0M330.12 193.63h0M311.04 236.79h0M341.67 195.29h0M338.66 140.52h0M327.11 238.45h0M365.78 266.67h0M312.04 130.56h0M326.1 397.8h0M323.59 208.57h0M323.59 221.85h0M334.64 183.67h0M317.06 210.23h0M339.16 173.71h0M323.59 226.83h0M358.24 245.09h0M320.08 87.4h0M332.13 190.31h0M316.06 172.05h0M328.11 250.07h0M318.07 260.03h0M374.82 308.17h0M325.6 150.47h0M310.53 230.15h0M330.12 172.05h0M326.6 206.91h0M328.61 331.4h0M326.1 265.01h0M308.02 180.35h0M327.11 240.11h0M344.68 163.75h0M318.07 250.07h0M314.05 356.3h0M319.07 196.95h0M321.08 92.38h0M306.52 168.73h0M348.2 97.36h0M328.61 167.07h0M324.6 210.23h0M332.13 296.55h0M341.67 258.37h0M331.63 246.75h0M337.15 196.95h0M319.07 123.92h0M334.14 150.47h0M318.07 253.39h0M349.71 284.93h0M327.11 180.35h0M331.63 263.35h0M319.57 243.43h0M305.51 221.85h0M334.64 238.45h0M352.22 231.81h0M326.1 203.59h0M320.08 150.47h0M329.62 223.51h0M335.64 191.97h0M315.56 173.71h0M328.11 172.05h0M328.61 198.61h0M319.57 228.49h0M316.06 196.95h0M324.6 260.03h0M325.6 198.61h0M334.64 138.86h0M334.14 168.73h0M317.56 328.08h0M326.6 170.39h0M313.55 168.73h0M320.58 210.23h0M336.15 163.75h0M320.08 165.41h0M305.51 200.27h0M328.61 205.25h0M318.07 246.75h0M319.07 148.81h0M324.09 293.23h0M325.6 178.69h0M333.13 361.28h0M315.05 191.97h0M318.07 213.55h0M319.57 371.24h0M332.13 233.47h0M305.51 236.79h0M310.53 120.6h0M332.13 210.23h0M322.08 133.88h0M335.64 160.43h0M332.13 185.33h0M343.68 180.35h0M359.75 195.29h0M339.16 152.13h0M320.58 198.61h0M327.61 210.23h0M328.61 163.75h0M308.02 193.63h0M318.07 170.39h0M320.08 221.85h0M356.74 196.95h0M331.63 374.56h0M322.59 152.13h0M320.58 241.77h0M329.62 198.61h0M325.6 241.77h0M325.6 158.77h0M324.09 236.79h0M331.63 274.97h0M308.02 245.09h0M326.1 246.75h0M339.16 89.06h0M329.12 220.19h0M328.61 289.91h0M329.12 228.49h0M315.56 177.03h0M333.64 140.52h0M336.15 153.79h0M346.69 135.54h0M322.08 152.13h0M330.62 203.59h0M325.6 172.05h0M333.13 188.65h0M333.13 216.87h0M326.1 100.68h0M328.11 236.79h0M318.07 250.07h0M342.17 216.87h0M305.51 145.5h0M325.1 211.89h0M334.64 182.01h0M317.06 225.17h0M324.09 308.17h0M342.67 178.69h0M331.12 190.31h0M332.63 130.56h0M323.09 230.15h0M317.06 128.9h0M333.13 362.94h0M318.07 283.27h0M328.61 200.27h0M325.1 172.05h0M331.63 240.11h0M316.06 230.15h0M331.63 130.56h0M320.08 72.46h0M327.11 120.6h0M316.56 165.41h0M325.6 186.99h0M336.15 235.13h0M318.07 279.95h0M317.06 215.21h0M331.12 190.31h0M318.57 291.57h0M340.67 153.79h0M327.11 167.07h0M329.12 288.25h0M324.09 313.14h0M335.64 148.81h0M314.05 193.63h0M326.1 157.11h0M341.17 147.15h0M292.96 240.11h0M326.6 276.63h0M336.65 412.74h0M329.62 150.47h0M329.62 186.99h0M329.62 213.55h0M308.02 148.81h0M281.91 188.65h0M327.11 163.75h0M324.09 263.35h0M331.12 185.33h0M341.67 167.07h0M307.52 127.24h0M325.1 220.19h0M324.6 261.69h0M327.61 246.75h0M322.08 258.37h0M300.99 147.15h0M342.17 321.44h0M332.13 328.08h0M346.69 143.84h0M323.59 213.55h0M329.62 193.63h0M325.6 201.93h0M330.62 308.17h0M319.57 329.74h0M320.58 112.3h0M325.1 205.25h0M331.63 246.75h0M293.46 133.88h0M324.09 236.79h0M321.58 278.29h0M329.12 215.21h0M333.13 387.84h0M314.55 230.15h0M318.57 193.63h0M323.59 191.97h0M346.69 190.31h0M330.62 127.24h0M340.16 185.33h0M332.63 168.73h0M330.62 133.88h0M317.56 206.91h0M318.57 153.79h0M333.13 218.53h0M338.66 190.31h0M315.56 195.29h0M328.61 148.81h0M339.66 152.13h0M340.67 223.51h0M341.67 236.79h0M328.61 241.77h0M332.63 235.13h0M313.05 221.85h0M322.59 195.29h0M328.11 298.21h0M322.08 112.3h0M350.71 137.2h0M320.08 100.68h0M312.54 236.79h0M322.08 160.43h0M346.69 200.27h0M315.56 138.86h0M330.62 318.12h0M328.11 195.29h0M330.12 173.71h0M336.65 107.32h0M316.56 497.39h0M322.08 188.65h0M327.11 276.63h0M337.15 316.46h0M328.11 394.48h0M293.96 193.63h0M334.14 193.63h0M318.57 173.71h0M331.12 167.07h0M325.1 225.17h0M322.59 216.87h0M329.62 118.94h0M316.56 90.72h0M318.57 182.01h0M310.03 182.01h0M321.58 220.19h0M319.57 172.05h0M320.58 268.33h0M326.6 186.99h0M331.63 122.26h0M327.11 346.34h0M325.6 163.75h0M328.11 236.79h0M337.15 162.09h0M309.03 172.05h0M325.6 190.31h0M329.62 170.39h0M348.7 263.35h0M338.66 221.85h0M317.56 206.91h0M326.1 263.35h0M323.59 188.65h0M355.23 218.53h0M317.06 284.93h0M319.07 170.39h0M314.55 75.78h0M336.65 357.96h0M351.21 172.05h0M310.03 172.05h0M328.11 143.84h0M330.12 205.25h0M319.07 152.13h0M301.49 196.95h0M316.06 206.91h0M340.16 377.88h0M311.54 416.06h0M344.18 236.79h0M312.54 201.93h0M317.06 173.71h0M323.59 160.43h0M321.58 112.3h0M329.12 97.36h0M320.58 331.4h0M324.09 152.13h0M312.54 100.68h0M335.14 133.88h0M323.09 221.85h0M319.07 210.23h0M325.6 180.35h0M340.16 147.15h0M318.57 228.49h0M319.57 147.15h0M326.6 211.89h0M328.11 157.11h0M329.12 152.13h0M359.75 163.75h0M304.01 138.86h0M338.16 185.33h0M326.6 175.37h0M319.07 127.24h0M348.2 208.57h0M321.08 211.89h0M331.63 246.75h0M322.59 108.98h0M313.55 218.53h0M318.57 251.73h0M334.14 276.63h0M327.61 165.41h0M298.48 201.93h0M359.25 190.31h0M333.13 142.18h0M294.46 180.35h0M330.12 230.15h0M328.61 193.63h0M354.73 246.75h0M318.07 163.75h0M340.16 148.81h0M339.16 177.03h0M329.62 346.34h0M321.08 118.94h0M321.08 195.29h0M331.12 472.5h0M354.23 198.61h0M319.07 180.35h0M307.52 198.61h0M333.13 288.25h0M331.12 240.11h0M329.62 296.55h0M315.56 243.43h0M326.6 120.6h0M324.09 210.23h0M321.58 331.4h0M305.01 256.71h0M314.05 218.53h0M333.13 165.41h0M333.64 278.29h0M345.19 173.71h0M332.13 208.57h0M337.65 94.04h0M337.15 157.11h0M334.64 147.15h0M341.67 172.05h0M313.55 140.52h0M335.14 236.79h0M323.59 283.27h0M380.34 150.47h0M328.61 255.05h0M320.58 167.07h0M322.08 183.67h0M330.62 118.94h0M325.1 195.29h0M382.85 359.62h0M326.1 163.75h0M336.65 191.97h0M342.17 351.32h0M328.61 162.09h0M333.13 211.89h0M311.54 173.71h0M326.1 191.97h0M331.63 284.93h0M268.35 230.15h0M324.09 263.35h0M329.12 89.06h0M334.14 182.01h0M317.56 130.56h0M313.55 180.35h0M321.58 201.93h0M329.62 157.11h0M326.1 177.03h0M326.6 359.62h0M311.04 265.01h0M332.13 313.14h0M313.05 120.6h0M329.12 253.39h0M330.62 241.77h0M329.62 118.94h0M328.61 303.19h0M329.12 291.57h0M320.08 177.03h0M309.53 178.69h0M343.68 216.87h0M339.16 195.29h0M315.05 195.29h0M333.13 175.37h0M330.62 148.81h0M341.67 138.86h0M324.6 173.71h0M302.5 221.85h0M332.63 147.15h0M321.08 180.35h0M337.15 215.21h0M296.47 286.59h0M336.15 348h0M330.62 150.47h0M319.57 245.09h0M333.13 223.51h0M335.64 183.67h0M332.63 258.37h0M334.14 173.71h0M324.09 170.39h0M334.64 218.53h0M334.64 158.77h0M336.65 137.2h0M331.63 135.54h0M312.54 221.85h0M330.62 180.35h0M315.56 135.54h0M320.08 188.65h0M344.68 196.95h0M327.61 191.97h0M323.59 276.63h0M358.75 291.57h0M330.12 263.35h0M327.11 150.47h0M354.23 84.08h0M328.61 160.43h0M312.04 118.94h0M358.24 165.41h0M337.65 269.99h0M334.14 225.17h0M326.6 281.61h0M274.88 263.35h0M334.64 138.86h0M334.64 172.05h0M326.1 150.47h0M342.17 269.99h0M321.08 165.41h0M355.23 152.13h0M320.08 165.41h0M325.1 304.85h0M333.64 183.67h0M331.12 150.47h0M340.67 266.67h0M334.14 147.15h0M305.51 147.15h0M328.11 220.19h0M325.1 278.29h0M321.08 225.17h0M331.63 233.47h0M336.15 110.64h0M334.64 235.13h0M348.7 163.75h0M319.57 157.11h0M309.03 160.43h0M321.58 213.55h0M330.62 155.45h0M335.14 245.09h0M330.12 269.99h0M321.08 351.32h0M337.15 230.15h0M329.62 284.93h0M307.02 127.24h0M324.09 150.47h0M329.12 233.47h0M330.62 226.83h0M326.1 216.87h0M306.52 255.05h0M325.6 185.33h0M329.62 196.95h0M338.66 186.99h0M335.64 120.6h0M335.14 208.57h0M325.6 193.63h0M327.61 251.73h0M337.15 115.62h0M334.64 130.56h0M328.11 288.25h0M354.23 283.27h0M346.69 108.98h0M329.62 97.36h0M316.06 152.13h0M325.1 120.6h0M332.13 243.43h0M320.58 180.35h0M333.64 145.5h0M327.11 191.97h0M319.07 226.83h0M331.12 268.33h0M299.99 223.51h0M322.59 97.36h0M321.08 200.27h0M317.06 215.21h0M327.61 269.99h0M340.67 118.94h0M318.07 191.97h0M373.81 158.77h0M341.17 190.31h0M310.03 172.05h0M317.06 183.67h0M315.05 211.89h0M369.79 163.75h0M317.56 221.85h0M313.05 172.05h0M327.61 167.07h0M319.07 148.81h0M318.57 225.17h0M327.11 79.1h0M334.14 175.37h0M329.62 238.45h0M297.48 260.03h0M332.13 182.01h0M321.58 190.31h0M334.14 157.11h0M342.17 256.71h0M321.58 186.99h0M334.64 167.07h0M321.08 143.84h0M318.57 205.25h0M328.61 215.21h0M336.65 223.51h0M331.63 193.63h0M320.58 201.93h0M330.62 183.67h0M327.61 230.15h0M319.07 170.39h0M303 240.11h0M322.08 191.97h0M351.21 92.38h0M325.1 235.13h0M340.16 107.32h0M337.65 128.9h0M315.05 210.23h0M315.56 167.07h0M356.74 162.09h0M325.1 233.47h0M334.14 284.93h0M331.63 201.93h0M349.2 306.51h0M329.62 163.75h0M334.64 268.33h0M308.53 94.04h0M315.56 80.76h0M318.57 223.51h0M327.61 339.7h0M335.14 175.37h0M329.12 213.55h0M327.61 195.29h0M339.16 263.35h0M318.07 256.71h0M310.03 263.35h0M325.6 251.73h0M333.13 283.27h0M334.64 167.07h0M323.59 163.75h0M315.05 205.25h0M319.57 238.45h0M329.62 243.43h0M334.64 206.91h0M323.09 160.43h0M319.57 364.6h0M318.57 253.39h0M321.08 180.35h0M331.63 120.6h0M327.61 238.45h0M329.12 216.87h0M332.13 208.57h0M343.68 127.24h0M315.56 352.98h0M314.55 172.05h0M332.63 148.81h0M376.32 157.11h0M335.64 113.96h0M325.6 250.07h0M326.1 220.19h0M324.6 173.71h0M324.09 271.65h0M330.62 183.67h0M325.1 178.69h0M330.62 206.91h0M330.62 220.19h0M330.62 132.22h0M331.12 177.03h0M318.57 191.97h0M336.15 177.03h0M298.98 211.89h0M333.64 178.69h0M340.16 167.07h0M356.74 228.49h0M322.59 193.63h0M331.63 191.97h0M327.11 182.01h0M326.6 206.91h0M315.05 190.31h0M320.08 210.23h0M352.22 230.15h0M323.09 157.11h0M313.55 263.35h0M333.64 162.09h0M328.61 123.92h0M302 265.01h0M330.12 233.47h0M343.18 230.15h0M331.12 245.09h0M343.68 241.77h0M327.61 167.07h0M331.63 203.59h0M339.66 148.81h0M309.53 167.07h0M340.16 170.39h0M327.11 274.97h0M328.11 361.28h0M322.59 198.61h0M326.6 294.89h0M326.6 201.93h0M332.13 206.91h0M339.16 163.75h0M329.62 236.79h0M333.13 183.67h0M311.04 206.91h0M345.69 135.54h0M326.6 203.59h0M326.1 167.07h0M329.62 318.12h0M335.64 261.69h0M320.08 175.37h0M325.1 271.65h0M339.66 117.28h0M335.64 162.09h0M309.03 223.51h0M345.69 104h0M315.05 258.37h0M324.6 191.97h0M329.12 183.67h0M306.52 162.09h0M340.67 220.19h0M311.04 200.27h0M326.1 206.91h0M358.24 180.35h0M326.6 226.83h0M361.26 208.57h0M327.11 299.87h0M327.11 110.64h0M318.57 165.41h0M322.08 132.22h0M284.42 221.85h0M324.6 269.99h0M336.65 306.51h0M340.16 246.75h0M323.59 336.38h0M326.1 206.91h0M298.98 215.21h0M332.13 246.75h0M324.6 112.3h0M312.54 251.73h0M313.55 200.27h0M327.11 201.93h0M328.61 357.96h0M312.54 196.95h0M339.16 349.66h0M355.23 115.62h0M328.61 137.2h0M303.5 175.37h0M323.59 236.79h0M326.6 226.83h0M330.12 301.53h0M340.16 215.21h0M325.6 163.75h0M335.14 296.55h0M326.1 235.13h0M325.6 276.63h0M337.15 268.33h0M313.55 348h0M293.46 135.54h0M334.64 253.39h0M300.99 343.02h0M321.58 118.94h0M331.12 75.78h0M321.08 183.67h0M336.15 286.59h0M311.04 225.17h0M338.16 216.87h0M365.78 165.41h0M343.68 150.47h0M350.71 177.03h0M320.58 132.22h0M333.13 145.5h0M321.08 354.64h0M326.1 145.5h0M337.65 178.69h0M334.64 173.71h0M324.09 183.67h0M318.57 284.93h0M321.58 341.36h0M316.56 132.22h0M314.05 115.62h0M329.12 135.54h0M330.12 137.2h0M334.64 215.21h0M314.05 195.29h0M317.06 200.27h0M329.62 265.01h0M327.11 293.23h0M333.64 344.68h0M316.56 230.15h0M323.59 216.87h0M331.63 215.21h0M338.16 108.98h0M331.63 162.09h0M318.07 112.3h0M340.16 183.67h0M318.07 145.5h0M330.62 145.5h0M327.11 188.65h0M322.59 288.25h0M336.65 261.69h0M305.01 185.33h0M296.97 178.69h0M263.83 291.57h0M311.54 173.71h0M314.05 177.03h0M326.6 215.21h0M317.56 148.81h0M318.07 162.09h0M330.12 132.22h0M321.08 311.49h0M332.13 157.11h0M324.09 279.95h0M319.57 248.41h0M330.62 186.99h0M321.58 191.97h0M319.07 182.01h0M365.27 185.33h0M330.12 148.81h0M336.15 188.65h0M311.54 220.19h0M324.09 160.43h0M332.13 283.27h0M330.12 253.39h0M306.52 132.22h0M320.08 255.05h0M332.13 175.37h0M324.09 236.79h0M329.62 331.4h0M332.13 172.05h0M340.67 260.03h0M315.56 162.09h0M333.64 235.13h0M337.15 230.15h0M335.14 118.94h0M330.62 208.57h0M324.6 150.47h0M323.09 195.29h0M334.64 135.54h0M323.59 168.73h0M318.07 177.03h0M335.64 158.77h0M315.05 223.51h0M322.59 186.99h0M324.09 122.26h0M327.61 263.35h0M317.56 348h0M340.67 203.59h0M323.09 132.22h0M328.11 221.85h0M324.6 269.99h0M325.6 240.11h0M328.61 213.55h0M331.63 193.63h0M324.09 170.39h0M330.62 188.65h0M323.09 143.84h0M320.08 269.99h0M321.58 92.38h0M321.08 160.43h0M319.57 163.75h0M338.16 223.51h0M322.08 142.18h0M326.6 220.19h0M320.58 188.65h0M328.61 175.37h0M336.65 228.49h0M321.58 162.09h0M328.61 223.51h0M326.6 241.77h0M334.14 123.92h0M314.05 148.81h0M326.6 236.79h0M325.6 163.75h0M312.54 160.43h0M335.14 331.4h0M340.16 182.01h0M321.08 138.86h0M309.03 178.69h0M327.61 148.81h0M338.66 162.09h0M323.59 201.93h0M331.12 216.87h0M337.65 186.99h0M332.13 135.54h0M348.2 253.39h0M342.67 140.52h0M323.09 266.67h0M318.57 92.38h0M351.71 188.65h0M316.06 173.71h0M332.13 201.93h0M326.6 137.2h0M316.56 213.55h0M307.02 118.94h0M362.26 82.42h0M331.63 178.69h0M335.14 218.53h0M336.65 143.84h0M328.11 211.89h0M326.1 195.29h0M340.16 170.39h0M339.66 132.22h0M324.09 228.49h0M316.56 148.81h0M329.12 157.11h0M366.78 185.33h0M345.19 148.81h0M329.62 318.12h0M319.57 309.83h0M321.58 268.33h0M336.15 289.91h0M327.61 178.69h0M309.53 296.55h0M333.64 226.83h0M329.62 195.29h0M327.11 110.64h0M320.58 143.84h0M324.6 260.03h0M316.06 152.13h0M322.59 195.29h0M331.12 158.77h0M332.13 178.69h0M303 225.17h0M336.65 92.38h0M310.03 299.87h0M331.63 231.81h0M327.61 133.88h0M291.45 191.97h0M306.01 173.71h0M324.6 231.81h0M344.68 153.79h0M324.6 294.89h0M325.1 243.43h0M297.48 245.09h0M313.05 319.78h0M326.6 195.29h0M317.06 256.71h0M345.69 175.37h0M323.59 200.27h0M316.06 245.09h0M330.12 178.69h0M341.17 163.75h0M314.55 243.43h0M316.56 218.53h0M302.5 326.42h0M306.52 274.97h0M317.06 178.69h0M278.9 165.41h0M311.04 235.13h0M335.64 182.01h0M316.06 183.67h0M323.09 137.2h0M332.13 155.45h0M329.12 148.81h0M320.58 255.05h0M331.12 170.39h0M327.11 191.97h0M325.1 284.93h0M347.19 170.39h0M340.67 266.67h0M325.6 241.77h0M336.15 143.84h0M330.62 162.09h0M354.23 274.97h0M291.45 175.37h0M338.66 186.99h0M290.45 203.59h0M311.54 243.43h0M344.18 205.25h0M325.1 158.77h0M311.04 110.64h0M309.03 152.13h0M324.6 230.15h0M338.16 160.43h0M328.11 97.36h0M330.62 200.27h0M337.65 248.41h0M332.13 142.18h0M310.03 409.42h0M348.2 188.65h0M324.6 175.37h0" stroke="#000" stroke-width="1.75" stroke-linecap="round" fill="none"/><path d="M292.71 580.24V47.8" stroke="#006400" stroke-width="2.25" stroke-dasharray="9 9" stroke-linecap="round" fill="none"/><path d="M358.49 580.24V47.8" stroke="#006400" stroke-width="2.25" stroke-dasharray="9 9" stroke-linecap="round" fill="none"/><path d="M59.76 459.22H592.2" stroke="#CD2626" stroke-width="2.25" stroke-dasharray="9 9" stroke-linecap="round" fill="none"/><rect x="59.76" y="47.8" width="532.44" height="532.44" fill="none" stroke="#000" stroke-width="0.75"/><path d="M124.72 580.24H526.48M124.72 580.24v6.4M225.16 580.24v6.4M325.6 580.24v6.4M426.04 580.24v6.4M526.48 580.24v6.4M59.76 62.5V560.47M59.76 560.47h-6.4M59.76 477.48h-6.4M59.76 394.48h-6.4M59.76 311.49h-6.4M59.76 228.49h-6.4M59.76 145.5h-6.4M59.76 62.5h-6.4" fill="none" stroke="#000" stroke-width="0.75"/><text transform="translate(124.72 601.8) scale(1.035 1.09)" font-size="9.96" text-anchor="middle">-400</text><text transform="translate(225.16 601.8) scale(1.035 1.09)" font-size="9.96" text-anchor="middle">-200</text><text transform="translate(325.6 601.8) scale(1.035 1.09)" font-size="9.96" text-anchor="middle">0</text><text transform="translate(426.04 601.8) scale(1.035 1.09)" font-size="9.96" text-anchor="middle">200</text><text transform="translate(526.48 601.8) scale(1.035 1.09)" font-size="9.96" text-anchor="middle">400</text><text transform="translate(45 560.97) rotate(-90) scale(1.04 1.14)" font-size="9.96" text-anchor="middle">70</text><text transform="translate(45 477.98) rotate(-90) scale(1.04 1.14)" font-size="9.96" text-anchor="middle">75</text><text transform="translate(45 394.98) rotate(-90) scale(1.04 1.14)" font-size="9.96" text-anchor="middle">80</text><text transform="translate(45 311.99) rotate(-90) scale(1.04 1.14)" font-size="9.96" text-anchor="middle">85</text><text transform="translate(45 228.99) rotate(-90) scale(1.04 1.14)" font-size="9.96" text-anchor="middle">90</text><text transform="translate(45 146) rotate(-90) scale(1.04 1.14)" font-size="9.96" text-anchor="middle">95</text><text transform="translate(45 63) rotate(-90) scale(1.04 1.14)" font-size="9.96" text-anchor="middle">100</text><text transform="translate(322.78 31.3) scale(1 1.02)" font-size="21.5" text-anchor="middle" font-weight="bold">Top hit for each peak</text><text transform="translate(325.98 625.9) scale(1 1.04)" font-size="15.94" text-anchor="middle">Distance to peak summit</text><text transform="translate(22.2 314.02) rotate(-90) scale(0.99 1.07)" font-size="15.94" text-anchor="middle">Motif score</text><path d="M851.6 48.2V579.8M1048.4 48.2V579.8" stroke="#fff" stroke-width="1" fill="none"/><path d="M929.87 580.24V47.8" stroke="#006400" stroke-width="1.5" stroke-dasharray="6 6" stroke-linecap="round" fill="none"/><path d="M1000.73 580.24V47.8" stroke="#006400" stroke-width="1.5" stroke-dasharray="6 6" stroke-linecap="round" fill="none"/><path d="M699.76 470.58H1232.2" stroke="#CD2626" stroke-width="1.5" stroke-dasharray="6 6" stroke-linecap="round" fill="none"/><rect x="699.76" y="47.8" width="532.44" height="532.44" fill="none" stroke="#000" stroke-width="0.75"/><path d="M748.94 580.24H1181.66M748.94 580.24v6.4M857.12 580.24v6.4M965.3 580.24v6.4M1073.48 580.24v6.4M1181.66 580.24v6.4M699.76 132.35V579.75M699.76 579.75h-6.4M699.76 490.27h-6.4M699.76 400.79h-6.4M699.76 311.31h-6.4M699.76 221.83h-6.4M699.76 132.35h-6.4" fill="none" stroke="#000" stroke-width="0.75"/><text transform="translate(748.94 601.8) scale(1.035 1.09)" font-size="9.96" text-anchor="middle">-400</text><text transform="translate(857.12 601.8) scale(1.035 1.09)" font-size="9.96" text-anchor="middle">-200</text><text transform="translate(965.3 601.8) scale(1.035 1.09)" font-size="9.96" text-anchor="middle">0</text><text transform="translate(1073.48 601.8) scale(1.035 1.09)" font-size="9.96" text-anchor="middle">200</text><text transform="translate(1181.66 601.8) scale(1.035 1.09)" font-size="9.96" text-anchor="middle">400</text><text transform="translate(685 580.25) rotate(-90) scale(1.04 1.14)" font-size="9.96" text-anchor="middle">70</text><text transform="translate(685 490.77) rotate(-90) scale(1.04 1.14)" font-size="9.96" text-anchor="middle">75</text><text transform="translate(685 401.29) rotate(-90) scale(1.04 1.14)" font-size="9.96" text-anchor="middle">80</text><text transform="translate(685 311.81) rotate(-90) scale(1.04 1.14)" font-size="9.96" text-anchor="middle">85</text><text transform="translate(685 222.33) rotate(-90) scale(1.04 1.14)" font-size="9.96" text-anchor="middle">90</text><text transform="translate(685 132.85) rotate(-90) scale(1.04 1.14)" font-size="9.96" text-anchor="middle">95</text><text transform="translate(965.98 31.3) scale(1 1.02)" font-size="21.5" text-anchor="middle" font-weight="bold">Density heat map for the top hits</text><text transform="translate(965.98 625.9) scale(1 1.04)" font-size="15.94" text-anchor="middle">Distance to peak summit</text><text transform="translate(662.2 314.02) rotate(-90) scale(0.99 1.07)" font-size="15.94" text-anchor="middle">Motif score</text><path d="M79.5 1200.49 81.4 1200.49 83.31 1200.48 85.21 1200.48 87.11 1200.47 89.02 1200.46 90.92 1200.45 92.82 1200.44 94.73 1200.42 96.63 1200.41 98.53 1200.39 100.44 1200.37 102.34 1200.35 104.25 1200.33 106.15 1200.31 108.05 1200.3 109.96 1200.28 111.86 1200.27 113.76 1200.26 115.67 1200.25 117.57 1200.24 119.47 1200.23 121.38 1200.21 123.28 1200.19 125.18 1200.16 127.09 1200.1 128.99 1200.02 130.89 1199.92 132.8 1199.77 134.7 1199.57 136.6 1199.32 138.51 1199.01 140.41 1198.62 142.31 1198.15 144.22 1197.59 146.12 1196.93 148.03 1196.17 149.93 1195.29 151.83 1194.27 153.74 1193.11 155.64 1191.77 157.54 1190.23 159.45 1188.46 161.35 1186.43 163.25 1184.1 165.16 1181.43 167.06 1178.41 168.96 1175.01 170.87 1171.22 172.77 1167.05 174.67 1162.5 176.58 1157.59 178.48 1152.33 180.38 1146.73 182.29 1140.78 184.19 1134.46 186.09 1127.73 188 1120.51 189.9 1112.73 191.81 1104.33 193.71 1095.23 195.61 1085.4 197.52 1074.84 199.42 1063.58 201.32 1051.73 203.23 1039.39 205.13 1026.73 207.03 1013.88 208.94 1000.98 210.84 988.1 212.74 975.27 214.65 962.47 216.55 949.61 218.45 936.56 220.36 923.21 222.26 909.44 224.16 895.2 226.07 880.5 227.97 865.44 229.87 850.2 231.78 835.01 233.68 820.14 235.58 805.84 237.49 792.34 239.39 779.82 241.3 768.36 243.2 758 245.1 748.71 247.01 740.43 248.91 733.09 250.81 726.63 252.72 721.05 254.62 716.34 256.52 712.53 258.43 709.68 260.33 707.8 262.23 706.9 264.14 706.94 266.04 707.82 267.94 709.43 269.85 711.61 271.75 714.22 273.65 717.14 275.56 720.28 277.46 723.59 279.36 727.09 281.27 730.8 283.17 734.78 285.08 739.08 286.98 743.76 288.88 748.83 290.79 754.28 292.69 760.08 294.59 766.17 296.5 772.5 298.4 779 300.3 785.63 302.21 792.39 304.11 799.25 306.01 806.24 307.92 813.39 309.82 820.72 311.72 828.25 313.63 835.98 315.53 843.9 317.43 851.98 319.34 860.14 321.24 868.32 323.14 876.41 325.05 884.32 326.95 891.96 328.86 899.24 330.76 906.11 332.66 912.51 334.57 918.43 336.47 923.89 338.37 928.9 340.28 933.52 342.18 937.79 344.08 941.78 345.99 945.52 347.89 949.07 349.79 952.44 351.7 955.65 353.6 958.71 355.5 961.61 357.41 964.36 359.31 966.97 361.21 969.46 363.12 971.85 365.02 974.18 366.92 976.44 368.83 978.66 370.73 980.81 372.64 982.85 374.54 984.73 376.44 986.37 378.35 987.71 380.25 988.67 382.15 989.21 384.06 989.33 385.96 989.06 387.86 988.44 389.77 987.55 391.67 986.48 393.57 985.3 395.48 984.06 397.38 982.82 399.28 981.56 401.19 980.3 403.09 979.02 404.99 977.71 406.9 976.4 408.8 975.13 410.7 973.96 412.61 972.99 414.51 972.32 416.42 972.06 418.32 972.27 420.22 973.01 422.13 974.29 424.03 976.08 425.93 978.32 427.84 980.92 429.74 983.8 431.64 986.87 433.55 990.06 435.45 993.32 437.35 996.6 439.26 999.89 441.16 1003.18 443.06 1006.47 444.97 1009.76 446.87 1013.05 448.77 1016.34 450.68 1019.63 452.58 1022.93 454.48 1026.27 456.39 1029.66 458.29 1033.15 460.19 1036.77 462.1 1040.57 464 1044.58 465.91 1048.83 467.81 1053.33 469.71 1058.08 471.62 1063.08 473.52 1068.29 475.42 1073.7 477.33 1079.25 479.23 1084.91 481.13 1090.65 483.04 1096.43 484.94 1102.21 486.84 1107.96 488.75 1113.66 490.65 1119.27 492.55 1124.77 494.46 1130.15 496.36 1135.39 498.26 1140.47 500.17 1145.38 502.07 1150.12 503.97 1154.68 505.88 1159.04 507.78 1163.2 509.69 1167.15 511.59 1170.87 513.49 1174.35 515.4 1177.57 517.3 1180.54 519.2 1183.25 521.11 1185.69 523.01 1187.87 524.91 1189.81 526.82 1191.51 528.72 1192.99 530.62 1194.27 532.53 1195.37 534.43 1196.31 536.33 1197.1 538.24 1197.77 540.14 1198.33 542.04 1198.79 543.95 1199.16 545.85 1199.47 547.75 1199.71 549.66 1199.9 551.56 1200.05 553.47 1200.17 555.37 1200.25 557.27 1200.32 559.18 1200.37 561.08 1200.4 562.98 1200.42 564.89 1200.44 566.79 1200.45 568.69 1200.46 570.6 1200.47 572.5 1200.47Z" fill="#F5DEB3" stroke="#000" stroke-width="1.1" stroke-linejoin="round"/><path d="M203.77 1220.24V687.8" stroke="#CD2626" stroke-width="1.5" stroke-dasharray="6 6" stroke-linecap="round" fill="none"/><rect x="59.76" y="687.8" width="532.44" height="532.44" fill="none" stroke="#000" stroke-width="0.75"/><path d="M118.6 1220.24H537.49M118.6 1220.24v6.4M188.41 1220.24v6.4M258.23 1220.24v6.4M328.04 1220.24v6.4M397.86 1220.24v6.4M467.67 1220.24v6.4M537.49 1220.24v6.4M59.76 702.9V1200.5M59.76 1200.5h-6.4M59.76 1076.1h-6.4M59.76 951.7h-6.4M59.76 827.3h-6.4M59.76 702.9h-6.4" fill="none" stroke="#000" stroke-width="0.75"/><text transform="translate(118.6 1241.8) scale(1.035 1.09)" font-size="9.96" text-anchor="middle">70</text><text transform="translate(188.41 1241.8) scale(1.035 1.09)" font-size="9.96" text-anchor="middle">75</text><text transform="translate(258.23 1241.8) scale(1.035 1.09)" font-size="9.96" text-anchor="middle">80</text><text transform="translate(328.04 1241.8) scale(1.035 1.09)" font-size="9.96" text-anchor="middle">85</text><text transform="translate(397.86 1241.8) scale(1.035 1.09)" font-size="9.96" text-anchor="middle">90</text><text transform="translate(467.67 1241.8) scale(1.035 1.09)" font-size="9.96" text-anchor="middle">95</text><text transform="translate(537.49 1241.8) scale(1.035 1.09)" font-size="9.96" text-anchor="middle">100</text><text transform="translate(45 1201) rotate(-90) scale(1.06 1.14)" font-size="9.96" text-anchor="middle">0.00</text><text transform="translate(45 1076.6) rotate(-90) scale(1.06 1.14)" font-size="9.96" text-anchor="middle">0.02</text><text transform="translate(45 952.2) rotate(-90) scale(1.06 1.14)" font-size="9.96" text-anchor="middle">0.04</text><text transform="translate(45 827.8) rotate(-90) scale(1.06 1.14)" font-size="9.96" text-anchor="middle">0.06</text><text transform="translate(45 703.4) rotate(-90) scale(1.06 1.14)" font-size="9.96" text-anchor="middle">0.08</text><text transform="translate(325.98 671.3) scale(1 1.02)" font-size="21.5" text-anchor="middle" font-weight="bold">Motif score threshold: 76.100</text><text transform="translate(325.98 1265.9) scale(1 1.04)" font-size="15.94" text-anchor="middle">Motif score</text><text transform="translate(22.2 954.02) rotate(-90) scale(0.99 1.07)" font-size="15.94" text-anchor="middle">Density</text><path d="M719.5 1200.44 721.05 1200.4 722.59 1200.34 724.14 1200.25 725.68 1200.13 727.23 1199.95 728.77 1199.71 730.32 1199.38 731.86 1198.94 733.41 1198.35 734.95 1197.61 736.5 1196.67 738.05 1195.51 739.59 1194.11 741.14 1192.44 742.68 1190.48 744.23 1188.24 745.77 1185.69 747.32 1182.85 748.86 1179.73 750.41 1176.33 751.95 1172.68 753.5 1168.81 755.05 1164.74 756.59 1160.5 758.14 1156.14 759.68 1151.7 761.23 1147.22 762.77 1142.76 764.32 1138.37 765.86 1134.1 767.41 1130 768.95 1126.12 770.5 1122.49 772.05 1119.14 773.59 1116.08 775.14 1113.32 776.68 1110.87 778.23 1108.7 779.77 1106.82 781.32 1105.2 782.86 1103.83 784.41 1102.67 785.95 1101.72 787.5 1100.93 789.05 1100.29 790.59 1099.77 792.14 1099.34 793.68 1098.98 795.23 1098.68 796.77 1098.43 798.32 1098.23 799.86 1098.08 801.41 1097.99 802.95 1097.97 804.5 1098.02 806.05 1098.13 807.59 1098.3 809.14 1098.52 810.68 1098.77 812.23 1099.04 813.77 1099.3 815.32 1099.56 816.86 1099.79 818.41 1100.01 819.95 1100.21 821.5 1100.4 823.05 1100.57 824.59 1100.73 826.14 1100.9 827.68 1101.06 829.23 1101.22 830.77 1101.38 832.32 1101.52 833.86 1101.64 835.41 1101.71 836.95 1101.73 838.5 1101.68 840.05 1101.55 841.59 1101.35 843.14 1101.07 844.68 1100.72 846.23 1100.33 847.77 1099.9 849.32 1099.47 850.86 1099.04 852.41 1098.62 853.95 1098.21 855.5 1097.82 857.05 1097.42 858.59 1097.02 860.14 1096.6 861.68 1096.15 863.23 1095.7 864.77 1095.24 866.32 1094.8 867.86 1094.39 869.41 1094.04 870.95 1093.76 872.5 1093.57 874.05 1093.47 875.59 1093.45 877.14 1093.49 878.68 1093.58 880.23 1093.7 881.77 1093.82 883.32 1093.95 884.86 1094.07 886.41 1094.18 887.95 1094.29 889.5 1094.4 891.05 1094.51 892.59 1094.6 894.14 1094.68 895.68 1094.71 897.23 1094.69 898.77 1094.59 900.32 1094.39 901.86 1094.1 903.41 1093.7 904.95 1093.21 906.5 1092.61 908.05 1091.92 909.59 1091.1 911.14 1090.14 912.68 1088.99 914.23 1087.61 915.77 1085.94 917.32 1083.94 918.86 1081.57 920.41 1078.8 921.95 1075.58 923.5 1071.89 925.05 1067.66 926.59 1062.79 928.14 1057.17 929.68 1050.61 931.23 1042.91 932.77 1033.86 934.32 1023.26 935.86 1010.95 937.41 996.84 938.95 980.96 940.5 963.43 942.05 944.48 943.59 924.46 945.14 903.73 946.68 882.72 948.23 861.81 949.77 841.35 951.32 821.63 952.86 802.86 954.41 785.21 955.95 768.82 957.5 753.84 959.05 740.46 960.59 728.9 962.14 719.46 963.68 712.44 965.23 708.17 966.77 706.9 968.32 708.81 969.86 713.95 971.41 722.22 972.95 733.38 974.5 747.07 976.05 762.84 977.59 780.21 979.14 798.69 980.68 817.83 982.23 837.26 983.77 856.67 985.32 875.83 986.86 894.54 988.41 912.68 989.95 930.1 991.5 946.71 993.05 962.4 994.59 977.06 996.14 990.63 997.68 1003.05 999.23 1014.3 1000.77 1024.42 1002.32 1033.47 1003.86 1041.52 1005.41 1048.67 1006.95 1055.01 1008.5 1060.63 1010.05 1065.58 1011.59 1069.92 1013.14 1073.68 1014.68 1076.88 1016.23 1079.56 1017.77 1081.74 1019.32 1083.48 1020.86 1084.82 1022.41 1085.84 1023.95 1086.61 1025.5 1087.17 1027.05 1087.59 1028.59 1087.92 1030.14 1088.17 1031.68 1088.38 1033.23 1088.55 1034.77 1088.69 1036.32 1088.81 1037.86 1088.91 1039.41 1089 1040.95 1089.1 1042.5 1089.21 1044.05 1089.34 1045.59 1089.5 1047.14 1089.68 1048.68 1089.89 1050.23 1090.12 1051.77 1090.37 1053.32 1090.61 1054.86 1090.84 1056.41 1091.05 1057.95 1091.23 1059.5 1091.4 1061.05 1091.53 1062.59 1091.65 1064.14 1091.75 1065.68 1091.85 1067.23 1091.94 1068.77 1092.03 1070.32 1092.11 1071.86 1092.19 1073.41 1092.24 1074.95 1092.27 1076.5 1092.28 1078.05 1092.28 1079.59 1092.28 1081.14 1092.29 1082.68 1092.33 1084.23 1092.43 1085.77 1092.59 1087.32 1092.82 1088.86 1093.13 1090.41 1093.51 1091.95 1093.96 1093.5 1094.47 1095.05 1095.02 1096.59 1095.6 1098.14 1096.21 1099.68 1096.83 1101.23 1097.46 1102.77 1098.1 1104.32 1098.75 1105.86 1099.4 1107.41 1100.06 1108.95 1100.73 1110.5 1101.4 1112.05 1102.05 1113.59 1102.69 1115.14 1103.29 1116.68 1103.83 1118.23 1104.31 1119.77 1104.7 1121.32 1105.01 1122.86 1105.23 1124.41 1105.37 1125.95 1105.45 1127.5 1105.49 1129.05 1105.51 1130.59 1105.54 1132.14 1105.58 1133.68 1105.64 1135.23 1105.74 1136.77 1105.87 1138.32 1106.03 1139.86 1106.24 1141.41 1106.52 1142.95 1106.9 1144.5 1107.42 1146.05 1108.12 1147.59 1109.06 1149.14 1110.27 1150.68 1111.78 1152.23 1113.62 1153.77 1115.77 1155.32 1118.23 1156.86 1120.97 1158.41 1123.96 1159.95 1127.15 1161.5 1130.52 1163.05 1134.04 1164.59 1137.67 1166.14 1141.4 1167.68 1145.2 1169.23 1149.05 1170.77 1152.94 1172.32 1156.82 1173.86 1160.68 1175.41 1164.48 1176.95 1168.18 1178.5 1171.75 1180.05 1175.17 1181.59 1178.39 1183.14 1181.4 1184.68 1184.17 1186.23 1186.69 1187.77 1188.96 1189.32 1190.98 1190.86 1192.74 1192.41 1194.26 1193.95 1195.55 1195.5 1196.63 1197.05 1197.52 1198.59 1198.24 1200.14 1198.81 1201.68 1199.26 1203.23 1199.6 1204.77 1199.86 1206.32 1200.06 1207.86 1200.2 1209.41 1200.29 1210.95 1200.36 1212.5 1200.41Z" fill="#F5DEB3" stroke="#000" stroke-width="1.1" stroke-linejoin="round"/><path d="M938.46 1220.24V687.8" stroke="#006400" stroke-width="1.5" stroke-dasharray="6 6" stroke-linecap="round" fill="none"/><path d="M992.54 1220.24V687.8" stroke="#006400" stroke-width="1.5" stroke-dasharray="6 6" stroke-linecap="round" fill="none"/><rect x="699.76" y="687.8" width="532.44" height="532.44" fill="none" stroke="#000" stroke-width="0.75"/><path d="M717.76 1220.24H1213.24M717.76 1220.24v6.4M800.34 1220.24v6.4M882.92 1220.24v6.4M965.5 1220.24v6.4M1048.08 1220.24v6.4M1130.66 1220.24v6.4M1213.24 1220.24v6.4M699.76 695.1V1200.5M699.76 1200.5h-6.4M699.76 1128.3h-6.4M699.76 1056.1h-6.4M699.76 983.9h-6.4M699.76 911.7h-6.4M699.76 839.5h-6.4M699.76 767.3h-6.4M699.76 695.1h-6.4" fill="none" stroke="#000" stroke-width="0.75"/><text transform="translate(717.76 1241.8) scale(1.035 1.09)" font-size="9.96" text-anchor="middle">-600</text><text transform="translate(800.34 1241.8) scale(1.035 1.09)" font-size="9.96" text-anchor="middle">-400</text><text transform="translate(882.92 1241.8) scale(1.035 1.09)" font-size="9.96" text-anchor="middle">-200</text><text transform="translate(965.5 1241.8) scale(1.035 1.09)" font-size="9.96" text-anchor="middle">0</text><text transform="translate(1048.08 1241.8) scale(1.035 1.09)" font-size="9.96" text-anchor="middle">200</text><text transform="translate(1130.66 1241.8) scale(1.035 1.09)" font-size="9.96" text-anchor="middle">400</text><text transform="translate(1213.24 1241.8) scale(1.035 1.09)" font-size="9.96" text-anchor="middle">600</text><text transform="translate(685 1201) rotate(-90) scale(1.08 1.14)" font-size="9.96" text-anchor="middle">0.0000</text><text transform="translate(685 1128.8) rotate(-90) scale(1.08 1.14)" font-size="9.96" text-anchor="middle">0.0005</text><text transform="translate(685 1056.6) rotate(-90) scale(1.08 1.14)" font-size="9.96" text-anchor="middle">0.0010</text><text transform="translate(685 984.4) rotate(-90) scale(1.08 1.14)" font-size="9.96" text-anchor="middle">0.0015</text><text transform="translate(685 912.2) rotate(-90) scale(1.08 1.14)" font-size="9.96" text-anchor="middle">0.0020</text><text transform="translate(685 840) rotate(-90) scale(1.08 1.14)" font-size="9.96" text-anchor="middle">0.0025</text><text transform="translate(685 767.8) rotate(-90) scale(1.08 1.14)" font-size="9.96" text-anchor="middle">0.0030</text><text transform="translate(685 695.6) rotate(-90) scale(1.08 1.14)" font-size="9.96" text-anchor="middle">0.0035</text><text transform="translate(965.98 671.3) scale(1 1.02)" font-size="21.5" text-anchor="middle" font-weight="bold">Enrichment zone: 65.50</text><text transform="translate(965.98 1265.9) scale(1 1.04)" font-size="15.94" text-anchor="middle">Distance to peak summit</text><text transform="translate(662.2 954.02) rotate(-90) scale(0.99 1.07)" font-size="15.94" text-anchor="middle">Density</text><path d="M1017 703.4H1041.5" stroke="#006400" stroke-width="1.3" stroke-dasharray="1.1 3.4" stroke-linecap="round" fill="none"/><path d="M1017 718.9H1041.5" stroke="#CD2626" stroke-width="1.3" stroke-dasharray="1.1 3.4" stroke-linecap="round" fill="none" opacity="0.8"/><circle cx="1029.2" cy="734.6" r="3" fill="#0000ff"/><text x="1052.1" y="708" font-size="12.9" text-anchor="start">enrichment zone = 65.5</text><text x="1052.1" y="723.6" font-size="12.9" text-anchor="start">motif score threshold = 76.100</text><text x="1052.1" y="739.1" font-size="12.9" text-anchor="start">centrality p-val = -13.9364</text></svg></div></body></html>
